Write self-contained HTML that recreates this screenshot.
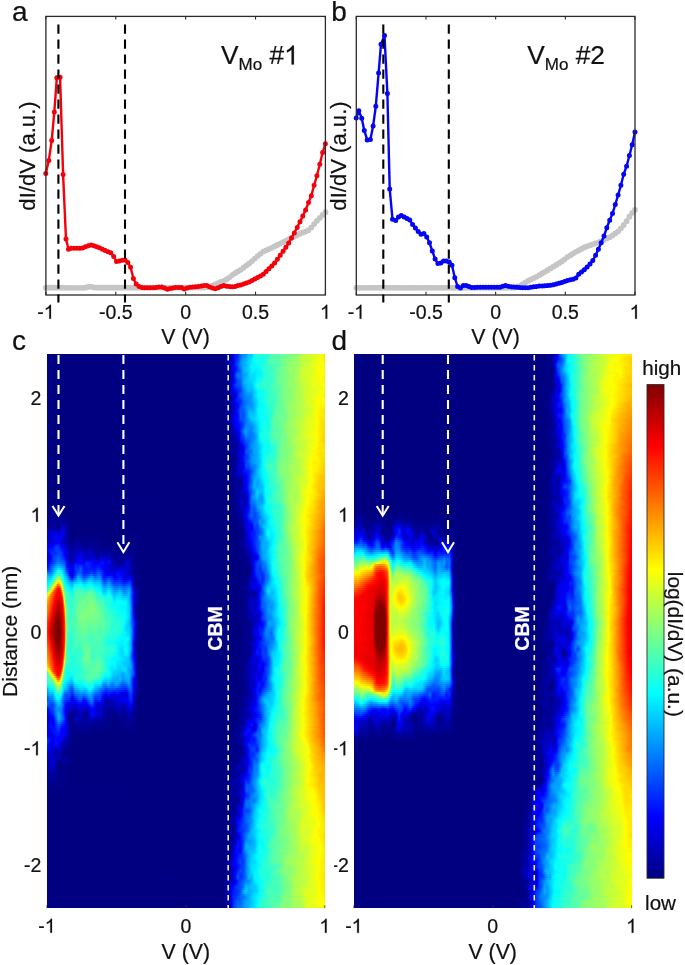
<!DOCTYPE html><html><head><meta charset="utf-8"><title>figure</title><style>html,body{margin:0;padding:0;background:#fff}body{position:relative;width:685px;height:965px;overflow:hidden}svg{display:block;position:absolute;left:0;top:0;will-change:transform}.hm{position:absolute;overflow:hidden;filter:blur(.45px)}.hm i{display:block;height:2px}</style></head><body><div class="hm" style="left:47px;top:354px;width:278px;height:554px"><i style="background:linear-gradient(90deg,#000080,#000080 62.8%,#00008f 63.8%,#00008f 65.3%,#0000b0 66%,#0000eb 66.7%,#0002ff 67.1%,#001dff 67.8%,#0016ff 68.5%,#006cff 69.6%,#007dff 70%,#008fff 70.7%,#0090ff 71.4%,#00c6ff 72.5%,#00c9ff 73.6%,#00f4ff 74.3%,#18ffe7 75%,#25ffda 76.4%,#14ffeb 77.5%,#25ffda 79.7%,#53ffac 80.8%,#57ffa8 81.1%,#54ffab 83.3%,#73ff8c 85.4%,#7bff84 87.6%,#8dff72 88.7%,#85ff7a 89.7%,#bcff43 91.9%,#ebff14 97.7%,#f8ff07 98.4%,#ffe800)"></i><i style="background:linear-gradient(90deg,#000080,#000080 62.8%,#009 65.3%,#0000bd 66.4%,#0000f0 67.1%,#000dff 67.4%,#001dff 67.8%,#02f 68.5%,#0083ff 70%,#009eff 71.4%,#00cbff 72.5%,#00d2ff 73.6%,#00faff 74.3%,#1affe5 75.4%,#16ffe9 77.5%,#1effe1 78.6%,#57ffa8 81.1%,#53ffac 83.3%,#76ff89 85.4%,#8fff70 89.7%,#bfff40 91.9%,#d4ff2b 95.1%,#f9ff06 98.4%,#ffe900)"></i><i style="background:linear-gradient(90deg,#000080,#000080 62.8%,#00009a 64.9%,#0000ac 65.6%,#0000ac 66.4%,#0000b9 66.7%,#0000df 67.1%,#0006ff 67.4%,#001eff 67.8%,#0030ff 68.5%,#008bff 70%,#00edff 73.9%,#01fffe 74.3%,#17ffe8 75%,#12ffed 76.1%,#20ffdf 78.6%,#43ffbc 79.7%,#5bffa4 81.5%,#5fa 83.6%,#78ff87 85.4%,#a2ff5d 90.5%,#c3ff3c 91.9%,#c7ff38 93.7%,#faff05 98.4%,#ffea00)"></i><i style="background:linear-gradient(90deg,#000080,#000080 62.8%,#0000ae 65.6%,#0000ab 66.4%,#0000b7 66.7%,#00d 67.1%,#0004ff 67.4%,#001eff 67.8%,#0039ff 68.5%,#0091ff 70%,#00f3ff 73.9%,#02fffd 74.3%,#12ffed 75%,#0efff1 76.4%,#21ffde 78.6%,#47ffb8 79.7%,#5affa5 81.5%,#52ffad 83.3%,#78ff87 85.4%,#a4ff5b 90.5%,#c5ff3a 91.9%,#c6ff39 93.7%,#fdff02 98.7%,#ffed00)"></i><i style="background:linear-gradient(90deg,#000080,#000080 62.8%,#0000a8 65.6%,#0000bd 66.4%,#0000eb 67.1%,#0009ff 67.4%,#003eff 68.5%,#0071ff 69.2%,#0096ff 70%,#00feff 74.3%,#23ffdc 78.6%,#40ffbf 79.7%,#54ffab 81.5%,#4dffb2 82.9%,#71ff8e 84.7%,#a3ff5c 90.5%,#c8ff37 92.3%,#c7ff38 93.7%,#dbff24 94.8%,#feff01 99.1%,#fff100)"></i><i style="background:linear-gradient(90deg,#000080,#000080 62.8%,#0000a2 65.6%,#0000fa 67.1%,#0041ff 68.5%,#0076ff 69.2%,#009aff 70%,#0bf 71.8%,#00faff 73.6%,#00fdff 75.7%,#23ffdc 77.5%,#25ffda 78.6%,#4effb1 81.5%,#4cffb3 82.9%,#70ff8f 84.4%,#76ff89 85.8%,#90ff6f 86.9%,#91ff6e 88.7%,#a2ff5d 90.5%,#d0ff2f 92.6%,#c9ff36 93.7%,#e0ff1f 94.8%,#faff05 99.1%,#fff600)"></i><i style="background:linear-gradient(90deg,#000080,#000080 62.8%,#000097 65.6%,#0000e8 66.7%,#0000f7 67.1%,#0014ff 67.8%,#007eff 69.6%,#00adff 70.7%,#00bfff 71.8%,#00faff 73.6%,#00f5ff 75%,#00fdff 76.1%,#28ffd7 77.9%,#4fffb0 82.6%,#7f8 84.7%,#78ff87 85.8%,#92ff6d 86.9%,#98ff67 89.7%,#cf3 92.3%,#cf3 93.7%,#f8ff07 97.7%,#fff800)"></i><i style="background:linear-gradient(90deg,#000080,#000081 64.9%,#00008d 65.6%,#0000e5 66.7%,#0000f9 67.4%,#0008ff 67.8%,#00afff 70.7%,#00cfff 72.5%,#00f9ff 73.6%,#00f0ff 75%,#00faff 76.4%,#03fffc 76.8%,#27ffd8 77.9%,#3dffc2 81.1%,#73ff8c 84.4%,#7bff84 85.8%,#98ff67 87.2%,#96ff69 89.7%,#cbff34 91.9%,#deff21 95.9%,#fdff02 97.7%,#fff900)"></i><i style="background:linear-gradient(90deg,#000080,#000080 65.3%,#00009d 66%,#0000df 66.7%,#0000fa 67.4%,#0068ff 69.6%,#00afff 70.7%,#00ceff 72.5%,#00f7ff 73.6%,#00e9ff 74.6%,#00faff 76.8%,#24ffdb 77.9%,#40ffbf 81.5%,#61ff9e 82.9%,#7cff83 85.8%,#9bff64 87.6%,#97ff68 89.7%,#c9ff36 91.5%,#d8ff27 95.1%,#fffe00 97.7%,#fff900)"></i><i style="background:linear-gradient(90deg,#000080,#000080 64.6%,#00008c 65.6%,#00009c 66%,#0000f2 67.1%,#000dff 67.4%,#0057ff 68.5%,#006fff 69.6%,#00a9ff 70.7%,#00b1ff 71.8%,#00efff 73.6%,#00e2ff 74.6%,#00f5ff 75.7%,#00f7ff 76.8%,#24ffdb 78.2%,#45ffba 81.5%,#76ff89 84.7%,#7bff84 85.8%,#97ff68 87.6%,#9cff63 89.7%,#cf3 91.9%,#d9ff26 94.8%,#feff01 97.7%,#fff600)"></i><i style="background:linear-gradient(90deg,#000080,#000080 63.1%,#000091 65.6%,#0000b1 66.4%,#0000f6 67.1%,#0072ff 68.5%,#0076ff 69.6%,#00a3ff 70.7%,#00a4ff 71.8%,#00cdff 72.5%,#00e3ff 73.2%,#00daff 74.6%,#00f7ff 75.7%,#00f5ff 76.8%,#02fffd 77.2%,#28ffd7 78.6%,#2bffd4 79.7%,#43ffbc 80.8%,#53ffac 82.9%,#75ff8a 84.7%,#a1ff5e 89.7%,#d4ff2b 92.6%,#ff0 99.1%,#fff300)"></i><i style="background:linear-gradient(90deg,#000080,#000080 63.1%,#000085 64.6%,#000098 65.6%,#0000b2 66.4%,#0000ef 67.1%,#0014ff 67.4%,#0067ff 68.5%,#006fff 69.6%,#00a3ff 70.7%,#00aeff 71.8%,#00ceff 72.5%,#00dfff 73.2%,#00daff 74.6%,#00faff 75.7%,#00fcff 76.8%,#31ffce 78.6%,#2effd1 80%,#7f8 84.7%,#7eff81 86.5%,#d2ff2d 92.6%,#fcff03 98.7%,#fff100)"></i><i style="background:linear-gradient(90deg,#000080,#000080 63.8%,#00008b 64.9%,#0000a8 66%,#0000c9 66.7%,#0000e6 67.1%,#0006ff 67.4%,#0053ff 68.5%,#0063ff 69.6%,#00a5ff 70.7%,#00b0ff 71%,#00daff 73.2%,#0df 74.6%,#00feff 75.7%,#06fff9 76.8%,#3bffc4 78.6%,#2bffd4 79.7%,#2effd1 80.8%,#6dff92 83.6%,#7aff85 86.2%,#96ff69 87.6%,#96ff69 88.7%,#c8ff37 91.9%,#feff01 98.7%,#fff000)"></i><i style="background:linear-gradient(90deg,#000080,#000080 64.2%,#0000ab 66%,#0000e7 67.1%,#0003ff 67.4%,#0047ff 68.5%,#005bff 69.6%,#00a6ff 70.7%,#00c0ff 71.4%,#00e1ff 74.6%,#00faff 75.4%,#10ffef 76.8%,#3fffc0 78.6%,#2bffd4 79.7%,#2cffd3 80.8%,#71ff8e 83.6%,#7f8 85.8%,#97ff68 87.6%,#95ff6a 88.7%,#caff35 92.3%,#ff0 98.7%,#fff200)"></i><i style="background:linear-gradient(90deg,#000080,#000080 64.2%,#008 64.9%,#00a 66%,#0000f9 67.1%,#0049ff 68.5%,#0057ff 69.6%,#00a6ff 70.7%,#00b1ff 71%,#00cfff 73.6%,#00f7ff 75%,#14ffeb 75.7%,#1bffe4 76.8%,#37ffc8 77.9%,#2fffd0 80%,#6dff92 83.6%,#76ff89 85.4%,#94ff6b 87.6%,#98ff67 89%,#c6ff39 91.9%,#ebff14 95.9%,#fff900)"></i><i style="background:linear-gradient(90deg,#000080,#000080 64.2%,#009 65.6%,#00a 66%,#0000ed 66.7%,#000cff 67.1%,#0026ff 67.4%,#04f 68.2%,#0054ff 69.6%,#00a3ff 70.7%,#00c3ff 72.5%,#00c6ff 73.6%,#0ef 74.6%,#01fffe 75%,#21ffde 75.7%,#24ffdb 76.8%,#37ffc8 77.5%,#2dffd2 79.7%,#51ffae 81.5%,#6bff94 84.7%,#8dff72 86.9%,#9dff62 89.7%,#c0ff3f 91.5%,#d9ff26 94.8%,#f1ff0e 95.9%,#ebff14 97.3%,#fdff02 98.7%,#ff0)"></i><i style="background:linear-gradient(90deg,#000080,#000080 63.5%,#000084 64.6%,#009 65.6%,#0000ab 66%,#0000f4 66.7%,#000cff 67.1%,#0036ff 68.2%,#004bff 69.6%,#0096ff 70.7%,#00a2ff 71%,#00c3ff 72.5%,#00bfff 73.6%,#00f8ff 75%,#18ffe7 75.7%,#2dffd2 77.5%,#2fffd0 79.7%,#50ffaf 81.5%,#52ffad 82.6%,#80ff7f 85.8%,#9fff60 89.7%,#b8ff47 91.2%,#ecff13 95.9%,#e7ff18 97.3%,#fffd00)"></i><i style="background:linear-gradient(90deg,#000080,#000080 63.1%,#009 65.6%,#0000ab 66%,#0000f2 66.7%,#0001ff 67.1%,#0040ff 69.6%,#0082ff 70.7%,#00c3ff 72.5%,#00baff 73.6%,#00d7ff 74.6%,#00f7ff 75.4%,#05fffa 75.7%,#4bffb4 81.5%,#50ffaf 82.9%,#7fff80 85.4%,#84ff7b 86.9%,#d4ff2b 93.7%,#e0ff1f 96.9%,#fff800)"></i><i style="background:linear-gradient(90deg,#000080,#000080 63.1%,#00009a 65.6%,#0000a9 66%,#0000e6 66.7%,#0000f8 67.8%,#003dff 69.6%,#0086ff 71%,#00bcff 72.5%,#00b2ff 73.6%,#00b9ff 73.9%,#00f6ff 75.7%,#01fffe 76.1%,#10ffef 77.9%,#34ffcb 79.7%,#4dffb2 82.9%,#7eff81 85.1%,#80ff7f 86.9%,#d4ff2b 93.7%,#dfff20 96.9%,#fbff04 99.1%,#fff400)"></i><i style="background:linear-gradient(90deg,#000080,#000080 63.1%,#0000a3 66%,#0000c6 66.7%,#0000d3 67.4%,#0000fc 68.2%,#004bff 69.6%,#0092ff 71.4%,#00a8ff 72.5%,#00a5ff 73.6%,#0ff 76.1%,#0dfff2 77.9%,#2fd 78.6%,#3dffc2 80.8%,#4effb1 82.9%,#79ff86 84.7%,#81ff7e 86.9%,#a9ff56 89.7%,#b0ff4f 91.2%,#d7ff28 93.7%,#e4ff1b 96.6%,#fffe00 99.1%,#fff000)"></i><i style="background:linear-gradient(90deg,#000080,#000080 63.5%,#0000af 67.1%,#00b 67.4%,#0000f4 68.2%,#0015ff 68.5%,#0058ff 69.6%,#0095ff 71.8%,#09f 73.6%,#00d5ff 74.6%,#00f4ff 75.7%,#01fffe 76.1%,#0efff1 76.8%,#0dfff2 77.9%,#21ffde 78.6%,#3dffc2 80.8%,#3fffc0 81.8%,#7f8 84.7%,#94ff6b 88.7%,#af5 89.7%,#a7ff58 90.8%,#d9ff26 93.7%,#ff0 98.7%,#fe0)"></i><i style="background:linear-gradient(90deg,#000080,#000080 63.5%,#0000a2 66.7%,#0000c7 67.4%,#0000fe 68.2%,#003eff 69.2%,#007cff 71%,#09f 73.6%,#00cfff 74.6%,#00fcff 76.1%,#0efff1 77.9%,#35ffca 80%,#3cffc3 81.8%,#76ff89 84.7%,#90ff6f 88.3%,#a7ff58 89.7%,#a9ff56 90.8%,#df2 93.7%,#d9ff26 94.8%,#feff01 98%,#fff400)"></i><i style="background:linear-gradient(90deg,#000080,#000080 63.5%,#00009f 66.4%,#0000a9 66.7%,#0000fc 67.8%,#0020ff 68.5%,#0037ff 69.6%,#006cff 70.7%,#009eff 73.6%,#00f7ff 76.1%,#14ffeb 78.2%,#3bffc4 79.7%,#37ffc8 81.5%,#74ff8b 84.7%,#c1ff3e 92.6%,#e0ff1f 93.7%,#d7ff28 94.8%,#feff01 97.7%,#fffe00)"></i><i style="background:linear-gradient(90deg,#000080,#000080 63.5%,#0000a1 66.4%,#0000b0 66.7%,#0000f2 67.4%,#000aff 67.8%,#001dff 68.5%,#0027ff 69.6%,#0067ff 70.7%,#0075ff 71.8%,#00baff 74.6%,#00feff 76.4%,#17ffe8 78.6%,#40ffbf 79.7%,#36ffc9 81.5%,#68ff97 84%,#8f7 86.5%,#bfff40 92.6%,#e1ff1e 93.7%,#d6ff29 94.8%,#ff0 97.7%,#fbff04)"></i><i style="background:linear-gradient(90deg,#000080,#000080 63.5%,#00009d 66%,#0000f9 68.2%,#0003ff 68.5%,#002cff 69.6%,#0062ff 70.7%,#009eff 73.9%,#00f9ff 76.4%,#06fff9 77.9%,#39ffc6 79.7%,#32ffcd 81.1%,#71ff8e 84.7%,#c3ff3c 92.6%,#daff25 93.7%,#dbff24 95.1%,#fffe00 97.7%,#fffb00)"></i><i style="background:linear-gradient(90deg,#000080,#000080 63.5%,#000097 65.6%,#0000c0 66.7%,#00e 68.5%,#0006ff 68.9%,#0049ff 70%,#0082ff 71.8%,#0093ff 72.5%,#008fff 73.6%,#00f7ff 76.4%,#00feff 77.9%,#2effd1 79.7%,#2dffd2 80.8%,#5bffa4 82.9%,#96ff69 87.6%,#aeff51 90.8%,#fffe00 97.7%,#fff000)"></i><i style="background:linear-gradient(90deg,#000080,#000080 63.5%,#0000a1 66%,#0000c0 66.7%,#0000d8 67.8%,#0000f3 68.5%,#000dff 68.9%,#0043ff 69.6%,#0093ff 72.1%,#009eff 72.8%,#0093ff 73.6%,#00f1ff 76.1%,#00feff 76.8%,#00fbff 77.5%,#1dffe2 79%,#2fffd0 80.8%,#58ffa7 82.6%,#62ff9d 84%,#9f6 87.6%,#b5ff4a 91.5%,#fcff03 97.3%,#ffe900)"></i><i style="background:linear-gradient(90deg,#000080,#000080 63.5%,#00a 66.4%,#0000f4 68.2%,#0007ff 68.5%,#004cff 69.6%,#005aff 70.7%,#00a7ff 72.5%,#00a2ff 73.9%,#00b8ff 74.6%,#00edff 75.7%,#0ff 76.4%,#20ffdf 79.7%,#59ffa6 82.6%,#5fffa0 84%,#9f6 87.6%,#b8ff47 91.9%,#e3ff1c 95.9%,#ff0 97.3%,#ffe300)"></i><i style="background:linear-gradient(90deg,#000080,#000080 63.5%,#0000a8 66.4%,#0001ff 68.2%,#0053ff 69.6%,#0054ff 70.7%,#0070ff 71.4%,#00afff 72.5%,#00b5ff 72.8%,#00a9ff 73.6%,#00b1ff 74.3%,#00fdff 76.1%,#1bffe4 79.7%,#59ffa6 82.6%,#6f9 84.7%,#9f6 87.6%,#b8ff47 91.9%,#e2ff1d 95.9%,#faff05 96.9%,#ffdf00)"></i><i style="background:linear-gradient(90deg,#000080,#000080 63.5%,#0000ad 66.4%,#0000f6 68.2%,#0007ff 68.5%,#05f 69.6%,#004fff 70.7%,#005aff 71%,#00b0ff 72.5%,#0bf 72.8%,#00c2ff 74.6%,#00f9ff 76.1%,#18ffe7 79.7%,#5cffa3 82.6%,#6eff91 85.4%,#96ff69 87.6%,#b4ff4b 91.5%,#d4ff2b 93.7%,#e0ff1f 95.5%,#feff01 96.9%,#ffe100)"></i><i style="background:linear-gradient(90deg,#000080,#000080 63.5%,#0000a8 66%,#0000d4 67.1%,#0000f7 68.5%,#0015ff 68.9%,#0056ff 69.6%,#004bff 70.7%,#05f 71%,#00bfff 72.8%,#00c9ff 74.6%,#00fdff 76.4%,#17ffe8 79.7%,#4dffb2 81.5%,#70ff8f 83.6%,#6fff90 85.8%,#8eff71 86.9%,#b3ff4c 91.5%,#d1ff2e 93%,#deff21 95.1%,#fffc00 96.9%,#ffe300)"></i><i style="background:linear-gradient(90deg,#000080,#000080 63.5%,#0000a0 65.6%,#0000b7 66.4%,#0000df 67.1%,#0000f9 68.5%,#0014ff 68.9%,#0054ff 69.6%,#004eff 70.7%,#0058ff 71%,#00abff 72.5%,#00c6ff 73.2%,#00cfff 74.6%,#0ff 76.8%,#16ffe9 79.7%,#52ffad 81.5%,#70ff8f 83.6%,#7f8 84.7%,#6fff90 85.8%,#8fff70 86.9%,#9aff65 88.7%,#adff52 89.7%,#b5ff4a 91.5%,#d3ff2c 93%,#e4ff1b 95.5%,#fffc00 96.9%,#ffe300)"></i><i style="background:linear-gradient(90deg,#000080,#000080 63.5%,#00009d 65.6%,#0000b8 66.4%,#0000e6 67.1%,#0000fe 68.5%,#004aff 69.6%,#0053ff 70.7%,#00c6ff 73.6%,#00fbff 76.8%,#12ffed 79.3%,#5dffa2 81.8%,#75ff8a 84.7%,#71ff8e 85.8%,#96ff69 87.2%,#bcff43 91.9%,#dfff20 93.7%,#e5ff1a 95.5%,#fffe00 96.9%,#ffe600 98.7%,#ffe100)"></i><i style="background:linear-gradient(90deg,#000080,#000080 63.8%,#000098 65.6%,#0000b5 66.4%,#0000e5 67.1%,#0000f3 67.4%,#0000fe 68.5%,#0039ff 69.6%,#0053ff 70.7%,#00b6ff 73.6%,#0ff 77.2%,#16ffe9 79.3%,#39ffc6 80.8%,#5fffa0 81.8%,#5fffa0 83.6%,#74ff8b 84.7%,#76ff89 85.8%,#9eff61 87.6%,#a8ff57 89.4%,#c2ff3d 90.8%,#c0ff3f 91.9%,#e1ff1e 93.7%,#e5ff1a 95.5%,#feff01 97.3%,#ffe200 98.7%,#ffdf00)"></i><i style="background:linear-gradient(90deg,#000080,#000080 63.8%,#000095 65.6%,#0000ae 66.4%,#0000f4 67.4%,#00f 68.5%,#004bff 70.7%,#0083ff 71.8%,#00a1ff 73.6%,#00f9ff 76.8%,#0ffff0 77.5%,#18ffe7 79.7%,#61ff9e 81.8%,#5fffa0 83.3%,#c1ff3e 90.8%,#c3ff3c 91.9%,#e0ff1f 93.7%,#e9ff16 95.9%,#ff0 97.3%,#ffe300 98.7%,#ffda00)"></i><i style="background:linear-gradient(90deg,#000080,#000080 63.8%,#00009a 66%,#0000b9 66.7%,#0000f3 67.4%,#00f 68.5%,#000dff 69.2%,#03f 70.3%,#0089ff 71.8%,#008cff 73.6%,#00aeff 74.6%,#0df 75.7%,#00faff 76.8%,#1affe5 77.9%,#1fe 79.7%,#5dffa2 81.5%,#62ff9d 81.8%,#5affa5 82.9%,#87ff78 85.8%,#c6ff39 91.9%,#dcff23 93%,#e8ff17 95.9%,#fcff03 96.9%,#ffd500)"></i><i style="background:linear-gradient(90deg,#000080,#000080 63.8%,#000098 66%,#0000b2 66.7%,#0000e6 67.4%,#0000fc 68.5%,#0009ff 69.2%,#0018ff 69.6%,#004cff 70.7%,#0084ff 71.4%,#008fff 71.8%,#0082ff 73.6%,#00faff 76.8%,#1effe1 77.9%,#10ffef 79.7%,#5bffa4 81.5%,#5affa5 82.9%,#8bff74 85.8%,#adff52 89.7%,#d8ff27 92.6%,#eaff15 95.9%,#fdff02 96.9%,#ffd400)"></i><i style="background:linear-gradient(90deg,#000080,#000080 63.8%,#000098 66%,#0000fe 68.9%,#001cff 69.6%,#0092ff 71.4%,#0082ff 73.6%,#00f9ff 76.8%,#1effe1 77.9%,#15ffea 79.7%,#43ffbc 80.8%,#5fa 81.5%,#6aff95 84.4%,#89ff76 85.8%,#abff54 89.7%,#d6ff29 92.6%,#edff12 95.9%,#ff0 96.9%,#ffd600)"></i><i style="background:linear-gradient(90deg,#000080,#000080 63.8%,#00008b 65.3%,#0000b9 67.4%,#0000fa 68.9%,#0008ff 69.2%,#008dff 71%,#009eff 71.4%,#007bff 73.2%,#00a6ff 74.6%,#00f9ff 76.8%,#21ffde 78.2%,#1affe5 79.7%,#48ffb7 80.8%,#4effb1 81.1%,#60ff9f 84%,#86ff79 85.8%,#a8ff57 89.7%,#d4ff2b 92.6%,#fffd00 96.9%,#ffd700)"></i><i style="background:linear-gradient(90deg,#000080,#000080 63.8%,#000089 65.3%,#0000a4 66.7%,#0000bf 67.8%,#0000fd 69.2%,#0098ff 71.4%,#0078ff 72.8%,#007bff 73.6%,#0098ff 74.6%,#00efff 76.4%,#03fffc 76.8%,#1effe1 77.9%,#1fffe0 79.7%,#4affb5 80.8%,#4fffb0 81.1%,#60ff9f 82.6%,#60ff9f 84%,#94ff6b 86.9%,#a9ff56 89.7%,#d5ff2a 92.6%,#fdff02 96.9%,#ffd300)"></i><i style="background:linear-gradient(90deg,#000080,#000080 64.2%,#0000a1 66.7%,#0000cd 68.5%,#0000f7 69.2%,#001cff 69.6%,#0052ff 70.7%,#008bff 71.4%,#0074ff 73.2%,#008bff 74.6%,#00bfff 75.7%,#00f5ff 76.4%,#1dffe2 77.5%,#19ffe6 79.3%,#48ffb7 80.8%,#6f9 82.6%,#61ff9e 84%,#7aff85 85.8%,#97ff68 86.9%,#af5 89.7%,#c1ff3e 90.8%,#eaff15 94.1%,#fffe00 97.3%,#ffd100)"></i><i style="background:linear-gradient(90deg,#000080,#000080 64.2%,#000096 66.4%,#0000b7 67.4%,#0000c1 68.5%,#0000f4 69.2%,#001bff 69.6%,#0041ff 70.7%,#0078ff 71.4%,#0073ff 73.2%,#0089ff 74.6%,#00bcff 75.7%,#00f3ff 76.4%,#09fff6 76.8%,#1bffe4 77.5%,#17ffe8 79.3%,#4fb 80.8%,#4fffb0 81.8%,#62ff9d 82.6%,#5effa1 83.6%,#71ff8e 84.7%,#76ff89 85.8%,#93ff6c 86.9%,#acff53 88.7%,#aeff51 89.7%,#e6ff19 93.7%,#ff0 97.3%,#ffdf00 98.7%,#ffd100)"></i><i style="background:linear-gradient(90deg,#000080,#000080 64.2%,#000095 66.7%,#0000b9 67.8%,#0000b5 68.5%,#00e 69.2%,#0016ff 69.6%,#0034ff 70.7%,#0063ff 71.4%,#0071ff 73.2%,#0092ff 74.6%,#00beff 75.7%,#00fcff 76.8%,#14ffeb 77.5%,#16ffe9 79.3%,#42ffbd 80.8%,#5dffa2 83.6%,#74ff8b 84.7%,#75ff8a 85.8%,#adff52 88.7%,#fdff02 97.3%,#fd0 98.7%,#ffd200)"></i><i style="background:linear-gradient(90deg,#000080,#000080 64.2%,#00008f 66.7%,#0000b4 67.8%,#00a 68.5%,#0000c0 68.9%,#0000e5 69.2%,#000eff 69.6%,#0028ff 70.7%,#004eff 71.4%,#006fff 73.2%,#00a7ff 75%,#00f0ff 76.8%,#01fffe 77.2%,#15ffea 78.2%,#18ffe7 79.7%,#3effc1 80.8%,#41ffbe 81.8%,#5cffa3 83.6%,#7f8 84.7%,#7eff81 86.5%,#b6ff49 89.4%,#b7ff48 90.8%,#d5ff2a 92.6%,#deff21 94.8%,#fcff03 97.3%,#ffdc00 98.7%,#ffd400)"></i><i style="background:linear-gradient(90deg,#000080,#000080 64.2%,#000092 66.7%,#00a 67.8%,#0000a3 68.5%,#0000b5 68.9%,#0000f4 69.6%,#000eff 70.3%,#003fff 71.4%,#0085ff 73.6%,#00bcff 75.7%,#00f6ff 77.2%,#16ffe9 78.6%,#0efff1 79.7%,#36ffc9 80.8%,#39ffc6 81.8%,#78ff87 84.7%,#79ff86 85.8%,#b9ff46 89.7%,#baff45 90.8%,#fbff04 96.9%,#ffe000 98.7%,#ffd700)"></i><i style="background:linear-gradient(90deg,#000080,#000080 64.6%,#00009f 67.4%,#00009d 68.5%,#0000fc 70.3%,#0091ff 73.6%,#00afff 75.4%,#0ff 77.9%,#14ffeb 78.6%,#05fffa 79.7%,#2cffd3 80.8%,#32ffcd 81.8%,#78ff87 84.7%,#7cff83 85.8%,#90ff6f 86.9%,#8fff70 87.9%,#b7ff48 89.7%,#c8ff37 92.6%,#deff21 93.7%,#fffe00 96.9%,#ffda00)"></i><i style="background:linear-gradient(90deg,#000080,#000080 28.6%,#000095 29.3%,#000080 30%,#000080 64.6%,#00009b 66.7%,#00009c 68.5%,#0000fc 70.7%,#003fff 71.8%,#0090ff 73.6%,#00b4ff 75.7%,#00fbff 77.9%,#1fe 78.6%,#01fffe 79.7%,#24ffdb 80.8%,#2cffd3 81.8%,#79ff86 84.7%,#7dff82 85.8%,#91ff6e 86.9%,#8aff75 87.9%,#baff45 90.1%,#c6ff39 92.6%,#df2 93.7%,#feff01 96.6%,#ffe800 98%,#ffde00)"></i><i style="background:linear-gradient(90deg,#000080,#000080 64.6%,#00009f 66.7%,#009 68.2%,#0000a1 68.5%,#0000db 69.6%,#0000ea 70.7%,#000dff 71%,#004cff 71.8%,#00a9ff 74.6%,#00b1ff 75.7%,#00feff 77.9%,#0dfff2 78.6%,#05fffa 79.7%,#1fffe0 80.8%,#27ffd8 81.8%,#6f9 83.6%,#74ff8b 84.4%,#8bff74 87.9%,#c5ff3a 90.8%,#c9ff36 92.6%,#ff0 96.2%,#ffe800 98%,#ffe100)"></i><i style="background:linear-gradient(90deg,#000080,#000080 64.6%,#000087 65.6%,#0000a3 66.7%,#00009e 68.2%,#0000e6 69.6%,#0000d7 70.3%,#0000de 70.7%,#000bff 71%,#003cff 71.4%,#005bff 71.8%,#0071ff 73.6%,#00abff 74.6%,#00afff 75.7%,#00faff 77.5%,#20ffdf 81.5%,#75ff8a 84%,#89ff76 87.6%,#c6ff39 90.8%,#c5ff3a 91.9%,#e2ff1d 94.8%,#fffd00 95.9%,#ffe200)"></i><i style="background:linear-gradient(90deg,#000080,#000080 64.6%,#00009a 66.7%,#00009a 67.8%,#0000e1 69.6%,#0000ec 70.7%,#01f 71%,#0039ff 71.4%,#0052ff 71.8%,#0078ff 73.6%,#00a6ff 74.6%,#00afff 75.7%,#00f7ff 77.5%,#28ffd7 80.8%,#25ffda 81.8%,#6eff91 83.6%,#73ff8c 84%,#8dff72 87.6%,#c1ff3e 90.5%,#e3ff1c 94.4%,#fffe00 95.9%,#ffe200 98.7%,#ffe300)"></i><i style="background:linear-gradient(90deg,#000080,#000080 64.9%,#000090 67.4%,#0001ff 70.7%,#0043ff 71.8%,#0050ff 72.5%,#0086ff 73.6%,#00afff 75.7%,#00feff 77.9%,#31ffce 80.8%,#24ffdb 81.8%,#6cff93 83.6%,#8f7 86.9%,#bdff42 90.1%,#d2ff2d 92.6%,#feff01 95.9%,#ffe100 98.7%,#ffe300)"></i><i style="background:linear-gradient(90deg,#000080,#000080 64.9%,#00008d 67.4%,#0000c6 68.9%,#0000d4 69.6%,#0000f9 70.3%,#002fff 71.4%,#004cff 72.5%,#008fff 73.6%,#00b0ff 75.7%,#00feff 77.9%,#15ffea 78.6%,#32ffcd 80.4%,#27ffd8 81.8%,#6bff94 83.6%,#6dff92 84.7%,#baff45 89.7%,#d3ff2c 92.6%,#f8ff07 95.1%,#fff600 97.3%,#ffe000 98.7%,#ffe100)"></i><i style="background:linear-gradient(90deg,#000080,#000080 64.9%,#00008d 67.4%,#0000d4 69.6%,#0000f9 70.3%,#0032ff 71.4%,#0054ff 72.5%,#0090ff 73.6%,#00c1ff 76.4%,#00f2ff 77.5%,#03fffc 77.9%,#24ffdb 79%,#2fffd0 81.8%,#6eff91 83.6%,#72ff8d 84.7%,#87ff78 85.8%,#8aff75 86.9%,#c8ff37 91.9%,#fcff03 95.1%,#fff400 97.7%,#ffde00 98.7%,#ffd800)"></i><i style="background:linear-gradient(90deg,#000080,#000080 64.9%,#000093 67.8%,#0000f6 70.3%,#000bff 70.7%,#0036ff 71.4%,#0090ff 73.6%,#00beff 76.4%,#00f3ff 77.5%,#08fff7 77.9%,#2cffd3 79%,#2fffd0 81.5%,#71ff8e 83.6%,#c5ff3a 91.9%,#fffd00 95.1%,#fff400 95.9%,#fff500 97.7%,#ffd000)"></i><i style="background:linear-gradient(90deg,#000080,#000080 64.9%,#000097 67.8%,#0000fd 70.7%,#0049ff 71.8%,#0059ff 72.5%,#0087ff 73.6%,#00c0ff 76.4%,#00f1ff 77.5%,#08fff7 77.9%,#32ffcd 79%,#39ffc6 81.8%,#7f8 83.6%,#8dff72 86.9%,#c1ff3e 91.5%,#fffd00 95.1%,#fff200 95.9%,#fff200 97.7%,#ffcd00)"></i><i style="background:linear-gradient(90deg,#000080,#000080 65.3%,#000094 67.4%,#0000d4 69.2%,#00e 70.7%,#01f 71%,#0035ff 71.4%,#004bff 71.8%,#0050ff 72.5%,#007dff 73.6%,#0091ff 75%,#00efff 77.5%,#06fff9 77.9%,#2bffd4 78.6%,#3dffc2 79.3%,#49ffb6 80.8%,#36ffc9 81.5%,#39ffc6 81.8%,#7dff82 83.6%,#8bff74 86.5%,#a1ff5e 87.6%,#a0ff5f 88.7%,#c1ff3e 91.5%,#fffd00 95.1%,#fff200 95.9%,#fff200 97.3%,#fc0)"></i><i style="background:linear-gradient(90deg,#000080,#000080 65.3%,#00008f 67.1%,#00009f 67.8%,#0000cb 68.9%,#0000e7 70.7%,#000aff 71%,#002eff 71.4%,#04f 71.8%,#04f 72.5%,#0071ff 73.6%,#007fff 74.6%,#00efff 77.5%,#03fffc 77.9%,#3fc 79%,#4dffb2 80.4%,#3affc5 81.8%,#7eff81 83.6%,#8bff74 86.5%,#a6ff59 87.9%,#a0ff5f 88.7%,#c1ff3e 91.5%,#fffe00 95.1%,#fff300 95.9%,#fff400 96.9%,#ffcb00)"></i><i style="background:linear-gradient(90deg,#000080,#000080 65.3%,#000096 67.4%,#00009e 67.8%,#0000d4 68.9%,#0000d3 69.6%,#0000f7 70.7%,#002eff 71.8%,#003cff 72.8%,#0062ff 73.6%,#0090ff 75%,#00d3ff 76.4%,#0ff 77.9%,#2affd5 79%,#43ffbc 80.4%,#3dffc2 81.5%,#46ffb9 82.2%,#82ff7d 84%,#91ff6e 86.9%,#a3ff5c 87.6%,#beff41 91.5%,#feff01 94.8%,#fff200 96.9%,#ffc800)"></i><i style="background:linear-gradient(90deg,#000080,#000080 65.3%,#00009d 67.8%,#0000cf 68.5%,#0000da 68.9%,#00c 69.6%,#0000f4 70.3%,#0008ff 70.7%,#001eff 72.5%,#00d9ff 76.4%,#00fcff 77.9%,#1fffe0 79%,#38ffc7 80.4%,#4affb5 82.6%,#7bff84 83.6%,#81ff7e 84%,#bcff43 91.5%,#fffc00 94.8%,#ffef00 96.9%,#ffc600)"></i><i style="background:linear-gradient(90deg,#000080,#000080 65.3%,#00009e 67.8%,#00c 68.5%,#0000d4 68.9%,#0000bd 69.6%,#0001ff 70.7%,#001aff 72.5%,#008dff 74.6%,#00d7ff 76.4%,#00fcff 77.9%,#30ffcf 80%,#4cffb3 82.6%,#7bff84 84%,#bfff40 91.5%,#ff0 94.8%,#ffc600)"></i><i style="background:linear-gradient(90deg,#000080,#000080 65.6%,#000098 67.4%,#0000c5 68.5%,#0000c8 68.9%,#00a 69.6%,#0000ef 70.7%,#0000f9 71.4%,#0002ff 71.8%,#001cff 72.5%,#0075ff 73.9%,#0096ff 74.6%,#00fbff 77.9%,#05fffa 78.6%,#2cffd3 79.7%,#4affb5 82.2%,#80ff7f 84.7%,#89ff76 86.5%,#a5ff5a 87.9%,#c7ff38 91.9%,#f0ff0f 93.7%,#fffd00 95.1%,#ffc800 98.7%,#ffc600)"></i><i style="background:linear-gradient(90deg,#000080,#000080 65.6%,#00008a 66.7%,#0000b9 68.5%,#0000b8 68.9%,#00009b 69.6%,#0000e0 70.7%,#0000fa 71.8%,#001eff 72.5%,#0067ff 73.6%,#009eff 74.6%,#00c9ff 76.4%,#00f1ff 77.5%,#00feff 78.6%,#2cffd3 79.7%,#3cffc3 81.5%,#7aff85 84.7%,#82ff7d 86.2%,#a0ff5f 87.6%,#d0ff2f 92.3%,#f0ff0f 93.7%,#feff01 95.1%,#ffc800 98.4%,#ffc500)"></i><i style="background:linear-gradient(90deg,#000080,#000080 65.6%,#0000a2 68.5%,#000094 69.6%,#0000d9 70.7%,#0000f8 71.8%,#001fff 72.5%,#00a6ff 74.6%,#00b5ff 76.1%,#00f4ff 77.9%,#0ff 78.6%,#24ffdb 79.7%,#37ffc8 81.5%,#60ff9f 83.3%,#c9ff36 90.8%,#d3ff2c 92.6%,#ff0 95.1%,#fc0 98%,#ffc100)"></i><i style="background:linear-gradient(90deg,#000080,#000080 65.6%,#00009a 67.8%,#000086 69.2%,#000090 69.6%,#0000d4 70.7%,#0000f6 71.8%,#000cff 72.1%,#005eff 73.6%,#00aeff 74.6%,#00abff 76.1%,#00f7ff 78.2%,#01fffe 78.6%,#1cffe3 79.7%,#39ffc6 81.8%,#65ff9a 83.6%,#67ff98 84.7%,#97ff68 86.5%,#9eff61 87.9%,#d3ff2c 91.5%,#d4ff2b 93%,#fffd00 95.1%,#ffcb00 98%,#ffbd00)"></i><i style="background:linear-gradient(90deg,#000080,#000080 65.6%,#00009a 67.8%,#000087 69.2%,#000090 69.6%,#0000cf 70.7%,#0000f7 71.8%,#0064ff 73.6%,#00b3ff 74.6%,#00a2ff 75.7%,#00a8ff 76.1%,#00f2ff 78.2%,#01fffe 78.6%,#1bffe4 79.7%,#35ffca 81.8%,#5fffa0 83.6%,#67ff98 84.7%,#91ff6e 86.2%,#b1ff4e 89.4%,#d4ff2b 91.5%,#d8ff27 93%,#fdff02 94.8%,#ffca00 98%,#ffbd00)"></i><i style="background:linear-gradient(90deg,#000080,#000080 66%,#00009c 67.8%,#000090 69.6%,#0000f7 71.8%,#0010ff 72.1%,#00b6ff 74.6%,#00a2ff 75.7%,#00c9ff 77.5%,#00edff 78.2%,#01fffe 78.6%,#1effe1 79.7%,#2dffd2 81.5%,#5cffa3 84%,#8bff74 85.8%,#a7ff58 87.6%,#afff50 89.7%,#ceff31 91.2%,#e4ff1b 93.3%,#fbff04 94.4%,#fc0 97.7%,#ffbe00)"></i><i style="background:linear-gradient(90deg,#000080,#000080 66%,#00009b 67.8%,#000092 69.6%,#0000f4 71.8%,#0010ff 72.1%,#0060ff 73.2%,#00b4ff 74.6%,#00a7ff 75.7%,#00bdff 76.8%,#00c0ff 77.5%,#0ff 78.6%,#1effe1 79.7%,#27ffd8 81.1%,#4effb1 83.6%,#84ff7b 85.4%,#92ff6d 86.9%,#acff53 87.6%,#abff54 89.7%,#c6ff39 90.8%,#fffe00 94.4%,#ffca00 97.7%,#ffbe00)"></i><i style="background:linear-gradient(90deg,#000080,#000080 66%,#00009c 68.5%,#00009b 69.6%,#0000d3 70.7%,#0000d7 71.4%,#0000e8 71.8%,#0007ff 72.1%,#0040ff 72.8%,#00a4ff 74.6%,#00b9ff 75.4%,#00c1ff 77.5%,#0ff 78.6%,#14ffeb 79.3%,#2affd5 81.5%,#45ffba 82.6%,#50ffaf 83.6%,#83ff7c 85.4%,#93ff6c 86.9%,#a8ff57 87.6%,#aeff51 89.7%,#ff0 94.4%,#ffef00 95.9%,#ffc500 98%,#ffba00)"></i><i style="background:linear-gradient(90deg,#000080,#000080 66.4%,#0000a3 69.6%,#0000df 70.7%,#0000cf 71.4%,#0000db 71.8%,#0000fb 72.1%,#0038ff 72.8%,#0093ff 74.6%,#00c6ff 75.4%,#00cfff 75.7%,#00beff 76.8%,#00c2ff 77.5%,#0ff 78.6%,#2affd5 81.5%,#4cffb3 82.6%,#54ffab 83.6%,#89ff76 85.8%,#a5ff5a 87.6%,#a4ff5b 89%,#e9ff16 92.6%,#feff01 94.4%,#fff100 95.9%,#ffb800 98.7%,#ffb500)"></i><i style="background:linear-gradient(90deg,#000080,#000080 66.4%,#0000a8 69.6%,#0000d5 70.7%,#0000c7 71.4%,#0000d4 71.8%,#0000f2 72.1%,#0014ff 72.5%,#005fff 73.6%,#0091ff 74.6%,#00c9ff 75.4%,#00d3ff 75.7%,#00b5ff 77.2%,#0bf 77.5%,#00fdff 78.6%,#2effd1 81.5%,#4effb1 82.6%,#53ffac 83.6%,#a6ff59 87.6%,#a3ff5c 89%,#f0ff0f 93%,#fffe00 94.4%,#fff100 95.9%,#ffb600 98.7%,#ffae00)"></i><i style="background:linear-gradient(90deg,#000080,#000080 66.4%,#0000c0 71.4%,#0000eb 72.1%,#0008ff 72.5%,#006fff 73.6%,#0098ff 74.6%,#00c7ff 75.4%,#00cbff 75.7%,#00b1ff 76.4%,#00a7ff 77.2%,#00aeff 77.5%,#00faff 78.6%,#4dffb2 82.6%,#50ffaf 83.6%,#abff54 87.6%,#a3ff5c 89%,#bdff42 90.8%,#f6ff09 93.3%,#fe0 95.9%,#ffa600)"></i><i style="background:linear-gradient(90deg,#000080,#000080 66.4%,#008 67.4%,#0000af 69.6%,#0000af 71%,#0000b9 71.4%,#0000fe 72.5%,#007dff 73.6%,#0090ff 73.9%,#009eff 74.6%,#00c3ff 75.4%,#00c1ff 75.7%,#009dff 76.8%,#00a2ff 77.5%,#00f6ff 78.6%,#09fff6 79%,#42ffbd 81.8%,#4effb1 83.6%,#afff50 87.6%,#a3ff5c 88.7%,#b4ff4b 90.5%,#fffe00 93.7%,#ffeb00 95.9%,#ffa000)"></i><i style="background:linear-gradient(90deg,#000081,#000080 66.4%,#00008e 67.8%,#0000bd 70%,#0000af 71.4%,#0000c0 71.8%,#0000e0 72.1%,#0005ff 72.5%,#007aff 73.6%,#0089ff 73.9%,#0093ff 74.6%,#00b4ff 75.4%,#009dff 76.8%,#009fff 77.5%,#00efff 78.6%,#05fffa 79%,#1cffe3 79.7%,#27ffd8 80.8%,#40ffbf 81.8%,#4dffb2 83.6%,#aeff51 87.6%,#a7ff58 89%,#b3ff4c 90.1%,#fdff02 93.7%,#ffe700 95.9%,#ff9d00)"></i><i style="background:linear-gradient(90deg,#000084,#000080 66.7%,#009 68.5%,#0000d0 70.3%,#0000cb 70.7%,#0000a6 71.4%,#0000b4 71.8%,#00d 72.1%,#000cff 72.5%,#0075ff 73.6%,#0085ff 74.6%,#00a4ff 75.4%,#009fff 77.5%,#0ff 79%,#21ffde 79.7%,#4cffb3 83.6%,#a5ff5a 87.2%,#b0ff4f 89.7%,#f4ff0b 93%,#ff0 94.1%,#ffa800 98.7%,#ff9c00)"></i><i style="background:linear-gradient(90deg,#000085,#000080 66.7%,#000098 68.5%,#0000d1 70.3%,#0000ce 70.7%,#0000a7 71.4%,#0000b4 71.8%,#0000dc 72.1%,#000aff 72.5%,#05f 73.2%,#006eff 73.6%,#0076ff 74.6%,#00a1ff 75.7%,#00a8ff 77.5%,#0ff 79%,#1cffe3 79.7%,#4fb 83.6%,#a2ff5d 87.2%,#b4ff4b 89.7%,#f6ff09 93%,#fffd00 94.1%,#ffa600 98.7%,#ff9b00)"></i><i style="background:linear-gradient(90deg,#000084,#000080 66.7%,#000098 68.5%,#0000c6 70.3%,#0000b0 71.4%,#0000bf 71.8%,#00f 72.5%,#06f 73.6%,#0067ff 74.6%,#009fff 75.7%,#00b8ff 77.5%,#00f5ff 78.6%,#03fffc 79%,#25ffda 81.1%,#38ffc7 83.6%,#96ff69 86.9%,#c9ff36 90.8%,#feff01 93.3%,#ffe000 95.9%,#ffa600 98.7%,#ff9c00)"></i><i style="background:linear-gradient(90deg,#000081,#00008e 2.3%,#000080 7%,#000080 67.1%,#0000bc 70.3%,#0000ba 71.4%,#0000f7 72.5%,#005fff 73.6%,#0058ff 74.6%,#009cff 75.7%,#00b6ff 76.4%,#00c6ff 77.5%,#00feff 78.6%,#01fffe 79.7%,#1dffe2 80.8%,#2cffd3 83.6%,#81ff7e 86.2%,#acff53 88.3%,#cf3 90.8%,#fdff02 93%,#ffdf00 95.9%,#ffad00 98%,#ff9b00)"></i><i style="background:linear-gradient(90deg,#000081,#00008e 2.3%,#000080 7.4%,#000080 67.1%,#0000af 69.6%,#0000be 71%,#0000ef 72.1%,#0002ff 72.5%,#005eff 73.6%,#0054ff 74.6%,#009cff 76.1%,#00c2ff 77.5%,#00f8ff 78.6%,#00feff 79.7%,#2affd5 81.5%,#30ffcf 83.6%,#9dff62 87.6%,#ceff31 90.8%,#fffd00 93%,#ffe200 95.5%,#ffae00 98%,#ff9600)"></i><i style="background:linear-gradient(90deg,#000080,#00008e 3.1%,#000080 7.7%,#000080 67.1%,#00008d 68.2%,#0000b0 69.6%,#0000ba 70.7%,#00f 72.1%,#000fff 72.5%,#005eff 73.6%,#0050ff 74.6%,#009cff 76.4%,#0bf 77.5%,#00f0ff 78.6%,#00feff 79.7%,#3fc 81.5%,#35ffca 83.6%,#a3ff5c 87.9%,#deff21 91.5%,#feff01 92.6%,#ffde00 95.5%,#ff9000)"></i><i style="background:linear-gradient(90deg,#000080,#000090 3.1%,#00008d 5.9%,#000080 7.7%,#000080 67.1%,#0000b9 70.7%,#0000c7 71%,#0000f9 71.8%,#001cff 72.5%,#0060ff 73.6%,#0049ff 74.6%,#004fff 75%,#00e5ff 78.6%,#00fbff 79.7%,#3fc 81.5%,#3fc 83.3%,#3dffc2 84%,#9eff61 87.9%,#e1ff1e 91.5%,#fffe00 92.6%,#fff100 94.1%,#ff8d00)"></i><i style="background:linear-gradient(90deg,#000082,#000095 3.1%,#00008c 4.1%,#000091 5.6%,#000080 8.1%,#000080 67.4%,#0000ab 70.3%,#0000c6 71%,#0000fa 71.8%,#0056ff 73.2%,#0061ff 73.6%,#0042ff 74.6%,#0048ff 75%,#00c2ff 77.9%,#00fdff 80%,#2fffd0 81.8%,#3affc5 84%,#8f7 86.9%,#ff0 92.6%,#ff8b00)"></i><i style="background:linear-gradient(90deg,#000084,#00009a 3.1%,#00008d 4.1%,#000095 5.6%,#000080 8.1%,#000080 67.4%,#0000a4 70.3%,#0000c5 71%,#0000f9 71.8%,#0057ff 73.2%,#005fff 73.6%,#003dff 74.6%,#0043ff 75%,#0084ff 76.8%,#00bcff 77.9%,#00faff 80.4%,#26ffd9 81.8%,#38ffc7 84%,#84ff7b 86.5%,#97ff68 87.9%,#c8ff37 89.7%,#feff01 92.6%,#ff8900)"></i><i style="background:linear-gradient(90deg,#000087,#00009e 2.3%,#00008f 4.1%,#000097 5.9%,#000080 8.5%,#000080 67.4%,#00009f 70.3%,#00b 71%,#0000ed 71.8%,#0007ff 72.1%,#003eff 73.2%,#004fff 75.4%,#008fff 76.8%,#00feff 80.4%,#26ffd9 81.8%,#30ffcf 83.6%,#84ff7b 86.5%,#9aff65 87.9%,#d8ff27 90.5%,#fffe00 93%,#ff8300)"></i><i style="background:linear-gradient(90deg,#00008b,#00009f 2.3%,#00008e 3.8%,#00009d 5.9%,#000080 8.5%,#000080 67.8%,#0000a2 70.7%,#0000f5 72.1%,#0008ff 72.5%,#004cff 74.6%,#005bff 75.7%,#008fff 76.4%,#009cff 76.8%,#09f 77.5%,#00a2ff 77.9%,#00faff 80%,#26ffd9 81.8%,#30ffcf 83.6%,#64ff9b 85.1%,#abff54 88.7%,#e1ff1e 90.8%,#fdff02 93%,#ff7c00)"></i><i style="background:linear-gradient(90deg,#000093,#000090 1.3%,#00009d 2.3%,#00008b 4.1%,#0000a7 5.6%,#000080 8.8%,#000080 67.8%,#00009e 70.7%,#0000de 71.8%,#0000fa 72.5%,#000dff 73.6%,#004eff 74.6%,#0054ff 75.7%,#0090ff 76.4%,#009fff 76.8%,#0098ff 77.5%,#00a2ff 77.9%,#00f9ff 80%,#24ffdb 81.8%,#2fffd0 83.6%,#68ff97 85.1%,#d9ff26 90.5%,#fdff02 93%,#ffe400 94.8%,#ffc400 95.9%,#ffb300 97.3%,#f70)"></i><i style="background:linear-gradient(90deg,#0000a2,#00008c 1.3%,#00009a 3.1%,#000084 4.1%,#0000af 5.2%,#0000b2 5.6%,#000080 8.8%,#000080 67.8%,#00009d 70.7%,#0000e7 71.8%,#0000f6 72.5%,#0000f3 73.6%,#000aff 73.9%,#0048ff 74.6%,#0047ff 75.7%,#0094ff 76.8%,#00fbff 80.4%,#28ffd7 82.6%,#2dffd2 83.6%,#5cffa3 84.7%,#a8ff57 87.9%,#fbff04 92.6%,#ffe000 94.8%,#ff7300)"></i><i style="background:linear-gradient(90deg,#0000b5,#000089 1.3%,#00008a 2%,#0000a8 3.1%,#0000a2 3.4%,#000080 4.1%,#00b 5.2%,#0000be 5.6%,#000080 8.8%,#000080 67.8%,#00009c 70.7%,#0000ef 71.8%,#0000f2 72.5%,#0000de 73.6%,#0000f7 73.9%,#0041ff 74.6%,#003bff 75.7%,#0086ff 76.8%,#00bfff 77.9%,#00d5ff 78.6%,#00faff 80.8%,#29ffd6 82.6%,#2bffd4 83.6%,#59ffa6 84.7%,#c0ff3f 88.7%,#c7ff38 90.1%,#fffd00 92.6%,#ffa600 97.7%,#ff6f00)"></i><i style="background:linear-gradient(90deg,#0000c2,#00009c 1.3%,#00009b 2%,#0000b8 3.1%,#000095 4.1%,#0000cb 5.2%,#0000d0 5.6%,#0000c2 6.3%,#000098 7.4%,#000080 9.2%,#000080 68.2%,#000093 70.7%,#0000e4 71.8%,#00e 72.5%,#0000ec 73.6%,#0000fe 73.9%,#0032ff 74.6%,#003bff 75.7%,#00e0ff 79%,#00f2ff 79.7%,#00fcff 81.1%,#26ffd9 82.6%,#2affd5 83.6%,#57ffa8 84.7%,#b7ff48 88.3%,#c2ff3d 89.7%,#ff0 92.6%,#ffa200 97.7%,#ff6b00)"></i><i style="background:linear-gradient(90deg,#0000c8,#0000b7 1.6%,#0000cd 3.1%,#0000b6 4.1%,#0000d9 5.2%,#0000de 5.9%,#0000d2 6.3%,#0000a3 7%,#000080 9.2%,#000080 68.2%,#00008c 70.7%,#0000d7 71.8%,#0000fd 73.2%,#003eff 75.7%,#0064ff 76.8%,#0085ff 77.5%,#00f7ff 79.3%,#04fffb 79.7%,#00f2ff 80.8%,#00f8ff 81.1%,#01fffe 81.5%,#23ffdc 82.6%,#2bffd4 83.6%,#54ffab 84.7%,#adff52 87.9%,#c2ff3d 89.7%,#fbff04 92.6%,#ff6800)"></i><i style="background:linear-gradient(90deg,#0000c5,#0000cf 2%,#0000e1 3.1%,#0000d0 4.1%,#0000e8 5.9%,#0000db 6.3%,#0000a7 7%,#000098 7.4%,#000080 9.2%,#000080 68.2%,#00008a 70.7%,#00c 71.8%,#0000fb 72.8%,#0015ff 73.6%,#001bff 74.6%,#007cff 77.5%,#00fbff 79.3%,#0afff5 79.7%,#00efff 80.8%,#00fbff 81.5%,#2fd 82.6%,#38ffc7 84%,#a3ff5c 87.6%,#faff05 92.6%,#ff6700)"></i><i style="background:linear-gradient(90deg,#0000b9,#0000d5 1.3%,#0000df 2.3%,#0000f4 3.1%,#0000e0 4.1%,#0000eb 5.6%,#0000d6 6.3%,#000097 7.4%,#000080 9.2%,#000080 68.2%,#00008d 70.7%,#0000fd 72.8%,#0036ff 75.4%,#0080ff 76.8%,#08f 77.5%,#0097ff 77.9%,#00f3ff 79.3%,#02fffd 79.7%,#00eaff 80.8%,#00f7ff 81.5%,#2bffd4 82.9%,#53ffac 85.1%,#97ff68 87.2%,#fdff02 92.6%,#ff6800)"></i><i style="background:linear-gradient(90deg,#0000b0,#0000dc 1.3%,#0000e0 2%,#0005ff 3.1%,#0005ff 3.4%,#0000ec 4.1%,#0000f5 5.2%,#000096 7.4%,#000081 9.2%,#00008c 10.3%,#000080 20.7%,#000081 69.6%,#00009b 71%,#0000fd 72.8%,#0038ff 75.4%,#004aff 75.7%,#0089ff 76.4%,#009bff 76.8%,#0095ff 77.5%,#009dff 77.9%,#00f6ff 79.7%,#00e6ff 80.8%,#00f3ff 81.5%,#01fffe 81.8%,#2effd1 82.9%,#4fb 84.7%,#90ff6f 86.9%,#bdff42 89%,#d4ff2b 90.8%,#ff0 92.6%,#ff6900)"></i><i style="background:linear-gradient(90deg,#0000c5,#0000dc 2%,#0000fe 3.1%,#0001ff 3.4%,#0000e8 5.2%,#000093 7.7%,#000083 9.2%,#000092 10.3%,#000080 21%,#000080 68.2%,#000084 69.6%,#000095 70.7%,#0001ff 73.2%,#0039ff 75.4%,#0094ff 76.8%,#00a5ff 77.9%,#00e4ff 79.7%,#00e6ff 80.8%,#00f5ff 81.5%,#04fffb 81.8%,#37ffc8 83.3%,#52ffad 85.1%,#8bff74 86.9%,#fbff04 92.6%,#f60)"></i><i style="background:linear-gradient(90deg,#0000e3,#00c 1.3%,#0000f3 3.1%,#0000f5 4.1%,#0000b4 6.3%,#0000b2 7%,#000091 8.1%,#000086 9.2%,#000097 10.3%,#000086 14.2%,#000090 16.4%,#000081 21%,#008 29.7%,#000080 33.3%,#000080 68.2%,#009 70.7%,#0000f5 73.2%,#0005ff 73.6%,#003bff 75.4%,#00a5ff 77.5%,#00b4ff 78.6%,#00faff 81.5%,#38ffc7 83.3%,#5fffa0 85.4%,#c0ff3f 89.4%,#feff01 93%,#ffdf00 94.1%,#ff6200)"></i><i style="background:linear-gradient(90deg,#0000f8,#0000cd 1.3%,#0000fd 3.4%,#0001ff 4.1%,#0000b1 6.3%,#0000b8 7%,#000095 8.1%,#000089 9.2%,#00009d 10.3%,#008 14.2%,#000093 16.4%,#000082 21%,#00008a 29.7%,#000080 33.3%,#000080 68.2%,#00009b 70.7%,#0000dc 72.8%,#0000fe 73.6%,#0063ff 76.4%,#00acff 77.5%,#00b3ff 79%,#00feff 81.5%,#45ffba 83.6%,#74ff8b 86.5%,#c6ff39 89.7%,#e0ff1f 91.9%,#fbff04 93%,#ffdf00 94.1%,#ff6000)"></i><i style="background:linear-gradient(90deg,#0000fd,#0000e3 1.3%,#0000f4 2.3%,#0006ff 2.7%,#001fff 3.4%,#001cff 4.1%,#000eff 4.5%,#0000f8 4.9%,#0000c0 6.3%,#0000b4 7.4%,#00008e 8.8%,#0000a1 10.3%,#00008e 14.2%,#000097 16.4%,#000085 21%,#00008c 30%,#000080 33.6%,#000080 68.9%,#0000a0 71%,#0000d6 72.8%,#0000fb 73.6%,#0063ff 76.4%,#00b1ff 77.5%,#00b2ff 79%,#00faff 81.1%,#03fffc 81.5%,#4dffb2 83.6%,#62ff9d 85.8%,#bf4 89.4%,#deff21 91.9%,#fcff03 93%,#ffda00 94.1%,#ff5e00)"></i><i style="background:linear-gradient(90deg,#00f,#0000fe 2%,#000aff 2.3%,#0034ff 3.1%,#003cff 3.4%,#0032ff 4.1%,#0000fb 5.2%,#000092 8.8%,#0000a9 10.3%,#000095 14.6%,#00009c 16.4%,#00008d 17.4%,#000085 27.2%,#00008f 30%,#000080 33.3%,#000080 68.9%,#009 71%,#0000bd 72.5%,#0000f4 73.6%,#000dff 74.3%,#0062ff 76.4%,#00afff 77.5%,#00b1ff 79%,#00f9ff 80.8%,#0afff5 81.5%,#54ffab 83.6%,#5fffa0 85.8%,#b2ff4d 89%,#dfff20 91.9%,#ff0 93%,#ffd400 94.1%,#fb0 95.9%,#ff9a00 96.9%,#ff5c00)"></i><i style="background:linear-gradient(90deg,#0001ff,#0013ff 2%,#0035ff 3.1%,#003cff 3.8%,#0031ff 4.5%,#0003ff 5.6%,#000095 8.8%,#00009d 9.5%,#0000b5 10.3%,#0000b2 12.1%,#00009c 13.8%,#0000ac 16%,#000090 17.4%,#008 27.2%,#000093 30.4%,#000080 33.3%,#000080 68.9%,#000091 70.7%,#0000b8 72.5%,#0000f8 73.9%,#0021ff 75%,#06f 76.4%,#00a9ff 77.5%,#00b4ff 79%,#00fbff 80.8%,#2affd5 82.6%,#5fa 83.6%,#5effa1 85.8%,#b7ff48 89.4%,#f5ff0a 92.6%,#fffb00 93%,#ffd300 94.1%,#ffb800 95.9%,#ff8e00 97.3%,#ff5900)"></i><i style="background:linear-gradient(90deg,#0000fd,#0026ff 2%,#003bff 4.1%,#0032ff 4.9%,#0005ff 5.9%,#00009e 8.5%,#00009a 8.8%,#0000b7 9.9%,#0000b7 11.3%,#0000cd 12.1%,#0000b1 13.1%,#00a 13.8%,#0000be 16%,#009 17.4%,#000092 18.5%,#009 22.1%,#008 29.3%,#000096 30.4%,#000083 31.8%,#000080 33.6%,#000080 68.9%,#0000a2 71.8%,#0000fa 74.3%,#0029ff 75.4%,#0094ff 77.2%,#00a2ff 77.5%,#00adff 78.6%,#00f9ff 80.8%,#26ffd9 82.6%,#53ffac 83.6%,#5cffa3 85.8%,#c7ff38 90.1%,#e3ff1c 91.9%,#faff05 92.6%,#ff8000 97.7%,#f50)"></i><i style="background:linear-gradient(90deg,#0000f1,#0000fc 0.5%,#0030ff 2%,#0028ff 3.1%,#0042ff 4.5%,#0036ff 5.2%,#00f 6.3%,#0000b0 8.1%,#0000a3 8.8%,#0000bf 9.9%,#0000c1 11.3%,#0000e7 12.1%,#0000e6 12.4%,#0000c2 13.1%,#00b 13.5%,#0000cb 16%,#0000a4 17.4%,#000095 18.5%,#0000a1 19.2%,#009 21.4%,#0000a7 22.1%,#000094 23.6%,#000086 29.3%,#000098 30.4%,#000086 31.5%,#000080 33.3%,#000080 68.5%,#00009c 71.8%,#0000d2 73.6%,#00f 74.6%,#002dff 75.7%,#006bff 76.4%,#0093ff 77.2%,#00afff 78.6%,#00f7ff 80.8%,#24ffdb 82.6%,#50ffaf 83.6%,#5cffa3 85.8%,#8bff74 87.9%,#d2ff2d 90.5%,#e7ff18 91.9%,#ff0 92.6%,#ff7a00 97.7%,#ff5200)"></i><i style="background:linear-gradient(90deg,#0000de,#0000fa 0.9%,#000bff 1.3%,#0037ff 2.3%,#03f 3.1%,#004eff 4.1%,#003cff 5.2%,#0004ff 6.3%,#0000e6 7%,#0000ae 8.1%,#0000a7 8.8%,#0000c2 9.9%,#0000d6 11.3%,#0000f4 12.1%,#0000f0 12.4%,#0000c6 13.1%,#0000bf 13.5%,#00b 15.3%,#0000cb 16.4%,#000097 18.2%,#000095 18.5%,#0000b1 19.2%,#0000a0 21%,#0000b4 22.1%,#000094 23.6%,#00008d 29.3%,#00009e 30.4%,#008 31.5%,#000080 33.3%,#000080 68.9%,#000093 71.8%,#0000c4 73.6%,#0000f2 74.6%,#0000fb 75.4%,#000bff 75.7%,#0079ff 76.8%,#00a1ff 77.5%,#00b1ff 78.6%,#00feff 81.1%,#4dffb2 83.6%,#5affa5 85.4%,#83ff7c 87.6%,#c2ff3d 89.7%,#fffd00 92.6%,#ffb000 95.9%,#ff7800 97.7%,#ff4e00)"></i><i style="background:linear-gradient(90deg,#00c,#00c 0.2%,#0001ff 1.3%,#0039ff 2.3%,#005cff 4.1%,#004fff 4.9%,#0000f8 6.7%,#0000ad 8.1%,#0000a5 8.5%,#00a 9.2%,#0000f5 12.1%,#0000be 13.5%,#0000c3 14.2%,#0000b0 15.3%,#0000ce 16.4%,#0000cd 16.7%,#0000bc 17.4%,#000096 18.2%,#000097 18.5%,#0000c7 19.2%,#0000c8 19.6%,#0000b4 21%,#0000c2 22.1%,#00009c 23.2%,#000092 23.9%,#00009c 25.4%,#000092 28.2%,#0000a6 30%,#00008a 31.5%,#000080 33.3%,#000080 68.9%,#00008c 71.8%,#0000b8 73.6%,#0000e6 74.6%,#0000e2 75.4%,#0000ed 75.7%,#0017ff 76.1%,#006dff 76.8%,#00a3ff 77.5%,#00b9ff 79%,#00faff 81.1%,#4affb5 83.6%,#74ff8b 86.9%,#c4ff3b 89.7%,#faff05 92.3%,#ffe000 94.1%,#f70 97.7%,#ff4b00)"></i><i style="background:linear-gradient(90deg,#00c,#00c 0.2%,#00f 1.3%,#003bff 2.3%,#0067ff 4.1%,#0041ff 5.6%,#0000f6 7%,#0000b5 8.1%,#0000a9 8.8%,#0000e4 10.6%,#0000f5 12.1%,#0000d1 13.1%,#0000e0 14.2%,#00c 15.3%,#0000dc 16.7%,#0000ce 17.4%,#0000ac 18.2%,#0000af 18.5%,#0000e0 19.2%,#0000e5 19.6%,#0000ca 21%,#0000e0 22.1%,#0000a7 23.2%,#009 23.9%,#0000a2 25.4%,#000096 27.2%,#00a 29.7%,#00008d 31.1%,#000080 33.3%,#000080 68.9%,#000096 72.5%,#0000ec 74.6%,#0000fc 75.7%,#0063ff 76.8%,#0095ff 77.5%,#00b2ff 79%,#0ff 81.1%,#4cffb3 83.6%,#73ff8c 86.9%,#c4ff3b 89.7%,#fbff04 92.3%,#ffcf00 94.8%,#ff6a00 98%,#ff4700)"></i><i style="background:linear-gradient(90deg,#0000dc,#0009ff 1.3%,#003fff 2.3%,#0073ff 4.1%,#004cff 5.9%,#003cff 6.3%,#0008ff 7%,#0000ef 7.4%,#0000c1 8.1%,#0000b1 8.8%,#0000b6 9.2%,#0000eb 10.3%,#0000f5 11%,#0000f5 12.1%,#0000e3 13.1%,#0000fa 13.8%,#0009ff 14.2%,#0000fe 14.9%,#0000e9 17.1%,#0000cd 18.2%,#0000d0 18.5%,#0000f8 19.2%,#0000fe 19.6%,#0000fb 20.3%,#0000da 21%,#0000da 21.4%,#0001ff 22.1%,#0000f7 22.5%,#0000b7 23.2%,#0000a2 23.9%,#000091 27.2%,#0000c1 29%,#0000bf 29.3%,#00008a 30.8%,#000080 33.3%,#000080 68.9%,#000092 72.5%,#00009a 72.8%,#0000ca 73.6%,#0000fb 74.6%,#0025ff 75.7%,#007fff 77.5%,#00b4ff 79.3%,#00f7ff 80.8%,#1fffe0 81.8%,#24ffdb 82.6%,#4cffb3 83.6%,#72ff8d 86.9%,#9bff64 88.7%,#c4ff3b 89.7%,#d4ff2b 90.8%,#fbff04 92.3%,#ffcd00 94.8%,#f60 98%,#f40)"></i><i style="background:linear-gradient(90deg,#0000f1,#000aff 0.9%,#0059ff 2.7%,#0087ff 4.1%,#0059ff 6.3%,#0015ff 7%,#0000f8 7.4%,#0000cf 8.1%,#00b 8.8%,#0000bf 9.2%,#0001ff 10.3%,#0002ff 12.1%,#0000f2 13.1%,#0000fd 13.5%,#0024ff 14.2%,#0026ff 14.6%,#0000fe 16.7%,#0000eb 18.2%,#00f 18.9%,#000bff 19.2%,#000eff 20.3%,#0000fb 20.7%,#0000e2 21%,#00d 21.4%,#0000f5 21.8%,#000dff 22.1%,#0007ff 22.5%,#0000c2 23.2%,#0000b1 23.6%,#00008e 27.2%,#000098 27.5%,#0000d3 28.6%,#0000d7 29%,#0000be 29.7%,#000087 30.4%,#000082 30.8%,#00008b 31.8%,#000080 33.6%,#000080 68.9%,#000086 70.7%,#000097 71.8%,#00008d 72.5%,#000094 72.8%,#0000d1 73.6%,#0000f9 74.3%,#0046ff 75.7%,#0050ff 76.8%,#009bff 79%,#00f8ff 80.8%,#25ffda 81.8%,#1effe1 82.6%,#27ffd8 82.9%,#50ffaf 84%,#6bff94 86.5%,#96ff69 88.7%,#c3ff3c 89.7%,#d3ff2c 90.8%,#f9ff06 92.3%,#ffd900 93.7%,#ffc900 94.8%,#ff6500 98%,#ff4300)"></i><i style="background:linear-gradient(90deg,#0000f9,#0009ff 0.5%,#0058ff 2%,#00a5ff 4.1%,#0073ff 6.3%,#0016ff 7%,#0000f7 7.4%,#0000cf 8.8%,#0000d1 9.2%,#0008ff 9.9%,#001bff 10.3%,#0017ff 11.3%,#0023ff 12.1%,#0001ff 13.1%,#0027ff 14.6%,#00f 17.1%,#0010ff 19.2%,#0001ff 20.3%,#0000e0 21.4%,#0000fa 22.1%,#0000f2 22.5%,#0000c0 23.2%,#0000b5 23.6%,#0000a4 25.4%,#0000a3 27.2%,#0000d7 28.6%,#0000d9 29%,#0000c6 29.7%,#00008f 30.4%,#000087 30.8%,#00008e 31.5%,#000080 33.6%,#000080 69.2%,#00008d 71.8%,#000080 72.5%,#000083 72.8%,#0000f5 74.3%,#000dff 74.6%,#003aff 75.4%,#0046ff 75.7%,#04f 76.8%,#07f 77.9%,#0082ff 78.6%,#00efff 80.8%,#06fff9 81.1%,#24ffdb 81.8%,#2fd 82.6%,#48ffb7 84%,#6cff93 86.5%,#97ff68 88.7%,#c1ff3e 89.7%,#fffc00 92.6%,#ff6800 98%,#ff4300)"></i><i style="background:linear-gradient(90deg,#0004ff,#0015ff 0.5%,#0074ff 2%,#00c5ff 4.1%,#008bff 6.3%,#0019ff 7%,#0000fb 7.4%,#0000fe 8.1%,#0000e5 8.8%,#0000e5 9.2%,#00f 9.5%,#0032ff 10.3%,#002cff 11.3%,#04f 12.1%,#003eff 12.4%,#000fff 13.1%,#000bff 13.5%,#0026ff 14.9%,#0006ff 16.7%,#001eff 18.5%,#0007ff 19.6%,#0000e5 21%,#0000ea 22.1%,#0000b8 23.6%,#0000bd 24.3%,#0000af 25.4%,#0000c7 26.4%,#0000c2 27.5%,#0000d9 29.3%,#00008f 30.8%,#000093 31.5%,#000080 33.6%,#000080 69.2%,#008 71%,#000080 72.8%,#000089 73.2%,#0000ef 74.3%,#000eff 74.6%,#0039ff 75.4%,#0041ff 75.7%,#03f 76.4%,#0039ff 76.8%,#006aff 77.5%,#0076ff 77.9%,#0078ff 78.6%,#00feff 81.1%,#2fd 81.8%,#31ffce 83.3%,#53ffac 84.7%,#6dff92 86.5%,#fffe00 92.6%,#ffd800 93.7%,#ff5600 98.7%,#f40)"></i><i style="background:linear-gradient(90deg,#001dff,#003bff 0.9%,#0098ff 2.3%,#00e8ff 4.1%,#00dbff 4.9%,#009aff 6.3%,#002bff 7%,#0010ff 7.4%,#0000f6 8.5%,#0000eb 9.2%,#0005ff 9.5%,#03f 10.3%,#003cff 11.3%,#0053ff 12.1%,#004cff 12.4%,#0018ff 13.1%,#01f 13.5%,#0023ff 14.9%,#0010ff 17.1%,#03f 18.5%,#0023ff 19.2%,#0003ff 20%,#0000e4 21%,#0000e4 22.1%,#0000c0 23.9%,#0000d9 26.1%,#0000d0 28.2%,#0000d7 29.3%,#00c 29.7%,#00008d 30.8%,#000094 31.5%,#000080 33.6%,#000080 69.2%,#008 70.7%,#000080 72.8%,#000086 73.2%,#0000ed 74.3%,#000cff 74.6%,#0039ff 75.4%,#003fff 75.7%,#002fff 76.4%,#0032ff 76.8%,#0069ff 77.9%,#0073ff 78.6%,#00fcff 81.1%,#1cffe3 81.8%,#35ffca 83.6%,#5fa 84.7%,#8bff74 87.9%,#fffc00 92.6%,#ffd600 93.7%,#f50 98.7%,#f40)"></i><i style="background:linear-gradient(90deg,#0047ff,#005bff 1.3%,#01fffe 3.8%,#0cfff3 4.1%,#0ff 4.9%,#00a5ff 6.3%,#004aff 7%,#002eff 7.4%,#0003ff 8.1%,#0000ed 8.5%,#0000e3 8.8%,#0000e8 9.2%,#00f 9.5%,#0035ff 10.6%,#0058ff 12.1%,#004fff 12.4%,#001fff 13.1%,#0017ff 13.5%,#0029ff 16%,#001bff 17.1%,#0048ff 18.5%,#0036ff 19.2%,#0007ff 20.3%,#0000f6 20.7%,#0000e2 21.4%,#0000e4 22.1%,#0000c8 24.3%,#0000f1 25.4%,#0000f1 25.7%,#0000d0 28.2%,#0000d1 29.3%,#0000c7 29.7%,#000086 30.8%,#000092 31.5%,#000080 34%,#000080 69.2%,#008 70.7%,#000080 72.8%,#00008e 73.2%,#0000ed 74.3%,#000aff 74.6%,#0038ff 75.4%,#003eff 75.7%,#0030ff 76.8%,#0043ff 77.5%,#008eff 79.3%,#00fcff 81.1%,#60ff9f 85.1%,#81ff7e 87.6%,#cdff32 90.8%,#fdff02 92.3%,#ff5400 98.7%,#f40)"></i><i style="background:linear-gradient(90deg,#0078ff,#0075ff 1.3%,#0080ff 1.6%,#0ef 3.1%,#0afff5 3.4%,#2effd1 4.1%,#20ffdf 4.9%,#0dfff2 5.2%,#00ecff 5.6%,#00b2ff 6.3%,#0006ff 8.1%,#0000e8 8.5%,#0000df 8.8%,#0000e5 9.2%,#0000fb 9.5%,#004eff 11%,#0060ff 11.7%,#0052ff 12.4%,#0027ff 13.1%,#001fff 13.5%,#0028ff 15.3%,#0041ff 16%,#0029ff 17.1%,#005dff 18.5%,#004bff 19.2%,#0001ff 20.7%,#0000e6 21.4%,#0000ed 23.2%,#0000d3 24.3%,#0001ff 25%,#0012ff 25.4%,#00f 26.1%,#0000ea 27.5%,#0000d1 28.2%,#0000c5 29.7%,#000083 30.8%,#000092 31.8%,#000080 33.6%,#000080 69.2%,#008 72.8%,#000097 73.2%,#0000ec 74.3%,#0007ff 74.6%,#0036ff 75.4%,#003cff 75.7%,#002eff 77.5%,#006cff 78.6%,#0097ff 79.7%,#0ef 80.8%,#00fcff 81.1%,#35ffca 83.6%,#6aff95 85.4%,#72ff8d 86.9%,#bdff42 90.5%,#ff0 92.3%,#ffd200 93.7%,#ff8900 96.9%,#ff5400 98.7%,#f40)"></i><i style="background:linear-gradient(90deg,#00a4ff,#09f 1.3%,#00a3ff 1.6%,#00f6ff 2.7%,#47ffb8 3.8%,#54ffab 4.1%,#3affc5 4.9%,#03fffc 5.6%,#0072ff 7.4%,#001dff 8.1%,#0000f7 8.5%,#0000e7 8.8%,#0000e8 9.2%,#0001ff 9.5%,#0072ff 11%,#0082ff 11.3%,#0071ff 12.1%,#0034ff 13.1%,#002eff 13.5%,#006bff 16%,#0048ff 17.1%,#004aff 17.4%,#0071ff 18.5%,#0071ff 18.9%,#0065ff 19.2%,#0017ff 20.3%,#0000fb 21%,#0008ff 23.2%,#0000fd 23.6%,#0000e2 24.3%,#0003ff 25%,#000fff 25.7%,#0000fd 26.8%,#0000ed 27.5%,#0000cb 28.2%,#0000d4 29.7%,#0000c9 30%,#000094 30.8%,#000089 31.1%,#000096 31.8%,#000080 33.6%,#000080 69.6%,#000090 72.8%,#00009b 73.2%,#0000e9 74.3%,#0002ff 74.6%,#002eff 75.4%,#0038ff 76.1%,#0038ff 76.8%,#0023ff 77.5%,#0030ff 77.9%,#0062ff 78.6%,#08f 79.7%,#00e0ff 80.8%,#00feff 81.5%,#2dffd2 83.6%,#54ffab 84.7%,#75ff8a 86.9%,#c1ff3e 90.5%,#fdff02 92.3%,#ffcf00 93.7%,#ff4200)"></i><i style="background:linear-gradient(90deg,#00c1ff,#00baff 1.3%,#00c3ff 1.6%,#02fffd 2.3%,#34ffcb 3.1%,#7bff84 3.8%,#8bff74 4.1%,#7aff85 4.5%,#18ffe7 5.6%,#00f7ff 5.9%,#00c1ff 6.7%,#09f 7.4%,#0019ff 8.5%,#0000fe 8.8%,#0000fa 9.2%,#0018ff 9.5%,#009aff 11%,#00acff 11.3%,#004eff 13.1%,#0051ff 13.8%,#09f 16%,#0092ff 16.4%,#006eff 17.1%,#006aff 17.4%,#0087ff 18.9%,#007eff 19.2%,#001cff 20.3%,#0013ff 20.7%,#002dff 22.1%,#0026ff 23.2%,#0002ff 23.9%,#0000f3 24.3%,#0003ff 25%,#0015ff 26.1%,#0002ff 27.2%,#0000cb 28.2%,#0000cb 28.6%,#0000ec 29.7%,#0000e7 30%,#000096 31.1%,#00009b 31.8%,#000080 33.6%,#000080 69.2%,#000097 72.8%,#0000a1 73.2%,#0000f7 74.6%,#003fff 76.4%,#003fff 76.8%,#001eff 77.5%,#0029ff 77.9%,#005eff 78.6%,#0081ff 79.7%,#00d2ff 80.8%,#00fdff 81.8%,#24ffdb 83.6%,#4fffb0 84.7%,#58ffa7 85.8%,#78ff87 86.9%,#b3ff4c 89.7%,#faff05 92.3%,#ffcf00 93.7%,#ff9400 96.6%,#ff3e00)"></i><i style="background:linear-gradient(90deg,#00d0ff,#00dfff 1.6%,#00fcff 2%,#39ffc6 2.7%,#b4ff4b 3.8%,#c4ff3b 4.1%,#b3ff4c 4.5%,#58ffa7 5.2%,#0dfff2 5.9%,#00ebff 6.3%,#00b5ff 7.4%,#004bff 8.5%,#0031ff 8.8%,#002cff 9.2%,#006bff 9.9%,#00b6ff 11%,#00c4ff 11.3%,#00aeff 12.1%,#0074ff 13.1%,#0071ff 13.5%,#00b0ff 15.3%,#00baff 16%,#0090ff 17.1%,#008cff 17.4%,#009cff 18.9%,#0094ff 19.2%,#002eff 20.3%,#002aff 21%,#0054ff 22.1%,#003cff 23.2%,#0009ff 24.3%,#02f 26.1%,#0021ff 26.4%,#0000fe 27.5%,#0000e0 28.2%,#0000e2 28.6%,#0000fc 29.3%,#0005ff 30%,#0000ec 30.4%,#00009f 31.1%,#000080 33.6%,#000080 70%,#0000a0 72.8%,#0000f7 75%,#0012ff 75.7%,#0039ff 76.4%,#003dff 76.8%,#001fff 77.5%,#002bff 77.9%,#0061ff 78.6%,#0086ff 79.7%,#00ceff 80.8%,#00f7ff 81.8%,#20ffdf 83.6%,#4affb5 84.7%,#54ffab 85.8%,#79ff86 86.9%,#af5 89.4%,#fffd00 92.6%,#ffd300 93.7%,#ffb800 95.1%,#ff3a00)"></i><i style="background:linear-gradient(90deg,#00dbff,#00fbff 1.6%,#3cffc3 2.3%,#ef1 3.8%,#ff0 4.1%,#edff12 4.5%,#c3ff3c 4.9%,#52ffad 5.6%,#00fcff 6.3%,#00e4ff 6.7%,#00caff 7.4%,#006eff 8.8%,#006dff 9.2%,#009eff 9.9%,#00d0ff 11.3%,#00d0ff 12.1%,#009dff 13.1%,#09f 13.5%,#00c9ff 14.9%,#00d4ff 15.6%,#00afff 17.1%,#00b4ff 18.9%,#00a9ff 19.2%,#004bff 20.3%,#0041ff 20.7%,#0041ff 21%,#07f 22.1%,#0070ff 22.5%,#0038ff 23.6%,#0021ff 24.3%,#0032ff 26.1%,#0014ff 27.2%,#0005ff 28.2%,#02f 29.7%,#001fff 30%,#0003ff 30.4%,#0000a2 31.1%,#00008c 31.5%,#000092 32.2%,#000080 33.6%,#000080 70%,#00009a 72.5%,#0000d0 73.6%,#0000d1 74.6%,#0000f6 75.4%,#0004ff 75.7%,#002eff 76.4%,#0035ff 76.8%,#0025ff 77.5%,#03f 77.9%,#06f 78.6%,#0090ff 79.7%,#00d3ff 80.8%,#0ff 82.2%,#81ff7e 87.2%,#c1ff3e 90.5%,#ff0 92.6%,#ffd800 93.7%,#ffbc00 95.1%,#ff6d00 97.7%,#ff3600)"></i><i style="background:linear-gradient(90deg,#00e8ff,#00f7ff 0.5%,#1fffe0 1.6%,#70ff8f 2.3%,#fffe00 3.4%,#ffd000 3.8%,#ffbd00 4.1%,#ffd300 4.5%,#fcff03 4.9%,#75ff8a 5.6%,#3cffc3 5.9%,#0efff1 6.3%,#00f5ff 6.7%,#00a3ff 8.8%,#00a6ff 9.2%,#00cdff 9.9%,#00d5ff 10.3%,#00f0ff 12.1%,#00eaff 12.4%,#00c4ff 13.1%,#00c0ff 13.5%,#00e9ff 14.9%,#0ef 15.6%,#00cdff 17.1%,#0cf 18.9%,#00beff 19.2%,#006bff 20.3%,#0060ff 20.7%,#005dff 21%,#0095ff 22.1%,#008eff 22.5%,#004aff 23.6%,#003dff 23.9%,#0046ff 26.1%,#001fff 27.5%,#003dff 29.7%,#0038ff 30%,#0019ff 30.4%,#0000df 30.8%,#0000a7 31.1%,#000089 31.5%,#00008d 32.2%,#000080 33.6%,#000080 69.6%,#008 71.8%,#00009b 72.5%,#0000df 73.6%,#0000de 73.9%,#0000c3 74.6%,#0000f7 75.7%,#002bff 76.8%,#002cff 77.5%,#006eff 78.6%,#00d8ff 80.8%,#00fcff 82.2%,#1cffe3 83.6%,#8bff74 87.6%,#bdff42 90.5%,#fdff02 92.6%,#ffb600 95.5%,#ff6b00 97.7%,#f30)"></i><i style="background:linear-gradient(90deg,#00f2ff,#06fff9 0.5%,#32ffcd 1.3%,#e1ff1e 2.7%,#ffeb00 3.1%,#ff8600 3.8%,#ff7400 4.1%,#ff8e00 4.5%,#f1ff0e 5.2%,#53ffac 5.9%,#1cffe3 6.3%,#05fffa 6.7%,#00fcff 7%,#0bf 8.8%,#00c0ff 9.2%,#0ef 9.9%,#00f8ff 10.3%,#08fff7 12.4%,#00e6ff 13.5%,#0ff 14.9%,#03fffc 16%,#00e6ff 17.1%,#00dfff 18.9%,#00d2ff 19.2%,#008cff 20.3%,#007bff 21%,#0af 22.1%,#00a4ff 22.5%,#0067ff 23.6%,#0051ff 24.3%,#0060ff 26.1%,#003dff 27.5%,#005dff 29.7%,#0050ff 30%,#0000f2 30.8%,#0000b9 31.1%,#000097 31.5%,#000080 33.6%,#000080 69.6%,#000093 72.1%,#0000ad 72.8%,#0000e2 73.6%,#0000e5 73.9%,#0000d1 74.6%,#0000fc 76.1%,#0039ff 77.5%,#00a5ff 79.3%,#00d5ff 80.8%,#0ff 82.6%,#56ffa9 85.4%,#92ff6d 87.9%,#acff53 89.7%,#ff0 92.6%,#fc0 94.8%,#ff6b00 97.7%,#ff2e00)"></i><i style="background:linear-gradient(90deg,#00feff,#00feff 0.2%,#3affc5 0.9%,#f5ff0a 2.3%,#ffd500 2.7%,#ff3f00 3.8%,#ff3000 4.1%,#ff4a00 4.5%,#ff8400 4.9%,#ffd700 5.2%,#caff35 5.6%,#6bff94 5.9%,#2cffd3 6.3%,#13ffec 6.7%,#00f8ff 7.7%,#00cfff 8.8%,#00d6ff 9.2%,#0bfff4 9.9%,#19ffe6 10.3%,#23ffdc 12.1%,#06fff9 13.8%,#1cffe3 16%,#00fbff 17.1%,#00edff 18.9%,#00e4ff 19.2%,#00abff 20.3%,#0098ff 21%,#00beff 22.1%,#00b9ff 22.5%,#0069ff 24.3%,#007bff 26.1%,#005cff 27.5%,#007bff 29.3%,#0079ff 29.7%,#0065ff 30%,#003cff 30.4%,#0005ff 30.8%,#0000cd 31.1%,#0000a8 31.5%,#000096 31.8%,#000080 33.6%,#000080 69.6%,#00009d 72.5%,#0000ab 72.8%,#0000e2 73.6%,#0000ea 73.9%,#0000e4 75.4%,#0000f8 76.4%,#000aff 76.8%,#0064ff 77.9%,#00bdff 79.3%,#00c9ff 79.7%,#00e3ff 81.8%,#0ff 82.9%,#62ff9d 85.8%,#6dff92 86.9%,#94ff6b 87.9%,#a9ff56 89.7%,#f9ff06 92.3%,#fff200 93.7%,#ff6c00 97.7%,#ff2900)"></i><i style="background:linear-gradient(90deg,#16ffe9,#16ffe9 0.2%,#3effc1 0.5%,#fff700 2%,#ff2b00 3.4%,#ff1300 3.8%,#ff0c00 4.1%,#ff1700 4.5%,#ff4600 4.9%,#f9ff06 5.6%,#8fff70 5.9%,#41ffbe 6.3%,#26ffd9 6.7%,#1bffe4 7.4%,#00fbff 8.1%,#00e5ff 8.8%,#07fff8 9.5%,#32ffcd 10.3%,#3fc 12.1%,#1affe5 14.2%,#36ffc9 16%,#0afff5 17.4%,#00faff 18.9%,#00f4ff 19.2%,#00beff 20.3%,#00b0ff 21%,#00d7ff 22.1%,#00d2ff 22.5%,#0082ff 24.3%,#0085ff 25%,#009bff 26.1%,#09f 26.4%,#007bff 27.2%,#0074ff 27.9%,#0094ff 29.3%,#008fff 29.7%,#0078ff 30%,#0017ff 30.8%,#0000e3 31.1%,#0000bd 31.5%,#000093 32.2%,#000080 33.6%,#000080 69.6%,#00009c 72.5%,#0000d1 73.6%,#0000da 73.9%,#0000d9 75.7%,#0000f2 76.4%,#0008ff 76.8%,#0067ff 77.9%,#00caff 79.3%,#00d7ff 79.7%,#00ceff 81.1%,#00f8ff 82.9%,#63ff9c 85.8%,#6f9 86.5%,#93ff6c 87.9%,#adff52 89.7%,#ff0 92.6%,#fff700 93.7%,#ff6b00 97.7%,#ff2600)"></i><i style="background:linear-gradient(90deg,#4dffb2,#4dffb2 0.2%,#e1ff1e 1.3%,#ffe800 1.6%,#ff4d00 2.7%,#ff2b00 3.1%,#ff0400 3.8%,#fd0000 4.1%,#ff0200 4.5%,#ff1700 4.9%,#ff6200 5.2%,#ffd400 5.6%,#b7ff48 5.9%,#5bffa4 6.3%,#3dffc2 6.7%,#3fc 7.4%,#0ff 8.5%,#00f7ff 8.8%,#00feff 9.2%,#34ffcb 9.9%,#4fb 10.3%,#4fb 11.3%,#2bffd4 14.2%,#52ffad 15.3%,#53ffac 15.6%,#47ffb8 16.4%,#07fff8 18.2%,#03fffc 18.5%,#07fff8 19.2%,#00c5ff 20.3%,#00c1ff 20.7%,#00c3ff 21%,#00f0ff 22.1%,#00ecff 22.5%,#00b1ff 23.6%,#009bff 24.3%,#009eff 25%,#00beff 26.1%,#00bdff 26.4%,#0092ff 27.2%,#0084ff 27.9%,#0085ff 28.2%,#00a7ff 29.3%,#00a1ff 29.7%,#0087ff 30%,#0000fa 31.1%,#00009b 32.2%,#00008d 32.6%,#000080 33.6%,#000080 69.2%,#000083 70.3%,#00009a 72.5%,#0000b2 73.6%,#0000be 75.4%,#0000ca 75.7%,#0000fa 76.4%,#0040ff 77.5%,#00cdff 79.3%,#00dcff 79.7%,#00c4ff 81.1%,#00d0ff 81.8%,#00f4ff 82.9%,#05fffa 83.3%,#63ff9c 85.8%,#72ff8d 86.9%,#ebff14 91.9%,#fffc00 93.3%,#ffeb00 94.1%,#ff5c00 98%,#ff2400)"></i><i style="background:linear-gradient(90deg,#90ff6f,#90ff6f 0.2%,#f4ff0b 0.9%,#ffd400 1.3%,#ff7300 2%,#ff5100 2.3%,#ff1e00 3.1%,#f90000 3.8%,#f30000 4.1%,#ff0300 4.9%,#ff3000 5.2%,#ff9f00 5.6%,#e0ff1f 5.9%,#75ff8a 6.3%,#51ffae 6.7%,#46ffb9 7.4%,#0dfff2 8.5%,#04fffb 8.8%,#0afff5 9.2%,#3fffc0 9.9%,#4cffb3 10.3%,#50ffaf 11.3%,#3effc1 14.2%,#6bff94 15.3%,#50ffaf 16.7%,#18ffe7 18.2%,#1cffe3 19.2%,#05fffa 19.6%,#00e5ff 20%,#00ceff 20.3%,#0cf 20.7%,#00d2ff 21%,#00f5ff 21.8%,#0ff 22.5%,#00c0ff 23.6%,#00b3ff 24.3%,#00bcff 25.4%,#00d8ff 26.1%,#00d8ff 26.4%,#00a5ff 27.2%,#0093ff 27.9%,#0094ff 28.2%,#00b6ff 29.3%,#00aeff 29.7%,#008fff 30%,#0009ff 31.1%,#0000e8 31.5%,#0000a3 32.2%,#00008e 32.6%,#000080 33.6%,#000080 70%,#000097 72.1%,#00009d 74.6%,#0000af 75.4%,#0000e6 76.1%,#000aff 76.4%,#0024ff 76.8%,#05f 77.9%,#0085ff 78.6%,#00c4ff 79.3%,#00d5ff 79.7%,#00baff 80.8%,#00bfff 81.5%,#03fffc 83.3%,#5effa1 85.8%,#83ff7c 87.6%,#afff50 89%,#fcff03 93%,#fff500 93.7%,#ff6500 97.7%,#ff2300)"></i><i style="background:linear-gradient(90deg,#df2,#df2 0.2%,#fff400 0.5%,#ff9100 1.3%,#ff5a00 2%,#ff0100 3.4%,#f10000 3.8%,#eb0000 4.1%,#f70000 4.9%,#ff1400 5.2%,#ff7000 5.6%,#fff600 5.9%,#8fff70 6.3%,#56ffa9 6.7%,#3fc 8.1%,#15ffea 8.8%,#15ffea 9.2%,#42ffbd 9.9%,#4dffb2 10.3%,#58ffa7 14.2%,#6dff92 15.3%,#58ffa7 17.1%,#26ffd9 18.5%,#2dffd2 19.2%,#06fff9 20%,#00f4ff 20.3%,#00ecff 21%,#00f7ff 21.4%,#19ffe6 22.1%,#14ffeb 22.5%,#0ff 22.8%,#00d4ff 23.6%,#00c0ff 24.3%,#00e2ff 26.1%,#00dfff 26.4%,#00adff 27.5%,#00beff 29.3%,#00afff 29.7%,#008bff 30%,#0000fd 31.1%,#000093 32.6%,#000080 33.6%,#000080 70%,#0000a7 73.2%,#009 74.6%,#0000ba 75.4%,#0000f0 76.1%,#000dff 76.4%,#00c1ff 79.7%,#00bdff 81.1%,#00f0ff 82.9%,#02fffd 83.3%,#4cffb3 85.4%,#a1ff5e 88.7%,#fcff03 93%,#fff200 93.7%,#ff6300 97.7%,#ff2000)"></i><i style="background:linear-gradient(90deg,#ffdb00,#ffdb00 0.2%,#ff7a00 1.3%,#ff0a00 3.1%,#e30000 4.1%,#ef0000 4.9%,#ff0400 5.2%,#ff4600 5.6%,#ffce00 5.9%,#abff54 6.3%,#57ffa8 6.7%,#42ffbd 7%,#3effc1 8.1%,#1fffe0 9.2%,#4dffb2 10.3%,#6cff93 15.3%,#5effa1 16.4%,#61ff9e 17.1%,#5affa5 17.4%,#35ffca 18.2%,#31ffce 19.6%,#07fff8 21%,#2bffd4 22.1%,#26ffd9 22.5%,#00fdff 23.2%,#00caff 24.3%,#00e8ff 25.4%,#00ebff 26.1%,#00c9ff 27.2%,#00cdff 28.6%,#00c1ff 29.3%,#00acff 29.7%,#0085ff 30%,#001bff 30.8%,#00e 31.1%,#000097 32.6%,#000080 33.6%,#000080 69.6%,#00009a 72.1%,#0000bd 73.6%,#009 74.6%,#0000fa 76.1%,#000dff 76.4%,#006cff 77.9%,#00a1ff 79.3%,#00dfff 82.6%,#0ff 83.3%,#1fffe0 84%,#72ff8d 86.9%,#fdff02 93%,#fff000 93.7%,#ff6100 97.7%,#ff1d00)"></i><i style="background:linear-gradient(90deg,#ffbf00,#ffbf00 0.2%,#ff6f00 1.3%,#ff0100 3.1%,#df0000 3.8%,#db0000 4.1%,#f70000 5.2%,#ff2300 5.6%,#ffa300 5.9%,#c9ff36 6.3%,#5dffa2 6.7%,#40ffbf 7%,#3bffc4 7.4%,#3effc1 8.1%,#26ffd9 9.2%,#4dffb2 10.3%,#51ffae 11.3%,#67ff98 12.4%,#63ff9c 13.1%,#6fff90 14.6%,#67ff98 17.1%,#38ffc7 18.5%,#36ffc9 20.3%,#1affe5 21%,#2effd1 22.1%,#2bffd4 22.5%,#00f7ff 23.6%,#00d7ff 24.3%,#00faff 25.4%,#00faff 25.7%,#0df 27.2%,#00e1ff 28.6%,#00d6ff 29%,#00afff 29.7%,#08f 30%,#001aff 30.8%,#0000e8 31.1%,#0000cb 31.5%,#009 32.6%,#000080 33.6%,#000080 69.6%,#0000a1 72.5%,#00c 73.6%,#0000c4 73.9%,#00009f 74.6%,#0000ae 75%,#0000e8 75.7%,#0000f9 76.1%,#000aff 76.4%,#005fff 77.5%,#006fff 77.9%,#00deff 82.6%,#00fbff 83.3%,#0cfff3 83.6%,#3fc 84.7%,#47ffb8 85.8%,#72ff8d 86.9%,#feff01 93%,#ffef00 93.7%,#ff5f00 97.7%,#ff1a00)"></i><i style="background:linear-gradient(90deg,#ffad00,#ffad00 0.2%,#ff9800 0.5%,#ff0b00 2.7%,#f60000 3.1%,#d80000 3.8%,#d30000 4.1%,#e00 5.2%,#ff1200 5.6%,#ff7d00 5.9%,#e9ff16 6.3%,#6aff95 6.7%,#47ffb8 7%,#2dffd2 8.5%,#2affd5 9.2%,#4dffb2 10.3%,#69ff96 12.4%,#73ff8c 16%,#6bff94 17.1%,#48ffb7 18.5%,#3effc1 20.3%,#1cffe3 21.4%,#25ffda 22.5%,#03fffc 23.6%,#00f1ff 23.9%,#00e7ff 24.3%,#00feff 25%,#08fff7 25.4%,#03fffc 26.1%,#0ef 28.6%,#00b9ff 29.7%,#0095ff 30%,#0026ff 30.8%,#0000ef 31.1%,#0000cd 31.5%,#000096 32.6%,#000080 33.6%,#000080 69.6%,#00009f 72.5%,#0000d7 73.6%,#0000d3 73.9%,#0000ac 74.6%,#0000b1 75%,#0002ff 76.4%,#005aff 77.5%,#0068ff 77.9%,#00b8ff 81.5%,#01fffe 83.6%,#35ffca 84.7%,#43ffbc 85.8%,#73ff8c 86.9%,#bcff43 90.5%,#ef1 91.9%,#feff01 93%,#fff000 93.7%,#ff5e00 97.7%,#ff1700)"></i><i style="background:linear-gradient(90deg,#ff9d00,#ff8b00 0.5%,#ff0100 2.7%,#dc0000 3.4%,#c00 4.1%,#e70000 5.2%,#ff0500 5.6%,#ff5800 5.9%,#fff300 6.3%,#80ff7f 6.7%,#50ffaf 7%,#24ffdb 8.5%,#4effb1 10.3%,#7f8 13.1%,#71ff8e 14.6%,#7eff81 16.4%,#47ffb8 19.2%,#41ffbe 20.3%,#18ffe7 21.4%,#1fffe0 22.5%,#00fdff 23.9%,#0cfff3 25.4%,#0ff 28.2%,#00f6ff 28.6%,#00c3ff 29.7%,#00a1ff 30%,#0000f6 31.1%,#0000d0 31.5%,#000093 32.6%,#000080 33.6%,#000080 69.6%,#00009e 72.5%,#00a 72.8%,#0000df 73.6%,#0000e0 73.9%,#0000b8 74.6%,#0000b6 75.4%,#0000fa 76.4%,#0056ff 77.5%,#006aff 78.6%,#008eff 79.7%,#0af 81.5%,#00d8ff 82.6%,#00f7ff 83.6%,#0cfff3 84%,#36ffc9 84.7%,#3fffc0 85.8%,#73ff8c 86.9%,#baff45 90.5%,#f3ff0c 91.9%,#feff01 93%,#fff100 93.7%,#ff9a00 95.9%,#ff1400)"></i><i style="background:linear-gradient(90deg,#ff9500,#ff8200 0.5%,#ff0b00 2.3%,#f60000 2.7%,#c60000 3.8%,#c20000 4.1%,#d20000 4.9%,#f80000 5.6%,#ff3600 5.9%,#ffd200 6.3%,#98ff67 6.7%,#59ffa6 7%,#26ffd9 8.5%,#2fffd0 9.2%,#54ffab 10.3%,#7f8 13.1%,#74ff8b 14.2%,#85ff7a 16.4%,#4fffb0 19.2%,#45ffba 20.3%,#21ffde 21.4%,#25ffda 22.1%,#01fffe 24.3%,#0bfff4 25.4%,#00feff 26.4%,#00feff 28.2%,#00c5ff 29.7%,#00a6ff 30%,#0000f8 31.1%,#00c 31.5%,#000098 32.2%,#000080 33.6%,#000080 70%,#00009e 72.5%,#00a 72.8%,#0000df 73.6%,#00d 73.9%,#0000af 74.6%,#0000b1 75%,#0000bd 75.4%,#0000ed 76.1%,#0003ff 76.4%,#005aff 77.5%,#0069ff 78.6%,#0092ff 79.7%,#0096ff 80.8%,#00a6ff 81.5%,#00fbff 83.6%,#0dfff2 84%,#30ffcf 84.7%,#3bffc4 85.8%,#78ff87 87.2%,#b7ff48 90.5%,#f3ff0c 91.9%,#fffa00 93.3%,#ff1200)"></i><i style="background:linear-gradient(90deg,#ff8f00,#ff7a00 0.5%,#ff0100 2.3%,#ca0000 3.4%,#b70000 4.1%,#ca0000 4.9%,#f00000 5.6%,#ff2100 5.9%,#ffb300 6.3%,#b1ff4e 6.7%,#62ff9d 7%,#4bffb4 7.4%,#29ffd6 8.5%,#30ffcf 9.2%,#5bffa4 10.3%,#89ff76 16.4%,#0efff1 23.6%,#00feff 26.1%,#00f4ff 27.2%,#00faff 28.2%,#00c6ff 29.7%,#00a8ff 30%,#0000f8 31.1%,#00009f 31.8%,#000089 32.2%,#000080 33.3%,#000080 70%,#00009f 72.5%,#00a 72.8%,#00d 73.6%,#0000d8 73.9%,#0000a4 74.6%,#0000ae 75%,#0000ea 75.7%,#0000fc 76.1%,#0025ff 76.8%,#005fff 77.5%,#0069ff 78.6%,#0098ff 79.7%,#0092ff 80.8%,#09f 81.1%,#03fffc 83.6%,#28ffd7 84.7%,#37ffc8 85.8%,#81ff7e 87.6%,#b5ff4a 90.5%,#f3ff0c 91.9%,#fffb00 93.3%,#ff0f00)"></i><i style="background:linear-gradient(90deg,#f80,#f80 0.2%,#ff0d00 2%,#f60000 2.3%,#b20000 3.8%,#ad0000 4.1%,#c20000 4.9%,#eb0000 5.6%,#ff1700 5.9%,#ff9800 6.3%,#c7ff38 6.7%,#6aff95 7%,#51ffae 7.4%,#2fffd0 8.5%,#32ffcd 9.2%,#5effa1 10.3%,#8aff75 16.4%,#15ffea 23.6%,#00faff 26.4%,#00f8ff 28.2%,#00c8ff 29.7%,#00a9ff 30%,#0078ff 30.4%,#0000fc 31.1%,#00009d 31.8%,#000085 32.2%,#000082 32.6%,#000080 70%,#00009d 72.5%,#0000a7 72.8%,#0000d4 73.6%,#0000d0 73.9%,#0000a3 74.6%,#0000b2 75%,#0000f1 75.7%,#0000fe 76.1%,#001cff 76.8%,#0053ff 77.5%,#006aff 78.6%,#009eff 79.7%,#0094ff 80.8%,#009dff 81.1%,#05fffa 83.6%,#38ffc7 85.8%,#84ff7b 87.6%,#a2ff5d 89.7%,#f0ff0f 91.9%,#fffb00 93.3%,#ff8000 96.6%,#ff5900 98%,#ff1c00 99.5%,#ff0f00)"></i><i style="background:linear-gradient(90deg,#ff8000,#ff8000 0.2%,#ff0300 2%,#b70000 3.4%,#a30000 4.1%,#ba0000 4.9%,#e60000 5.6%,#ff0f00 5.9%,#ff8100 6.3%,#daff25 6.7%,#70ff8f 7%,#5fa 7.4%,#31ffce 8.5%,#32ffcd 9.2%,#5cffa3 10.3%,#68ff97 11%,#87ff78 16.4%,#1dffe2 23.6%,#02fffd 26.4%,#00faff 28.2%,#00cbff 29.7%,#00a8ff 30%,#0000fc 31.1%,#0000a4 31.8%,#00008c 32.2%,#000080 33.6%,#000080 70.3%,#00009c 72.5%,#0000ca 73.6%,#0000cb 73.9%,#0000b2 74.6%,#0000bc 75%,#0000e7 75.7%,#0000f5 76.4%,#0006ff 76.8%,#003eff 77.5%,#009cff 79.7%,#009cff 80.8%,#02fffd 83.6%,#49ffb6 86.2%,#87ff78 87.6%,#92ff6d 89%,#edff12 91.9%,#fffc00 93.3%,#ff7e00 96.6%,#f60 97.7%,#ff1d00 99.5%,#f10)"></i><i style="background:linear-gradient(90deg,#f70,#f70 0.2%,#ff2600 1.3%,#f80000 2%,#ad0000 3.4%,#900 4.1%,#b20000 4.9%,#e10000 5.6%,#ff0800 5.9%,#ff6b00 6.3%,#ebff14 6.7%,#75ff8a 7%,#58ffa7 7.4%,#2fffd0 8.8%,#70ff8f 11.3%,#84ff7b 14.2%,#78ff87 15.3%,#80ff7f 16.7%,#24ffdb 23.6%,#00fdff 28.2%,#00e0ff 29.3%,#00cdff 29.7%,#00a5ff 30%,#0000fd 31.1%,#0000ad 31.8%,#000093 32.2%,#000080 33.6%,#000080 70.3%,#00009b 72.5%,#0000c7 73.9%,#0000c4 75%,#0000f2 76.8%,#0010ff 77.2%,#006cff 78.6%,#008dff 79.3%,#00a3ff 80.8%,#0cf 81.8%,#00d8ff 82.6%,#00fdff 83.6%,#09fff6 84%,#5fa 86.5%,#89ff76 87.6%,#91ff6e 89%,#e2ff1d 91.5%,#fffb00 93.3%,#ff8900 96.2%,#f60 97.7%,#ff1e00 99.5%,#ff1200)"></i><i style="background:linear-gradient(90deg,#ff6a00,#ff6a00 0.2%,#ff0400 1.6%,#a30000 3.4%,#920000 4.1%,#ac0000 4.9%,#d00 5.6%,#ff0200 5.9%,#ff5800 6.3%,#f9ff06 6.7%,#73ff8c 7%,#5fa 7.4%,#39ffc6 8.5%,#4effb1 10.3%,#70ff8f 11.3%,#85ff7a 13.8%,#7f8 15.3%,#7eff81 17.1%,#60ff9f 19.6%,#3cffc3 21.4%,#3fffc0 22.1%,#1fffe0 24.3%,#0ff 28.2%,#00e2ff 29.3%,#00cdff 29.7%,#00a5ff 30%,#0008ff 31.1%,#0000de 31.5%,#000096 32.2%,#000080 33.3%,#000080 70%,#00009b 72.5%,#0000c4 73.9%,#00b 75.4%,#0000d1 76.1%,#0000f6 76.8%,#0043ff 77.9%,#0086ff 79.3%,#009dff 80.8%,#00c7ff 81.8%,#05fffa 84%,#58ffa7 86.5%,#8f7 87.6%,#91ff6e 89%,#dfff20 91.5%,#faff05 93%,#ff9500 95.9%,#ff1300)"></i><i style="background:linear-gradient(90deg,#ff5d00,#ff5d00 0.2%,#fa0000 1.6%,#900 3.4%,#8c0000 4.1%,#bc0000 5.2%,#fc0000 5.9%,#ff4800 6.3%,#fff900 6.7%,#71ff8e 7%,#51ffae 7.4%,#3bffc4 8.5%,#4affb5 10.3%,#6fff90 11.3%,#7cff83 12.4%,#84ff7b 13.8%,#76ff89 16%,#7bff84 17.4%,#60ff9f 20%,#3affc5 21.4%,#3dffc2 22.5%,#1affe5 24.6%,#19ffe6 26.4%,#01fffe 28.2%,#00f7ff 28.6%,#00cdff 29.7%,#0015ff 31.1%,#0000eb 31.5%,#000098 32.2%,#008 32.6%,#000080 33.6%,#000080 70.3%,#00009b 72.5%,#0000c1 73.9%,#0000a8 75.4%,#0000ac 75.7%,#0000e3 76.4%,#0002ff 76.8%,#0037ff 77.5%,#007eff 79.3%,#0092ff 80.8%,#00bfff 81.8%,#03fffc 84%,#86ff79 87.6%,#92ff6d 89%,#feff01 93%,#ff9600 95.9%,#ff1300)"></i><i style="background:linear-gradient(90deg,#ff4f00,#ff4f00 0.2%,#ff0800 1.3%,#f00000 1.6%,#9e0000 3.1%,#850000 3.8%,#850000 4.1%,#a00000 4.9%,#f60000 5.9%,#ff3800 6.3%,#ffed00 6.7%,#74ff8b 7%,#4effb1 7.4%,#3effc1 8.5%,#49ffb6 10.3%,#6cff93 11.3%,#7fff80 12.4%,#82ff7d 13.5%,#72ff8d 16%,#79ff86 17.4%,#5cffa3 20.3%,#3cffc3 21.4%,#3bffc4 22.8%,#19ffe6 25%,#1effe1 26.4%,#01fffe 28.2%,#00f4ff 28.6%,#00c9ff 29.7%,#0021ff 31.1%,#0000fa 31.5%,#00009e 32.2%,#00008b 32.6%,#000080 33.6%,#000080 70.3%,#000098 72.5%,#0000b9 73.9%,#0000b5 74.6%,#0000a2 75.4%,#0000a6 75.7%,#0000e7 76.4%,#0007ff 76.8%,#0035ff 77.5%,#0087ff 79.7%,#008fff 80.8%,#00f2ff 83.6%,#09fff6 84.4%,#86ff79 87.6%,#9cff63 89.4%,#fffe00 93%,#ff5a00 97.7%,#ff1300)"></i><i style="background:linear-gradient(90deg,#ff4200,#ff4200 0.2%,#fd0000 1.3%,#950000 3.1%,#800000 3.8%,#860000 4.5%,#f20000 5.9%,#ff3000 6.3%,#ffdf00 6.7%,#7eff81 7%,#4effb1 7.4%,#43ffbc 8.1%,#51ffae 10.3%,#7dff82 12.8%,#6dff92 16%,#73ff8c 17.4%,#5dffa2 20.3%,#45ffba 21.4%,#41ffbe 22.5%,#1bffe4 25.4%,#1bffe4 26.8%,#00fbff 28.2%,#00c0ff 29.7%,#0071ff 30.4%,#000cff 31.5%,#00d 31.8%,#0000ae 32.2%,#000093 32.6%,#000080 33.6%,#000080 70.3%,#000093 72.8%,#0000b5 74.6%,#0000ba 75.7%,#00f 76.8%,#004aff 78.6%,#0096ff 79.7%,#009cff 81.1%,#06fff9 84.4%,#37ffc8 85.8%,#89ff76 87.6%,#b7ff48 90.5%,#fffe00 93%,#f10)"></i><i style="background:linear-gradient(90deg,#ff3700,#ff3700 0.2%,#ff0c00 0.9%,#f40000 1.3%,#9f0000 2.7%,#800000 3.4%,#800000 4.5%,#ef0000 5.9%,#ff2a00 6.3%,#ffd300 6.7%,#87ff78 7%,#4fffb0 7.4%,#48ffb7 7.7%,#4bffb4 9.2%,#7bff84 13.1%,#68ff97 14.9%,#6fff90 17.1%,#5effa1 18.5%,#5effa1 20.3%,#34ffcb 23.2%,#1affe5 26.8%,#04fffb 27.9%,#00f3ff 28.2%,#00b8ff 29.7%,#0070ff 30.4%,#001aff 31.5%,#0000ef 31.8%,#0000bc 32.2%,#00009a 32.6%,#000081 33.3%,#000080 33.6%,#000080 70%,#00008d 73.6%,#0000b7 74.6%,#00f 77.2%,#0017ff 77.9%,#003fff 78.6%,#008aff 79.3%,#00a5ff 79.7%,#00a0ff 81.5%,#03fffc 84.4%,#2effd1 85.8%,#70ff8f 86.9%,#8dff72 87.6%,#bfff40 90.8%,#fffd00 93%,#ff0f00)"></i><i style="background:linear-gradient(90deg,#ff3000,#ff3000 0.2%,#ff0500 0.9%,#860000 3.1%,#800000 3.4%,#800000 4.5%,#920000 4.9%,#e00 5.9%,#ff2800 6.3%,#ffc900 6.7%,#91ff6e 7%,#53ffac 7.4%,#49ffb6 7.7%,#43ffbc 9.2%,#79ff86 13.1%,#62ff9d 15.3%,#6bff94 17.4%,#59ffa6 18.9%,#5dffa2 20.3%,#41ffbe 22.5%,#2effd1 23.2%,#20ffdf 26.4%,#00fcff 27.9%,#00d8ff 28.6%,#00bdff 29.7%,#0014ff 31.5%,#0000ea 31.8%,#0000ba 32.2%,#009 32.6%,#000089 32.9%,#000080 33.6%,#000080 70%,#000092 73.6%,#0000fc 76.4%,#0007ff 77.5%,#0017ff 77.9%,#00a0ff 79.7%,#009aff 81.5%,#00d6ff 82.9%,#07fff8 84.4%,#32ffcd 85.8%,#8cff73 87.6%,#bfff40 90.8%,#fffc00 93%,#f10)"></i><i style="background:linear-gradient(90deg,#ff2b00,#ff2b00 0.2%,#fe0000 0.9%,#800000 3.1%,#800000 4.5%,#8e0000 4.9%,#e00 5.9%,#ff2700 6.3%,#ffc200 6.7%,#9aff65 7%,#57ffa8 7.4%,#3bffc4 8.8%,#78ff87 13.5%,#5cffa3 15.3%,#6aff95 17.4%,#52ffad 19.2%,#5affa5 20.3%,#4fb 21.4%,#3dffc2 22.5%,#26ffd9 23.2%,#2dffd2 25.4%,#26ffd9 26.4%,#04fffb 27.5%,#00f4ff 27.9%,#00d1ff 28.6%,#00c5ff 29.7%,#0089ff 30.4%,#0007ff 31.5%,#0000de 31.8%,#000096 32.6%,#000080 33.6%,#000080 70%,#00009d 73.6%,#0000fe 76.1%,#0013ff 76.8%,#000dff 77.5%,#001eff 77.9%,#008aff 79.3%,#0095ff 79.7%,#008cff 80.8%,#0095ff 81.5%,#0df 82.9%,#04fffb 84%,#2dffd2 85.4%,#8bff74 87.6%,#c7ff38 91.2%,#fffa00 93%,#ff1e00 99.5%,#ff1400)"></i><i style="background:linear-gradient(90deg,#ff2600,#ff2600 0.2%,#f70000 0.9%,#a00000 2.3%,#800000 3.1%,#800000 4.5%,#8c0000 4.9%,#ed0000 5.9%,#ff2500 6.3%,#ffbd00 6.7%,#9eff61 7%,#58ffa7 7.4%,#35ffca 8.8%,#38ffc7 9.5%,#5effa1 11.3%,#76ff89 13.5%,#57ffa8 15.3%,#67ff98 17.4%,#4effb1 19.2%,#58ffa7 20.3%,#3fffc0 21.4%,#39ffc6 22.5%,#23ffdc 23.2%,#2effd1 26.1%,#2affd5 26.4%,#00fdff 27.5%,#00d0ff 28.6%,#00cbff 29.7%,#00b7ff 30%,#0094ff 30.4%,#0000fd 31.5%,#0000af 32.2%,#000094 32.6%,#000080 33.6%,#000080 70.3%,#0000a3 73.6%,#0000d6 74.6%,#0000f8 75.7%,#001eff 76.8%,#0016ff 77.5%,#0028ff 77.9%,#006aff 78.6%,#0089ff 79.3%,#0080ff 80.8%,#0093ff 81.5%,#00e5ff 82.9%,#05fffa 83.6%,#17ffe8 84.7%,#87ff78 87.6%,#ceff31 91.5%,#f9ff06 92.6%,#ffe300 93.7%,#ff2a00 99.1%,#ff1500)"></i><i style="background:linear-gradient(90deg,#ff2100,#ff2100 0.2%,#ff0c00 0.5%,#f20000 0.9%,#860000 2.7%,#800000 3.1%,#800000 4.5%,#8a0000 4.9%,#e80000 5.9%,#ff2100 6.3%,#ffb900 6.7%,#9dff62 7%,#50ffaf 7.4%,#40ffbf 7.7%,#37ffc8 8.5%,#3cffc3 9.5%,#5dffa2 11.3%,#71ff8e 13.5%,#5fa 15.3%,#60ff9f 17.1%,#4cffb3 19.2%,#57ffa8 20.3%,#3dffc2 21.4%,#38ffc7 22.5%,#29ffd6 23.2%,#28ffd7 26.4%,#00f9ff 27.5%,#00cdff 29.7%,#00b8ff 30%,#0095ff 30.4%,#0000fe 31.5%,#000095 32.6%,#000080 33.6%,#000080 70.3%,#00009e 73.6%,#0000e1 74.6%,#0000f5 75.7%,#0021ff 76.8%,#0023ff 77.5%,#0036ff 77.9%,#0072ff 78.6%,#0082ff 79%,#08f 79.7%,#0073ff 80.8%,#00edff 82.9%,#0afff5 83.6%,#14ffeb 84.7%,#46ffb9 85.8%,#7eff81 87.6%,#b5ff4a 89.7%,#d1ff2e 91.5%,#fffc00 93%,#ff1c00 99.5%,#f10)"></i><i style="background:linear-gradient(90deg,#f20,#f20 0.2%,#ff0d00 0.5%,#f30000 0.9%,#860000 2.7%,#800000 3.1%,#800000 4.5%,#890000 4.9%,#e50000 5.9%,#ff1d00 6.3%,#ffb800 6.7%,#9aff65 7%,#48ffb7 7.4%,#34ffcb 8.1%,#6cff93 13.5%,#5fa 14.9%,#5affa5 17.1%,#4affb5 19.2%,#54ffab 20.3%,#3affc5 21.4%,#1bffe4 25.4%,#24ffdb 26.4%,#00feff 27.2%,#00f2ff 28.2%,#00cfff 29.7%,#0095ff 30.4%,#0001ff 31.5%,#000097 32.6%,#000080 33.6%,#000080 70.3%,#000098 73.6%,#0000e9 74.6%,#0000f2 75.7%,#0002ff 76.1%,#0021ff 76.8%,#0030ff 77.5%,#0079ff 78.6%,#0085ff 79%,#0085ff 79.7%,#006aff 80.4%,#0068ff 80.8%,#00cfff 82.2%,#04fffb 83.3%,#12ffed 84.7%,#53ffac 86.2%,#b6ff49 89.7%,#cbff34 91.2%,#ff0 93%,#ff0d00)"></i><i style="background:linear-gradient(90deg,#ff2900,#ff2900 0.2%,#fa0000 0.9%,#a10000 2.3%,#800000 3.1%,#800000 4.5%,#8b0000 4.9%,#e50000 5.9%,#ff1d00 6.3%,#ffba00 6.7%,#9f6 7%,#49ffb6 7.4%,#37ffc8 7.7%,#2effd1 8.5%,#58ffa7 11%,#59ffa6 12.4%,#65ff9a 13.1%,#53ffac 14.6%,#48ffb7 20.3%,#2dffd2 21.4%,#28ffd7 23.2%,#0dfff2 25.4%,#12ffed 26.4%,#03fffc 26.8%,#00f2ff 27.2%,#00f1ff 28.2%,#00d9ff 29.7%,#00bfff 30%,#0096ff 30.4%,#002bff 31.1%,#0000fd 31.5%,#0000b1 32.2%,#000095 32.6%,#000081 33.3%,#000080 34%,#000080 70.3%,#000093 73.6%,#0000a4 73.9%,#0000dc 74.6%,#0000fd 76.1%,#0034ff 77.5%,#0073ff 78.6%,#007fff 79%,#0082ff 79.7%,#006aff 80.8%,#0091ff 81.5%,#00e7ff 82.6%,#04fffb 83.3%,#15ffea 84.7%,#4effb1 86.2%,#af5 89.4%,#ff0 93%,#ff0c00)"></i><i style="background:linear-gradient(90deg,#ff3000,#ff3000 0.2%,#ff0100 0.9%,#820000 3.1%,#800000 3.4%,#800000 4.5%,#8e0000 4.9%,#e70000 5.9%,#ff2000 6.3%,#ffbe00 6.7%,#98ff67 7%,#4affb5 7.4%,#39ffc6 7.7%,#2bffd4 8.5%,#2bffd4 9.2%,#4dffb2 10.6%,#5cffa3 13.1%,#4effb1 14.2%,#51ffae 19.2%,#25ffda 21.8%,#27ffd8 23.6%,#00fcff 26.8%,#00f2ff 29.3%,#00e3ff 29.7%,#00c3ff 30%,#0027ff 31.1%,#0000f8 31.5%,#0000ac 32.2%,#000092 32.6%,#000080 33.6%,#000080 70%,#000091 72.5%,#00008e 73.6%,#009 73.9%,#0000eb 75.4%,#0000fb 76.4%,#0007ff 76.8%,#0048ff 77.9%,#0075ff 79%,#007dff 79.7%,#0071ff 80.8%,#0084ff 81.5%,#00e7ff 82.6%,#02fffd 83.3%,#24ffdb 85.1%,#9aff65 88.7%,#fffd00 93%,#ffc900 94.8%,#ff1900 99.5%,#ff0e00)"></i><i style="background:linear-gradient(90deg,#ff3800,#ff3800 0.2%,#ff0900 0.9%,#f00000 1.3%,#890000 3.1%,#800000 3.4%,#800000 4.5%,#920000 4.9%,#eb0000 5.9%,#ff2400 6.3%,#ffc500 6.7%,#94ff6b 7%,#4affb5 7.4%,#39ffc6 7.7%,#25ffda 8.8%,#4affb5 10.6%,#5fa 13.1%,#45ffba 16.4%,#52ffad 19.2%,#1bffe4 22.1%,#27ffd8 23.6%,#00fbff 26.4%,#00fcff 29%,#00e8ff 29.7%,#00c4ff 30%,#0020ff 31.1%,#0000f0 31.5%,#0000a6 32.2%,#000090 32.6%,#000081 33.3%,#000080 70%,#000093 72.5%,#000090 73.6%,#0000a6 74.3%,#0000f8 75.7%,#0002ff 76.8%,#0048ff 77.9%,#006cff 79%,#007cff 81.5%,#00e3ff 82.6%,#0ff 83.3%,#34ffcb 85.8%,#9cff63 88.7%,#fffc00 93%,#ffcb00 94.8%,#ff1900 99.5%,#ff0e00)"></i><i style="background:linear-gradient(90deg,#ff4100,#ff4100 0.2%,#fb0000 1.3%,#930000 3.1%,#820000 3.4%,#800000 3.8%,#820000 4.5%,#ef0000 5.9%,#ff2a00 6.3%,#ffd000 6.7%,#8cff73 7%,#47ffb8 7.4%,#27ffd8 8.5%,#2cffd3 9.2%,#48ffb7 10.3%,#54ffab 13.1%,#46ffb9 16.4%,#4bffb4 19.2%,#16ffe9 22.1%,#1affe5 23.9%,#00fdff 25.7%,#00f4ff 27.2%,#02fffd 28.2%,#00e9ff 29.3%,#00d9ff 29.7%,#0bf 30%,#008cff 30.4%,#000fff 31.1%,#0000db 31.5%,#00009f 32.2%,#00008e 32.6%,#000080 33.6%,#000080 70%,#00009d 73.2%,#0000c1 74.6%,#0000fa 75.7%,#0013ff 76.8%,#0067ff 79%,#0086ff 81.5%,#00eaff 82.9%,#08fff7 83.6%,#29ffd6 84.7%,#3bffc4 85.8%,#95ff6a 88.7%,#fffc00 93%,#ffcd00 94.8%,#ff1900 99.5%,#ff0d00)"></i><i style="background:linear-gradient(90deg,#ff4b00,#ff4b00 0.2%,#ff0800 1.3%,#f10000 1.6%,#9c0000 3.1%,#800000 3.8%,#890000 4.5%,#f40000 5.9%,#ff2f00 6.3%,#ffdc00 6.7%,#82ff7d 7%,#4fb 7.4%,#27ffd8 8.5%,#4bffb4 10.3%,#45ffba 11.3%,#5fa 12.4%,#58ffa7 14.2%,#42ffbd 19.6%,#3bffc4 20.3%,#17ffe8 21.8%,#0efff1 24.3%,#00f7ff 25.4%,#00f0ff 27.2%,#00feff 27.9%,#00fbff 28.6%,#00b1ff 30%,#0086ff 30.4%,#0000fd 31.1%,#0000c7 31.5%,#000098 32.2%,#000081 33.3%,#000080 34%,#000080 70.3%,#009 72.8%,#0000c8 73.9%,#00c 74.6%,#0000fc 75.7%,#005bff 78.6%,#06f 79.7%,#0093ff 81.5%,#00f5ff 83.3%,#0cfff3 83.6%,#2fffd0 84.7%,#fffc00 93%,#ffcf00 94.8%,#ff9f00 95.9%,#ff0b00)"></i><i style="background:linear-gradient(90deg,#ff5600,#ff5600 0.2%,#fa0000 1.6%,#920000 3.4%,#840000 4.1%,#a40000 4.9%,#f50000 5.9%,#ff3400 6.3%,#ffe800 6.7%,#75ff8a 7%,#3dffc2 7.4%,#29ffd6 8.1%,#2cffd3 8.8%,#4affb5 10.3%,#3fffc0 11.3%,#58ffa7 13.1%,#5bffa4 14.6%,#46ffb9 16.4%,#4dffb2 17.4%,#40ffbf 20%,#1fffe0 21.4%,#14ffeb 24.3%,#00faff 25.4%,#00ebff 27.2%,#00fcff 27.9%,#00fcff 28.6%,#00b2ff 30%,#08f 30.4%,#0000fe 31.1%,#0000c8 31.5%,#0000a8 31.8%,#00008b 32.6%,#000080 33.3%,#000080 70%,#009 72.8%,#0001ff 75.7%,#009eff 81.5%,#00c4ff 82.6%,#00f3ff 83.3%,#0cfff3 83.6%,#3bffc4 85.1%,#fffd00 93%,#fc0 94.8%,#ff9c00 95.9%,#ff0e00)"></i><i style="background:linear-gradient(90deg,#ff6100,#ff4c00 0.5%,#ff0300 1.6%,#900 3.4%,#8b0000 4.1%,#a70000 4.9%,#f80000 5.9%,#ff4200 6.3%,#fff700 6.7%,#68ff97 7%,#34ffcb 7.4%,#2bffd4 7.7%,#29ffd6 8.5%,#45ffba 10.3%,#36ffc9 11.3%,#61ff9e 13.5%,#60ff9f 14.9%,#41ffbe 16.4%,#4bffb4 17.4%,#4fb 20%,#25ffda 21.8%,#21ffde 24.3%,#00f6ff 25.7%,#00e2ff 26.8%,#00feff 28.6%,#00d1ff 29.7%,#00b8ff 30%,#008eff 30.4%,#000aff 31.1%,#0000d4 31.5%,#000097 32.2%,#000080 33.3%,#000080 70%,#000098 71.8%,#00009a 73.2%,#0000b2 73.9%,#0000fa 75.4%,#01f 76.4%,#0036ff 77.5%,#003aff 78.6%,#0074ff 79.7%,#00c8ff 82.6%,#0afff5 83.6%,#4bffb4 85.4%,#60ff9f 86.9%,#b3ff4c 89.7%,#c5ff3a 90.8%,#fffe00 93%,#ff1d00 99.5%,#ff1300)"></i><i style="background:linear-gradient(90deg,#ff6c00,#ff6c00 0.2%,#ff0c00 1.6%,#f30000 2%,#a10000 3.4%,#920000 4.1%,#ac0000 4.9%,#da0000 5.6%,#fc0000 5.9%,#ff5400 6.3%,#f6ff09 6.7%,#5affa5 7%,#2cffd3 7.4%,#28ffd7 8.1%,#40ffbf 10.3%,#30ffcf 11.7%,#3dffc2 12.4%,#64ff9b 13.5%,#67ff98 14.9%,#65ff9a 15.3%,#3cffc3 16.4%,#49ffb6 17.4%,#45ffba 20.3%,#2dffd2 21.8%,#29ffd6 24.3%,#00f7ff 25.7%,#00dcff 26.4%,#00daff 26.8%,#02fffd 28.2%,#01fffe 28.6%,#00d7ff 29.7%,#0bf 30%,#0090ff 30.4%,#0013ff 31.1%,#0000de 31.5%,#009 32.2%,#000089 32.6%,#000080 33.3%,#000080 70%,#009 71.8%,#000093 73.6%,#0000a2 73.9%,#0000ef 75%,#0003ff 75.4%,#0010ff 76.8%,#0037ff 77.5%,#003aff 77.9%,#002cff 78.6%,#0040ff 79%,#007cff 79.7%,#00cfff 82.6%,#06fff9 83.6%,#4fffb0 85.4%,#5effa1 86.9%,#a1ff5e 89%,#c2ff3d 90.8%,#ff0 93%,#ff8b00 96.2%,#ff2100 99.5%,#ff1800)"></i><i style="background:linear-gradient(90deg,#ff7600,#ff6200 0.5%,#f00 2%,#a90000 3.4%,#9b0000 4.1%,#b30000 4.9%,#df0000 5.6%,#ff0600 5.9%,#ff6a00 6.3%,#e2ff1d 6.7%,#4fffb0 7%,#29ffd6 7.4%,#3affc5 10.3%,#30ffcf 12.1%,#5dffa2 13.5%,#6aff95 14.6%,#64ff9b 15.3%,#3bffc4 16.4%,#46ffb9 17.8%,#40ffbf 20.3%,#26ffd9 22.1%,#2affd5 23.6%,#19ffe6 24.6%,#01fffe 25.4%,#00f3ff 25.7%,#00deff 26.4%,#00d8ff 27.2%,#00feff 28.2%,#00feff 28.6%,#00e3ff 29.3%,#00b2ff 30%,#0083ff 30.4%,#000dff 31.1%,#00d 31.5%,#009 32.2%,#000089 32.6%,#000080 33.3%,#000080 70%,#000095 71.8%,#000090 72.8%,#00009a 73.6%,#0000f2 75%,#0016ff 75.7%,#0007ff 76.4%,#000cff 76.8%,#0039ff 77.5%,#003eff 77.9%,#0031ff 78.6%,#0043ff 79%,#007cff 79.7%,#00afff 80.8%,#00faff 83.6%,#0dfff2 84%,#4cffb3 85.4%,#5fffa0 86.9%,#ff0 93%,#ff3c00 98.7%,#ff1c00)"></i><i style="background:linear-gradient(90deg,#ff8100,#ff6c00 0.5%,#ff0b00 2%,#f10000 2.3%,#b10000 3.4%,#a30000 4.1%,#ba0000 4.9%,#e50000 5.6%,#ff0f00 5.9%,#ff8300 6.3%,#cdff32 6.7%,#45ffba 7%,#27ffd8 7.4%,#34ffcb 10.3%,#30ffcf 12.4%,#63ff9c 13.8%,#70ff8f 14.6%,#63ff9c 15.3%,#3bffc4 16.4%,#4affb5 18.2%,#3bffc4 19.2%,#3bffc4 20.3%,#20ffdf 22.1%,#2cffd3 23.2%,#00f7ff 25.4%,#00d4ff 27.2%,#00faff 28.2%,#00efff 29%,#00cbff 29.7%,#00a7ff 30%,#0006ff 31.1%,#0000db 31.5%,#00009a 32.2%,#00008a 32.6%,#000080 33.3%,#000080 70%,#000091 71.4%,#00008e 72.8%,#0000c4 74.3%,#0000f3 75%,#0010ff 75.4%,#001dff 75.7%,#0006ff 76.4%,#000aff 76.8%,#003aff 77.5%,#0042ff 77.9%,#0039ff 78.6%,#0047ff 79%,#00bdff 80.8%,#00efff 83.6%,#03fffc 84%,#2fffd0 84.7%,#47ffb8 85.4%,#8dff72 89%,#ebff14 91.9%,#fffe00 93%,#f50 98%,#ff2000)"></i><i style="background:linear-gradient(90deg,#ff8900,#ff7500 0.5%,#fa0000 2.3%,#b00 3.4%,#ae0000 4.1%,#c20000 4.9%,#eb0000 5.6%,#ff1900 5.9%,#ff9d00 6.3%,#bf4 6.7%,#46ffb9 7%,#2effd1 7.4%,#3fc 8.1%,#23ffdc 9.2%,#3fc 12.4%,#72ff8d 14.2%,#74ff8b 14.6%,#64ff9b 15.3%,#39ffc6 16.4%,#4effb1 18.5%,#3cffc3 19.2%,#37ffc8 20.3%,#20ffdf 21.8%,#25ffda 23.2%,#00feff 25%,#00d4ff 27.2%,#00efff 28.2%,#00efff 28.6%,#00d8ff 29.3%,#00c2ff 29.7%,#009cff 30%,#0005ff 31.1%,#0000df 31.5%,#00009b 32.2%,#00008a 32.6%,#000080 33.3%,#000080 70%,#000090 72.8%,#0005ff 75.4%,#000dff 75.7%,#00f 76.4%,#0008ff 76.8%,#0038ff 77.5%,#0046ff 79%,#006bff 79.7%,#00c0ff 80.8%,#00cdff 81.1%,#00e5ff 82.6%,#00eaff 83.6%,#00feff 84%,#18ffe7 84.4%,#3bffc4 85.1%,#9eff61 89.7%,#edff12 91.9%,#fffc00 93%,#f50 98%,#f20)"></i><i style="background:linear-gradient(90deg,#ff8f00,#ff8f00 0.2%,#ff6700 0.9%,#f00 2.3%,#c80000 3.4%,#b90000 4.1%,#cb0000 4.9%,#f20000 5.6%,#ff2500 5.9%,#ffb900 6.3%,#a8ff57 6.7%,#4affb5 7%,#38ffc7 7.4%,#37ffc8 8.1%,#1fffe0 9.2%,#3cffc3 12.4%,#69ff96 13.8%,#73ff8c 14.6%,#65ff9a 15.3%,#39ffc6 16.4%,#53ffac 18.5%,#40ffbf 19.2%,#21ffde 21.4%,#17ffe8 23.2%,#00fcff 24.3%,#00faff 25.4%,#00d9ff 27.2%,#00dcff 28.6%,#00cdff 29.3%,#00b9ff 29.7%,#000eff 31.1%,#0000ed 31.5%,#00009f 32.2%,#00008b 32.6%,#000080 33.3%,#000080 70%,#000098 72.8%,#0000e7 74.6%,#0000f3 76.4%,#0002ff 76.8%,#002eff 77.5%,#0039ff 77.9%,#003dff 79%,#0052ff 79.7%,#00b8ff 80.8%,#00daff 81.5%,#00e9ff 83.3%,#04fffb 84%,#30ffcf 84.7%,#3bffc4 85.1%,#73ff8c 87.6%,#96ff69 88.7%,#a1ff5e 89.7%,#e4ff1b 91.5%,#fcff03 92.6%,#ffa400 95.9%,#ff3e00 98.7%,#f20)"></i><i style="background:linear-gradient(90deg,#ff9700,#ff9700 0.2%,#ff7000 0.9%,#ff0600 2.3%,#c70000 3.8%,#c30000 4.1%,#d30000 4.9%,#fb0000 5.6%,#ff3b00 5.9%,#ffd800 6.3%,#93ff6c 6.7%,#4cffb3 7%,#1bffe4 9.2%,#24ffdb 10.6%,#43ffbc 12.4%,#6aff95 13.8%,#71ff8e 14.6%,#65ff9a 15.3%,#3bffc4 16.4%,#59ffa6 18.5%,#1fffe0 21.4%,#00faff 23.9%,#00fbff 25.4%,#00c4ff 29.3%,#00b2ff 29.7%,#0039ff 30.8%,#0000fb 31.5%,#0000a3 32.2%,#00008c 32.6%,#000080 33.3%,#000080 70%,#0000a1 72.8%,#0000d7 73.9%,#00e 74.6%,#0000c8 75.7%,#0000fe 76.8%,#002dff 77.9%,#003cff 79.7%,#00b0ff 80.8%,#00deff 81.5%,#00ecff 83.3%,#09fff6 84%,#3fc 84.7%,#74ff8b 87.6%,#a1ff5e 88.7%,#a4ff5b 89.7%,#e6ff19 91.5%,#feff01 92.6%,#ffa600 95.9%,#ff3c00 98.7%,#f20)"></i><i style="background:linear-gradient(90deg,#ffa200,#ff8e00 0.5%,#fd0000 2.7%,#da0000 3.4%,#c00 4.1%,#ec0000 5.2%,#ff0b00 5.6%,#ff5f00 5.9%,#fffd00 6.3%,#78ff87 6.7%,#4fb 7%,#37ffc8 8.1%,#19ffe6 9.2%,#38ffc7 12.1%,#60ff9f 13.5%,#68ff97 14.6%,#61ff9e 15.3%,#43ffbc 16.4%,#5dffa2 18.5%,#1cffe3 21.4%,#0ff 23.9%,#00c6ff 29.3%,#00b9ff 29.7%,#009bff 30%,#0005ff 31.5%,#0000d5 31.8%,#0000a6 32.2%,#00008e 32.6%,#000080 33.3%,#000080 70%,#009 72.1%,#0000e0 74.3%,#0000e2 74.6%,#00c 75.7%,#0000f2 76.4%,#0003ff 76.8%,#0040ff 79.7%,#00a7ff 80.8%,#00deff 81.5%,#00f7ff 83.6%,#0cfff3 84%,#4fb 85.1%,#68ff97 87.2%,#9f6 88.7%,#a4ff5b 89.7%,#dcff23 91.2%,#fdff02 92.6%,#ffa400 95.9%,#ff3e00 98.7%,#ff2600)"></i><i style="background:linear-gradient(90deg,#ffad00,#ffad00 0.2%,#ff9800 0.5%,#ff0800 2.7%,#d60000 3.8%,#d40000 4.1%,#f50000 5.2%,#ff1a00 5.6%,#ff8700 5.9%,#dcff23 6.3%,#5effa1 6.7%,#3bffc4 7%,#32ffcd 8.1%,#18ffe7 9.2%,#38ffc7 11.3%,#37ffc8 12.4%,#5dffa2 13.5%,#5effa1 14.9%,#4bffb4 16.7%,#61ff9e 18.5%,#3dffc2 20.3%,#1affe5 21.4%,#1affe5 22.1%,#02fffd 23.2%,#08fff7 24.3%,#00feff 24.6%,#00e1ff 25.4%,#00e7ff 26.4%,#00cfff 27.5%,#00c0ff 29.7%,#0087ff 30.4%,#000eff 31.5%,#0000db 31.8%,#0000a9 32.2%,#00008f 32.6%,#000080 33.6%,#000080 70%,#000097 71.8%,#0000d9 73.9%,#0000d4 75.7%,#0000fc 76.4%,#0009ff 76.8%,#0000fc 77.5%,#0003ff 77.9%,#0046ff 79.7%,#00dfff 81.5%,#00e9ff 81.8%,#00e9ff 82.9%,#00faff 83.6%,#0ffff0 84%,#3cffc3 84.7%,#57ffa8 85.4%,#64ff9b 87.2%,#a4ff5b 89.7%,#df2 91.2%,#fffa00 93%,#ff4000 98.7%,#ff2900)"></i><i style="background:linear-gradient(90deg,#ffba00,#ffba00 0.2%,#ff1000 2.7%,#f90000 3.1%,#de0000 3.8%,#d00 4.1%,#fd0000 5.2%,#ff2b00 5.6%,#ffaf00 5.9%,#b8ff47 6.3%,#48ffb7 6.7%,#30ffcf 7%,#1affe5 9.2%,#3fc 11.3%,#34ffcb 12.4%,#58ffa7 13.5%,#50ffaf 17.1%,#65ff9a 18.5%,#40ffbf 20.3%,#19ffe6 21.4%,#17ffe8 22.1%,#00faff 23.2%,#00fcff 24.6%,#00dbff 25.4%,#00e3ff 26.4%,#00bdff 29.7%,#0091ff 30.4%,#01f 31.5%,#0000de 31.8%,#0000ab 32.2%,#000090 32.6%,#000080 33.6%,#000080 70%,#00009b 71.8%,#0000d0 73.6%,#0000d2 75.4%,#0000da 75.7%,#0003ff 76.4%,#000bff 76.8%,#0000f1 77.5%,#0000f8 77.9%,#004cff 79.7%,#00e0ff 81.5%,#0ff 83.6%,#40ffbf 84.7%,#5dffa2 85.4%,#63ff9c 87.2%,#a8ff57 89.7%,#dcff23 91.2%,#fffc00 93%,#ff4e00 98.4%,#ff2d00)"></i><i style="background:linear-gradient(90deg,#ffd300,#ffd300 0.2%,#f40 2%,#ff0200 3.1%,#e80000 3.8%,#f50000 4.9%,#ff0b00 5.2%,#ff4f00 5.6%,#ffdb00 5.9%,#96ff69 6.3%,#38ffc7 6.7%,#23ffdc 7%,#21ffde 10.6%,#2effd1 12.1%,#51ffae 13.5%,#56ffa9 17.1%,#67ff98 18.5%,#40ffbf 20.3%,#1affe5 21.4%,#00faff 22.8%,#0ef 23.6%,#00f9ff 24.3%,#00dcff 25.4%,#00dbff 28.2%,#00b5ff 29.3%,#00a8ff 30%,#0091ff 30.4%,#006bff 30.8%,#01f 31.5%,#0000de 31.8%,#0000ac 32.2%,#000091 32.6%,#000080 33.6%,#000080 70%,#000086 70.7%,#0000c6 73.6%,#00c 75%,#0000de 75.7%,#0005ff 76.4%,#000bff 76.8%,#0000fb 77.2%,#00e 77.5%,#0000f7 77.9%,#002dff 78.6%,#0051ff 79.7%,#00e3ff 81.5%,#03fffc 82.9%,#08fff7 83.6%,#5fffa0 85.4%,#5effa1 86.9%,#6cff93 87.6%,#d8ff27 91.2%,#fffd00 93%,#ff5200 98.4%,#ff3000)"></i><i style="background:linear-gradient(90deg,#e7ff18,#e7ff18 0.2%,#ffed00 0.5%,#ff8e00 1.3%,#ff4b00 2%,#ff1d00 2.7%,#fb0000 3.4%,#f00000 4.1%,#fe0000 4.9%,#ff1c00 5.2%,#ff7a00 5.6%,#f9ff06 5.9%,#76ff89 6.3%,#2cffd3 6.7%,#19ffe6 7%,#16ffe9 7.4%,#25ffda 9.2%,#19ffe6 11%,#4affb5 13.5%,#68ff97 18.5%,#4affb5 20%,#0ff 22.5%,#00e6ff 23.2%,#00e9ff 24.6%,#00d5ff 26.1%,#00e4ff 28.2%,#00a9ff 29.3%,#00a1ff 30%,#008fff 30.4%,#0012ff 31.5%,#0000df 31.8%,#0000ad 32.2%,#000091 32.6%,#000080 33.6%,#000080 70%,#0000b9 73.2%,#0000c3 74.6%,#0003ff 76.4%,#0000ec 77.5%,#0000f8 77.9%,#03f 78.6%,#0056ff 79.7%,#00e5ff 81.5%,#00f4ff 81.8%,#02fffd 82.2%,#13ffec 82.9%,#1fe 83.6%,#60ff9f 85.4%,#60ff9f 86.9%,#6cff93 87.6%,#8f7 88.7%,#b4ff4b 89.7%,#fffe00 93%,#ff5600 98.4%,#ff3200)"></i><i style="background:linear-gradient(90deg,#a0ff5f,#a0ff5f 0.2%,#fffd00 0.9%,#ff6200 2%,#ff3f00 2.3%,#ff1300 3.1%,#f80000 3.8%,#ff0a00 4.9%,#ff3b00 5.2%,#ffad00 5.6%,#cbff34 5.9%,#54ffab 6.3%,#23ffdc 6.7%,#19ffe6 7%,#1bffe4 11%,#5cffa3 16%,#61ff9e 18.2%,#46ffb9 20%,#04fffb 22.5%,#00f6ff 22.8%,#00dbff 23.9%,#0cf 26.4%,#00daff 28.2%,#00d0ff 28.6%,#00acff 29.3%,#009fff 30%,#008bff 30.4%,#0070ff 30.8%,#0026ff 31.5%,#0000ec 31.8%,#0000b0 32.2%,#000092 32.6%,#000080 33.6%,#000080 69.6%,#000082 70.3%,#0000c6 73.6%,#0000c9 74.6%,#0000ed 76.4%,#0000ef 77.5%,#0000fe 77.9%,#002eff 78.6%,#05f 79.7%,#00e3ff 81.5%,#01fffe 82.2%,#16ffe9 82.9%,#1cffe3 83.6%,#5fa 85.4%,#72ff8d 87.6%,#b6ff49 89.7%,#fffc00 93%,#ff6000 98%,#ff3100)"></i><i style="background:linear-gradient(90deg,#6f9,#6f9 0.2%,#8eff71 0.5%,#f3ff0c 1.3%,#ffd700 1.6%,#ff4200 2.7%,#ff0e00 3.4%,#fd0000 4.1%,#ff0500 4.5%,#ff1e00 4.9%,#ff6e00 5.2%,#ffe400 5.6%,#9fff60 5.9%,#3affc5 6.3%,#1effe1 6.7%,#1fe 8.1%,#23ffdc 11.3%,#60ff9f 16.4%,#53ffac 18.5%,#3dffc2 20%,#15ffea 21%,#14ffeb 22.1%,#00fcff 22.8%,#00d2ff 23.9%,#00c4ff 26.1%,#00b0ff 27.2%,#00caff 28.6%,#00abff 29.7%,#006fff 30.8%,#0035ff 31.5%,#0000f6 31.8%,#0000b2 32.2%,#000092 32.6%,#000080 33.6%,#000080 69.6%,#00009b 71.8%,#0000cd 73.6%,#0000d0 74.6%,#0000e2 75.7%,#0000e0 76.8%,#0000f9 77.5%,#0059ff 79.7%,#00dfff 81.5%,#09fff6 82.6%,#65ff9a 86.9%,#fbff04 92.6%,#ffe900 93.7%,#ff6900 97.7%,#ff2f00)"></i><i style="background:linear-gradient(90deg,#45ffba,#45ffba 0.2%,#5dffa2 0.5%,#e3ff1c 1.6%,#ffea00 2%,#ff2500 3.4%,#ff0e00 3.8%,#ff0900 4.1%,#ff1700 4.5%,#ff4a00 4.9%,#ffa700 5.2%,#e9ff16 5.6%,#79ff86 5.9%,#2cffd3 6.3%,#1cffe3 6.7%,#03fffc 8.8%,#2fd 10.3%,#37ffc8 13.1%,#53ffac 14.6%,#5dffa2 16.4%,#4fffb0 18.2%,#37ffc8 19.6%,#02fffd 21%,#10ffef 22.1%,#00f4ff 22.8%,#00caff 23.9%,#0bf 26.1%,#009fff 27.2%,#00c0ff 28.6%,#00b8ff 29.3%,#00adff 29.7%,#004aff 31.1%,#002dff 31.5%,#0000f3 31.8%,#0000b4 32.2%,#000093 32.6%,#000080 33.6%,#000080 70%,#0000a1 72.1%,#0000d0 73.6%,#0000d2 74.6%,#0000e8 75.7%,#0000d8 76.4%,#0000dc 76.8%,#0000ef 77.2%,#0006ff 77.5%,#004bff 79.3%,#00ceff 81.1%,#00e2ff 81.5%,#06fff9 82.6%,#2effd1 84.7%,#feff01 92.6%,#ffea00 93.7%,#ff6800 97.7%,#ff3000)"></i><i style="background:linear-gradient(90deg,#42ffbd,#59ffa6 0.9%,#a4ff5b 1.6%,#ff0 2.3%,#ff3800 3.8%,#ff2a00 4.1%,#ff4700 4.5%,#ff8700 4.9%,#ffe000 5.2%,#bf4 5.6%,#58ffa7 5.9%,#26ffd9 6.3%,#00faff 8.5%,#00f0ff 8.8%,#00f5ff 9.2%,#27ffd8 10.3%,#3affc5 13.1%,#56ffa9 14.6%,#4cffb3 18.2%,#35ffca 19.2%,#00faff 20.7%,#00efff 21.4%,#00fcff 22.1%,#00c0ff 23.9%,#00afff 25.4%,#00beff 26.1%,#00bcff 26.4%,#009eff 27.2%,#00bcff 29.3%,#00afff 29.7%,#06f 30.4%,#000bff 31.5%,#0000e2 31.8%,#0000b2 32.2%,#000096 32.6%,#000080 33.6%,#000080 69.6%,#0000a6 72.5%,#0000d0 73.6%,#0000cf 74.6%,#0000f0 75.7%,#0000df 76.4%,#0000e4 76.8%,#0000f9 77.2%,#001fff 77.9%,#0028ff 78.6%,#0039ff 79%,#00c7ff 80.8%,#00edff 81.5%,#00feff 82.2%,#2affd5 84.7%,#5fa 85.8%,#9cff63 89%,#fffe00 92.6%,#ffca00 94.8%,#ff5f00 98%,#ff3600)"></i><i style="background:linear-gradient(90deg,#43ffbc,#5fa 1.3%,#6dff92 1.6%,#93ff6c 2%,#efff10 2.7%,#ffdf00 3.1%,#ff7d00 3.8%,#ff6d00 4.1%,#ff8a00 4.5%,#ffc500 4.9%,#ebff14 5.2%,#3fffc0 5.9%,#1effe1 6.3%,#00fbff 7.7%,#00dbff 8.8%,#00e1ff 9.2%,#0ff 9.5%,#1dffe2 9.9%,#2affd5 10.3%,#2fffd0 13.1%,#51ffae 14.9%,#36ffc9 18.5%,#00fbff 20%,#00dbff 21%,#00e6ff 22.1%,#00b4ff 23.9%,#00a5ff 25.4%,#00c3ff 26.1%,#00c4ff 26.4%,#009dff 27.2%,#0097ff 27.5%,#00b7ff 29.3%,#0af 29.7%,#0089ff 30%,#0004ff 31.1%,#0000e8 31.5%,#000098 32.6%,#000080 33.6%,#000080 69.6%,#000083 70.3%,#0000a2 71.8%,#0000a3 72.5%,#0000cf 73.6%,#0000cb 74.6%,#0000f9 75.7%,#0000e9 76.4%,#00e 76.8%,#0004ff 77.2%,#0024ff 77.9%,#0025ff 78.6%,#003aff 79%,#00d3ff 80.8%,#00f7ff 81.5%,#00fdff 81.8%,#1dffe2 84.4%,#5bffa4 85.8%,#9f6 89%,#fffc00 92.6%,#ffcd00 94.8%,#ff4b00 98.7%,#ff3b00)"></i><i style="background:linear-gradient(90deg,#37ffc8,#4effb1 1.6%,#61ff9e 2%,#e0ff1f 3.1%,#fff000 3.4%,#ffc500 3.8%,#ffb400 4.1%,#ffce00 4.5%,#fcff03 4.9%,#62ff9d 5.6%,#2fd 5.9%,#09fff6 6.3%,#00fdff 6.7%,#00c2ff 8.8%,#00cbff 9.2%,#07fff8 9.9%,#18ffe7 10.3%,#1cffe3 13.1%,#3effc1 14.6%,#45ffba 16%,#20ffdf 17.1%,#18ffe7 18.9%,#00f7ff 19.6%,#0cf 20.3%,#00c3ff 20.7%,#00beff 21%,#00d4ff 22.1%,#00a0ff 23.9%,#00a9ff 24.6%,#00a3ff 25.4%,#00b1ff 26.1%,#0af 26.4%,#0085ff 27.2%,#0081ff 27.5%,#00abff 29.3%,#00a1ff 29.7%,#0083ff 30%,#00f 31.1%,#0000d5 31.8%,#00009b 32.6%,#000082 33.3%,#000080 33.6%,#000080 69.2%,#008 70.7%,#0000a6 72.5%,#0000c7 73.6%,#0000c9 74.6%,#0003ff 75.7%,#0002ff 76.8%,#002dff 78.6%,#00d9ff 81.1%,#0ff 82.2%,#21ffde 84.4%,#5cffa3 85.8%,#aeff51 89.7%,#fdff02 92.6%,#ffcb00 94.8%,#ff4e00 98.7%,#ff3c00)"></i><i style="background:linear-gradient(90deg,#1fffe0,#39ffc6 0.9%,#48ffb7 2%,#5affa5 2.3%,#ff0 3.8%,#ffef00 4.1%,#f9ff06 4.5%,#c9ff36 4.9%,#40ffbf 5.6%,#09fff6 5.9%,#00f2ff 6.3%,#00a7ff 8.8%,#00b1ff 9.2%,#00ebff 9.9%,#01fffe 10.6%,#09fff6 13.1%,#2dffd2 14.6%,#36ffc9 16%,#2dffd2 16.4%,#01fffe 17.1%,#00f5ff 17.8%,#01fffe 18.9%,#00fbff 19.2%,#00a3ff 20.3%,#009dff 20.7%,#009dff 21%,#00c3ff 22.1%,#008fff 23.2%,#0087ff 23.6%,#00a6ff 24.6%,#00a5ff 25.4%,#0097ff 26.1%,#0069ff 27.2%,#0067ff 27.5%,#0074ff 28.2%,#009dff 29.3%,#0097ff 29.7%,#007dff 30%,#0002ff 31.1%,#0000eb 31.5%,#0000db 31.8%,#00009d 32.6%,#000082 33.3%,#000080 33.6%,#000080 69.6%,#00008c 71%,#0000bd 73.2%,#0000c8 74.6%,#0000f8 75.4%,#0017ff 76.4%,#00f 77.5%,#0009ff 77.9%,#0097ff 80.4%,#00dfff 81.5%,#00fbff 82.2%,#14ffeb 83.6%,#31ffce 84.7%,#5cffa3 85.8%,#fffe00 93%,#ff8200 96.9%,#ff5200 98.7%,#ff3d00)"></i><i style="background:linear-gradient(90deg,#01fffe,#21ffde 0.9%,#38ffc7 2.3%,#54ffab 2.7%,#d3ff2c 3.8%,#e3ff1c 4.1%,#ceff31 4.5%,#a0ff5f 4.9%,#29ffd6 5.6%,#00f7ff 5.9%,#0086ff 8.8%,#0093ff 9.2%,#00d2ff 9.9%,#00e2ff 10.3%,#00feff 13.5%,#08fff7 13.8%,#1bffe4 14.6%,#24ffdb 16%,#1affe5 16.4%,#01fffe 16.7%,#00daff 17.4%,#00dfff 19.2%,#0086ff 20.3%,#0080ff 20.7%,#0080ff 21%,#00a8ff 22.1%,#0076ff 23.2%,#0071ff 23.6%,#009aff 24.6%,#009cff 25%,#008bff 25.7%,#005bff 26.8%,#0050ff 27.5%,#0059ff 28.2%,#08f 29.3%,#08f 29.7%,#07f 30%,#0002ff 31.1%,#0000eb 31.5%,#0000d9 31.8%,#00009c 32.6%,#000082 33.3%,#000080 33.6%,#000080 69.6%,#00008e 71.4%,#0000b8 72.8%,#0000c1 74.3%,#0000cd 74.6%,#0000fd 75.4%,#0012ff 75.7%,#001cff 76.4%,#0000fd 77.5%,#0009ff 77.9%,#003fff 78.6%,#008dff 80.4%,#00d7ff 81.5%,#00f9ff 82.2%,#18ffe7 83.6%,#5affa5 85.8%,#a1ff5e 88.7%,#c7ff38 90.8%,#fcff03 93%,#ff8c00 96.6%,#ff3d00)"></i><i style="background:linear-gradient(90deg,#0df,#08fff7 0.9%,#1affe5 2.3%,#54ffab 3.1%,#abff54 3.8%,#bcff43 4.1%,#a9ff56 4.5%,#19ffe6 5.6%,#00edff 5.9%,#00b3ff 7.4%,#0072ff 8.5%,#0068ff 8.8%,#0073ff 9.2%,#0bf 9.9%,#00ceff 10.3%,#00d7ff 11.3%,#00ebff 12.1%,#00e4ff 13.1%,#00eaff 13.8%,#01fffe 14.6%,#1fe 15.6%,#02fffd 16.4%,#00c7ff 17.4%,#00b3ff 19.2%,#08f 20%,#06f 21%,#0080ff 22.1%,#0064ff 23.6%,#0078ff 24.6%,#0061ff 26.1%,#003fff 27.2%,#003cff 27.9%,#003eff 28.2%,#0074ff 29.7%,#0071ff 30%,#0058ff 30.4%,#0001ff 31.1%,#009 32.6%,#000080 33.6%,#000080 70%,#000090 71.8%,#0000b6 72.8%,#0000bc 73.9%,#00e 75%,#0005ff 75.4%,#0014ff 75.7%,#000fff 77.5%,#0058ff 79%,#00a3ff 80.8%,#00d7ff 81.5%,#00f8ff 82.2%,#13ffec 83.3%,#86ff79 87.6%,#faff05 93%,#ff9600 96.2%,#ff3e00)"></i><i style="background:linear-gradient(90deg,#00b9ff,#00b9ff 0.2%,#00efff 0.9%,#00f9ff 1.3%,#00f4ff 2%,#00fdff 2.3%,#34ffcb 3.1%,#83ff7c 3.8%,#95ff6a 4.1%,#83ff7c 4.5%,#0afff5 5.6%,#00c9ff 6.3%,#00a8ff 7.4%,#005dff 8.5%,#004fff 8.8%,#0057ff 9.2%,#00a0ff 9.9%,#00b5ff 10.3%,#00b8ff 11.3%,#00d9ff 12.1%,#00dcff 12.4%,#0cf 13.5%,#00cdff 14.2%,#00f5ff 14.9%,#0ff 15.6%,#00f7ff 16%,#00c3ff 17.1%,#0075ff 19.6%,#006eff 20.3%,#0049ff 21%,#04f 21.4%,#0054ff 22.1%,#004fff 24.6%,#003dff 25.4%,#0041ff 26.1%,#02f 28.2%,#006aff 30%,#005cff 30.4%,#0001ff 31.1%,#000095 32.6%,#000080 33.6%,#000080 69.6%,#00008d 71.8%,#0000b5 72.8%,#0000c1 73.9%,#0000fa 75%,#0019ff 75.7%,#0004ff 76.4%,#0004ff 76.8%,#0039ff 77.9%,#00a6ff 80.8%,#00d7ff 81.5%,#00f8ff 82.2%,#79ff86 86.9%,#a7ff58 89.4%,#e4ff1b 91.5%,#f9ff06 93%,#ffa000 95.9%,#ff3f00)"></i><i style="background:linear-gradient(90deg,#00a3ff,#00a3ff 0.2%,#00daff 0.9%,#00e3ff 1.3%,#00d8ff 2%,#03fffc 2.7%,#5bffa4 3.8%,#67ff98 4.1%,#58ffa7 4.5%,#1effe1 5.2%,#00f3ff 5.6%,#00a4ff 6.3%,#007bff 7.7%,#003fff 8.8%,#0040ff 9.2%,#0086ff 9.9%,#009bff 10.3%,#009cff 11.3%,#00bdff 12.1%,#00c0ff 12.4%,#00b0ff 13.8%,#00b6ff 14.2%,#00e7ff 15.3%,#00daff 16%,#00a4ff 17.1%,#07f 18.9%,#0058ff 19.6%,#004cff 20.3%,#0029ff 21%,#0026ff 21.4%,#0039ff 22.1%,#0037ff 23.2%,#002aff 23.9%,#002cff 25%,#0016ff 27.2%,#0000fc 28.2%,#0006ff 28.6%,#004bff 29.7%,#0058ff 30%,#004eff 30.4%,#0027ff 30.8%,#0000fb 31.1%,#0000a1 32.2%,#000087 32.9%,#000080 33.6%,#000080 69.6%,#00008e 71.8%,#0000af 72.8%,#0000c2 73.9%,#0000f9 75%,#001aff 75.7%,#000aff 76.4%,#000eff 76.8%,#004fff 77.9%,#00b4ff 80.8%,#00f3ff 82.2%,#03fffc 82.6%,#48ffb7 84.7%,#9aff65 88.7%,#e7ff18 91.5%,#fdff02 93%,#ffa100 95.9%,#ff4000)"></i><i style="background:linear-gradient(90deg,#0092ff,#0092ff 0.2%,#00c1ff 0.9%,#00c8ff 1.3%,#00baff 2%,#00f1ff 2.7%,#12ffed 3.1%,#38ffc7 3.8%,#3affc5 4.1%,#23ffdc 4.9%,#0afff5 5.2%,#00dbff 5.6%,#007aff 6.3%,#006aff 6.7%,#0062ff 8.1%,#0035ff 8.8%,#002eff 9.2%,#006dff 9.9%,#0081ff 10.3%,#0083ff 11.3%,#009eff 12.1%,#0094ff 13.1%,#009aff 13.8%,#00c8ff 15.3%,#00bcff 16%,#0076ff 17.4%,#0061ff 18.9%,#0009ff 21%,#000aff 21.4%,#0026ff 22.1%,#001aff 23.2%,#0001ff 24.3%,#0019ff 25.4%,#0002ff 26.1%,#0000f6 26.4%,#0000fc 27.2%,#0000f7 27.5%,#0000d6 28.2%,#0000e2 28.6%,#00f 29%,#0038ff 29.7%,#0045ff 30%,#003bff 30.4%,#001bff 30.8%,#0000f4 31.1%,#009 32.2%,#000080 33.6%,#000080 69.6%,#000096 72.1%,#0000c3 73.9%,#0000f5 75%,#0019ff 75.7%,#001eff 76.8%,#0063ff 77.9%,#0081ff 78.6%,#0bf 80.4%,#00cdff 81.5%,#0ef 82.2%,#01fffe 82.6%,#4bffb4 84.7%,#64ff9b 86.2%,#e8ff17 91.5%,#fffc00 93%,#ff7000 97.7%,#ff4100)"></i><i style="background:linear-gradient(90deg,#007eff,#007eff 0.2%,#00a8ff 0.9%,#00a4ff 2%,#02fffd 3.1%,#1fffe0 3.8%,#09fff6 4.9%,#00f0ff 5.2%,#0089ff 5.9%,#0060ff 6.3%,#0048ff 6.7%,#0047ff 7.4%,#0056ff 8.1%,#0019ff 9.2%,#0064ff 10.3%,#006cff 11.3%,#0082ff 12.1%,#0070ff 13.1%,#0074ff 13.5%,#00acff 15.3%,#00a3ff 16%,#0060ff 17.1%,#05f 17.4%,#004fff 18.9%,#0045ff 19.2%,#0018ff 20%,#0000f7 20.7%,#0000eb 21%,#00f 21.8%,#000eff 22.1%,#0002ff 22.8%,#0000e2 24.3%,#0000fd 25%,#0005ff 25.4%,#0000e1 26.4%,#0000e9 27.5%,#0000c5 28.2%,#0000d1 28.6%,#0000f1 29%,#01f 29.3%,#0036ff 30%,#002eff 30.4%,#0012ff 30.8%,#0000ed 31.1%,#00a 31.8%,#000094 32.2%,#000080 33.6%,#000080 69.6%,#000094 71.8%,#0000b6 73.6%,#0000f2 75%,#0008ff 75.4%,#03f 76.8%,#06f 77.5%,#0098ff 78.6%,#00ceff 80.8%,#0cf 81.5%,#00ecff 82.2%,#01fffe 82.6%,#1fffe0 83.6%,#4cffb3 84.7%,#feff01 92.6%,#ff6f00 97.7%,#ff4300)"></i><i style="background:linear-gradient(90deg,#0064ff,#0064ff 0.2%,#008fff 0.9%,#0096ff 2%,#01fffe 3.4%,#0dfff2 3.8%,#02fffd 4.5%,#00cfff 5.2%,#07f 5.9%,#0042ff 6.7%,#0043ff 8.1%,#000eff 8.8%,#0000fc 9.2%,#0042ff 10.3%,#0070ff 12.1%,#006bff 12.4%,#0046ff 13.1%,#0048ff 13.5%,#008bff 14.9%,#0097ff 15.6%,#0085ff 16.4%,#0049ff 17.1%,#003bff 17.4%,#003fff 19.2%,#000cff 20%,#0000f5 20.3%,#0000d3 21%,#0000d2 21.4%,#0000e8 22.1%,#0000d5 23.9%,#0000f0 27.2%,#0000d6 28.2%,#0000f4 29%,#000cff 29.3%,#0030ff 30%,#002bff 30.4%,#000eff 30.8%,#0000e4 31.1%,#0000c0 31.5%,#000092 32.2%,#000080 33.6%,#000080 69.2%,#000096 71.4%,#0000b7 72.8%,#0000b2 73.6%,#0000f2 75%,#0005ff 75.4%,#0029ff 76.1%,#0084ff 77.5%,#00a2ff 78.2%,#00b2ff 79.7%,#00cfff 80.8%,#00d3ff 81.5%,#00f1ff 82.2%,#03fffc 82.6%,#4bffb4 84.7%,#fffc00 92.6%,#ff7000 97.7%,#ff4800)"></i><i style="background:linear-gradient(90deg,#004fff,#004fff 0.2%,#0076ff 0.9%,#08f 2%,#00eaff 3.4%,#00fdff 4.1%,#00d3ff 4.9%,#0086ff 5.6%,#0050ff 6.3%,#003bff 7%,#0030ff 8.1%,#0000f4 8.8%,#0000e2 9.2%,#0000f4 9.5%,#0010ff 9.9%,#004dff 11.3%,#005fff 12.1%,#05f 12.4%,#001eff 13.1%,#001dff 13.5%,#0080ff 15.3%,#008aff 16%,#007dff 16.4%,#0035ff 17.1%,#0024ff 17.4%,#003cff 18.9%,#0038ff 19.2%,#00f 20%,#0000d0 20.7%,#0000b8 21.4%,#0000c4 22.1%,#0000bd 22.8%,#0000d5 24.3%,#0000cf 25.4%,#0000fb 27.2%,#00e 28.6%,#0000f9 29%,#002cff 30%,#002aff 30.4%,#000bff 30.8%,#0000b8 31.5%,#000090 32.2%,#000080 33.6%,#000080 69.2%,#00009b 71.4%,#0000c5 72.8%,#0000af 73.6%,#0000b9 73.9%,#0000f4 75%,#0003ff 75.4%,#0016ff 75.7%,#0087ff 77.2%,#00adff 77.9%,#00bfff 78.6%,#00b5ff 79.7%,#00d9ff 81.5%,#00f5ff 82.2%,#05fffa 82.6%,#4affb5 84.7%,#8aff75 87.6%,#b1ff4e 88.7%,#b5ff4a 89.7%,#fdff02 92.3%,#ffc200 94.8%,#ff9b00 95.9%,#ff6a00 98%,#ff4c00)"></i><i style="background:linear-gradient(90deg,#005cff,#006eff 2%,#0cf 3.4%,#00e6ff 4.1%,#00bfff 4.9%,#0075ff 5.6%,#003eff 6.3%,#0023ff 7%,#001bff 8.1%,#0008ff 8.5%,#0000ea 8.8%,#0000da 9.2%,#0002ff 10.3%,#0030ff 11.3%,#003dff 12.1%,#0035ff 12.4%,#0007ff 13.1%,#0005ff 13.5%,#001fff 14.2%,#0062ff 15.3%,#0078ff 16%,#006fff 16.4%,#0025ff 17.1%,#01f 17.4%,#001fff 18.9%,#001bff 19.2%,#0002ff 19.6%,#0000be 20.7%,#00a 21.4%,#0000ac 22.8%,#00c 24.3%,#0000c9 25.4%,#00e 26.8%,#0000e8 28.6%,#0000f9 29.3%,#0021ff 30%,#0021ff 30.4%,#0003ff 30.8%,#0000d2 31.1%,#00009c 31.8%,#000086 32.6%,#000080 33.6%,#000080 69.2%,#00009c 71.4%,#0000c1 72.8%,#00b 73.6%,#0000f7 75%,#001aff 75.7%,#08f 77.2%,#00b7ff 78.2%,#00c6ff 79%,#00c3ff 80%,#00d1ff 81.1%,#00f6ff 82.2%,#06fff9 82.6%,#4cffb3 84.7%,#abff54 88.7%,#b6ff49 89.7%,#df2 90.8%,#fffe00 92.3%,#ff7600 97.7%,#ff4d00)"></i><i style="background:linear-gradient(90deg,#0070ff,#004eff 1.3%,#0052ff 2%,#005fff 2.3%,#00c5ff 3.8%,#00ceff 4.1%,#00b2ff 4.9%,#002cff 6.3%,#0006ff 7%,#0000fb 7.4%,#0001ff 8.1%,#0000de 9.2%,#00d 9.5%,#0000e5 10.3%,#0003ff 11%,#0010ff 11.3%,#0016ff 12.1%,#0000f8 13.1%,#0000fe 14.2%,#0062ff 16%,#005dff 16.4%,#0016ff 17.1%,#00f 17.4%,#0000f3 18.2%,#0000f9 19.2%,#0000bf 20.3%,#0000a6 21.4%,#0000b0 22.1%,#0000ab 23.2%,#0000e0 26.4%,#0000d3 27.5%,#0000de 29%,#0000fd 29.7%,#0012ff 30%,#0012ff 30.4%,#0000f0 30.8%,#0000c5 31.1%,#000098 31.8%,#000085 32.6%,#000080 33.6%,#000080 68.9%,#0000a5 72.1%,#0000f6 75%,#0007ff 75.4%,#06f 76.8%,#0bf 78.6%,#00cdff 79.3%,#00c9ff 80.8%,#00f7ff 82.2%,#4cffb3 84.7%,#b0ff4f 89.4%,#e2ff1d 90.8%,#fffc00 92.3%,#ff4d00)"></i><i style="background:linear-gradient(90deg,#006aff,#003dff 1.3%,#003fff 2%,#004bff 2.3%,#00aeff 3.8%,#00b9ff 4.1%,#00b5ff 4.5%,#0092ff 5.2%,#0021ff 6.3%,#0007ff 6.7%,#0000f0 7%,#0000e2 7.4%,#0000ea 8.5%,#00c 10.3%,#0000f4 11.3%,#0000e8 14.2%,#0000f4 14.6%,#000bff 14.9%,#04f 16%,#0043ff 16.4%,#0008ff 17.1%,#0000f2 17.4%,#0000d9 18.2%,#0000e4 19.2%,#0000a6 21%,#0000b5 22.1%,#0000a6 23.2%,#0000d2 26.1%,#0000d2 26.4%,#0000b7 27.2%,#0000b5 27.5%,#0000db 29.3%,#0000fe 30%,#0000fc 30.4%,#0000b8 31.1%,#000094 31.8%,#000084 32.6%,#000080 33.6%,#000080 68.9%,#0000a6 72.5%,#0000d8 73.6%,#0000f7 75%,#0006ff 75.4%,#0057ff 76.8%,#0082ff 77.9%,#00c1ff 79%,#00d3ff 79.7%,#00cdff 80.8%,#00fcff 82.2%,#2fffd0 83.6%,#9eff61 88.7%,#e2ff1d 90.8%,#fffd00 92.3%,#ff4d00)"></i><i style="background:linear-gradient(90deg,#0037ff,#003eff 2%,#004bff 2.3%,#0090ff 3.4%,#00a0ff 4.1%,#08f 5.2%,#0000fe 6.7%,#0000d8 7.4%,#0000e0 8.5%,#0000b4 10.3%,#0000e6 11.3%,#0000d3 14.2%,#0001ff 15.3%,#001aff 16%,#001dff 16.4%,#0010ff 16.7%,#0000fc 17.1%,#0000c4 18.2%,#0000c7 18.5%,#0000e2 19.2%,#0000a3 21%,#0000ad 22.1%,#00009c 23.2%,#0000c9 26.1%,#0000c5 26.4%,#00009f 27.2%,#00009d 27.5%,#0000bf 28.2%,#0000eb 30%,#0000e3 30.4%,#0000ab 31.1%,#00008f 31.8%,#000080 33.6%,#000080 68.9%,#0000a5 71.8%,#0000e3 73.6%,#0000fa 74.6%,#001dff 75.7%,#0bf 79%,#00f6ff 81.8%,#06fff9 82.2%,#1fffe0 82.9%,#83ff7c 87.6%,#c6ff39 89.7%,#fffe00 92.3%,#ff5000)"></i><i style="background:linear-gradient(90deg,#0004ff,#0004ff 0.2%,#0036ff 1.3%,#004eff 2.3%,#0082ff 3.1%,#008fff 3.8%,#007fff 5.2%,#0017ff 6.3%,#0000f7 6.7%,#0000dc 7%,#0000d1 7.4%,#0000d3 8.5%,#0000a7 10.3%,#0000e0 11.3%,#0000bd 14.2%,#0000e8 15.3%,#00f 16.4%,#0000f4 17.1%,#0000b3 18.2%,#0000b7 18.5%,#0000e2 19.2%,#0000a0 21%,#0000a4 22.1%,#000094 23.2%,#0000c0 26.1%,#0000b8 26.4%,#00008f 27.2%,#00008d 27.5%,#0000bf 28.6%,#0000da 30%,#0000d1 30.4%,#0000a0 31.1%,#000092 31.5%,#000080 33.3%,#000080 68.2%,#0000a2 71.4%,#0000fe 74.3%,#02f 75.7%,#00b7ff 79%,#0ff 81.8%,#25ffda 82.9%,#30ffcf 84%,#7dff82 87.6%,#c4ff3b 89.4%,#d7ff28 90.8%,#ff0 92.3%,#ff5300)"></i><i style="background:linear-gradient(90deg,#0000f2,#0005ff 0.5%,#002aff 1.3%,#0037ff 2%,#0047ff 2.3%,#007eff 3.1%,#0090ff 3.8%,#008dff 4.5%,#007bff 5.2%,#0016ff 6.3%,#0000f7 6.7%,#0000de 7%,#0000c4 7.7%,#0000a1 10.3%,#0000cb 11.3%,#0000d5 12.1%,#0000a7 14.2%,#0000fe 16.4%,#0000f6 17.1%,#0000b9 18.2%,#00b 18.5%,#0000df 19.2%,#0000ae 20.3%,#000098 21.4%,#0000a0 22.1%,#00008d 23.2%,#00008e 23.9%,#0000b2 26.1%,#000092 27.5%,#0000c3 29.3%,#0000c8 30%,#00008f 31.5%,#000080 33.6%,#000080 68.5%,#0000a4 71.4%,#0000f6 74.3%,#001aff 75.7%,#0047ff 76.8%,#00a9ff 78.6%,#00faff 81.1%,#43ffbc 85.1%,#80ff7f 87.6%,#c5ff3a 89.4%,#d9ff26 90.8%,#fffd00 92.3%,#ff5000)"></i><i style="background:linear-gradient(90deg,#0000f0,#0000fd 0.5%,#002bff 2%,#0089ff 3.4%,#00a1ff 4.1%,#009cff 4.5%,#007bff 5.2%,#0017ff 6.3%,#0000fa 6.7%,#0000a0 8.1%,#000098 8.5%,#0000a1 10.6%,#0000af 11.3%,#0000cd 12.1%,#0000ce 12.4%,#00009f 13.5%,#000093 14.2%,#0000ae 14.9%,#0000f7 16%,#0007ff 16.7%,#0000fc 17.1%,#0000c8 18.2%,#0000d9 19.2%,#00009f 20.3%,#000096 21%,#00009d 22.1%,#000085 23.6%,#008 24.6%,#0000a7 26.4%,#000098 28.2%,#0000be 29.3%,#0000c0 29.7%,#00008d 31.5%,#000080 32.9%,#000080 67.8%,#0000a9 72.5%,#0000fa 75%,#0024ff 76.4%,#00a9ff 78.6%,#00c6ff 79.7%,#00f5ff 80.8%,#04fffb 81.1%,#31ffce 83.6%,#3cffc3 85.1%,#c3ff3c 89.4%,#f8ff07 91.9%,#ffb100 95.9%,#ff4a00)"></i><i style="background:linear-gradient(90deg,#0000e9,#00f 0.9%,#001bff 2%,#002cff 2.3%,#009eff 3.8%,#00b0ff 4.1%,#00abff 4.5%,#0097ff 4.9%,#0000fe 6.7%,#0000cd 7.4%,#00008c 8.1%,#000084 8.5%,#0000a3 10.3%,#00009f 11.3%,#0000c3 12.1%,#0000c5 12.4%,#0000a2 13.1%,#00008b 14.2%,#0000a3 14.9%,#0000f6 16%,#0009ff 16.4%,#0003ff 16.7%,#0000cd 18.2%,#0000d1 19.2%,#0000a6 20%,#000094 20.7%,#009 22.1%,#000081 24.3%,#00009d 26.4%,#000090 28.2%,#000096 28.6%,#0000b8 29.3%,#0000b8 29.7%,#00008a 31.5%,#000080 33.6%,#000080 68.2%,#0000a2 70.7%,#0000a5 72.8%,#0000ec 74.6%,#0000fc 75.4%,#0027ff 76.8%,#00a6ff 78.6%,#00c7ff 79.7%,#00fbff 80.8%,#1dffe2 81.8%,#1cffe3 82.6%,#35ffca 83.6%,#38ffc7 85.1%,#adff52 88.7%,#faff05 91.9%,#ffb200 95.9%,#ff4700)"></i><i style="background:linear-gradient(90deg,#0000d4,#00f 1.3%,#0003ff 2%,#0012ff 2.3%,#09f 3.8%,#00b2ff 4.1%,#00b0ff 4.5%,#0084ff 5.2%,#004dff 5.9%,#0005ff 6.7%,#0000e5 7%,#000086 8.1%,#000080 8.5%,#000089 9.2%,#0000bf 10.3%,#0000ac 11.3%,#0000b2 12.4%,#000093 14.2%,#00009b 14.6%,#0000e4 16%,#0000ea 16.4%,#0000bd 17.8%,#0000c6 19.2%,#00009b 20.3%,#000084 24.3%,#000096 27.2%,#00008e 28.2%,#0000b0 29.7%,#00008d 31.1%,#000080 32.6%,#000080 67.8%,#00008d 69.6%,#0000c3 73.6%,#0000fc 75%,#0027ff 76.8%,#008aff 78.2%,#0ff 80.8%,#15ffea 81.5%,#38ffc7 83.6%,#36ffc9 84.7%,#41ffbe 85.4%,#aeff51 88.7%,#fffe00 92.3%,#ff9a00 96.9%,#ff4c00)"></i><i style="background:linear-gradient(90deg,#0000c7,#0000c7 0.2%,#0000fe 1.3%,#0000f2 2%,#0000fc 2.3%,#00a9ff 4.1%,#00a9ff 4.5%,#0054ff 5.9%,#000bff 6.7%,#0000e2 7%,#00009e 7.7%,#000089 8.1%,#000083 8.5%,#000089 9.2%,#009 9.5%,#0000d0 10.3%,#0000a7 12.1%,#00009b 13.8%,#0000a4 14.6%,#0000c3 15.3%,#0000c9 16%,#0000a4 17.4%,#0000b8 19.2%,#0000a2 20%,#000093 21%,#000084 25%,#000092 27.2%,#00008c 28.2%,#0000a8 29.7%,#000086 31.5%,#000080 32.6%,#000080 67.8%,#000096 70.3%,#0000dc 72.5%,#0000d2 73.6%,#0000fb 74.6%,#002bff 75.7%,#0027ff 76.4%,#0031ff 76.8%,#007dff 77.9%,#0098ff 78.6%,#00f5ff 80.4%,#04fffb 80.8%,#3bffc4 83.3%,#46ffb9 85.4%,#afff50 88.7%,#fcff03 92.3%,#ff9600 97.3%,#ff5d00 99.1%,#ff5200)"></i><i style="background:linear-gradient(90deg,#0000c7,#0000c7 0.2%,#0000f6 0.9%,#0005ff 1.3%,#0000ef 2%,#0000f4 2.3%,#0012ff 2.7%,#0091ff 4.1%,#0090ff 4.5%,#0046ff 5.9%,#0007ff 6.7%,#0000e0 7%,#0000a4 7.7%,#000093 8.1%,#000087 8.8%,#000093 9.5%,#0000ba 10.3%,#00009c 13.1%,#00009c 14.2%,#0000b8 15.3%,#009 17.4%,#0000a5 19.2%,#000091 21%,#000082 25.4%,#00008d 28.6%,#00009d 30%,#000084 31.5%,#000080 32.6%,#000080 67.8%,#000095 70.3%,#0000e9 72.5%,#0000fa 74.6%,#002cff 75.7%,#0048ff 76.8%,#00fbff 80.4%,#1affe5 81.8%,#42ffbd 83.3%,#53ffac 85.8%,#afff50 88.7%,#faff05 92.3%,#ff8e00 97.7%,#f60 98.7%,#f50)"></i><i style="background:linear-gradient(90deg,#0000cd,#0000cd 0.2%,#0000fe 0.9%,#000dff 1.3%,#0001ff 1.6%,#0000f1 2%,#0000f3 2.3%,#000dff 2.7%,#0073ff 4.1%,#006eff 4.5%,#0045ff 5.2%,#002fff 5.9%,#00f 6.7%,#0000ad 7.7%,#000090 8.5%,#008 9.2%,#00009c 10.3%,#0000a4 12.1%,#000098 13.8%,#0000a8 15.3%,#000097 16.7%,#000080 25.7%,#000095 30%,#000080 32.6%,#000080 67.4%,#008 69.2%,#00009d 70.7%,#00f 73.2%,#0003ff 73.9%,#0000f0 74.6%,#0000fb 75%,#0064ff 76.8%,#0087ff 77.9%,#00ecff 80%,#03fffc 80.4%,#12ffed 80.8%,#1effe1 81.8%,#47ffb8 83.3%,#58ffa7 85.8%,#aeff51 88.7%,#f8ff07 92.3%,#ff8d00 97.7%,#ff6100 99.1%,#ff5600)"></i><i style="background:linear-gradient(90deg,#0000d5,#0000d5 0.2%,#0006ff 0.9%,#0013ff 1.3%,#0000f7 2.3%,#0058ff 4.1%,#004fff 4.5%,#0023ff 5.2%,#0000f7 6.7%,#0000c7 7.4%,#000094 8.5%,#008 9.2%,#0000a0 12.1%,#000095 13.5%,#00009c 15.3%,#00008f 16.4%,#00008f 22.1%,#000080 25.4%,#00008f 30.4%,#000080 32.6%,#000080 67.4%,#000097 70.3%,#0000fd 72.8%,#0016ff 73.6%,#000cff 73.9%,#0000e5 74.6%,#0000ef 75%,#0004ff 75.4%,#0062ff 76.4%,#0079ff 76.8%,#008fff 77.9%,#00d7ff 79.7%,#00f0ff 80%,#09fff6 80.4%,#50ffaf 83.6%,#63ff9c 86.2%,#adff52 88.7%,#f7ff08 92.3%,#fffb00 92.6%,#ff8d00 97.7%,#ff6300 99.1%,#ff5600)"></i><i style="background:linear-gradient(90deg,#0000e8,#0006ff 0.9%,#000fff 1.3%,#0008ff 2.3%,#0049ff 4.1%,#003fff 4.5%,#0010ff 5.2%,#0002ff 6.3%,#000095 8.5%,#008 9.2%,#00009a 12.1%,#000096 14.9%,#000089 16.4%,#00008e 18.9%,#000080 24.3%,#00008c 30%,#000080 32.6%,#000080 67.1%,#000098 70%,#0000fd 72.5%,#0000fd 73.6%,#0000d8 74.6%,#0000ec 75%,#000aff 75.4%,#005eff 76.4%,#0087ff 77.2%,#00d0ff 79.3%,#00f5ff 80%,#0bfff4 80.4%,#4cffb3 83.3%,#6cff93 86.5%,#aeff51 88.7%,#fbff04 92.3%,#ff5400)"></i><i style="background:linear-gradient(90deg,#0000f5,#00f 0.9%,#0019ff 3.1%,#003cff 4.1%,#0031ff 4.5%,#00f 5.2%,#0000f6 6.3%,#000096 8.5%,#008 9.2%,#000094 12.1%,#000091 14.9%,#000085 16.4%,#00008d 18.9%,#000080 23.9%,#00008a 30%,#000080 32.6%,#000080 67.4%,#00009f 70%,#0000e8 71.4%,#0001ff 72.1%,#000eff 72.5%,#000aff 72.8%,#0000f6 73.2%,#0000cf 74.3%,#0000d1 74.6%,#00e 75%,#0013ff 75.4%,#03f 75.7%,#006fff 76.8%,#00acff 77.5%,#00c9ff 79%,#00fbff 80%,#49ffb6 82.9%,#75ff8a 86.9%,#b8ff47 89%,#ff0 92.3%,#ff9000 97.7%,#ff6200 99.1%,#ff5200)"></i><i style="background:linear-gradient(90deg,#0000f6,#0000f9 1.3%,#0015ff 2.3%,#0015ff 3.1%,#002eff 4.1%,#0000f6 5.2%,#0000f7 6.3%,#0000a2 8.1%,#008 9.2%,#00008e 14.9%,#000082 16.4%,#00008a 18.9%,#000080 21%,#008 30%,#000080 32.6%,#000080 67.1%,#00009a 69.6%,#0000b9 70.3%,#0000fb 71.4%,#0010ff 72.5%,#0000f5 73.2%,#0000e0 73.9%,#0000ec 74.6%,#000aff 75%,#0046ff 75.7%,#006fff 76.8%,#00b2ff 77.5%,#00c1ff 77.9%,#00cfff 79%,#0ff 80%,#52ffad 83.3%,#70ff8f 86.5%,#b8ff47 89%,#fffc00 92.3%,#ffad00 95.9%,#ff8f00 97.7%,#ff5100)"></i><i style="background:linear-gradient(90deg,#0000f0,#0000ec 1.3%,#0001ff 2%,#0020ff 4.1%,#0004ff 4.9%,#0000f4 5.2%,#0000fe 6.3%,#00009d 8.1%,#000084 9.5%,#00008b 14.9%,#000080 16.4%,#000080 67.1%,#00009f 69.6%,#0000c1 70.3%,#0000f6 71%,#000bff 71.4%,#0001ff 73.9%,#005cff 75.7%,#0063ff 76.4%,#0072ff 76.8%,#00aeff 77.5%,#00beff 77.9%,#00c9ff 78.6%,#00f3ff 79.7%,#02fffd 80%,#5bffa4 83.6%,#64ff9b 84.7%,#5fffa0 85.8%,#9fff60 87.9%,#fcff03 91.9%,#ff8d00 97.7%,#ff5000)"></i><i style="background:linear-gradient(90deg,#0000ed,#0000e0 1.3%,#0003ff 2.7%,#0016ff 3.8%,#00f 4.9%,#0000f6 5.2%,#0000fe 6.3%,#000098 8.1%,#000082 9.5%,#000080 66.7%,#0000a0 69.6%,#0000c0 70.3%,#0000f4 71%,#0009ff 71.4%,#0000fa 72.8%,#000cff 73.6%,#0042ff 74.6%,#0069ff 75.7%,#0067ff 76.4%,#0072ff 76.8%,#00b8ff 77.9%,#00f4ff 79.7%,#02fffd 80%,#6f9 84.4%,#5dffa2 85.8%,#9f6 87.6%,#c6ff39 89.7%,#e8ff17 90.8%,#fffd00 92.3%,#f70 98.7%,#ff5200)"></i><i style="background:linear-gradient(90deg,#000aff,#0000e7 2%,#0007ff 3.1%,#00f 4.9%,#0000f0 5.9%,#000097 8.1%,#000085 9.2%,#000080 13.1%,#000080 66.7%,#0000a4 70%,#0000c5 70.7%,#0000fa 71.4%,#0000f6 72.8%,#0003ff 73.2%,#0028ff 74.6%,#0063ff 75.7%,#0078ff 76.8%,#00b8ff 77.9%,#0ff 80%,#53ffac 83.3%,#67ff98 84.7%,#65ff9a 85.8%,#a1ff5e 87.9%,#ff0 92.3%,#ff5900)"></i><i style="background:linear-gradient(90deg,#002bff,#0005ff 1.3%,#0000f3 1.6%,#0000e3 2.3%,#0005ff 3.1%,#0000fe 5.2%,#0000cb 6.3%,#000096 8.1%,#000080 9.9%,#000080 66.7%,#00009d 68.5%,#009 70%,#0000af 70.7%,#0000eb 71.4%,#0000f7 71.8%,#0000f4 72.8%,#01f 73.6%,#000bff 74.6%,#005bff 75.7%,#007eff 76.8%,#00b8ff 77.9%,#00fcff 80%,#48ffb7 82.6%,#75ff8a 86.2%,#cf3 89.7%,#d8ff27 90.8%,#f9ff06 91.9%,#fffe00 92.6%,#ffda00 94.4%,#ffb100 95.9%,#ff9600 97.7%,#ff6000)"></i><i style="background:linear-gradient(90deg,#03f,#0004ff 1.3%,#0000f0 1.6%,#0000e1 2%,#0000e0 2.3%,#0008ff 3.1%,#0000f2 5.2%,#0000b7 6.3%,#000080 9.9%,#000080 66.7%,#00009d 68.5%,#000094 70%,#0000ab 70.7%,#0000e6 71.4%,#0000f6 71.8%,#0000fa 72.5%,#0015ff 73.6%,#0009ff 74.6%,#0052ff 75.7%,#00a7ff 77.5%,#00fbff 80%,#4fffb0 82.9%,#81ff7e 86.5%,#cf3 89.7%,#d5ff2a 90.8%,#f5ff0a 91.9%,#fffd00 93%,#ffb500 95.9%,#ff9b00 97.7%,#ff7200 99.1%,#ff6400)"></i><i style="background:linear-gradient(90deg,#0026ff,#0026ff 0.2%,#0002ff 0.9%,#0000db 2%,#0000e0 2.3%,#0000f6 2.7%,#000cff 3.1%,#000eff 3.4%,#00f 3.8%,#0000d9 5.2%,#0000a8 6.3%,#0000ac 7%,#000083 9.2%,#000080 9.9%,#000080 66.7%,#000097 68.5%,#00008c 69.6%,#0000a4 70.3%,#0000fa 71.8%,#001aff 72.8%,#0019ff 74.3%,#0027ff 75%,#0094ff 77.2%,#00faff 80%,#1dffe2 81.5%,#4cffb3 82.9%,#62ff9d 84.7%,#caff35 89.7%,#fffd00 93.3%,#ffc400 95.5%,#ffa100 97.7%,#ff7500 99.1%,#ff6700)"></i><i style="background:linear-gradient(90deg,#0019ff,#0005ff 0.5%,#00e 0.9%,#00d 1.3%,#0000d5 2%,#0000de 2.3%,#0000f5 2.7%,#000cff 3.1%,#0000fc 3.8%,#00009a 6.3%,#0000a5 7%,#000082 9.2%,#000080 9.9%,#000080 66.7%,#000092 68.5%,#008 69.6%,#0000fb 71.8%,#0027ff 72.5%,#0030ff 72.8%,#0023ff 73.9%,#0032ff 75.4%,#0040ff 75.7%,#0087ff 76.8%,#00faff 80%,#15ffea 81.5%,#48ffb7 82.9%,#61ff9e 84.7%,#7fff80 85.8%,#9f6 87.6%,#c3ff3c 89.4%,#fffd00 93.7%,#ffd100 95.1%,#ffaf00 97.3%,#ff7900 99.1%,#ff6a00)"></i><i style="background:linear-gradient(90deg,#0015ff,#0004ff 0.5%,#0000cb 2%,#0000ec 3.4%,#0000ca 4.9%,#00008d 6.3%,#00009e 7%,#000081 9.2%,#000080 10.3%,#000080 66.4%,#000093 68.5%,#00008a 69.6%,#0000cf 71.4%,#00f 72.1%,#002bff 72.8%,#0030ff 73.2%,#003aff 74.6%,#0023ff 75.4%,#002bff 75.7%,#08f 76.8%,#00ecff 79.3%,#00fcff 80%,#0efff1 81.5%,#4bffb4 83.6%,#c7ff38 89.4%,#faff05 93.7%,#ffd300 95.1%,#ffb200 97.3%,#ff6f00)"></i><i style="background:linear-gradient(90deg,#0010ff,#0003ff 0.5%,#00b 2.3%,#0000cd 3.8%,#0000c6 4.9%,#000085 6.3%,#000097 7%,#000080 9.5%,#000080 66.4%,#000095 68.2%,#00008d 69.2%,#000095 70.3%,#0000b6 71.4%,#0000eb 72.1%,#000bff 72.5%,#0032ff 73.2%,#0041ff 74.3%,#0041ff 74.6%,#0016ff 75.4%,#001aff 75.7%,#008aff 76.8%,#00b1ff 77.5%,#00fdff 79.7%,#01fffe 80.8%,#1fffe0 82.6%,#50ffaf 84%,#9aff65 87.6%,#cbff34 89.4%,#f4ff0b 93.7%,#fffe00 94.1%,#ffd500 95.1%,#ffad00 97.7%,#ff7400)"></i><i style="background:linear-gradient(90deg,#0000f9,#0000eb 0.9%,#0000c1 2%,#0000b2 2.7%,#0000c2 4.1%,#0000bd 4.9%,#000082 6.3%,#000092 7.4%,#000080 9.5%,#000080 66.4%,#000095 67.8%,#000096 70.7%,#0000af 71.4%,#0000e5 72.1%,#0004ff 72.5%,#002dff 73.2%,#003cff 73.9%,#0040ff 74.6%,#0021ff 75.4%,#0029ff 75.7%,#0092ff 76.8%,#00bfff 77.5%,#00d9ff 78.6%,#00faff 79.3%,#02fffd 80.8%,#1bffe4 82.6%,#64ff9b 84.7%,#98ff67 87.6%,#d1ff2e 89.7%,#f2ff0d 93.7%,#ff0 94.1%,#ffcf00 95.5%,#ffb500 97.3%,#ff7c00)"></i><i style="background:linear-gradient(90deg,#0000d9,#0000da 1.3%,#0000a7 3.1%,#00b 4.5%,#000080 6.3%,#00008f 7.7%,#000080 9.5%,#000080 66%,#000091 67.8%,#00008c 68.9%,#000097 70.7%,#0000b7 71.4%,#0000ec 72.1%,#0008ff 72.5%,#0029ff 73.2%,#0040ff 75.4%,#0cf 77.5%,#00f4ff 79%,#03fffc 79.3%,#0efff1 81.8%,#69ff96 84.7%,#93ff6c 87.6%,#cf3 89.7%,#fffe00 94.1%,#ffd200 95.5%,#ff8600)"></i><i style="background:linear-gradient(90deg,#0000ba,#0000d2 1.3%,#0000c7 2%,#0000a2 3.1%,#0000b9 4.1%,#000082 5.9%,#000080 6.3%,#00008d 7.7%,#000080 9.2%,#000080 66%,#00008d 67.8%,#000086 68.9%,#00009c 70.7%,#0000bf 71.4%,#0000f2 72.1%,#000cff 72.5%,#0025ff 73.2%,#0030ff 74.6%,#0076ff 75.7%,#00a1ff 76.8%,#00d7ff 77.5%,#00feff 79%,#1fe 79.7%,#10ffef 81.8%,#6eff91 84.7%,#8eff71 87.6%,#c8ff37 89.7%,#f8ff07 93.7%,#ff9c00 98.7%,#ff8f00)"></i><i style="background:linear-gradient(90deg,#0000b0,#0000cb 1.3%,#0000ce 2%,#0000a9 3.1%,#0000b6 4.1%,#00008b 5.9%,#000093 7.4%,#000080 9.2%,#000080 65.6%,#00008b 69.2%,#0000bf 71.4%,#0000eb 72.1%,#0005ff 72.5%,#0026ff 73.2%,#004cff 75%,#00d3ff 77.5%,#00f7ff 78.6%,#1fe 79.7%,#1effe1 81.8%,#6bff94 84.7%,#8fff70 87.6%,#c7ff38 90.1%,#f7ff08 93.7%,#ffcf00 95.9%,#ff9200)"></i><i style="background:linear-gradient(90deg,#0000a9,#0000d5 2%,#0000d3 2.3%,#0000b2 3.1%,#0000ac 3.4%,#0000b2 4.1%,#000091 6.3%,#00009a 7.4%,#000080 9.2%,#000080 65.6%,#00008d 69.2%,#0000c5 70.7%,#0000be 71.4%,#0000c9 71.8%,#0000fc 72.5%,#0026ff 73.2%,#004bff 74.3%,#05f 75.4%,#0062ff 75.7%,#00b0ff 76.8%,#00faff 78.6%,#2cffd3 81.8%,#7f8 85.4%,#a1ff5e 88.7%,#dbff24 91.5%,#ff0 94.1%,#ffce00 95.9%,#ff9500)"></i><i style="background:linear-gradient(90deg,#0000a2,#0000da 2%,#0000d8 2.3%,#0000a9 3.4%,#00009e 4.1%,#000098 7.4%,#000080 8.8%,#000080 65.6%,#000095 69.2%,#00c 70.7%,#0000be 71.4%,#0000c7 71.8%,#0000fa 72.5%,#0064ff 74.6%,#0059ff 75.4%,#0062ff 75.7%,#0bf 76.8%,#00feff 78.6%,#4fffb0 83.6%,#7dff82 85.8%,#82ff7d 86.9%,#fcff03 94.1%,#ffd000 95.9%,#ff9a00)"></i><i style="background:linear-gradient(90deg,#00009a,#00009a 0.2%,#0000cd 1.3%,#0000dc 2%,#0000d9 2.3%,#000080 4.1%,#000080 4.9%,#000093 5.9%,#000080 8.8%,#000080 65.6%,#008 67.1%,#0000a9 69.6%,#0000c3 70.7%,#0000bf 71.4%,#0000e5 72.1%,#0001ff 72.5%,#002eff 73.6%,#006eff 74.6%,#0069ff 75.4%,#0073ff 75.7%,#0cf 76.8%,#00f6ff 77.5%,#02fffd 79.3%,#26ffd9 80.8%,#5affa5 84.4%,#7cff83 85.8%,#acff53 89.7%,#fffe00 94.4%,#ffcd00 96.2%,#ffa400)"></i><i style="background:linear-gradient(90deg,#000094,#000094 0.2%,#0000d1 1.3%,#0000db 2%,#0000c4 2.7%,#000080 3.8%,#000080 5.2%,#000091 6.3%,#000080 8.8%,#000080 65.6%,#008 67.1%,#0000b6 68.9%,#0000ba 71%,#0000c0 71.4%,#0000ec 72.1%,#0009ff 72.5%,#0028ff 73.6%,#07f 74.6%,#0083ff 75.7%,#00faff 77.2%,#12ffed 77.5%,#14ffeb 77.9%,#01fffe 79%,#00fbff 79.7%,#2affd5 81.1%,#57ffa8 84.4%,#79ff86 85.8%,#a8ff57 89.7%,#fdff02 94.4%,#ffc400 96.9%,#ffac00)"></i><i style="background:linear-gradient(90deg,#000098,#0000c7 1.3%,#0000cd 2%,#0000bc 2.7%,#000080 3.8%,#000080 5.2%,#00008e 6.3%,#000080 8.8%,#000080 65.6%,#000085 66.7%,#0000b9 68.9%,#0000ac 70.7%,#0000bf 71.4%,#0000f3 72.1%,#0024ff 72.8%,#002dff 73.6%,#007aff 74.6%,#08f 75.7%,#0ff 77.2%,#16ffe9 77.5%,#18ffe7 77.9%,#00fdff 79.7%,#2fffd0 81.5%,#3fffc0 83.3%,#74ff8b 85.8%,#a7ff58 89.7%,#fffe00 94.4%,#ffc800 96.9%,#ffaf00)"></i><i style="background:linear-gradient(90deg,#00009c,#00b 1.3%,#0000be 2%,#0000a9 3.1%,#000080 4.1%,#00008c 6.3%,#000080 8.8%,#000080 65.3%,#000089 66.7%,#0000b6 68.9%,#0000a1 70.7%,#0000bf 71.4%,#0000fa 72.1%,#002dff 72.8%,#0035ff 73.6%,#007bff 74.6%,#008aff 75.7%,#02fffd 77.2%,#14ffeb 77.5%,#17ffe8 77.9%,#02fffd 79.7%,#2fffd0 81.5%,#3effc1 83.6%,#65ff9a 85.1%,#a7ff58 89.7%,#fdff02 94.1%,#ffcb00 96.9%,#ffb000)"></i><i style="background:linear-gradient(90deg,#00009a,#0000b3 1.6%,#0000b1 2.3%,#000082 4.5%,#00008a 6.3%,#000080 8.5%,#000080 65.3%,#00008e 66.7%,#0000a7 67.8%,#0000b0 69.2%,#0000a6 70.7%,#0000c7 71.4%,#00f 72.1%,#001fff 72.5%,#0030ff 72.8%,#003dff 73.6%,#007cff 74.6%,#008cff 75.7%,#00feff 77.2%,#15ffea 77.9%,#06fff9 79.7%,#35ffca 81.8%,#3affc5 83.6%,#5dffa2 84.7%,#af5 89.7%,#fffd00 94.1%,#ffcf00 96.9%,#ffb100)"></i><i style="background:linear-gradient(90deg,#000094,#0000ad 1.6%,#00008b 4.1%,#000080 8.5%,#000080 65.3%,#00009f 67.4%,#0000a5 69.2%,#0000c2 70.7%,#0000ef 71.8%,#0004ff 72.1%,#007dff 74.6%,#008eff 75.7%,#00f7ff 77.2%,#10ffef 77.9%,#0cfff3 79.7%,#31ffce 81.5%,#3bffc4 83.6%,#6aff95 85.4%,#fffd00 94.1%,#ffb600 98.7%,#ffb400)"></i><i style="background:linear-gradient(90deg,#00008f,#0000a6 1.6%,#00008c 3.4%,#000080 8.1%,#000080 65.3%,#00009d 67.4%,#000094 68.9%,#0000ab 69.6%,#0000df 70.7%,#00f 71.8%,#0012ff 72.5%,#007eff 74.6%,#0092ff 75.7%,#00f2ff 77.2%,#07fff8 77.5%,#0cfff3 79.3%,#2fffd0 81.1%,#3cffc3 83.6%,#72ff8d 85.8%,#c3ff3c 90.5%,#df2 92.6%,#fbff04 93.7%,#ffb200 98.7%,#ffb800)"></i><i style="background:linear-gradient(90deg,#000092,#00009f 2%,#00008c 3.4%,#000080 8.1%,#000080 64.9%,#0000a2 67.4%,#0000a1 69.2%,#0000fb 71%,#0013ff 72.5%,#0069ff 73.9%,#00a2ff 75.7%,#00fbff 77.2%,#14ffeb 77.9%,#14ffeb 79%,#40ffbf 83.6%,#92ff6d 87.6%,#ceff31 91.9%,#fbff04 93.7%,#ffe700 95.9%,#ffb200 98.7%,#fb0)"></i><i style="background:linear-gradient(90deg,#000095,#00009a 2%,#000080 8.1%,#000080 64.9%,#0000ac 67.8%,#0000ab 69.2%,#0000b4 69.6%,#0000fb 70.7%,#0018ff 71.8%,#0018ff 72.5%,#0027ff 72.8%,#0060ff 73.6%,#00a3ff 75.4%,#00f6ff 76.8%,#21ffde 78.2%,#21ffde 81.5%,#94ff6b 87.6%,#caff35 91.9%,#fbff04 93.7%,#ffea00 95.9%,#ffb400 98.7%,#ffbd00)"></i><i style="background:linear-gradient(90deg,#000096,#000080 7.7%,#000080 64.9%,#00008b 66%,#0000b3 67.8%,#0000b8 69.6%,#0000fc 70.7%,#02f 71.4%,#0029ff 71.8%,#0023ff 72.5%,#0030ff 72.8%,#06f 73.6%,#00aeff 75.4%,#0ff 76.8%,#1effe1 77.5%,#2affd5 78.2%,#2cffd3 79.7%,#19ffe6 80.8%,#1cffe3 81.5%,#94ff6b 87.6%,#c3ff3c 91.5%,#feff01 93.7%,#ffea00 95.9%,#ffba00 98.4%,#ffbf00)"></i><i style="background:linear-gradient(90deg,#000092,#000080 7.7%,#000080 64.9%,#0000b1 67.8%,#0000ac 69.2%,#0000e6 70.7%,#000aff 71%,#002eff 71.4%,#0040ff 71.8%,#0036ff 72.5%,#003eff 72.8%,#07f 73.9%,#00beff 75.7%,#00f9ff 76.8%,#1dffe2 77.5%,#2cffd3 78.2%,#2fd 81.5%,#87ff78 86.9%,#bcff43 90.8%,#deff21 92.6%,#fffb00 93.7%,#ffe800 95.9%,#ffc200 98%,#ffbe00)"></i><i style="background:linear-gradient(90deg,#00008d,#000080 7.4%,#000080 64.9%,#0000af 67.8%,#00009d 68.9%,#0000b9 69.6%,#0000c1 70.3%,#0000d1 70.7%,#0004ff 71%,#0039ff 71.4%,#0056ff 71.8%,#004aff 72.5%,#0056ff 73.2%,#0bf 75.7%,#00f1ff 76.8%,#07fff8 77.2%,#27ffd8 77.9%,#2cffd3 78.2%,#24ffdb 79.7%,#29ffd6 81.5%,#46ffb9 83.6%,#afff50 89%,#bdff42 90.8%,#d9ff26 91.9%,#dcff23 92.6%,#fff700 93.7%,#ffeb00 95.5%,#ffc800 97.7%,#ffbd00)"></i><i style="background:linear-gradient(90deg,#00008b,#000080 7.4%,#000080 64.9%,#00a 67.8%,#0000a4 68.9%,#0000bf 69.6%,#0000c2 70.3%,#0000d1 70.7%,#0006ff 71%,#003fff 71.4%,#005eff 71.8%,#0053ff 72.8%,#005eff 73.6%,#00fbff 77.2%,#27ffd8 78.6%,#30ffcf 81.5%,#48ffb7 83.6%,#aeff51 89%,#df2 92.6%,#fffc00 93.7%,#fff100 95.5%,#ffc900 98%,#ffbf00)"></i><i style="background:linear-gradient(90deg,#000089,#000080 7%,#000080 64.9%,#0000b3 68.9%,#0000d9 70.7%,#000cff 71%,#0041ff 71.4%,#005fff 71.8%,#0057ff 73.2%,#0061ff 73.9%,#007dff 74.6%,#00baff 75.7%,#00faff 77.5%,#25ffda 79%,#3effc1 82.9%,#9aff65 87.6%,#deff21 92.6%,#f8ff07 93.7%,#fffa00 95.5%,#ffc800 98.4%,#ffc100)"></i><i style="background:linear-gradient(90deg,#000087,#000080 64.9%,#00009f 67.8%,#0000e1 70.7%,#000dff 71%,#003cff 71.4%,#0058ff 71.8%,#0060ff 73.9%,#07f 74.6%,#00c6ff 76.1%,#00f9ff 77.9%,#2cffd3 79.3%,#39ffc6 82.6%,#9eff61 87.6%,#a5ff5a 88.7%,#bdff42 89.7%,#f1ff0e 93.7%,#fffd00 95.9%,#ffc400 98.7%,#ffc300)"></i><i style="background:linear-gradient(90deg,#000084,#000080 64.9%,#009 66.7%,#00009c 67.8%,#0000e4 70.7%,#0005ff 71%,#003eff 71.8%,#0052ff 72.8%,#0087ff 74.6%,#00cfff 76.4%,#00f5ff 77.9%,#08fff7 78.2%,#32ffcd 79.3%,#27ffd8 80.8%,#3dffc2 82.6%,#5dffa2 83.6%,#67ff98 84.7%,#c0ff3f 89.7%,#d9ff26 92.3%,#f2ff0d 93.7%,#fcff03 95.9%,#ffc600 98.7%,#ffc300)"></i><i style="background:linear-gradient(90deg,#000081,#000080 64.9%,#00009c 66.7%,#00009f 68.2%,#0000d9 70.3%,#0000fd 71%,#0026ff 71.8%,#0038ff 72.5%,#007bff 73.6%,#00a9ff 75.7%,#0cf 76.4%,#00f2ff 77.9%,#07fff8 78.2%,#38ffc7 79.3%,#3cffc3 79.7%,#23ffdc 80.8%,#27ffd8 81.1%,#42ffbd 82.6%,#65ff9a 83.6%,#8bff74 86.9%,#c2ff3d 89.7%,#dcff23 92.6%,#f5ff0a 93.7%,#ff0 96.2%,#ffc900 98.7%,#ffc200)"></i><i style="background:linear-gradient(90deg,#000081,#000080 64.9%,#00009d 66.7%,#000095 67.8%,#00009d 68.5%,#0000ae 69.2%,#0000ef 70.7%,#0008ff 71%,#0031ff 71.8%,#0041ff 72.5%,#0082ff 73.6%,#009aff 75.4%,#00daff 76.8%,#00f3ff 77.9%,#06fff9 78.2%,#39ffc6 79.3%,#40ffbf 79.7%,#2cffd3 80.8%,#32ffcd 81.5%,#62ff9d 83.6%,#94ff6b 87.6%,#c2ff3d 89.7%,#df2 92.6%,#f5ff0a 93.7%,#fdff02 96.2%,#fc0 98.7%,#ffc300)"></i><i style="background:linear-gradient(90deg,#000081,#000080 64.9%,#00009c 66.7%,#000090 68.2%,#000097 68.9%,#0000a2 69.2%,#0000fd 70.7%,#003fff 71.4%,#0052ff 71.8%,#0059ff 72.5%,#0083ff 73.6%,#007cff 74.6%,#00a5ff 75.7%,#00e1ff 76.8%,#00f6ff 77.9%,#40ffbf 79.7%,#41ffbe 81.8%,#58ffa7 83.6%,#84ff7b 85.8%,#98ff67 87.9%,#c4ff3b 90.1%,#d1ff2e 91.9%,#f3ff0c 93.7%,#feff01 96.2%,#ffd000 98.7%,#ffc400)"></i><i style="background:linear-gradient(90deg,#000081,#000080 64.9%,#00009a 66.7%,#00008b 68.5%,#000091 68.9%,#0000b3 69.6%,#0000eb 70.3%,#000bff 70.7%,#005aff 71.4%,#006eff 71.8%,#006dff 72.5%,#0084ff 73.6%,#0074ff 74.6%,#00e8ff 76.8%,#00faff 77.9%,#3effc1 79.7%,#53ffac 83.6%,#84ff7b 85.8%,#9bff64 88.3%,#c1ff3e 90.1%,#d0ff2f 91.9%,#efff10 93.7%,#ff0 96.2%,#ffc500)"></i><i style="background:linear-gradient(90deg,#000080,#000080 64.9%,#00a 69.2%,#00b 69.6%,#0000f2 70.3%,#0013ff 70.7%,#0061ff 71.4%,#0074ff 71.8%,#006fff 72.5%,#0086ff 73.6%,#008eff 74.6%,#00eaff 76.8%,#00feff 77.9%,#40ffbf 80%,#68ff97 84.7%,#82ff7d 85.8%,#c9ff36 90.8%,#fffe00 96.2%,#ffc400)"></i><i style="background:linear-gradient(90deg,#000080,#000080 64.6%,#000096 67.1%,#0000ba 68.5%,#0000b9 69.2%,#0000c3 69.6%,#0000f9 70.3%,#0019ff 70.7%,#0064ff 71.4%,#0075ff 71.8%,#0071ff 72.8%,#00cfff 75.7%,#00f9ff 77.5%,#45ffba 80.4%,#4bffb4 81.8%,#6bff94 83.6%,#65ff9a 84.7%,#b2ff4d 88.7%,#d3ff2c 91.5%,#d5ff2a 93%,#fffe00 96.2%,#fff000 97.7%,#ffc300)"></i><i style="background:linear-gradient(90deg,#000080,#000080 64.6%,#000098 67.4%,#0000c5 68.5%,#0000cb 69.6%,#0000e5 70%,#0004ff 70.3%,#005cff 71.4%,#0067ff 71.8%,#0068ff 72.8%,#00d1ff 75.4%,#00fcff 77.2%,#49ffb6 80.8%,#6aff95 83.6%,#65ff9a 84.7%,#b5ff4a 88.7%,#beff41 90.5%,#d4ff2b 91.9%,#d5ff2a 93%,#fffe00 96.2%,#fff300 97.7%,#ffc200)"></i><i style="background:linear-gradient(90deg,#000080,#000080 64.6%,#000098 67.8%,#0000c9 68.5%,#0000d1 69.6%,#00e 70%,#0010ff 70.3%,#0040ff 71%,#004dff 71.4%,#005aff 72.8%,#00c9ff 75%,#00f7ff 76.4%,#15ffea 78.6%,#4bffb4 81.1%,#6f9 84.7%,#85ff7a 85.8%,#acff53 87.9%,#bcff43 90.8%,#fdff02 95.9%,#fff600 97.7%,#ffc200)"></i><i style="background:linear-gradient(90deg,#000080,#000080 64.6%,#000094 66.7%,#000092 67.8%,#0000c8 68.5%,#0000d8 69.6%,#0000f7 70%,#0036ff 70.7%,#0046ff 72.5%,#0052ff 72.8%,#00cdff 75%,#0ff 76.4%,#12ffed 77.5%,#16ffe9 79%,#52ffad 81.5%,#67ff98 84.7%,#8f7 85.8%,#af5 87.6%,#b7ff48 90.8%,#d9ff26 92.6%,#feff01 95.9%,#fff800 97.7%,#ffc300)"></i><i style="background:linear-gradient(90deg,#000080,#000080 64.6%,#00009f 67.8%,#0000bf 68.5%,#0000d0 69.2%,#0000fc 70%,#0045ff 71%,#005eff 72.8%,#00c1ff 74.6%,#00faff 76.4%,#13ffec 77.5%,#19ffe6 79%,#47ffb8 80.8%,#68ff97 84.7%,#af5 87.6%,#b5ff4a 90.5%,#ff0 95.9%,#fffb00 97.7%,#ffc900)"></i><i style="background:linear-gradient(90deg,#000080,#000080 64.6%,#00008c 66%,#0000b9 68.5%,#0000eb 69.6%,#0003ff 70%,#005aff 71.4%,#006bff 72.8%,#00c7ff 74.6%,#00f5ff 76.4%,#15ffea 77.5%,#1dffe2 79%,#4affb5 80.8%,#4bffb4 81.8%,#6dff92 83.6%,#6aff95 84.7%,#a7ff58 87.6%,#acff53 89.7%,#feff01 95.9%,#fffc00 97.7%,#ffd200)"></i><i style="background:linear-gradient(90deg,#000080,#000080 64.6%,#000087 65.6%,#0000a2 67.1%,#0000d4 68.9%,#0000f9 69.6%,#005cff 71.4%,#0076ff 72.8%,#00caff 74.6%,#00dfff 75.7%,#00f8ff 76.4%,#19ffe6 77.5%,#19ffe6 78.6%,#4affb5 80.8%,#4affb5 81.8%,#6fff90 83.6%,#6bff94 84.7%,#a5ff5a 87.6%,#af5 89.7%,#d8ff27 92.6%,#ff0 97.3%,#ffd600)"></i><i style="background:linear-gradient(90deg,#000080,#000080 64.6%,#0000a3 67.1%,#0000e7 68.5%,#0000fc 69.2%,#0059ff 71.4%,#0092ff 73.6%,#00cbff 74.6%,#00f3ff 76.1%,#02fffd 76.4%,#1fffe0 77.5%,#18ffe7 78.6%,#48ffb7 80.8%,#51ffae 82.6%,#6dff92 83.6%,#6cff93 84.7%,#9fff60 87.2%,#abff54 89.7%,#d6ff29 92.3%,#ff0 97.7%,#ffd900)"></i><i style="background:linear-gradient(90deg,#000080,#000080 64.6%,#0000a2 67.1%,#0000af 67.4%,#0000e6 68.2%,#0002ff 68.5%,#0016ff 69.6%,#0080ff 72.5%,#008fff 73.6%,#00cbff 74.6%,#00fbff 76.1%,#24ffdb 77.5%,#18ffe7 78.6%,#4bffb4 81.1%,#4cffb3 82.6%,#6aff95 83.6%,#6dff92 84.7%,#a2ff5d 87.6%,#acff53 89.7%,#d6ff29 91.9%,#e0ff1f 94.8%,#feff01 97.7%,#ffdb00)"></i><i style="background:linear-gradient(90deg,#000080,#000080 64.6%,#0000a3 67.4%,#0000b7 67.8%,#0000f8 68.5%,#0094ff 73.6%,#0cf 74.6%,#00f3ff 75.7%,#03fffc 76.1%,#20ffdf 77.2%,#1effe1 78.6%,#37ffc8 80%,#4effb1 82.6%,#6cff93 83.6%,#aeff51 89.7%,#d8ff27 91.9%,#e5ff1a 95.1%,#fdff02 97.7%,#ffdf00)"></i><i style="background:linear-gradient(90deg,#000080,#000080 64.6%,#000093 66%,#000094 67.4%,#0000a4 67.8%,#0000eb 68.5%,#0006ff 68.9%,#003aff 70.3%,#0051ff 71.8%,#00faff 75.7%,#21ffde 77.2%,#3effc1 81.5%,#6eff91 83.6%,#abff54 89.4%,#daff25 91.9%,#edff12 96.6%,#fdff02 97.7%,#ffe400)"></i><i style="background:linear-gradient(90deg,#000080,#000080 64.6%,#000095 66%,#00008d 67.4%,#00009d 67.8%,#0000ed 68.5%,#000aff 68.9%,#0039ff 70.3%,#004eff 71.8%,#00a5ff 73.6%,#00f8ff 75.7%,#1fffe0 77.2%,#39ffc6 81.5%,#75ff8a 84%,#af5 89.4%,#dcff23 91.9%,#df2 93.7%,#fbff04 97.3%,#ffe500)"></i><i style="background:linear-gradient(90deg,#000080,#000080 64.6%,#000096 66%,#00008f 67.4%,#0000a3 67.8%,#0000f9 68.5%,#0021ff 69.2%,#0046ff 71.4%,#006eff 72.5%,#00b4ff 73.6%,#00fbff 76.1%,#1effe1 77.5%,#39ffc6 81.5%,#75ff8a 84%,#acff53 89.7%,#deff21 91.9%,#d5ff2a 93.7%,#feff01 96.9%,#fff500 98.7%,#ffe100)"></i><i style="background:linear-gradient(90deg,#000080,#000080 64.2%,#000098 66%,#000093 67.4%,#0000a9 67.8%,#0000d5 68.2%,#0002ff 68.5%,#0019ff 68.9%,#0037ff 70.7%,#0071ff 72.5%,#00bfff 73.6%,#00d0ff 75%,#00f9ff 76.4%,#17ffe8 77.5%,#17ffe8 78.6%,#2effd1 79.7%,#3cffc3 81.5%,#73ff8c 84%,#a9ff56 89.7%,#df2 91.9%,#ceff31 93.7%,#ff0 96.6%,#fff000 97.7%,#fff700 98.7%,#ffdc00)"></i><i style="background:linear-gradient(90deg,#000080,#000080 64.2%,#009 66%,#00009d 67.4%,#0000ae 67.8%,#0000fc 68.9%,#005bff 71.4%,#00bcff 73.6%,#00caff 74.6%,#00feff 76.4%,#1affe5 77.5%,#1bffe4 79%,#40ffbf 81.5%,#70ff8f 83.6%,#9fff60 89%,#d8ff27 91.9%,#d1ff2e 93.7%,#feff01 96.6%,#fff400 98.7%,#ffdb00)"></i><i style="background:linear-gradient(90deg,#000080,#000080 64.2%,#000096 65.6%,#00009f 67.1%,#0000c9 68.5%,#0000f9 69.2%,#009eff 72.5%,#00caff 74.6%,#00fcff 76.1%,#1effe1 77.5%,#20ffdf 79.7%,#70ff8f 83.6%,#98ff67 88.7%,#d2ff2d 91.9%,#d5ff2a 93.7%,#f3ff0c 95.5%,#ff0 96.9%,#ffda00)"></i><i style="background:linear-gradient(90deg,#000080,#000080 64.2%,#0000a0 67.1%,#0000c7 68.5%,#0000f2 69.2%,#000eff 69.6%,#00a6ff 72.5%,#00bdff 74.3%,#00feff 76.1%,#1bffe4 77.5%,#1dffe2 79.7%,#41ffbe 80.8%,#6fff90 83.6%,#98ff67 88.7%,#d0ff2f 91.9%,#d9ff26 93.7%,#faff05 95.9%,#feff01 97.3%,#ffda00)"></i><i style="background:linear-gradient(90deg,#000080,#000080 64.2%,#00009c 67.1%,#0000fc 69.2%,#002fff 70.3%,#0074ff 71.4%,#0092ff 72.1%,#00b5ff 74.3%,#00f9ff 76.1%,#1dffe2 78.6%,#1fffe0 79.7%,#4bffb4 80.8%,#50ffaf 81.1%,#8fff70 87.6%,#b4ff4b 90.5%,#d1ff2e 91.9%,#e6ff19 94.8%,#fcff03 95.9%,#f6ff09 96.9%,#fffe00 98%,#ffd900)"></i><i style="background:linear-gradient(90deg,#000080,#000080 64.2%,#009 67.1%,#0000a6 67.4%,#0001ff 68.5%,#000dff 69.6%,#0026ff 70.3%,#0039ff 70.7%,#007bff 71.4%,#008cff 71.8%,#009aff 73.2%,#00b7ff 74.6%,#0ff 76.4%,#01fffe 77.5%,#1dffe2 78.6%,#2fd 79.7%,#54ffab 80.8%,#59ffa6 81.1%,#5cffa3 82.9%,#8aff75 87.6%,#a2ff5d 88.7%,#b3ff4c 90.5%,#ceff31 91.5%,#e2ff1d 94.8%,#fdff02 95.9%,#f1ff0e 96.9%,#fffd00 98.4%,#ffd900)"></i><i style="background:linear-gradient(90deg,#000080,#000080 64.2%,#000095 66.7%,#0000b3 67.4%,#00e 68.2%,#000aff 68.5%,#000cff 69.6%,#0019ff 70%,#0041ff 70.7%,#008fff 71.4%,#009fff 71.8%,#009aff 72.8%,#00b4ff 74.6%,#00f6ff 76.1%,#01fffe 76.4%,#06fff9 77.9%,#52ffad 80.8%,#59ffa6 82.6%,#8cff73 87.6%,#a1ff5e 88.7%,#b1ff4e 90.5%,#d1ff2e 91.9%,#d0ff2f 93%,#e3ff1c 94.8%,#faff05 95.9%,#f0ff0f 96.9%,#ff0 98.4%,#ffde00)"></i><i style="background:linear-gradient(90deg,#000080,#000080 47.7%,#000092 48.4%,#000080 49.1%,#000080 63.8%,#00009b 66.7%,#0000fa 68.2%,#0010ff 68.5%,#000bff 69.6%,#001aff 70%,#004aff 70.7%,#00a0ff 71.4%,#00b1ff 71.8%,#00a3ff 72.8%,#00b6ff 74.6%,#00faff 76.1%,#14ffeb 78.6%,#45ffba 80%,#7dff82 86.2%,#abff54 90.1%,#ceff31 91.9%,#d0ff2f 93.7%,#f6ff09 95.9%,#f1ff0e 96.9%,#fdff02 98.4%,#ffe300)"></i><i style="background:linear-gradient(90deg,#000080,#000080 47.7%,#00008c 48.4%,#000080 49.1%,#000080 63.8%,#000097 66.4%,#0000a2 66.7%,#0000ed 67.8%,#0004ff 68.2%,#0014ff 68.5%,#0009ff 69.6%,#03f 70.3%,#0050ff 70.7%,#00a4ff 71.4%,#00b5ff 71.8%,#00aeff 72.8%,#0bf 74.6%,#00feff 76.1%,#10ffef 76.8%,#13ffec 78.6%,#42ffbd 79.7%,#47ffb8 80%,#a5ff5a 89.7%,#cf3 91.9%,#c9ff36 93.7%,#efff10 95.5%,#fdff02 98.4%,#ffe800)"></i><i style="background:linear-gradient(90deg,#000080,#000080 63.8%,#00009a 66.4%,#0000a8 66.7%,#0000fa 67.8%,#01f 68.5%,#0003ff 69.2%,#0005ff 69.6%,#001cff 70%,#0098ff 71.4%,#00a9ff 71.8%,#00c2ff 74.6%,#00fdff 76.1%,#1fe 76.8%,#14ffeb 78.6%,#35ffca 79.7%,#5fa 81.5%,#a1ff5e 89.7%,#c6ff39 91.5%,#c6ff39 93.7%,#ebff14 95.5%,#fdff02 98.4%,#ffeb00)"></i><i style="background:linear-gradient(90deg,#000080,#000080 63.8%,#00009d 66.4%,#0000ae 66.7%,#0000f0 67.4%,#0004ff 67.8%,#000eff 68.5%,#0000fe 69.2%,#0003ff 69.6%,#0074ff 71%,#00b9ff 72.5%,#00c8ff 74.6%,#00fdff 76.1%,#12ffed 76.8%,#0efff1 77.9%,#1affe5 79%,#59ffa6 81.5%,#5bffa4 82.6%,#7f8 84%,#9dff62 88.7%,#9dff62 89.7%,#c4ff3b 91.5%,#c0ff3f 93.3%,#e7ff18 95.5%,#fdff02 98.4%,#ffed00)"></i><i style="background:linear-gradient(90deg,#000080,#000080 63.8%,#00008f 65.6%,#00009f 66.4%,#0000fd 67.8%,#000fff 69.6%,#007eff 71.4%,#00b2ff 72.5%,#00d2ff 74.6%,#00f2ff 75.7%,#02fffd 76.1%,#1fe 76.8%,#23ffdc 79.3%,#59ffa6 81.5%,#5dffa2 82.6%,#9fff60 88.7%,#a0ff5f 89.7%,#b9ff46 91.2%,#c1ff3e 93.3%,#e2ff1d 95.1%,#f9ff06 98%,#ffeb00)"></i><i style="background:linear-gradient(90deg,#000080,#000080 63.5%,#000090 66%,#0000f2 67.8%,#0002ff 68.2%,#0020ff 69.6%,#004aff 70.7%,#00b6ff 72.8%,#00fbff 75.7%,#23ffdc 79%,#56ffa9 81.1%,#67ff98 83.6%,#8f7 85.8%,#baff45 92.6%,#e1ff1e 94.8%,#fcff03 98%,#ffe800)"></i><i style="background:linear-gradient(90deg,#000080,#000080 63.5%,#000089 65.6%,#000093 66%,#0000d6 67.1%,#00e 67.8%,#0001ff 68.2%,#002fff 69.6%,#0041ff 70.7%,#0084ff 71.8%,#00c4ff 73.2%,#0ff 75.7%,#27ffd8 79%,#5fa 80.8%,#64ff9b 83.6%,#8cff73 85.8%,#a5ff5a 88.7%,#b0ff4f 91.9%,#e1ff1e 94.8%,#ff0 98%,#ffe600)"></i><i style="background:linear-gradient(90deg,#000080,#000080 63.5%,#000098 65.6%,#0000b6 66.4%,#0000d4 66.7%,#0000f7 67.8%,#003aff 69.6%,#0039ff 70.7%,#008cff 71.8%,#00c9ff 73.2%,#00fbff 75.7%,#28ffd7 79%,#5fa 80.8%,#74ff8b 84.7%,#91ff6e 85.8%,#b5ff4a 90.8%,#b1ff4e 91.9%,#d1ff2e 93.7%,#feff01 97.7%,#ffe600)"></i><i style="background:linear-gradient(90deg,#000080,#000080 63.5%,#00008b 64.6%,#0000a5 65.6%,#0000c4 66.4%,#0000e0 66.7%,#0000fe 67.8%,#0043ff 69.6%,#0030ff 70.3%,#0031ff 70.7%,#0092ff 71.8%,#00a0ff 72.1%,#00d0ff 73.6%,#00e3ff 75%,#00feff 76.1%,#1effe1 77.5%,#28ffd7 79%,#51ffae 80.8%,#73ff8c 84.7%,#94ff6b 85.8%,#af5 88.7%,#a8ff57 89.7%,#bf4 90.8%,#b5ff4a 91.9%,#d2ff2d 93.3%,#fdff02 97.3%,#ffe500)"></i><i style="background:linear-gradient(90deg,#000080,#000080 63.5%,#0000a4 65.6%,#0000b0 66%,#0000e3 66.7%,#0000fd 67.8%,#003eff 69.6%,#0035ff 70.7%,#008eff 71.8%,#0cf 73.2%,#00e8ff 75.4%,#00fbff 76.1%,#20ffdf 77.5%,#24ffdb 78.6%,#4affb5 80.8%,#6dff92 84.4%,#92ff6d 85.8%,#a8ff57 89.7%,#baff45 90.8%,#b8ff47 91.9%,#cf3 93%,#ff0 97.7%,#ffe600)"></i><i style="background:linear-gradient(90deg,#000080,#000080 63.5%,#00009e 65.6%,#00a 66%,#0000e2 66.7%,#0000fa 67.8%,#0008ff 68.5%,#0035ff 69.6%,#003dff 70.7%,#009dff 72.1%,#00d2ff 73.2%,#00e4ff 74.3%,#00e7ff 75.4%,#00f9ff 76.1%,#2fd 77.5%,#54ffab 83.6%,#8fff70 85.8%,#8eff71 86.9%,#a6ff59 88.7%,#baff45 91.9%,#fcff03 97.7%,#ffe800)"></i><i style="background:linear-gradient(90deg,#000080,#000080 63.5%,#009 65.6%,#0000a5 66%,#0000db 66.7%,#0001ff 68.5%,#0032ff 69.6%,#0043ff 70.7%,#00d6ff 73.2%,#00e9ff 74.3%,#00e8ff 75.4%,#00fbff 76.1%,#23ffdc 77.5%,#4effb1 83.6%,#7fff80 85.1%,#8dff72 85.8%,#8f7 86.9%,#fbff04 97.7%,#ffe900)"></i><i style="background:linear-gradient(90deg,#000080,#000080 63.5%,#0000a2 66%,#0000f7 67.8%,#000cff 68.5%,#003dff 69.6%,#0043ff 70.7%,#008bff 71.8%,#00dfff 73.6%,#00f6ff 75.7%,#20ffdf 76.8%,#2cffd3 79.7%,#5bffa4 83.6%,#89ff76 85.4%,#89ff76 87.2%,#fdff02 97.7%,#ffe800)"></i><i style="background:linear-gradient(90deg,#000080,#000080 63.5%,#0000a0 66%,#0000ba 66.7%,#0000f7 67.8%,#0048ff 69.6%,#0042ff 70.7%,#0091ff 71.8%,#00dbff 73.6%,#00fdff 75.7%,#2affd5 76.8%,#20ffdf 77.9%,#27ffd8 79.7%,#89ff76 85.4%,#8f7 87.6%,#adff52 89.7%,#e0ff1f 95.9%,#faff05 97.3%,#ffe700)"></i><i style="background:linear-gradient(90deg,#000080,#000080 63.5%,#00009f 66%,#00b 66.7%,#0000fe 67.8%,#002eff 68.5%,#0038ff 68.9%,#0042ff 70.7%,#008cff 71.8%,#00bdff 72.8%,#00f0ff 74.6%,#00fdff 75.7%,#26ffd9 76.8%,#2fd 79.7%,#3dffc2 80.8%,#50ffaf 82.6%,#83ff7c 85.4%,#8aff75 87.6%,#adff52 89.7%,#caff35 93.7%,#fbff04 97.3%,#ffe400)"></i><i style="background:linear-gradient(90deg,#000080,#000080 39.4%,#000089 40.5%,#000080 41.2%,#000080 43.7%,#000095 44.4%,#000080 45.1%,#000080 63.5%,#00009e 66%,#0000eb 67.4%,#0008ff 67.8%,#0043ff 68.5%,#0045ff 68.9%,#002eff 69.6%,#0038ff 70.3%,#05f 71%,#00b6ff 72.5%,#00c0ff 72.8%,#00c0ff 73.6%,#00f5ff 74.6%,#00f8ff 75.7%,#2affd5 77.5%,#1effe1 79.7%,#3effc1 81.1%,#4dffb2 82.9%,#7aff85 85.4%,#abff54 89.4%,#c9ff36 93.7%,#fcff03 97.3%,#ffe100)"></i><i style="background:linear-gradient(90deg,#000080,#000080 39.4%,#00008e 40.5%,#000080 41.2%,#000080 43.7%,#000087 44.1%,#00009e 44.4%,#000087 44.8%,#000080 45.1%,#000080 63.5%,#000097 65.6%,#00e 67.4%,#000bff 67.8%,#004fff 68.5%,#004cff 68.9%,#0027ff 69.6%,#002dff 70%,#006aff 71.4%,#00b9ff 72.5%,#00c1ff 72.8%,#00b5ff 73.6%,#00f6ff 74.6%,#00fbff 76.1%,#2bffd4 77.5%,#1cffe3 79%,#1fffe0 79.7%,#45ffba 81.5%,#46ffb9 82.9%,#abff54 89%,#c9ff36 93.7%,#e1ff1e 94.8%,#fcff03 97.3%,#ffe100)"></i><i style="background:linear-gradient(90deg,#000080,#000080 43.7%,#000090 44.4%,#000080 45.1%,#000080 63.1%,#0000ab 66%,#0000de 67.4%,#0000f7 67.8%,#0037ff 68.5%,#003eff 70%,#0071ff 71.4%,#00a8ff 72.5%,#00b2ff 73.6%,#00f0ff 74.6%,#00fdff 76.1%,#25ffda 77.9%,#24ffdb 79.7%,#46ffb9 81.5%,#45ffba 82.9%,#b0ff4f 89.4%,#c2ff3d 93%,#e0ff1f 94.8%,#feff01 97.7%,#ffec00 98.7%,#ffe600)"></i><i style="background:linear-gradient(90deg,#000080,#000080 63.1%,#0000c6 67.1%,#0000e4 67.8%,#0002ff 68.2%,#002fff 68.9%,#00b2ff 73.6%,#00e8ff 74.6%,#00fcff 75.7%,#08fff7 76.8%,#2bffd4 78.6%,#2affd5 79.7%,#46ffb9 81.5%,#45ffba 82.9%,#71ff8e 85.1%,#84ff7b 87.2%,#b8ff47 89.7%,#bf4 92.6%,#dfff20 94.8%,#ecff13 96.9%,#fffd00 98%,#fe0 98.7%,#ffeb00)"></i><i style="background:linear-gradient(90deg,#000080,#000080 63.1%,#0000d4 67.1%,#0000f1 67.8%,#0009ff 68.2%,#0030ff 68.9%,#008bff 71.4%,#009fff 72.8%,#00e5ff 75%,#00feff 76.4%,#2effd1 78.6%,#2effd1 79.7%,#43ffbc 80.8%,#48ffb7 83.3%,#74ff8b 85.4%,#87ff78 87.6%,#b7ff48 89.7%,#bdff42 92.6%,#faff05 97.7%,#ffeb00)"></i><i style="background:linear-gradient(90deg,#000080,#000080 3.4%,#000089 4.1%,#000080 4.9%,#000080 63.1%,#009 64.6%,#00f 67.4%,#0030ff 68.5%,#005fff 70.3%,#009fff 71.4%,#00a9ff 71.8%,#00a9ff 72.8%,#00c3ff 73.6%,#00ceff 74.6%,#00f8ff 76.4%,#28ffd7 78.2%,#32ffcd 79.7%,#46ffb9 80.8%,#3effc1 82.6%,#45ffba 83.3%,#71ff8e 85.4%,#84ff7b 87.6%,#b4ff4b 89.7%,#c4ff3b 92.6%,#fbff04 97.7%,#ffe700)"></i><i style="background:linear-gradient(90deg,#000080,#000080 3.4%,#00008a 4.1%,#000080 4.9%,#000080 63.1%,#000096 64.6%,#0000c6 65.6%,#0000f2 66.4%,#0000fc 66.7%,#0034ff 68.2%,#05f 70%,#07f 70.7%,#00b3ff 71.4%,#00bdff 71.8%,#00adff 72.5%,#00caff 73.6%,#00c3ff 74.6%,#00feff 76.8%,#25ffda 77.9%,#49ffb6 80.8%,#3cffc3 82.2%,#43ffbc 83.3%,#75ff8a 85.8%,#83ff7c 87.6%,#aeff51 89.4%,#e1ff1e 95.9%,#fcff03 97.7%,#ffe500)"></i><i style="background:linear-gradient(90deg,#000080,#000080 63.1%,#0000a6 64.9%,#0000c4 65.6%,#0000f8 66.4%,#002aff 67.8%,#004cff 69.6%,#00c1ff 71.4%,#00c4ff 71.8%,#00afff 72.8%,#00c2ff 73.6%,#00d2ff 75.4%,#00f5ff 76.4%,#03fffc 76.8%,#43ffbc 79.7%,#4affb5 80.8%,#3dffc2 82.2%,#49ffb6 83.6%,#74ff8b 85.8%,#86ff79 87.6%,#b2ff4d 89.4%,#dbff24 93.7%,#e5ff1a 96.2%,#ff0 98%,#ffe700)"></i><i style="background:linear-gradient(90deg,#000080,#000080 63.1%,#000091 64.2%,#0000c1 65.6%,#0000fb 66.4%,#0021ff 67.4%,#002aff 68.5%,#003cff 69.2%,#004fff 69.6%,#0af 70.7%,#00caff 71.4%,#00acff 72.8%,#00d8ff 75.7%,#00f9ff 76.4%,#4dffb2 79.7%,#3dffc2 81.8%,#46ffb9 83.3%,#74ff8b 85.8%,#89ff76 87.6%,#b2ff4d 89%,#c3ff3c 91.5%,#deff21 93.3%,#e7ff18 96.6%,#fcff03 98%,#ffea00)"></i><i style="background:linear-gradient(90deg,#000080,#000080 63.1%,#000090 64.2%,#0000be 65.6%,#0000fe 66.4%,#02f 67.4%,#002bff 68.5%,#0042ff 69.2%,#00b2ff 71%,#0bf 71.4%,#00adff 72.8%,#00d5ff 74.6%,#00e0ff 75.7%,#00feff 76.4%,#4dffb2 79.7%,#43ffbc 81.8%,#4bffb4 83.6%,#75ff8a 85.4%,#89ff76 87.6%,#abff54 88.7%,#c2ff3d 91.5%,#deff21 93%,#e7ff18 96.6%,#faff05 98%,#ffec00)"></i><i style="background:linear-gradient(90deg,#000080,#000080 62.8%,#000089 63.8%,#0000a3 64.9%,#0000bf 65.6%,#0000e3 66%,#0006ff 66.4%,#0018ff 66.7%,#0035ff 68.5%,#009cff 71.4%,#00a9ff 72.5%,#00d8ff 74.3%,#00f7ff 76.1%,#45ffba 79.7%,#4cffb3 83.6%,#80ff7f 85.4%,#87ff78 87.6%,#a8ff57 88.7%,#baff45 91.2%,#dfff20 93%,#dcff23 94.8%,#fdff02 98.4%,#ffed00)"></i><i style="background:linear-gradient(90deg,#000080,#000080 62.8%,#0000a0 64.9%,#0000bf 65.6%,#0000e5 66%,#0009ff 66.4%,#001cff 66.7%,#0037ff 68.2%,#06f 69.6%,#006fff 70.7%,#00d7ff 73.9%,#0ff 76.1%,#3cffc3 79.3%,#51ffae 81.5%,#4effb1 83.6%,#89ff76 85.4%,#86ff79 87.6%,#a4ff5b 88.7%,#b5ff4a 91.2%,#e0ff1f 93%,#e5ff1a 93.7%,#daff25 94.8%,#edff12 95.9%,#ebff14 96.9%,#fcff03 98.7%,#fe0)"></i><i style="background:linear-gradient(90deg,#000080,#000080 62.8%,#0000a6 65.3%,#0000b5 65.6%,#0000f9 66.4%,#0023ff 67.1%,#04f 68.2%,#0071ff 70.3%,#00d4ff 73.9%,#00f9ff 75.7%,#09fff6 76.4%,#31ffce 77.9%,#52ffad 81.1%,#4fffb0 83.3%,#86ff79 85.4%,#84ff7b 87.2%,#a3ff5c 88.7%,#b2ff4d 91.2%,#e2ff1d 93.7%,#deff21 94.8%,#fdff02 98.4%,#fff200)"></i><i style="background:linear-gradient(90deg,#000080,#000080 62.8%,#00009e 65.3%,#0000a9 65.6%,#0000e8 66.4%,#0008ff 66.7%,#0039ff 67.4%,#0051ff 68.2%,#005eff 69.6%,#009fff 71.4%,#00b5ff 72.8%,#00f9ff 75.7%,#0cfff3 76.4%,#3cffc3 77.5%,#35ffca 79%,#5fa 81.1%,#4bffb4 82.9%,#7aff85 84.7%,#82ff7d 86.9%,#a2ff5d 88.7%,#afff50 91.2%,#dfff20 93.7%,#fffe00 98.4%,#fff600)"></i><i style="background:linear-gradient(90deg,#000080,#000080 62.8%,#000098 65.3%,#0000a3 65.6%,#0000e4 66.4%,#0008ff 66.7%,#003fff 67.4%,#005aff 68.2%,#0063ff 68.5%,#0062ff 69.6%,#00a6ff 71.4%,#00b6ff 72.8%,#00fcff 75.7%,#1fe 76.4%,#40ffbf 77.5%,#35ffca 78.6%,#5fa 81.1%,#51ffae 82.9%,#7eff81 84.7%,#82ff7d 86.9%,#a1ff5e 88.7%,#afff50 91.5%,#e0ff1f 93.7%,#e4ff1b 95.9%,#ff0 98.4%,#fff700)"></i><i style="background:linear-gradient(90deg,#000080,#000080 62.8%,#000092 65.3%,#0000a1 65.6%,#0000ed 66.4%,#0012ff 66.7%,#0043ff 67.4%,#0069ff 68.5%,#006eff 69.6%,#00a5ff 71.4%,#00b0ff 72.5%,#00f6ff 75.4%,#05fffa 75.7%,#38ffc7 77.5%,#36ffc9 78.6%,#5cffa3 82.9%,#84ff7b 84.7%,#82ff7d 86.9%,#a1ff5e 88.7%,#acff53 91.5%,#e5ff1a 93.7%,#e2ff1d 95.9%,#fffc00 98.7%,#fff500)"></i><i style="background:linear-gradient(90deg,#000080,#000080 62.8%,#00008d 65.3%,#0000a1 65.6%,#0000f5 66.4%,#0036ff 67.1%,#006eff 68.5%,#0083ff 70.3%,#00acff 71.8%,#00b0ff 72.5%,#00d7ff 73.6%,#00e0ff 74.6%,#00fbff 75.4%,#2affd5 77.2%,#6cff93 83.6%,#8aff75 84.7%,#83ff7c 87.2%,#a2ff5d 88.7%,#9fff60 90.1%,#af5 91.5%,#eaff15 93.7%,#deff21 95.5%,#feff01 98.7%,#fff300)"></i></div>
<div class="hm" style="left:354px;top:354px;width:278px;height:554px"><i style="background:linear-gradient(90deg,#000080,#000080 68.9%,#000098 70.7%,#000091 71.8%,#0000fd 73.2%,#0078ff 74.6%,#00fdff 77.2%,#20ffdf 79%,#7fff80 82.6%,#a9ff56 87.6%,#ceff31 89.4%,#fffb00 95.1%,#ffde00)"></i><i style="background:linear-gradient(90deg,#000080,#000080 68.5%,#0000a2 71.8%,#0000e8 72.8%,#0002ff 73.2%,#0068ff 74.6%,#00a0ff 75.7%,#0ef 76.8%,#02fffd 77.2%,#28ffd7 79.3%,#7fff80 82.6%,#aeff51 87.6%,#c7ff38 89%,#ff0 94.8%,#ffd700)"></i><i style="background:linear-gradient(90deg,#000080,#000080 68.5%,#000095 71%,#0000ed 72.8%,#0009ff 73.2%,#007aff 75.4%,#00f5ff 76.8%,#06fff9 77.2%,#24ffdb 79.3%,#7eff81 82.6%,#d4ff2b 90.8%,#eaff15 91.9%,#fffe00 94.8%,#ffd000)"></i><i style="background:linear-gradient(90deg,#000080,#000080 68.5%,#000093 71%,#0000b5 71.8%,#0000fd 72.8%,#0031ff 73.6%,#0052ff 74.6%,#07f 75.4%,#00f6ff 76.8%,#04fffb 77.2%,#2affd5 79.7%,#7cff83 82.6%,#aeff51 86.5%,#cfff30 90.5%,#efff10 91.9%,#feff01 94.4%,#ffcd00)"></i><i style="background:linear-gradient(90deg,#000080,#000080 68.5%,#000096 71.4%,#00a 71.8%,#0000f6 72.5%,#0049ff 73.6%,#005aff 74.6%,#0083ff 75.4%,#00dbff 76.4%,#00faff 77.2%,#29ffd6 79.7%,#79ff86 82.6%,#a4ff5b 85.4%,#cfff30 90.5%,#f4ff0b 91.9%,#fff700 95.5%,#ffd000)"></i><i style="background:linear-gradient(90deg,#000080,#000080 68.5%,#00008e 69.6%,#00008b 71.4%,#00009e 71.8%,#0000cf 72.1%,#0006ff 72.5%,#002fff 72.8%,#005eff 73.6%,#0064ff 74.6%,#00daff 76.4%,#00feff 77.9%,#56ffa9 81.1%,#9eff61 84.7%,#d0ff2f 90.5%,#f8ff07 91.9%,#fff700 95.9%,#ffd300)"></i><i style="background:linear-gradient(90deg,#000080,#000080 68.5%,#00008c 70.3%,#000085 71.4%,#000095 71.8%,#0000fa 72.5%,#0041ff 73.2%,#05f 73.6%,#006fff 74.6%,#00cbff 76.1%,#00fcff 77.5%,#1fffe0 79.3%,#4cffb3 80.8%,#75ff8a 82.6%,#80ff7f 83.6%,#9eff61 84.7%,#d0ff2f 90.1%,#f7ff08 91.9%,#fff900 95.9%,#ffe100 97.7%,#ffd600)"></i><i style="background:linear-gradient(90deg,#000080,#000080 68.2%,#00008c 70.3%,#000081 71.4%,#00008d 71.8%,#0000e9 72.5%,#0014ff 72.8%,#0032ff 73.2%,#007aff 74.6%,#00c1ff 75.7%,#00f7ff 77.2%,#1dffe2 79.3%,#75ff8a 82.6%,#7eff81 83.6%,#a6ff59 85.1%,#cdff32 89.7%,#f6ff09 91.9%,#fffa00 95.9%,#ffde00 97.7%,#ffd700)"></i><i style="background:linear-gradient(90deg,#000080,#000080 68.2%,#00008b 70.3%,#000080 71.4%,#00008c 71.8%,#0000e2 72.5%,#000cff 72.8%,#002aff 73.2%,#00beff 75.7%,#00f5ff 77.2%,#03fffc 77.5%,#1effe1 79.3%,#75ff8a 82.6%,#7dff82 83.6%,#a6ff59 85.1%,#b7ff48 87.9%,#f2ff0d 91.5%,#fffd00 95.9%,#ffde00 97.7%,#ffd800)"></i><i style="background:linear-gradient(90deg,#000080,#000080 68.2%,#00008a 70%,#000081 71.4%,#00008f 71.8%,#0000e3 72.5%,#0009ff 72.8%,#0078ff 74.6%,#00f7ff 77.5%,#1dffe2 78.6%,#28ffd7 79.7%,#75ff8a 82.6%,#81ff7e 83.6%,#a2ff5d 84.7%,#b1ff4e 87.6%,#edff12 91.2%,#fff400 94.8%,#feff01 95.9%,#ffdf00 97.7%,#ffd700)"></i><i style="background:linear-gradient(90deg,#000080,#000082 71%,#000083 71.4%,#000094 71.8%,#0000e3 72.5%,#0004ff 72.8%,#003bff 73.9%,#0070ff 74.6%,#008fff 75.7%,#0ff 77.9%,#27ffd8 78.6%,#2affd5 79.7%,#5effa1 81.5%,#85ff7a 83.6%,#a4ff5b 84.7%,#afff50 87.6%,#edff12 90.8%,#ff0 93.3%,#fff200 94.8%,#fdff02 95.9%,#ffe600 96.9%,#ffd200 98.7%,#ffd400)"></i><i style="background:linear-gradient(90deg,#000080,#000083 71%,#009 71.8%,#0000f2 72.8%,#000cff 73.6%,#0069ff 74.6%,#0086ff 75.7%,#00fdff 77.9%,#26ffd9 78.6%,#2affd5 79.7%,#7aff85 82.6%,#a0ff5f 84.7%,#b1ff4e 87.6%,#efff10 90.8%,#feff01 93%,#fff100 94.8%,#fffa00 95.9%,#ffd000 98.7%,#ffd200)"></i><i style="background:linear-gradient(90deg,#000080,#000081 70.7%,#00008b 71.4%,#0000de 72.8%,#0000ef 73.6%,#000fff 73.9%,#0061ff 74.6%,#0081ff 75.7%,#00fcff 77.9%,#23ffdc 78.6%,#2bffd4 79.7%,#7eff81 82.6%,#b0ff4f 87.2%,#ef1 90.5%,#fffd00 93%,#fff000 95.9%,#ffcf00 98.7%,#ffcf00)"></i><i style="background:linear-gradient(90deg,#000080,#000080 68.5%,#008 69.6%,#000081 70.7%,#00008c 71.4%,#0000c3 72.5%,#0000de 73.6%,#0000fe 73.9%,#05f 74.6%,#007eff 75.7%,#00f9ff 77.9%,#1effe1 78.6%,#2dffd2 79.7%,#80ff7f 82.6%,#b3ff4c 87.2%,#efff10 90.5%,#feff01 92.6%,#ffcb00)"></i><i style="background:linear-gradient(90deg,#000080,#000081 70.7%,#008 71.4%,#0000cd 72.8%,#0000e0 73.6%,#0000f9 73.9%,#0058ff 75%,#00f2ff 77.9%,#06fff9 78.2%,#21ffde 79%,#7bff84 82.6%,#b8ff47 87.6%,#e8ff17 89.7%,#ff0 93%,#ffc200)"></i><i style="background:linear-gradient(90deg,#000080,#000081 71%,#00008f 71.8%,#00c 72.8%,#0000f5 73.9%,#0010ff 74.3%,#00b0ff 76.4%,#00d7ff 77.5%,#00feff 78.2%,#29ffd6 79.3%,#7eff81 82.9%,#b2ff4d 86.5%,#b8ff47 87.6%,#ebff14 89.7%,#fffe00 93.3%,#fb0)"></i><i style="background:linear-gradient(90deg,#000080,#000083 71.4%,#00008c 71.8%,#0000cd 72.8%,#0000d8 73.6%,#0000eb 73.9%,#000aff 74.3%,#006aff 75.4%,#00b1ff 76.4%,#00ecff 77.9%,#01fffe 78.2%,#1effe1 79%,#7cff83 82.9%,#b0ff4f 86.5%,#b5ff4a 87.6%,#ef1 89.7%,#fffe00 93.3%,#ffbd00)"></i><i style="background:linear-gradient(90deg,#000080,#000080 68.5%,#000089 71.4%,#000092 71.8%,#0000c9 72.5%,#0000d7 72.8%,#0000d1 73.6%,#0000e5 73.9%,#0009ff 74.3%,#006eff 75.4%,#00b1ff 76.4%,#00f2ff 77.9%,#08fff7 78.2%,#17ffe8 78.6%,#26ffd9 79.7%,#4effb1 80.8%,#81ff7e 83.3%,#b2ff4d 87.6%,#edff12 89.7%,#fffd00 93.3%,#ffc200)"></i><i style="background:linear-gradient(90deg,#000080,#000080 68.5%,#000090 71.4%,#00009b 71.8%,#0000d7 72.5%,#0000e1 72.8%,#0000d3 73.6%,#0000e6 73.9%,#000eff 74.3%,#0070ff 75.4%,#00f8ff 77.9%,#1bffe4 78.6%,#2fd 79.7%,#59ffa6 81.1%,#87ff78 83.6%,#b1ff4e 87.6%,#ebff14 89.7%,#fffa00 93.7%,#fc0 98%,#ffc400)"></i><i style="background:linear-gradient(90deg,#000080,#000080 68.9%,#009 71.4%,#0000a7 71.8%,#0000e0 72.5%,#0000ec 72.8%,#0000e6 73.6%,#0000f9 73.9%,#0059ff 75%,#00fdff 77.9%,#18ffe7 78.6%,#26ffd9 79.7%,#69ff96 81.5%,#b6ff49 87.6%,#e7ff18 89.7%,#ff0 92.6%,#ffc000)"></i><i style="background:linear-gradient(90deg,#000080,#000080 68.9%,#0000a3 71.4%,#0000e6 72.5%,#0000fb 73.6%,#000eff 73.9%,#004aff 74.6%,#0078ff 75.7%,#0ef 77.5%,#02fffd 77.9%,#2bffd4 79.7%,#72ff8d 81.5%,#76ff89 82.9%,#a5ff5a 85.4%,#b6ff49 87.2%,#e2ff1d 89.7%,#fffb00 93%,#fb0)"></i><i style="background:linear-gradient(90deg,#000080,#000080 68.9%,#000089 70%,#0000a1 71%,#0001ff 73.6%,#00f8ff 77.9%,#27ffd8 79.7%,#71ff8e 81.5%,#7cff83 83.3%,#a6ff59 85.4%,#e0ff1f 89.7%,#fffb00 93%,#ffb700)"></i><i style="background:linear-gradient(90deg,#000080,#000080 68.9%,#000090 70.3%,#0000c3 71.8%,#0000cf 72.8%,#0000fe 73.6%,#002eff 74.6%,#0086ff 75.7%,#00c3ff 77.2%,#00fdff 78.2%,#20ffdf 79.7%,#6bff94 81.5%,#81ff7e 83.6%,#9fff60 85.1%,#e6ff19 90.5%,#fffd00 93%,#ffb300)"></i><i style="background:linear-gradient(90deg,#000080,#000080 68.9%,#000092 70.3%,#0000c8 71.8%,#0000bf 72.5%,#0000c6 72.8%,#00f 73.6%,#0020ff 74.6%,#08f 75.7%,#00c6ff 77.5%,#00f5ff 78.2%,#07fff8 78.6%,#19ffe6 79.7%,#69ff96 81.5%,#81ff7e 83.6%,#baff45 86.9%,#eaff15 90.8%,#fffe00 93%,#ffb000)"></i><i style="background:linear-gradient(90deg,#000080,#000080 68.9%,#000094 70.3%,#0000e0 72.8%,#0000f4 73.2%,#000aff 73.6%,#001dff 74.6%,#0078ff 75.7%,#00c0ff 77.5%,#00f4ff 78.2%,#09fff6 78.6%,#1fe 79.7%,#6dff92 81.5%,#80ff7f 83.6%,#bf4 86.9%,#beff41 87.9%,#ff0 93%,#ffb100 98.7%,#ffae00)"></i><i style="background:linear-gradient(90deg,#000080,#000080 68.9%,#0000b7 71.8%,#0000f7 72.8%,#0014ff 73.6%,#001cff 74.6%,#0093ff 76.4%,#00b9ff 77.5%,#00f3ff 78.2%,#0bfff4 78.6%,#0dfff2 79.7%,#6eff91 81.5%,#81ff7e 83.6%,#b9ff46 86.5%,#bcff43 87.9%,#fffe00 93%,#ffab00 98.7%,#ffab00)"></i><i style="background:linear-gradient(90deg,#000080,#000080 68.9%,#0000b1 71.8%,#0000f4 72.8%,#0003ff 73.2%,#000eff 73.6%,#0012ff 74.6%,#0094ff 76.4%,#00b3ff 77.5%,#00edff 78.2%,#07fff8 78.6%,#12ffed 79.7%,#6cff93 81.5%,#83ff7c 83.6%,#b9ff46 86.5%,#beff41 87.9%,#f6ff09 91.5%,#ff0 92.6%,#ffa900 98.7%,#ffa600)"></i><i style="background:linear-gradient(90deg,#000080,#000080 68.9%,#0000a6 71.4%,#0001ff 73.6%,#0000fd 74.3%,#0005ff 74.6%,#001cff 75%,#09f 76.4%,#0af 76.8%,#00aeff 77.5%,#00feff 78.6%,#1dffe2 79.7%,#69ff96 81.5%,#faff05 91.5%,#fffb00 92.6%,#ffd200 95.1%,#ff9f00)"></i><i style="background:linear-gradient(90deg,#000080,#000080 68.9%,#000092 70.7%,#0000c7 72.5%,#0000f9 73.6%,#0000fd 74.6%,#0032ff 75.4%,#009dff 76.4%,#00aeff 76.8%,#00adff 77.5%,#00f9ff 78.6%,#6f9 81.5%,#beff41 86.9%,#fdff02 91.5%,#f90)"></i><i style="background:linear-gradient(90deg,#000080,#000080 68.9%,#000091 70.7%,#0000c5 72.5%,#0000f1 73.2%,#0008ff 73.6%,#000bff 74.6%,#0039ff 75.4%,#0097ff 76.4%,#00a9ff 76.8%,#00b7ff 77.5%,#00e9ff 78.2%,#02fffd 78.6%,#63ff9c 81.5%,#c5ff3a 86.9%,#fffe00 91.9%,#ffcb00 95.1%,#ff9700)"></i><i style="background:linear-gradient(90deg,#000080,#000080 68.9%,#00008f 70.7%,#0000b7 71.8%,#0000c4 72.5%,#0000d7 72.8%,#0000fa 73.2%,#0017ff 73.6%,#001aff 74.6%,#0041ff 75.4%,#0090ff 76.4%,#00c0ff 77.5%,#00f3ff 78.2%,#0afff5 78.6%,#7dff82 82.6%,#acff53 84.7%,#d0ff2f 87.2%,#dfff20 89.7%,#ff0 91.9%,#ffec00 92.6%,#ffb400 96.6%,#ff9500)"></i><i style="background:linear-gradient(90deg,#000080,#000080 68.9%,#000094 71%,#0000c4 72.5%,#0000f6 73.2%,#000fff 73.6%,#001dff 74.6%,#0086ff 76.4%,#00b8ff 77.5%,#00efff 78.2%,#08fff7 78.6%,#80ff7f 82.6%,#90ff6f 83.6%,#b7ff48 85.1%,#cfff30 86.9%,#e2ff1d 89.7%,#feff01 91.9%,#ffe700 92.6%,#ffdf00 93.7%,#ffc800 94.8%,#ff9200)"></i><i style="background:linear-gradient(90deg,#000080,#000080 68.9%,#00008f 71%,#0000a5 71.8%,#0000e9 73.2%,#0000fc 73.9%,#0016ff 74.6%,#006bff 76.1%,#00a2ff 77.5%,#00fdff 78.6%,#48ffb7 80.4%,#62ff9d 81.8%,#85ff7a 82.6%,#8dff72 83.6%,#c4ff3b 85.8%,#ff0 91.9%,#ffdc00 93%,#ffa900 96.9%,#ff8e00)"></i><i style="background:linear-gradient(90deg,#000080,#000080 68.9%,#000091 71.4%,#0000d7 72.8%,#0000de 73.6%,#0000f7 74.3%,#000dff 74.6%,#0057ff 75.7%,#008fff 77.5%,#00f2ff 78.6%,#09fff6 79%,#57ffa8 80.8%,#61ff9e 81.8%,#87ff78 82.6%,#89ff76 83.6%,#c4ff3b 85.8%,#d8ff27 88.7%,#edff12 89.7%,#fffe00 91.9%,#ffd900 93%,#ff9200 98.7%,#ff8b00)"></i><i style="background:linear-gradient(90deg,#000080,#000080 68.9%,#000092 71.8%,#0000e3 73.2%,#0000fb 74.3%,#0005ff 74.6%,#0054ff 75.7%,#008fff 77.5%,#0ef 78.6%,#03fffc 79%,#45ffba 80.4%,#68ff97 81.8%,#84ff7b 82.6%,#8f7 83.6%,#bfff40 85.8%,#f0ff0f 89.7%,#feff01 91.5%,#ffc400 94.8%,#ff8900)"></i><i style="background:linear-gradient(90deg,#000080,#000080 68.9%,#00008c 70.7%,#008 71.8%,#0000a7 72.5%,#0000ea 73.2%,#0005ff 73.6%,#0000fd 74.6%,#0051ff 75.7%,#0091ff 77.5%,#00eaff 78.6%,#00feff 79%,#59ffa6 81.1%,#78ff87 82.2%,#8dff72 84%,#baff45 85.8%,#e8ff17 88.7%,#fffe00 91.2%,#ffb500 95.9%,#ff8600)"></i><i style="background:linear-gradient(90deg,#000080,#000080 68.9%,#00008d 71.8%,#0000a7 72.5%,#0003ff 73.6%,#0000fa 74.6%,#0012ff 75%,#004eff 75.7%,#0093ff 77.5%,#00f9ff 79%,#70ff8f 81.8%,#8cff73 84%,#b9ff46 85.8%,#c9ff36 87.2%,#ebff14 88.7%,#fffb00 91.2%,#ffb200 95.9%,#ff8400)"></i><i style="background:linear-gradient(90deg,#000080,#000080 68.9%,#000096 71.4%,#0000b5 72.5%,#0000ec 73.6%,#0000f9 74.6%,#0012ff 75%,#004cff 75.7%,#0094ff 77.5%,#00f6ff 79%,#08fff7 79.3%,#5fffa0 81.5%,#7cff83 82.6%,#85ff7a 83.6%,#baff45 85.8%,#cdff32 87.6%,#ef1 89%,#feff01 90.8%,#ffd700 93.7%,#ffb300 95.5%,#ff8100)"></i><i style="background:linear-gradient(90deg,#000080,#000080 68.9%,#000096 71%,#0000f9 74.6%,#005cff 76.1%,#0096ff 77.5%,#00f3ff 79%,#07fff8 79.3%,#7aff85 82.6%,#84ff7b 83.6%,#baff45 85.8%,#c9ff36 87.6%,#ecff13 89%,#ff0 90.8%,#ffd500 93.7%,#ffae00 95.5%,#ffa700 96.9%,#ff7f00)"></i><i style="background:linear-gradient(90deg,#000080,#000080 68.9%,#00009c 71.4%,#0000f6 74.3%,#0024ff 75.4%,#006bff 76.4%,#0098ff 77.5%,#00f2ff 79%,#07fff8 79.3%,#57ffa8 81.5%,#74ff8b 82.6%,#b4ff4b 85.8%,#c3ff3c 87.6%,#e2ff1d 88.7%,#ff0 90.8%,#ffd400 93.7%,#ffa600 95.9%,#ff7d00)"></i><i style="background:linear-gradient(90deg,#000080,#000080 68.9%,#0000a2 72.1%,#0000ef 73.9%,#0002ff 74.3%,#0028ff 75.7%,#0083ff 76.8%,#009eff 77.5%,#00f1ff 79%,#07fff8 79.3%,#53ffac 81.5%,#6cff93 82.6%,#a9ff56 85.4%,#beff41 87.6%,#deff21 88.7%,#ff0 90.8%,#ffd400 93.7%,#ffa300 95.9%,#ff7b00)"></i><i style="background:linear-gradient(90deg,#000080,#000080 68.9%,#009 72.1%,#0000b2 72.8%,#00f 74.3%,#01f 74.6%,#0025ff 75.7%,#08f 76.8%,#00c5ff 78.2%,#0ef 79%,#05fffa 79.3%,#52ffad 81.5%,#a8ff57 85.4%,#bcff43 87.6%,#df2 88.7%,#ff0 90.8%,#ffd400 93.7%,#ffa100 95.9%,#ff7800)"></i><i style="background:linear-gradient(90deg,#000080,#000080 68.9%,#000096 72.1%,#0000c9 73.6%,#0000f2 74.3%,#0006ff 74.6%,#002dff 75.7%,#08f 76.8%,#00d1ff 78.6%,#00feff 79.3%,#49ffb6 81.1%,#6dff92 82.6%,#b2ff4d 85.8%,#bdff42 87.6%,#dfff20 88.7%,#fffd00 90.8%,#ffd200 93.7%,#ffa000 95.9%,#ff7600)"></i><i style="background:linear-gradient(90deg,#000080,#000080 68.9%,#000094 72.1%,#0000bc 73.6%,#0000fa 74.6%,#0009ff 75%,#0034ff 75.7%,#08f 76.8%,#0cf 78.6%,#00f9ff 79.3%,#4dffb2 81.1%,#71ff8e 82.6%,#8bff74 84.4%,#b5ff4a 85.8%,#beff41 87.6%,#e1ff1e 88.7%,#fcff03 90.5%,#ffd000 93.7%,#ff9e00 95.9%,#ff7400)"></i><i style="background:linear-gradient(90deg,#000080,#000080 69.2%,#000090 71.8%,#0000b5 72.8%,#0000bd 73.6%,#0000fb 74.6%,#0007ff 75%,#002cff 75.7%,#0084ff 76.8%,#00f8ff 79.3%,#52ffad 81.5%,#afff50 85.8%,#c5ff3a 87.6%,#ff0 90.5%,#ffcb00 93.7%,#ff9c00 95.9%,#ff7000)"></i><i style="background:linear-gradient(90deg,#000080,#000080 69.2%,#000094 71.8%,#0000c4 72.8%,#0000c0 73.6%,#0000fd 74.6%,#02f 75.7%,#0080ff 76.8%,#0096ff 77.2%,#00e5ff 78.6%,#00f9ff 79.3%,#01fffe 79.7%,#4bffb4 81.5%,#8eff71 84.4%,#fffb00 90.5%,#ff9a00 95.9%,#ff6b00)"></i><i style="background:linear-gradient(90deg,#000080,#000080 69.2%,#000094 71.8%,#0000c4 72.8%,#0000ba 73.6%,#0000f9 74.6%,#0003ff 75%,#02f 75.7%,#0080ff 76.8%,#00e9ff 78.6%,#00faff 79.7%,#3cffc3 81.1%,#59ffa6 82.6%,#98ff67 84.7%,#a8ff57 85.8%,#c8ff37 86.9%,#e7ff18 89.4%,#fffb00 90.5%,#ff9b00 95.9%,#ff6900)"></i><i style="background:linear-gradient(90deg,#000080,#000080 69.2%,#00008f 71.8%,#0000b4 72.8%,#0000a9 73.6%,#00f 75%,#0084ff 76.8%,#00dfff 78.6%,#00f5ff 79.7%,#09fff6 80%,#30ffcf 80.8%,#5fa 82.6%,#9bff64 84.7%,#cdff32 86.9%,#fffe00 90.5%,#ffbd00 93.7%,#ff6800)"></i><i style="background:linear-gradient(90deg,#000080,#000080 69.2%,#00008c 71.8%,#00a 72.8%,#0000a1 73.6%,#0000fb 75%,#0083ff 76.8%,#00d6ff 78.6%,#00f6ff 79.7%,#32ffcd 80.8%,#5fa 82.6%,#9dff62 84.7%,#d4ff2b 87.2%,#fffb00 90.8%,#fb0 93.7%,#f60)"></i><i style="background:linear-gradient(90deg,#000080,#000080 69.2%,#000090 71.8%,#0000a5 72.8%,#0000a3 73.6%,#0000c2 74.3%,#0000f5 75%,#003cff 75.7%,#00a4ff 77.5%,#00e7ff 79%,#00fbff 79.7%,#36ffc9 81.1%,#afff50 85.4%,#d9ff26 87.6%,#e0ff1f 88.7%,#f5ff0a 89.7%,#fffc00 90.8%,#ffde00 91.9%,#ff8500 96.9%,#ff6000)"></i><i style="background:linear-gradient(90deg,#000080,#000080 69.2%,#0000a6 73.6%,#0000cb 74.6%,#0000ed 75%,#0017ff 75.4%,#003cff 75.7%,#004fff 76.4%,#0064ff 76.8%,#00a9ff 77.5%,#00bfff 77.9%,#00f9ff 79.3%,#15ffea 80.4%,#65ff9a 82.6%,#b6ff49 85.8%,#f7ff08 89.7%,#fffb00 90.8%,#ffdc00 91.9%,#ffc800 93.7%,#ff7f00 96.9%,#ff5a00)"></i><i style="background:linear-gradient(90deg,#000080,#000080 69.2%,#0000ac 73.6%,#0000c4 74.6%,#0000e4 75%,#000eff 75.4%,#03f 75.7%,#04f 76.4%,#005aff 76.8%,#00a8ff 77.5%,#00c0ff 77.9%,#00fcff 79.3%,#1bffe4 80.8%,#5dffa2 82.2%,#74ff8b 82.9%,#d5ff2a 87.6%,#f7ff08 89.7%,#fffa00 90.8%,#ffdc00 91.9%,#ffca00 93.7%,#ff8100 96.6%,#f50)"></i><i style="background:linear-gradient(90deg,#000080,#000080 69.2%,#0000be 74.3%,#0000c5 74.6%,#0000f7 75.4%,#005aff 76.8%,#009dff 77.5%,#00fbff 79.3%,#1bffe4 80.8%,#76ff89 82.9%,#ff0 90.5%,#ff7c00 96.9%,#ff5300)"></i><i style="background:linear-gradient(90deg,#000080,#000080 69.2%,#0000a1 72.1%,#0000c2 73.6%,#0000c7 74.6%,#0000e2 75.4%,#0001ff 75.7%,#0079ff 77.2%,#00c8ff 78.6%,#00faff 79.3%,#28ffd7 81.1%,#78ff87 82.9%,#a8ff57 86.2%,#e3ff1c 88.7%,#fffe00 90.5%,#ff6e00 97.7%,#ff5200)"></i><i style="background:linear-gradient(90deg,#000080,#000080 69.2%,#00009a 71.8%,#0000d2 73.6%,#0000d1 75%,#0000d8 75.4%,#0000f2 75.7%,#0017ff 76.1%,#0076ff 77.2%,#00e8ff 79%,#01fffe 79.3%,#12ffed 79.7%,#29ffd6 81.1%,#6f9 82.6%,#85ff7a 83.6%,#a3ff5c 85.8%,#fffe00 90.5%,#ff6a00 97.7%,#ff4d00)"></i><i style="background:linear-gradient(90deg,#000080,#000080 69.2%,#0000a1 72.1%,#0000e2 73.6%,#0000d2 75.4%,#0000e8 75.7%,#0010ff 76.1%,#005aff 76.8%,#00f4ff 79%,#09fff6 79.3%,#34ffcb 81.5%,#80ff7f 83.6%,#ff0 90.5%,#ff6000 98%,#ff4800)"></i><i style="background:linear-gradient(90deg,#000080,#000080 69.2%,#009 71.8%,#0000b2 72.5%,#0000eb 73.6%,#0000d3 75.4%,#0000e5 75.7%,#000cff 76.1%,#0056ff 76.8%,#00f5ff 79%,#07fff8 79.3%,#32ffcd 81.5%,#84ff7b 84%,#cfff30 87.6%,#d7ff28 88.7%,#fdff02 90.5%,#ffc600 93.3%,#ff8e00 95.5%,#ff5600 98.4%,#f40)"></i><i style="background:linear-gradient(90deg,#000080,#000080 69.2%,#00009b 71.8%,#0000ea 73.2%,#0000f3 73.6%,#0000ea 74.6%,#0000d8 75.4%,#0000e4 75.7%,#0009ff 76.1%,#0051ff 76.8%,#00d3ff 78.6%,#00faff 79.3%,#2fffd0 81.5%,#82ff7d 84%,#cdff32 87.6%,#fbff04 90.5%,#fff100 91.5%,#ff8d00 95.5%,#ff4200)"></i><i style="background:linear-gradient(90deg,#000080,#000080 69.2%,#00009d 71.8%,#0000e7 72.8%,#0000f4 73.2%,#0000f3 74.6%,#00d 75.4%,#0000e5 75.7%,#0007ff 76.1%,#004bff 76.8%,#00c5ff 78.6%,#00feff 79.7%,#2bffd4 81.5%,#63ff9c 82.9%,#7fff80 84%,#caff35 87.6%,#ff0 90.8%,#fff500 91.5%,#ff9300 95.1%,#ff4000)"></i><i style="background:linear-gradient(90deg,#000080,#000080 69.2%,#0000a1 71.8%,#00d 72.8%,#0000e9 74.6%,#0000e0 75.4%,#0000e9 75.7%,#0008ff 76.1%,#0045ff 76.8%,#00bfff 78.6%,#00f6ff 79.7%,#06fff9 80%,#29ffd6 81.5%,#5fffa0 82.9%,#85ff7a 84.4%,#ff0 90.8%,#fff500 91.5%,#f90 94.8%,#ff5200 98.4%,#ff3d00)"></i><i style="background:linear-gradient(90deg,#000080,#000080 69.2%,#0000a7 71.8%,#0000ca 72.8%,#0000b9 73.6%,#0000bf 73.9%,#0000ef 75.7%,#000aff 76.1%,#06f 77.5%,#0bf 78.6%,#00fdff 80%,#8fff70 84.7%,#fffe00 90.8%,#fff300 91.5%,#ff9700 94.8%,#ff7a00 96.6%,#ff5200 98%,#ff3b00)"></i><i style="background:linear-gradient(90deg,#000080,#000080 69.2%,#000085 70%,#0000be 72.5%,#0000ba 72.8%,#00009c 73.6%,#0000d1 74.6%,#0000f4 75.7%,#000cff 76.1%,#0059ff 77.5%,#00b5ff 78.6%,#00f6ff 80%,#06fff9 80.4%,#4dffb2 82.6%,#64ff9b 83.6%,#8fff70 84.7%,#ff0 90.8%,#ff9e00 94.4%,#ff7900 96.6%,#ff4d00 98%,#ff3800)"></i><i style="background:linear-gradient(90deg,#000080,#000080 69.2%,#00008e 70.3%,#0000bd 72.1%,#0000be 72.5%,#009 73.6%,#00a 73.9%,#0000e2 74.6%,#0000f7 75.7%,#0041ff 77.5%,#00abff 78.6%,#00f3ff 80%,#04fffb 80.4%,#4dffb2 82.6%,#60ff9f 83.6%,#8bff74 84.7%,#fffc00 91.2%,#ffae00 93.7%,#f70 96.6%,#ff5100 97.7%,#f30)"></i><i style="background:linear-gradient(90deg,#000080,#000080 69.2%,#00008f 70.3%,#0000c1 71.8%,#0000bf 72.5%,#00009a 73.6%,#0000b1 73.9%,#0000f4 74.6%,#0000fd 75.7%,#0024ff 76.8%,#002cff 77.5%,#004aff 77.9%,#00a1ff 78.6%,#00f0ff 80%,#02fffd 80.4%,#4cffb3 82.6%,#5dffa2 83.6%,#87ff78 84.7%,#caff35 87.9%,#dcff23 89.7%,#fffe00 91.2%,#ffac00 93.7%,#f80 95.9%,#ff4d00 97.7%,#ff2f00)"></i><i style="background:linear-gradient(90deg,#000080,#000080 69.2%,#00008e 70.3%,#0000b2 71.4%,#0000be 72.1%,#0000a0 73.6%,#0000f8 74.6%,#0035ff 77.5%,#00b3ff 79%,#00f9ff 80.4%,#42ffbd 82.6%,#57ffa8 83.6%,#81ff7e 84.7%,#c7ff38 87.9%,#deff21 89.7%,#fffb00 91.2%,#ffac00 93.7%,#ff8300 95.9%,#ff4d00 97.7%,#ff2b00)"></i><i style="background:linear-gradient(90deg,#000080,#000080 69.2%,#000092 70.7%,#0000b9 72.5%,#0000a7 73.6%,#0000f5 74.6%,#002fff 75.7%,#0036ff 76.8%,#004dff 77.5%,#00bdff 79.3%,#00fcff 80.8%,#50ffaf 83.6%,#84ff7b 85.1%,#fffe00 90.8%,#ffab00 93.7%,#ff9a00 94.8%,#ff4f00 97.7%,#ff2800)"></i><i style="background:linear-gradient(90deg,#000080,#000080 69.2%,#000090 70.7%,#0000b8 72.5%,#0000ab 73.6%,#0000f3 74.6%,#0013ff 75%,#003eff 75.7%,#003dff 76.8%,#00caff 79.7%,#00f3ff 80.8%,#01fffe 81.1%,#31ffce 82.9%,#80ff7f 85.1%,#faff05 90.5%,#ffd800 92.3%,#ffab00 93.7%,#ff9b00 94.8%,#ff6d00 96.2%,#ff2600)"></i><i style="background:linear-gradient(90deg,#000080,#000080 69.2%,#00008c 70.3%,#0000be 72.5%,#0000a8 73.6%,#00b 73.9%,#0000f9 74.6%,#001dff 75.4%,#0032ff 76.8%,#00c0ff 79.3%,#00f4ff 80.8%,#04fffb 81.1%,#37ffc8 83.3%,#8bff74 85.4%,#feff01 90.5%,#ffe200 91.9%,#ffac00 93.7%,#ff9b00 94.8%,#ff6500 96.6%,#f20)"></i><i style="background:linear-gradient(90deg,#000080,#000080 69.2%,#00008e 70.3%,#0000c4 72.5%,#0000a4 73.6%,#0000b9 73.9%,#0000fe 74.6%,#000dff 76.1%,#0024ff 76.8%,#004eff 77.5%,#00b7ff 79%,#00f7ff 80.8%,#1effe1 81.8%,#34ffcb 83.3%,#76ff89 84.7%,#97ff68 85.8%,#fffc00 90.5%,#ffe200 91.9%,#ff5c00 96.9%,#ff1f00)"></i><i style="background:linear-gradient(90deg,#000080,#000080 69.2%,#000087 70%,#0000be 72.5%,#0000a5 73.6%,#0000ba 73.9%,#0000f8 74.6%,#0002ff 75.7%,#0013ff 76.4%,#0035ff 77.2%,#0089ff 78.2%,#00ceff 79.3%,#05fffa 81.1%,#32ffcd 83.3%,#73ff8c 84.7%,#97ff68 85.8%,#fffd00 90.5%,#ff8700 95.5%,#ff5b00 96.9%,#ff1c00)"></i><i style="background:linear-gradient(90deg,#000080,#000080 69.2%,#0000b0 72.5%,#00a 73.6%,#0000fa 75%,#0026ff 76.8%,#00e3ff 79.7%,#07fff8 81.5%,#32ffcd 83.3%,#94ff6b 85.8%,#feff01 90.5%,#ff7d00 95.9%,#ff5900 96.9%,#ff5400 97.7%,#ff1900)"></i><i style="background:linear-gradient(90deg,#000080,#000080 69.2%,#0000ac 73.6%,#0000f3 75%,#000aff 75.4%,#0029ff 76.8%,#00e6ff 79.7%,#04fffb 81.8%,#90ff6f 85.8%,#fbff04 90.5%,#ffd400 91.9%,#ffc900 93%,#ff5900 96.9%,#f50 97.7%,#ff2700 99.1%,#ff1700)"></i><i style="background:linear-gradient(90deg,#000080,#000080 69.2%,#00a 72.5%,#0000a5 73.6%,#0000cf 74.6%,#0000ec 75%,#000aff 75.4%,#001dff 75.7%,#0021ff 76.4%,#0036ff 77.2%,#00cdff 79.3%,#00dbff 79.7%,#00e8ff 81.1%,#05fffa 82.2%,#8cff73 85.8%,#fffa00 90.8%,#ff5b00 96.9%,#ff1b00)"></i><i style="background:linear-gradient(90deg,#000080,#000080 68.9%,#0000b3 72.5%,#00009e 73.6%,#0000c4 74.6%,#0000e5 75%,#000aff 75.4%,#0021ff 75.7%,#0027ff 76.8%,#003bff 77.5%,#009cff 78.6%,#00c5ff 79.3%,#00d9ff 81.1%,#00fbff 82.2%,#4effb1 84%,#a9ff56 86.9%,#fffd00 90.8%,#ff4a00 97.7%,#ff1f00)"></i><i style="background:linear-gradient(90deg,#000080,#000080 68.9%,#000084 69.6%,#0000ba 72.5%,#0000ae 73.9%,#0000c2 74.6%,#0000e1 75%,#0004ff 75.4%,#0019ff 75.7%,#0038ff 77.5%,#09f 78.6%,#00bdff 79.3%,#00d6ff 81.1%,#00fdff 82.2%,#50ffaf 84%,#adff52 86.9%,#c9ff36 88.7%,#fcff03 90.8%,#ff4800 97.7%,#ff1f00)"></i><i style="background:linear-gradient(90deg,#000080,#000080 68.9%,#0000a3 71.4%,#0000c7 72.8%,#0000ca 74.6%,#0000f7 75.4%,#003fff 77.5%,#0093ff 78.6%,#00b3ff 79.3%,#00d3ff 80.8%,#00f7ff 81.8%,#09fff6 82.2%,#6eff91 84.7%,#86ff79 85.8%,#b2ff4d 86.9%,#fffd00 91.2%,#ffa800 93.7%,#ff1b00)"></i><i style="background:linear-gradient(90deg,#000080,#000080 68.9%,#0000a1 71.4%,#0000d7 73.2%,#0000d3 74.6%,#0000fc 75.7%,#0034ff 76.8%,#0048ff 77.5%,#009eff 79%,#02fffd 81.8%,#73ff8c 84.7%,#86ff79 85.8%,#b6ff49 86.9%,#eaff15 90.5%,#fdff02 91.2%,#ffa500 93.7%,#ff9300 94.8%,#ff6c00 95.9%,#ff3b00 98.7%,#ff1700)"></i><i style="background:linear-gradient(90deg,#000080,#000080 68.9%,#0000a5 71.8%,#0000c9 72.8%,#0000e6 74.6%,#0000fd 75.4%,#0008ff 75.7%,#04f 76.8%,#0056ff 77.5%,#00a1ff 79%,#0cf 80.8%,#00fbff 81.8%,#0dfff2 82.2%,#48ffb7 83.6%,#afff50 86.9%,#fffe00 91.2%,#ffa700 93.7%,#ff7600 95.5%,#ff3900 98.7%,#ff1400)"></i><i style="background:linear-gradient(90deg,#000080,#000080 68.9%,#0000a2 71.8%,#0000c9 73.6%,#0000f9 74.6%,#0016ff 75.7%,#05f 76.8%,#0064ff 77.5%,#09f 78.6%,#00c2ff 80.8%,#05fffa 82.2%,#4bffb4 83.6%,#a7ff58 86.9%,#fffc00 91.2%,#ff8600 94.8%,#ff4000 98.4%,#f10)"></i><i style="background:linear-gradient(90deg,#000080,#008 2.7%,#000080 5.2%,#000080 68.9%,#0000ba 73.2%,#0000c4 73.6%,#0000ef 74.3%,#0006ff 74.6%,#001fff 75.7%,#005cff 76.8%,#0063ff 77.5%,#00a4ff 79%,#00c3ff 80.8%,#02fffd 82.2%,#49ffb6 83.6%,#5cffa3 84.7%,#b5ff4a 87.6%,#faff05 90.8%,#ffd400 92.6%,#ff8300 94.8%,#ff4700 98%,#f10)"></i><i style="background:linear-gradient(90deg,#000083,#000092 2.7%,#000080 5.2%,#000087 9.2%,#000080 13.8%,#00008b 16%,#000080 21.8%,#000080 68.9%,#00009b 70.7%,#0000a6 72.8%,#0000c0 73.6%,#0000ef 74.3%,#0007ff 74.6%,#001eff 75.7%,#0056ff 76.8%,#0052ff 77.5%,#0096ff 78.6%,#00abff 79.7%,#05fffa 82.2%,#35ffca 83.3%,#51ffae 84.7%,#b0ff4f 87.6%,#fffe00 91.2%,#ff8600 94.8%,#ff3e00 98.4%,#ff1200)"></i><i style="background:linear-gradient(90deg,#000087,#0000a0 2.7%,#008 4.1%,#000080 5.9%,#00008d 9.2%,#000080 13.1%,#000094 16.7%,#000087 18.2%,#000080 22.5%,#000080 68.9%,#0000a2 71%,#00009c 72.8%,#0000bd 73.6%,#00e 74.3%,#0005ff 74.6%,#001dff 75.7%,#004eff 76.8%,#0041ff 77.5%,#0052ff 77.9%,#0091ff 78.6%,#00a8ff 79.7%,#00d9ff 80.8%,#00e3ff 81.5%,#07fff8 82.2%,#28ffd7 82.9%,#5cffa3 85.4%,#ceff31 88.7%,#feff01 91.2%,#ffef00 91.9%,#ff8a00 94.8%,#ff1300)"></i><i style="background:linear-gradient(90deg,#000089,#0000a9 2.7%,#000089 4.1%,#000080 6.3%,#000093 8.8%,#000082 13.1%,#00009d 16.4%,#00008d 18.2%,#000090 20%,#000082 22.5%,#000089 28.2%,#000080 32.9%,#000080 68.9%,#0000a9 71.4%,#0000a3 72.8%,#0000fc 74.6%,#0045ff 76.8%,#0043ff 77.5%,#008aff 78.6%,#03fffc 82.2%,#2effd1 83.3%,#5dffa2 85.4%,#b1ff4e 87.6%,#ff0 91.2%,#ff7200 95.9%,#ff1200)"></i><i style="background:linear-gradient(90deg,#00008a,#0000ab 2.3%,#000089 4.1%,#000086 6.7%,#000098 8.8%,#000082 13.1%,#0000a4 15.3%,#0000a8 16.4%,#000092 18.2%,#00009c 19.6%,#000085 22.5%,#000083 26.4%,#00008f 28.2%,#000081 33.3%,#000080 68.9%,#000085 69.6%,#0000b3 71.8%,#0000ae 72.8%,#0000f3 74.6%,#0009ff 75%,#002aff 75.7%,#0048ff 77.5%,#0092ff 79%,#00c0ff 80.8%,#00fdff 82.2%,#0afff5 82.6%,#37ffc8 83.6%,#5fffa0 85.4%,#b6ff49 87.6%,#c5ff3a 88.7%,#fffe00 91.2%,#ff7300 95.9%,#f10)"></i><i style="background:linear-gradient(90deg,#000089,#0000a9 1.3%,#0000ac 2%,#000087 4.1%,#000092 5.2%,#00008e 7%,#00009f 8.8%,#000082 13.1%,#0000bc 16%,#009 18.2%,#0000ab 19.2%,#008 22.5%,#000085 26.4%,#000095 28.2%,#000080 33.3%,#000080 68.9%,#000084 69.6%,#0000b3 71.8%,#0000b7 72.8%,#0000ed 74.6%,#0002ff 75%,#0020ff 75.7%,#002bff 76.8%,#009fff 79.3%,#00b7ff 80.8%,#00f0ff 81.8%,#05fffa 82.6%,#36ffc9 83.6%,#5cffa3 85.4%,#b6ff49 87.6%,#c8ff37 89%,#fffd00 91.2%,#ff4100 97.7%,#ff0f00)"></i><i style="background:linear-gradient(90deg,#008,#008 0.2%,#0000bf 1.3%,#0000a8 2.7%,#000082 4.1%,#0000ad 8.8%,#000093 10.3%,#000085 12.8%,#00008e 13.5%,#0000c5 14.9%,#0000dc 16%,#0000db 16.4%,#0000a3 18.2%,#0000bf 19.2%,#009 21%,#00008b 22.5%,#000097 24.3%,#000086 25.4%,#008 26.4%,#009 28.6%,#000095 30.8%,#000080 32.9%,#000080 68.9%,#0000be 72.8%,#0001ff 75.4%,#0002ff 76.1%,#0014ff 76.8%,#005cff 77.9%,#0094ff 79%,#00acff 79.7%,#00b3ff 80.8%,#00f0ff 81.8%,#03fffc 82.6%,#32ffcd 83.6%,#53ffac 85.4%,#b0ff4f 87.6%,#cbff34 89.4%,#fffb00 91.2%,#ff9a00 94.8%,#ff3600 98%,#ff0e00)"></i><i style="background:linear-gradient(90deg,#008,#008 0.2%,#0000c4 0.9%,#0000d5 1.3%,#0000b3 2%,#0000ac 3.1%,#000080 4.1%,#0000c4 9.2%,#000095 10.3%,#000081 12.4%,#009 13.5%,#0000e5 14.9%,#00f 16.4%,#0000cb 17.4%,#0000b5 18.2%,#0000bc 18.5%,#0000df 19.2%,#0000b3 20.3%,#000098 21.4%,#00008c 22.8%,#0000a4 24.3%,#000081 25.4%,#00009f 28.2%,#0000a0 30.4%,#000080 32.6%,#000089 35.1%,#000080 37.2%,#000080 68.9%,#0000a2 71.8%,#0000c3 72.8%,#0000e8 74.6%,#0000ed 76.4%,#00f 76.8%,#005bff 77.9%,#0097ff 79%,#00adff 79.7%,#00b0ff 80.8%,#00efff 81.8%,#01fffe 82.6%,#2dffd2 83.6%,#4affb5 85.4%,#af5 87.6%,#cf3 89.7%,#fffa00 91.2%,#f90 94.8%,#f30 98%,#ff0b00)"></i><i style="background:linear-gradient(90deg,#0000a2,#0000a2 0.2%,#0000d8 1.3%,#0000c0 2%,#0000c0 3.1%,#00008e 4.1%,#00008a 4.9%,#0000ac 6.3%,#0000af 7.4%,#0000d0 8.8%,#0000ce 9.2%,#00008c 10.3%,#000081 12.4%,#00009b 13.5%,#00d 14.6%,#0004ff 15.6%,#0019ff 16.4%,#0008ff 16.7%,#0000dc 17.4%,#0000ca 18.2%,#0000d4 18.5%,#0001ff 19.2%,#0000b0 21%,#000095 22.1%,#00008f 23.2%,#0000a9 24.3%,#000086 25.7%,#00008c 26.8%,#0000b0 28.2%,#0000a1 30.8%,#000080 32.2%,#00008b 35.1%,#000080 37.2%,#000080 68.9%,#0000a0 71.8%,#0000f1 75%,#0000f8 76.4%,#0009ff 76.8%,#0054ff 77.9%,#09f 79.3%,#00aeff 80.8%,#00ecff 81.8%,#05fffa 82.9%,#3dffc2 84.4%,#54ffab 85.8%,#acff53 87.6%,#ceff31 89.7%,#fffa00 91.2%,#ff8e00 95.1%,#ff3200 98%,#ff0800)"></i><i style="background:linear-gradient(90deg,#0000c0,#0000d6 1.3%,#0000cd 2%,#0000d5 3.1%,#0000a2 4.5%,#000098 5.2%,#0000b0 6.3%,#0000ad 7.4%,#0000db 8.5%,#0000ce 9.2%,#000080 10.3%,#00008f 11.3%,#000085 12.4%,#000098 13.5%,#0000d7 14.6%,#0008ff 15.6%,#0025ff 16.4%,#0000f1 17.1%,#0000dc 17.4%,#0000d0 18.2%,#0000f3 18.9%,#0008ff 19.2%,#0001ff 19.6%,#0000d9 20.3%,#000095 22.5%,#000090 23.2%,#0000ae 24.3%,#0000ad 24.6%,#000081 26.4%,#0000c2 28.2%,#0000c3 28.6%,#000080 32.2%,#00008e 35.1%,#000080 37.2%,#000080 68.9%,#0000b3 73.2%,#0000ec 74.6%,#00f 75.7%,#0009ff 76.4%,#0089ff 79.3%,#00abff 80.8%,#00e7ff 81.8%,#00fcff 82.9%,#12ffed 83.3%,#4effb1 84.7%,#57ffa8 85.8%,#aeff51 87.6%,#d3ff2c 89.7%,#fffb00 91.2%,#ffab00 93.7%,#ff8e00 95.1%,#ff3200 98%,#ff0400)"></i><i style="background:linear-gradient(90deg,#0000d7,#0000d3 1.3%,#0000e5 3.1%,#00009d 5.2%,#0000b6 6.3%,#0000a8 7%,#0000af 7.4%,#0000e1 8.1%,#0000e8 8.5%,#0000ce 9.2%,#000082 10.3%,#000094 11.3%,#000085 12.4%,#00008b 13.1%,#000096 13.5%,#0000fb 15.3%,#0025ff 16.4%,#0000f4 17.1%,#0000e0 17.4%,#0000cf 18.2%,#0000d7 18.5%,#0001ff 19.2%,#0000fd 19.6%,#000096 22.8%,#000094 23.2%,#0000ba 24.3%,#0000bd 24.6%,#000080 26.4%,#000085 26.8%,#0000c8 28.2%,#0000cd 28.6%,#0000b7 29.7%,#00009b 30.4%,#000080 32.2%,#000092 34.4%,#000080 37.2%,#000080 68.9%,#0000ad 73.2%,#0000fc 75.4%,#000dff 76.4%,#009bff 80.4%,#00e3ff 81.8%,#0ff 82.9%,#13ffec 83.3%,#4fffb0 84.7%,#5bffa4 85.8%,#aeff51 87.6%,#d7ff28 89.7%,#fffc00 91.2%,#ffd500 92.6%,#ffa800 93.7%,#ff8400 95.5%,#f30 98%,#ff0100)"></i><i style="background:linear-gradient(90deg,#0000e5,#0000d2 1.3%,#0000fa 2.7%,#000096 5.2%,#0000b8 6.3%,#0000b6 7%,#0000c1 7.4%,#0000f1 8.1%,#0000f5 8.5%,#00009e 10.3%,#00009b 11.3%,#000080 12.1%,#000080 12.4%,#000084 12.8%,#0000b2 13.8%,#00f 14.9%,#0014ff 15.3%,#0018ff 15.6%,#0015ff 16.4%,#0000fc 17.1%,#0000c7 18.2%,#0000c7 18.5%,#0000ea 19.2%,#0000ed 20%,#0000c0 21.4%,#0000a4 23.2%,#0000d9 24.3%,#0000da 24.6%,#00008e 26.4%,#000087 26.8%,#000095 27.5%,#0000c0 28.6%,#0000c3 29.3%,#0000a3 30.4%,#00008e 32.2%,#00008c 33.3%,#00009b 34.4%,#000080 36.9%,#000080 68.9%,#0000af 72.1%,#0000b7 73.6%,#0000ec 75.4%,#0000fe 76.4%,#02f 77.5%,#0054ff 78.6%,#006fff 79.7%,#02fffd 82.6%,#2bffd4 83.6%,#5fffa0 85.8%,#af5 87.6%,#fffe00 91.2%,#ffab00 93.7%,#ff8200 95.5%,#f00)"></i><i style="background:linear-gradient(90deg,#0000f4,#0000d7 1.3%,#00f 2%,#0010ff 2.7%,#00f 3.1%,#0000cf 3.8%,#000096 5.2%,#0000c7 7%,#0003ff 8.1%,#0004ff 8.5%,#00c 9.5%,#0000ae 11%,#000080 12.1%,#00008c 12.8%,#0000d2 14.2%,#0000f3 14.6%,#001aff 14.9%,#0032ff 15.3%,#000bff 16.4%,#0007ff 17.1%,#0000f7 17.4%,#0000c1 18.2%,#0000ba 18.5%,#0000e0 19.6%,#0000eb 20.3%,#0000be 21.4%,#0000b7 23.2%,#0000c4 23.6%,#0000f6 24.3%,#0000f5 24.6%,#0000cd 25.4%,#000081 27.2%,#000081 27.5%,#0000c0 29.3%,#0000a8 30.8%,#0000a4 32.2%,#00008b 33.3%,#0000a6 34.4%,#000080 36.9%,#000080 68.5%,#000081 69.2%,#0000bc 72.5%,#0000bc 73.9%,#0000f9 76.8%,#0013ff 77.5%,#004fff 78.6%,#005dff 79.7%,#00a9ff 80.8%,#00c6ff 81.5%,#00f7ff 82.2%,#1fe 82.6%,#2bffd4 83.3%,#4affb5 85.1%,#a6ff59 87.6%,#b7ff48 88.7%,#efff10 90.5%,#fffa00 91.5%,#ffad00 93.7%,#fe0000)"></i><i style="background:linear-gradient(90deg,#0005ff,#00e 1.3%,#0002ff 1.6%,#0029ff 2.3%,#0028ff 2.7%,#0000fc 3.4%,#0000af 5.2%,#00b 5.9%,#0000f4 7.4%,#000aff 7.7%,#001bff 8.1%,#001cff 8.5%,#000dff 8.8%,#0000f8 9.2%,#0000c3 10.3%,#000092 12.1%,#000097 12.4%,#0000f1 14.2%,#0014ff 14.6%,#003aff 14.9%,#0052ff 15.3%,#000bff 17.4%,#0000f0 17.8%,#0000d6 18.2%,#00c 18.5%,#0000e7 20.3%,#0000c0 21.4%,#0000d5 22.5%,#0000c6 23.2%,#0000d0 23.6%,#0000fb 24.3%,#0000f5 24.6%,#0000c6 25.4%,#0000af 26.4%,#000086 27.2%,#000083 27.5%,#0000a3 28.6%,#0000b7 31.5%,#00009c 33.3%,#0000ac 34.4%,#00008f 35.4%,#000080 37.2%,#000080 68.9%,#0000b2 72.5%,#0000a8 73.6%,#0000d9 75.4%,#0000d6 76.4%,#0000f3 77.2%,#0008ff 77.5%,#004cff 78.6%,#06f 79.7%,#00a4ff 80.8%,#00c0ff 81.5%,#00efff 82.2%,#09fff6 82.6%,#31ffce 83.6%,#49ffb6 85.1%,#a5ff5a 87.6%,#b7ff48 88.7%,#fcff03 91.2%,#fff100 91.9%,#ffae00 93.7%,#fd0000)"></i><i style="background:linear-gradient(90deg,#0016ff,#000aff 1.3%,#04f 2.3%,#0041ff 2.7%,#0019ff 3.4%,#0005ff 4.1%,#0000d1 5.2%,#0000d0 5.6%,#0000d9 6.3%,#0000fd 7%,#0035ff 8.1%,#003aff 8.5%,#001dff 9.2%,#0002ff 9.5%,#0000c8 10.3%,#0000ae 12.1%,#0000f5 13.5%,#0004ff 13.8%,#0017ff 14.2%,#005bff 14.9%,#0071ff 15.3%,#04f 16.7%,#000aff 17.8%,#0000f4 18.2%,#0000e7 18.5%,#0000e3 20.3%,#0000c7 21%,#0000c5 21.4%,#0000e6 22.1%,#0000eb 22.5%,#0000d4 23.2%,#0000d9 23.6%,#0000f8 24.3%,#0000ed 24.6%,#00b 25.4%,#0000b9 26.4%,#00008e 27.2%,#00008b 27.5%,#0000a7 28.2%,#00008c 29.3%,#00c 31.5%,#0000ba 32.6%,#0000b8 34%,#000089 35.4%,#000080 37.6%,#000080 68.9%,#0000a0 72.1%,#000096 73.6%,#0000d1 74.6%,#0000d8 75%,#0000d7 75.7%,#0000bf 76.4%,#0000c7 76.8%,#0000fe 77.5%,#005bff 79%,#00b9ff 81.5%,#00f8ff 82.6%,#2effd1 83.6%,#4affb5 85.1%,#a6ff59 87.6%,#c9ff36 89.4%,#fcff03 91.2%,#fff100 91.9%,#ffae00 93.7%,#ff5800 96.9%,#ff0800 99.5%,#fb0000)"></i><i style="background:linear-gradient(90deg,#002fff,#002dff 1.3%,#005bff 2.3%,#0057ff 2.7%,#0036ff 3.4%,#0031ff 4.1%,#0007ff 4.9%,#0000e7 5.9%,#0000fa 6.7%,#004cff 8.1%,#0053ff 8.5%,#003bff 9.2%,#0000f2 9.9%,#0000d0 10.3%,#0000c1 11.7%,#0000d1 12.4%,#0000fd 13.1%,#0037ff 14.2%,#0073ff 14.9%,#0086ff 15.3%,#006cff 16.4%,#002bff 17.4%,#0000fa 18.5%,#0000ea 20%,#0000cb 21%,#0000cd 21.4%,#0000f4 22.1%,#0000fc 22.5%,#0000e3 23.2%,#0000fb 24.3%,#0000ef 24.6%,#0000bf 25.4%,#0000c5 26.4%,#009 27.2%,#000095 27.5%,#0000af 28.2%,#000080 29.3%,#0000db 31.5%,#0000ce 34%,#0000c1 34.4%,#000092 35.1%,#000080 36.9%,#000080 68.9%,#000098 70.7%,#00008e 73.6%,#0000ce 74.6%,#0000d5 75%,#0000d2 75.7%,#0000b6 76.4%,#0000bd 76.8%,#0000fa 77.5%,#0085ff 79.7%,#00a4ff 81.1%,#0ef 82.6%,#05fffa 82.9%,#2fffd0 83.6%,#4cffb3 85.1%,#a4ff5b 87.6%,#cfff30 89.7%,#fcff03 91.2%,#fff100 91.9%,#ffaf00 93.7%,#ff0800 99.5%,#fb0000)"></i><i style="background:linear-gradient(90deg,#0059ff,#006cff 2.7%,#0052ff 3.4%,#0057ff 4.1%,#0014ff 5.2%,#0000f8 6.3%,#0004ff 6.7%,#0057ff 8.1%,#0061ff 8.5%,#004aff 9.2%,#0000fe 9.9%,#0000dc 10.3%,#0000e6 11.3%,#0000d5 12.1%,#0000ec 12.8%,#0002ff 13.1%,#007bff 14.9%,#0089ff 15.3%,#0073ff 16.4%,#0027ff 17.4%,#0003ff 18.5%,#0000f8 20%,#0000d7 21%,#0000d6 21.4%,#0000fd 22.5%,#0000ef 23.2%,#0000fe 23.9%,#000aff 24.3%,#0006ff 24.6%,#0000e4 25.4%,#0000d8 26.4%,#00a 27.2%,#0000a4 27.5%,#0000b5 28.2%,#000097 29.3%,#0000b4 30.4%,#0000f0 31.8%,#00f 32.6%,#0000e1 34.4%,#000097 35.4%,#000080 37.2%,#000080 68.9%,#009 70.7%,#000097 73.2%,#0000ca 75.4%,#0000c7 76.4%,#0000e8 77.2%,#0001ff 77.5%,#003cff 78.6%,#0087ff 79.7%,#00a0ff 81.1%,#08fff7 82.9%,#3fc 83.6%,#46ffb9 84.7%,#a0ff5f 87.6%,#fcff03 91.2%,#fffd00 91.5%,#ffc500 93%,#fb0000)"></i><i style="background:linear-gradient(90deg,#0084ff,#008fff 1.3%,#0087ff 2.7%,#0071ff 3.4%,#007aff 4.1%,#003aff 5.2%,#001bff 6.3%,#002cff 7%,#006bff 8.5%,#0056ff 9.2%,#01f 9.9%,#0000f3 10.3%,#0000fa 10.6%,#001aff 11.3%,#0001ff 12.1%,#0000f2 12.4%,#0006ff 13.1%,#006fff 14.6%,#008aff 15.3%,#07f 16.4%,#0027ff 17.4%,#001cff 17.8%,#0010ff 18.5%,#0014ff 19.6%,#0000f6 20.7%,#0000e3 21.4%,#0000fa 22.5%,#0001ff 23.6%,#001fff 24.6%,#0000fe 26.1%,#0000c6 27.2%,#0000bf 27.5%,#0000c9 28.2%,#0000bd 29.3%,#0000c9 30.4%,#0000ef 31.5%,#0008ff 31.8%,#001fff 32.2%,#0027ff 32.6%,#0007ff 33.3%,#00f 34.4%,#0000a6 35.4%,#000093 35.8%,#000080 36.9%,#000080 37.6%,#000080 68.9%,#00009a 70.7%,#0000b0 74.6%,#0000de 76.4%,#0000fd 77.2%,#003bff 78.6%,#008aff 79.7%,#0096ff 80.8%,#00abff 81.5%,#00f1ff 82.6%,#0bfff4 82.9%,#35ffca 83.6%,#49ffb6 84.7%,#70ff8f 85.8%,#85ff7a 86.9%,#fdff02 91.2%,#fff200 91.9%,#ffc500 93%,#fb0000)"></i><i style="background:linear-gradient(90deg,#009fff,#00baff 1.3%,#00aeff 2.7%,#0091ff 4.1%,#0050ff 5.6%,#003fff 6.3%,#007eff 8.5%,#006dff 9.2%,#0030ff 10.3%,#05f 11.3%,#0045ff 12.1%,#0019ff 12.8%,#0017ff 13.1%,#0024ff 13.5%,#0084ff 14.9%,#0093ff 15.3%,#0082ff 16.4%,#003cff 17.4%,#0032ff 17.8%,#0024ff 18.5%,#0023ff 20.3%,#0002ff 21%,#0001ff 21.8%,#0030ff 24.6%,#00f 26.4%,#0000e3 27.2%,#0000e6 28.2%,#00c 29.3%,#0000f7 31.5%,#0029ff 32.6%,#000aff 33.3%,#001aff 34.4%,#0000fe 34.7%,#0000b1 35.4%,#000097 35.8%,#000080 37.2%,#000080 68.9%,#0000a4 71.8%,#00a 74.6%,#0000f3 76.8%,#0008ff 77.2%,#0041ff 78.6%,#0085ff 79.7%,#00b1ff 81.5%,#04fffb 82.9%,#2cffd3 83.6%,#45ffba 84.4%,#fbff04 91.2%,#fffb00 91.5%,#ffc500 93%,#ff0700 99.5%,#fa0000)"></i><i style="background:linear-gradient(90deg,#00b5ff,#00dfff 1.3%,#00d1ff 2%,#00d7ff 2.7%,#00d2ff 3.1%,#0069ff 5.9%,#0065ff 6.3%,#008fff 7.4%,#009eff 8.5%,#009aff 9.2%,#007bff 10.3%,#0091ff 11.7%,#008cff 12.1%,#0032ff 13.1%,#002eff 13.5%,#0046ff 14.2%,#008aff 14.9%,#00a0ff 15.3%,#0090ff 16.4%,#005dff 17.4%,#003dff 18.5%,#0036ff 19.2%,#0042ff 20.3%,#0013ff 21.4%,#003cff 23.2%,#003dff 24.6%,#0004ff 26.8%,#0007ff 28.2%,#0000d3 29.3%,#0007ff 30.4%,#0000fd 31.5%,#001fff 32.6%,#0006ff 33.3%,#0032ff 34.4%,#0016ff 34.7%,#0000ea 35.1%,#0000ba 35.4%,#00009a 35.8%,#000084 36.5%,#000080 37.2%,#000080 68.9%,#0000a4 71.8%,#00009a 73.9%,#0000a7 74.6%,#0000d5 75.7%,#0000f0 76.8%,#000cff 77.2%,#0036ff 77.9%,#0049ff 78.6%,#00f8ff 82.9%,#0cfff3 83.3%,#56ffa9 84.7%,#6eff91 86.2%,#f8ff07 91.2%,#ff0500 99.5%,#f80000)"></i><i style="background:linear-gradient(90deg,#00d0ff,#00fdff 1.3%,#00f1ff 2%,#00fbff 3.1%,#00b5ff 4.5%,#0090ff 6.3%,#00b7ff 7.4%,#00caff 9.2%,#00c2ff 10.3%,#00cfff 11.7%,#00caff 12.1%,#00adff 12.4%,#005aff 13.1%,#0041ff 13.5%,#003dff 13.8%,#0048ff 14.2%,#0095ff 14.9%,#00afff 15.3%,#00afff 15.6%,#0097ff 16.7%,#0051ff 18.9%,#004dff 19.2%,#005dff 20.3%,#0027ff 21.4%,#0057ff 23.2%,#0057ff 23.6%,#004aff 25%,#0020ff 26.4%,#0023ff 28.2%,#000dff 28.6%,#0000f0 29%,#0000de 29.3%,#000dff 30%,#0020ff 30.4%,#000aff 31.5%,#001fff 32.6%,#000dff 33.3%,#0043ff 34.4%,#0026ff 34.7%,#0000f6 35.1%,#0000c2 35.4%,#00009d 35.8%,#000085 36.5%,#000080 37.2%,#000080 68.9%,#00009b 70.7%,#0000a3 72.1%,#00008f 73.6%,#0000ab 74.6%,#0000dc 75.7%,#0000dc 76.4%,#0000ea 76.8%,#000dff 77.2%,#002eff 77.5%,#003fff 77.9%,#0063ff 79.3%,#02fffd 83.3%,#5affa5 84.7%,#6dff92 86.2%,#a2ff5d 87.9%,#c8ff37 89.7%,#f7ff08 91.2%,#fff900 91.5%,#ffaf00 93.7%,#ff5900 96.9%,#ff0300 99.5%,#f60000)"></i><i style="background:linear-gradient(90deg,#00f7ff,#14ffeb 1.3%,#0dfff2 2%,#20ffdf 2.7%,#21ffde 3.1%,#12ffed 3.4%,#00fcff 3.8%,#00dcff 4.5%,#00c2ff 6.3%,#00fbff 9.2%,#10ffef 11%,#01fffe 12.1%,#0069ff 13.5%,#005bff 13.8%,#0062ff 14.2%,#00a9ff 14.9%,#00c1ff 15.3%,#00c2ff 15.6%,#00adff 16.7%,#006eff 18.5%,#0068ff 20.3%,#0035ff 21.4%,#0046ff 22.5%,#005fff 23.2%,#006eff 24.6%,#0036ff 28.2%,#0006ff 29%,#0000f6 29.3%,#0003ff 29.7%,#002aff 30.4%,#0026ff 31.5%,#003cff 32.6%,#002eff 33.3%,#04f 34.4%,#0027ff 34.7%,#0000f9 35.1%,#00009e 35.8%,#000085 36.5%,#000080 37.2%,#000080 68.9%,#0000a9 72.5%,#00009e 73.6%,#0000e2 75.7%,#0000d6 76.4%,#0000e1 76.8%,#0007ff 77.2%,#002cff 77.5%,#003cff 77.9%,#0061ff 79.7%,#00c9ff 81.8%,#00feff 83.3%,#0cfff3 83.6%,#5fa 84.7%,#61ff9e 85.1%,#c5ff3a 89.7%,#f9ff06 91.2%,#ffae00 93.7%,#f40 97.7%,#ff0200 99.5%,#f50000)"></i><i style="background:linear-gradient(90deg,#1dffe2,#29ffd6 2%,#4fb 3.1%,#05fffa 4.5%,#00f3ff 5.6%,#00fbff 7.4%,#56ffa9 11%,#4cffb3 11.7%,#39ffc6 12.1%,#10ffef 12.4%,#00e2ff 12.8%,#0097ff 13.5%,#007eff 13.8%,#0080ff 14.2%,#00d4ff 15.3%,#00d6ff 15.6%,#00c4ff 16.7%,#008aff 18.2%,#008dff 19.2%,#0082ff 20%,#0046ff 21.4%,#0048ff 22.5%,#0073ff 23.6%,#008dff 25%,#007aff 26.4%,#0054ff 27.9%,#0013ff 29.3%,#0035ff 30.4%,#0059ff 32.2%,#0052ff 34%,#0047ff 34.4%,#0000fb 35.1%,#00009f 35.8%,#000080 36.9%,#000080 68.5%,#000095 71.8%,#0000b7 72.8%,#0000b7 73.9%,#0000d2 74.6%,#0000e8 75.7%,#0000d1 76.4%,#0000d9 76.8%,#0001ff 77.2%,#0029ff 77.5%,#0039ff 77.9%,#0042ff 79%,#0054ff 79.7%,#00ecff 82.6%,#00fcff 83.3%,#05fffa 83.6%,#51ffae 84.7%,#71ff8e 85.4%,#83ff7c 86.9%,#b9ff46 89.4%,#fbff04 91.2%,#ffae00 93.7%,#ff3b00 98%,#ff0100 99.5%,#f40000)"></i><i style="background:linear-gradient(90deg,#38ffc7,#49ffb6 2%,#6f9 3.1%,#2bffd4 4.9%,#29ffd6 7%,#65ff9a 9.2%,#9f6 10.6%,#9aff65 11%,#8cff73 11.7%,#7f8 12.1%,#19ffe6 12.8%,#00f1ff 13.1%,#00a7ff 13.8%,#00a6ff 14.2%,#00eaff 15.3%,#00edff 16%,#00dcff 16.7%,#00a4ff 18.2%,#00a1ff 20%,#0067ff 21.4%,#005cff 22.1%,#005bff 22.5%,#00a0ff 24.6%,#0af 25.4%,#007cff 27.5%,#0037ff 29.3%,#005aff 30.4%,#007aff 32.6%,#0062ff 33.3%,#0062ff 34%,#0057ff 34.4%,#0036ff 34.7%,#0006ff 35.1%,#00c 35.4%,#00009f 35.8%,#00008e 36.2%,#000080 36.9%,#000080 68.9%,#009 71.8%,#0000b9 72.8%,#0000bc 73.6%,#0000eb 75.7%,#0000d6 76.4%,#0000df 76.8%,#0007ff 77.2%,#002eff 77.5%,#003dff 77.9%,#004fff 79.3%,#00e5ff 82.6%,#00f9ff 83.3%,#05fffa 83.6%,#51ffae 84.7%,#73ff8c 85.4%,#82ff7d 86.9%,#a6ff59 88.7%,#fbff04 91.2%,#ff4600 97.7%,#fe0000 99.5%,#f10000)"></i><i style="background:linear-gradient(90deg,#4cffb3,#6f9 2%,#84ff7b 3.1%,#5bffa4 4.9%,#5affa5 6.7%,#9fff60 9.2%,#d6ff29 10.3%,#e1ff1e 11%,#d0ff2f 11.7%,#b8ff47 12.1%,#4fffb0 12.8%,#00f9ff 13.5%,#00d0ff 13.8%,#00cdff 14.2%,#02fffd 15.3%,#07fff8 16.4%,#00c3ff 18.2%,#00c4ff 20.3%,#0090ff 21.4%,#0079ff 22.5%,#0093ff 24.3%,#00bdff 25.4%,#009bff 26.4%,#0093ff 27.5%,#005cff 29%,#0058ff 29.3%,#0083ff 30.4%,#007fff 31.5%,#0091ff 32.2%,#008eff 32.6%,#0065ff 33.3%,#0069ff 34.4%,#0046ff 34.7%,#0010ff 35.1%,#0000cf 35.4%,#00009f 35.8%,#00008d 36.2%,#000080 36.9%,#000080 68.9%,#0000ac 72.5%,#0000ed 75.7%,#0000e0 76.4%,#0000ea 76.8%,#000eff 77.2%,#03f 77.5%,#0042ff 77.9%,#0052ff 79%,#00a4ff 80.8%,#00c0ff 81.8%,#00f9ff 83.3%,#0cfff3 83.6%,#52ffad 84.7%,#6eff91 85.4%,#a3ff5c 88.7%,#f8ff07 91.2%,#f40 97.7%,#ff0c00 99.1%,#fb0000 99.5%,#e00)"></i><i style="background:linear-gradient(90deg,#60ff9f,#7f8 1.6%,#a2ff5d 3.1%,#8f7 4.9%,#84ff7b 6.3%,#e8ff17 8.1%,#f9ff06 9.5%,#ffda00 10.6%,#fff200 11.7%,#f1ff0e 12.1%,#7bff84 12.8%,#1effe1 13.5%,#00f2ff 13.8%,#00ecff 14.2%,#00fdff 14.6%,#1dffe2 15.3%,#27ffd8 16%,#00f8ff 17.4%,#00e3ff 18.5%,#00ecff 20.3%,#00b6ff 21.4%,#0095ff 22.8%,#0095ff 24.3%,#00c5ff 25.4%,#009cff 26.4%,#009dff 27.5%,#006aff 29%,#006aff 29.3%,#009eff 30.4%,#008dff 31.5%,#009bff 32.2%,#0094ff 32.6%,#005fff 33.3%,#0071ff 34.4%,#004cff 34.7%,#0013ff 35.1%,#0000ce 35.4%,#00009d 35.8%,#00008b 36.2%,#000080 36.9%,#000080 68.9%,#0000a6 71.4%,#0000b1 72.8%,#00e 75.7%,#0000e8 76.4%,#0000f2 76.8%,#0012ff 77.2%,#0032ff 77.5%,#0042ff 77.9%,#005aff 79%,#00abff 80.8%,#00c6ff 82.2%,#00fcff 83.3%,#51ffae 84.7%,#5dffa2 85.1%,#74ff8b 86.5%,#9bff64 87.9%,#a1ff5e 88.7%,#f5ff0a 91.2%,#fffb00 91.5%,#ff5b00 96.9%,#ff0a00 99.1%,#ed0000)"></i><i style="background:linear-gradient(90deg,#7f8,#8f7 1.3%,#beff41 3.1%,#b2ff4d 5.9%,#beff41 6.3%,#ebff14 6.7%,#fff000 7%,#ffb000 7.7%,#ff9d00 8.1%,#ff8b00 9.9%,#ff9c00 11%,#ffe300 12.1%,#daff25 12.4%,#95ff6a 12.8%,#00fcff 13.8%,#00fbff 14.2%,#3fffc0 15.3%,#45ffba 16%,#07fff8 18.2%,#08fff7 20.3%,#00adff 22.5%,#009eff 23.6%,#00a5ff 24.3%,#00c9ff 25.4%,#00a1ff 26.4%,#009cff 27.5%,#0069ff 29%,#0069ff 29.3%,#00a4ff 30.4%,#008fff 31.5%,#0091ff 32.2%,#0086ff 32.6%,#0056ff 33.3%,#006cff 34%,#006bff 34.4%,#0045ff 34.7%,#0009ff 35.1%,#0000c3 35.4%,#000094 35.8%,#000080 36.9%,#000080 68.5%,#00008c 70%,#0000cf 73.6%,#0000c8 74.6%,#0000e8 75.7%,#0000f8 76.8%,#003cff 77.9%,#0054ff 79%,#009eff 80.8%,#00b3ff 81.8%,#01fffe 83.3%,#4affb5 84.7%,#a0ff5f 88.7%,#f4ff0b 91.2%,#fffc00 91.5%,#ff9d00 94.8%,#ff0800 99.1%,#ec0000)"></i><i style="background:linear-gradient(90deg,#93ff6c,#a3ff5c 1.3%,#d7ff28 2.7%,#e0ff1f 5.6%,#ef1 6.3%,#ffed00 6.7%,#f80 7.7%,#ff7200 8.1%,#ff6100 9.5%,#ff6500 10.3%,#ff7a00 11%,#ff9e00 11.7%,#ffbd00 12.1%,#fbff04 12.4%,#afff50 12.8%,#07fff8 13.8%,#0cfff3 14.2%,#4cffb3 14.9%,#5effa1 15.3%,#61ff9e 15.6%,#5bffa4 16.4%,#28ffd7 18.2%,#32ffcd 19.2%,#2cffd3 20%,#01fffe 21%,#00b3ff 23.2%,#00b4ff 23.9%,#00d0ff 25.4%,#00acff 26.4%,#0095ff 27.9%,#006aff 29%,#0069ff 29.3%,#00a9ff 30.4%,#00a5ff 30.8%,#0089ff 32.2%,#0053ff 33.3%,#006cff 34%,#0069ff 34.4%,#003fff 34.7%,#00f 35.1%,#0000b7 35.4%,#00008a 35.8%,#000080 36.9%,#000080 68.5%,#009 70.7%,#0000d5 73.2%,#0000d5 73.6%,#0000b6 74.6%,#0000e1 75.7%,#0000fd 76.8%,#0035ff 77.9%,#004cff 79%,#0090ff 80.8%,#009bff 81.5%,#00f3ff 82.9%,#05fffa 83.3%,#41ffbe 84.7%,#9fff60 88.7%,#caff35 89.7%,#fffd00 91.5%,#ff9e00 94.8%,#ff0600 99.1%,#ed0000)"></i><i style="background:linear-gradient(90deg,#b4ff4b,#c0ff3f 1.3%,#fbff04 3.1%,#ffed00 5.9%,#ffe500 6.3%,#ffce00 6.7%,#ff6900 7.7%,#ff5200 8.1%,#ff3f00 9.5%,#ff4d00 10.6%,#ff7400 11.7%,#ff9500 12.1%,#ffe000 12.4%,#ceff31 12.8%,#51ffae 13.5%,#1dffe2 13.8%,#25ffda 14.2%,#6f9 14.9%,#78ff87 15.3%,#7aff85 15.6%,#49ffb6 18.2%,#50ffaf 19.2%,#49ffb6 20%,#07fff8 21.8%,#00d0ff 23.6%,#0cf 25.7%,#00a1ff 27.9%,#0075ff 29%,#0071ff 29.3%,#00aeff 30.4%,#0094ff 32.2%,#0070ff 33.3%,#0081ff 34%,#07f 34.4%,#0047ff 34.7%,#0005ff 35.1%,#0000b8 35.4%,#008 35.8%,#000081 36.2%,#000080 68.5%,#0000a5 71.4%,#0000ca 72.8%,#0000c8 73.6%,#0000b2 74.6%,#0000e1 75.7%,#0001ff 76.8%,#03f 77.9%,#0086ff 80.4%,#009bff 81.5%,#00fbff 82.9%,#3affc5 84.7%,#8cff73 87.9%,#feff01 91.5%,#ff9d00 94.8%,#ff0500 99.1%,#ed0000)"></i><i style="background:linear-gradient(90deg,#d7ff28,#e0ff1f 1.3%,#fff900 2.3%,#ffe600 3.1%,#ffc000 6.3%,#ffae00 6.7%,#ff4900 7.7%,#f30 8.1%,#ff1e00 9.5%,#ff2600 10.6%,#ff4c00 11.7%,#ff6f00 12.1%,#ffbd00 12.4%,#ef1 12.8%,#6fff90 13.5%,#3cffc3 13.8%,#4fb 14.2%,#7fff80 14.9%,#8fff70 15.3%,#90ff6f 15.6%,#67ff98 18.2%,#63ff9c 20%,#00feff 23.2%,#00dbff 25%,#00caff 26.8%,#00a9ff 28.2%,#0084ff 29%,#007eff 29.3%,#00b3ff 30.4%,#009dff 33.3%,#00a2ff 34%,#008dff 34.4%,#0057ff 34.7%,#01f 35.1%,#0000c0 35.4%,#00008d 35.8%,#000080 36.9%,#000080 68.5%,#00009e 70.7%,#0000a2 71.8%,#0000b3 72.5%,#0000b6 74.6%,#0000e4 75.7%,#0001ff 76.8%,#007cff 79.7%,#00a1ff 81.5%,#00efff 82.6%,#05fffa 82.9%,#fbff04 91.5%,#ff0500 99.1%,#e00)"></i><i style="background:linear-gradient(90deg,#f8ff07,#fffa00 1.6%,#ffcf00 3.1%,#ff9c00 6.3%,#ff8e00 6.7%,#ff2c00 7.7%,#ff1600 8.1%,#f00 9.5%,#ff1000 10.6%,#ff3c00 11.7%,#ff6100 12.1%,#fbff04 12.8%,#7fff80 13.5%,#58ffa7 13.8%,#60ff9f 14.2%,#97ff68 14.9%,#a6ff59 15.3%,#a5ff5a 15.6%,#84ff7b 18.2%,#7cff83 20%,#01fffe 24.3%,#00dfff 25.4%,#00e2ff 26.4%,#00c3ff 27.9%,#008cff 29.3%,#00baff 30.4%,#00c4ff 33.6%,#00beff 34%,#00a1ff 34.4%,#06f 34.7%,#001dff 35.1%,#0000ca 35.4%,#000095 35.8%,#000080 37.2%,#000080 68.5%,#0000a2 70.7%,#00009d 71.8%,#0000a7 72.5%,#00009b 73.6%,#0000e6 75.7%,#0001ff 76.8%,#001aff 77.5%,#08f 79.7%,#00a7ff 81.5%,#00f7ff 82.6%,#21ffde 83.6%,#2fffd0 84.7%,#c2ff3d 89.4%,#deff21 90.8%,#f8ff07 91.5%,#ffe200 92.6%,#ff0400 99.1%,#e00)"></i><i style="background:linear-gradient(90deg,#fe0,#ffe300 1.6%,#ffbc00 3.1%,#ff8300 5.9%,#ff5f00 7%,#ff0f00 8.1%,#ff0100 8.8%,#fa0000 9.9%,#ff1300 11%,#ff3200 11.7%,#ff5600 12.1%,#fffa00 12.8%,#89ff76 13.5%,#6eff91 13.8%,#79ff86 14.2%,#abff54 14.9%,#b3ff4c 15.3%,#9dff62 19.2%,#94ff6b 20%,#51ffae 22.1%,#3effc1 23.2%,#00feff 25%,#00d1ff 27.9%,#009fff 29.3%,#00c8ff 30.4%,#00d7ff 32.6%,#00caff 34%,#0af 34.4%,#0027ff 35.1%,#0000d7 35.4%,#0000a4 35.8%,#000081 36.9%,#000080 37.2%,#000080 68.2%,#00008c 69.6%,#0000ab 71%,#0000af 72.5%,#0000a5 73.6%,#0000f6 76.4%,#0000fb 77.2%,#0001ff 77.5%,#01f 77.9%,#007eff 79.7%,#00a7ff 81.5%,#00faff 82.6%,#27ffd8 83.6%,#38ffc7 85.1%,#b5ff4a 89%,#f7ff08 91.5%,#fffa00 91.9%,#f00 99.1%,#e90000)"></i><i style="background:linear-gradient(90deg,#ffda00,#fc0 1.6%,#ff6400 5.9%,#ff0400 8.5%,#f30000 9.5%,#fd0000 10.3%,#ff0c00 11%,#ff2700 11.7%,#ff4c00 12.1%,#fff100 12.8%,#caff35 13.1%,#93ff6c 13.5%,#85ff7a 13.8%,#a8ff57 14.6%,#b6ff49 15.3%,#aeff51 16.4%,#b5ff4a 19.2%,#a8ff57 20%,#64ff9b 22.1%,#58ffa7 23.2%,#00fbff 26.1%,#00e3ff 27.9%,#00b1ff 29.3%,#00d9ff 30.4%,#00dbff 31.5%,#00e9ff 32.2%,#00d6ff 34%,#00b5ff 34.4%,#03f 35.1%,#0000e4 35.4%,#0000b3 35.8%,#000082 36.9%,#000080 37.2%,#000080 68.2%,#00008c 69.6%,#0000ad 71%,#0000b6 73.6%,#0000d5 75.7%,#0000f9 76.8%,#0000eb 77.5%,#0000f7 77.9%,#000dff 78.2%,#006eff 79.7%,#0094ff 81.1%,#00a4ff 81.5%,#00f8ff 82.6%,#0ffff0 82.9%,#2affd5 83.6%,#3bffc4 85.4%,#a9ff56 88.7%,#f5ff0a 91.5%,#fffb00 91.9%,#ff9c00 94.4%,#ff7900 95.9%,#ff0a00 98.7%,#fc0000 99.1%,#e30000)"></i><i style="background:linear-gradient(90deg,#ffc500,#ffb600 1.6%,#f00 8.5%,#ed0000 9.5%,#fa0000 10.6%,#ff0100 11%,#ff1c00 11.7%,#ff4200 12.1%,#ffe800 12.8%,#d4ff2b 13.1%,#a2ff5d 13.5%,#9eff61 13.8%,#bf4 15.3%,#bfff40 19.2%,#78ff87 22.1%,#71ff8e 23.2%,#07fff8 26.4%,#00feff 27.5%,#00bfff 29.3%,#00e7ff 30.4%,#00f8ff 32.2%,#00e6ff 34%,#00c8ff 34.4%,#0043ff 35.1%,#0000f0 35.4%,#0000b9 35.8%,#000082 36.9%,#000080 37.2%,#000080 68.2%,#0000d9 75.7%,#0000f6 76.8%,#0000ef 77.5%,#0000fa 77.9%,#001cff 78.6%,#0063ff 79.7%,#009cff 81.5%,#00f2ff 82.6%,#0afff5 82.9%,#29ffd6 83.6%,#3affc5 85.4%,#70ff8f 86.9%,#fffd00 91.9%,#ffb400 93.7%,#ff7a00 95.9%,#ff0900 98.7%,#e20000)"></i><i style="background:linear-gradient(90deg,#ffaf00,#ffa100 1.6%,#ff1200 7%,#ff0200 8.1%,#e60000 9.9%,#f00 11.3%,#ff1200 11.7%,#ff3900 12.1%,#ffe000 12.8%,#dfff20 13.1%,#b6ff49 13.5%,#afff50 13.8%,#ceff31 17.4%,#caff35 19.2%,#89ff76 22.1%,#7cff83 23.6%,#1cffe3 26.4%,#17ffe8 27.2%,#04fffb 27.9%,#00f4ff 28.2%,#00c8ff 29.3%,#00eaff 30.4%,#00fdff 31.5%,#00f7ff 34%,#00dcff 34.4%,#009eff 34.7%,#0000f7 35.4%,#0000b5 35.8%,#00008e 36.5%,#000080 37.2%,#000080 67.8%,#00009d 70.7%,#000094 71.8%,#0000e1 75%,#0000fb 77.2%,#001eff 78.6%,#005dff 79.7%,#0090ff 81.5%,#03fffc 82.9%,#26ffd9 83.6%,#32ffcd 85.1%,#87ff78 87.6%,#bcff43 89.7%,#feff01 91.9%,#ffb400 93.7%,#f70 95.9%,#ff0a00 98.7%,#fc0000 99.1%,#e30000)"></i><i style="background:linear-gradient(90deg,#ff9b00,#ff8e00 1.6%,#ff3f00 4.1%,#ff1000 6.3%,#ff0300 7.7%,#de0000 9.9%,#f70000 11.3%,#ff0a00 11.7%,#f30 12.1%,#ffdb00 12.8%,#e5ff1a 13.1%,#beff41 13.5%,#b8ff47 13.8%,#cf3 16.4%,#dbff24 17.1%,#d5ff2a 19.2%,#8dff72 22.1%,#81ff7e 23.6%,#2effd1 26.1%,#1fffe0 27.2%,#00f7ff 28.2%,#00c7ff 29.3%,#00fbff 31.1%,#0bfff4 32.2%,#00fdff 34%,#00e4ff 34.4%,#00a6ff 34.7%,#0000fa 35.4%,#0000b0 35.8%,#00008a 36.5%,#000080 37.2%,#000080 68.2%,#000094 70.7%,#000082 71.8%,#0000ad 72.8%,#0000f4 75.4%,#0000ef 76.8%,#0005ff 77.2%,#0026ff 77.9%,#0020ff 78.6%,#0078ff 80.4%,#08f 81.5%,#009dff 81.8%,#00fbff 82.9%,#2fd 83.6%,#27ffd8 84.7%,#8cff73 87.6%,#baff45 89.7%,#fdff02 91.9%,#ffb400 93.7%,#ff9c00 94.8%,#ff0b00 98.7%,#fd0000 99.1%,#e40000)"></i><i style="background:linear-gradient(90deg,#ff8900,#ff7600 1.6%,#ff2100 4.5%,#ff0b00 5.6%,#f70000 7.7%,#d90000 9.9%,#f70000 11.3%,#ff0a00 11.7%,#ff3100 12.1%,#ffdb00 12.8%,#e4ff1b 13.1%,#c0ff3f 13.5%,#bdff42 13.8%,#ebff14 17.1%,#dcff23 19.2%,#baff45 20.3%,#8aff75 23.2%,#67ff98 24.3%,#56ffa9 25.4%,#06fff9 27.9%,#00f5ff 28.2%,#00c4ff 29.3%,#0ff 31.5%,#00f5ff 34%,#00daff 34.4%,#009bff 34.7%,#0000f3 35.4%,#0000ac 35.8%,#00008a 36.5%,#000080 37.2%,#000080 67.8%,#000089 70.3%,#000080 71.8%,#0000d3 73.6%,#0000f7 75.4%,#0000ef 76.8%,#0002ff 77.2%,#001fff 77.9%,#001aff 78.6%,#007cff 80.4%,#0092ff 81.5%,#00f1ff 82.9%,#08fff7 83.3%,#19ffe6 83.6%,#2affd5 84.7%,#5effa1 86.5%,#96ff69 87.9%,#d9ff26 90.8%,#fdff02 91.9%,#ffb100 93.7%,#ff9700 94.8%,#ff0800 98.7%,#e40000)"></i><i style="background:linear-gradient(90deg,#f70,#ff5e00 1.6%,#ff0100 5.2%,#d40000 9.9%,#e60000 11%,#f70000 11.3%,#ff0a00 11.7%,#ff3100 12.1%,#ffdc00 12.8%,#e1ff1e 13.1%,#c2ff3d 13.5%,#faff05 16.7%,#e3ff1c 19.2%,#bf4 20.3%,#9fff60 22.5%,#68ff97 24.3%,#59ffa6 25.7%,#42ffbd 26.4%,#0efff1 27.5%,#00f3ff 28.2%,#00c1ff 29.3%,#00c4ff 29.7%,#00fbff 31.5%,#00feff 32.2%,#00ebff 34%,#00cdff 34.4%,#0043ff 35.1%,#0000eb 35.4%,#00a 35.8%,#00008b 36.5%,#000080 37.2%,#000080 71.8%,#00008b 72.1%,#0000c2 72.8%,#0000e6 73.6%,#0000f7 75.4%,#00e 76.4%,#0000fd 77.2%,#0014ff 77.9%,#0013ff 78.6%,#0080ff 80.4%,#009eff 81.5%,#00fdff 83.3%,#1bffe4 84%,#5affa5 86.5%,#96ff69 87.9%,#c7ff38 89.7%,#d9ff26 90.8%,#fdff02 91.9%,#ffae00 93.7%,#ff5600 96.6%,#ff0500 98.7%,#e30000)"></i><i style="background:linear-gradient(90deg,#ff6400,#fe0000 4.9%,#cf0000 9.5%,#d90000 10.6%,#f60000 11.3%,#ff0b00 11.7%,#ff3200 12.1%,#ffdf00 12.8%,#dfff20 13.1%,#c4ff3b 13.5%,#fbff04 15.6%,#fff200 16.7%,#fffd00 17.8%,#e9ff16 19.2%,#b8ff47 20.7%,#a4ff5b 22.5%,#6cff93 24.3%,#62ff9d 25.7%,#4dffb2 26.4%,#00fdff 27.9%,#00c1ff 29.3%,#00ecff 30.8%,#00fbff 31.8%,#00e3ff 34%,#00c5ff 34.4%,#0040ff 35.1%,#00e 35.4%,#0000ae 35.8%,#00008d 36.5%,#000080 37.2%,#000080 71.8%,#00008d 72.1%,#0000de 73.2%,#0000eb 73.6%,#0000f5 76.8%,#0001ff 77.2%,#0012ff 77.9%,#0010ff 78.6%,#005fff 79.7%,#00a0ff 81.5%,#00faff 83.3%,#59ffa6 86.5%,#8bff74 87.6%,#b6ff49 89%,#f9ff06 91.9%,#ffe600 92.6%,#ffae00 93.7%,#ff0400 98.7%,#df0000)"></i><i style="background:linear-gradient(90deg,#ff4e00,#fd0000 4.5%,#ea0000 5.6%,#e70000 7.7%,#c90000 9.5%,#d30000 10.6%,#dc0000 11%,#f40000 11.3%,#ff0b00 11.7%,#ff3400 12.1%,#ffe300 12.8%,#dcff23 13.1%,#c7ff38 13.5%,#fffc00 15.3%,#ffe200 16.7%,#fffc00 18.2%,#72ff8d 24.3%,#6eff91 25.4%,#5dffa2 26.1%,#52ffad 26.4%,#0dfff2 27.5%,#00f9ff 27.9%,#00d2ff 28.6%,#00c3ff 29.3%,#00f1ff 30.8%,#00f9ff 31.8%,#0df 34%,#00c0ff 34.4%,#0000fa 35.4%,#0000ba 35.8%,#00008f 36.5%,#000080 37.2%,#000087 69.6%,#000080 71.8%,#0000db 73.2%,#0000e5 73.6%,#0000ed 75.7%,#0000fd 76.8%,#0016ff 77.5%,#01f 78.6%,#06f 79.7%,#08f 81.1%,#00fdff 83.3%,#1bffe4 84%,#38ffc7 85.4%,#aeff51 88.7%,#f4ff0b 91.9%,#fff900 92.3%,#ffb000 93.7%,#ff0500 98.7%,#da0000)"></i><i style="background:linear-gradient(90deg,#ff3800,#ff2e00 1.3%,#f00 3.8%,#eb0000 5.2%,#e50000 7.7%,#c30000 9.5%,#cd0000 10.6%,#d70000 11%,#f00000 11.3%,#ff0c00 11.7%,#ff3700 12.1%,#ffe700 12.8%,#d9ff26 13.1%,#c9ff36 13.5%,#fffc00 14.9%,#ffdc00 16%,#ffd600 16.7%,#fffc00 18.5%,#83ff7c 23.6%,#5effa1 26.1%,#53ffac 26.4%,#00f7ff 27.9%,#00cfff 28.6%,#00c8ff 29%,#00c8ff 29.3%,#00f2ff 30.4%,#00f6ff 30.8%,#00faff 32.2%,#00e1ff 33.3%,#00dcff 34%,#00c0ff 34.4%,#0051ff 35.1%,#000cff 35.4%,#0000c8 35.8%,#000090 36.5%,#000080 37.2%,#000080 67.8%,#00008b 69.6%,#000080 70.3%,#000080 71.4%,#0000d6 73.2%,#0000e8 74.6%,#0000e7 75.7%,#0000fb 76.4%,#02f 77.5%,#0013ff 78.6%,#006cff 79.7%,#006bff 80.8%,#02fffd 83.3%,#15ffea 83.6%,#35ffca 85.4%,#aeff51 88.7%,#e5ff1a 90.8%,#f1ff0e 91.9%,#fffb00 92.3%,#ffb300 93.7%,#ff0700 98.7%,#d70000)"></i><i style="background:linear-gradient(90deg,#ff2400,#ff1c00 1.3%,#ff0100 2.7%,#e60000 7.4%,#cf0000 8.1%,#b00 9.5%,#d10000 11%,#eb0000 11.3%,#ff0a00 11.7%,#ff3500 12.1%,#ffe300 12.8%,#deff21 13.1%,#d0ff2f 13.5%,#f9ff06 14.6%,#ffd400 16%,#fc0 16.7%,#fffb00 18.9%,#98ff67 22.5%,#54ffab 26.4%,#00fdff 27.9%,#00d9ff 28.6%,#00d6ff 29%,#00f6ff 30.8%,#00f7ff 32.2%,#00e7ff 33.3%,#00e8ff 34%,#00cfff 34.4%,#009cff 34.7%,#0060ff 35.1%,#0015ff 35.4%,#0000cb 35.8%,#00008f 36.5%,#000080 37.2%,#000080 67.8%,#00008b 69.6%,#000080 71.4%,#0000d8 73.2%,#0000f2 74.6%,#00e 75.4%,#0000fe 76.1%,#002aff 77.5%,#001aff 78.6%,#0060ff 79.7%,#006dff 80.8%,#008bff 81.5%,#00dbff 82.6%,#03fffc 83.3%,#29ffd6 85.1%,#8dff72 87.6%,#df2 90.5%,#f8ff07 91.9%,#ffb500 93.7%,#ff0800 98.7%,#d90000)"></i><i style="background:linear-gradient(90deg,#ff1400,#f00 2%,#e40000 7.4%,#c40000 8.1%,#b20000 9.5%,#c90000 11%,#e40000 11.3%,#ff0800 11.7%,#f30 12.1%,#ffde00 12.8%,#e4ff1b 13.1%,#d6ff29 13.5%,#fbff04 14.6%,#ffd100 16%,#ffc700 16.7%,#ffd500 17.8%,#fdff02 19.2%,#94ff6b 22.5%,#7eff81 24.3%,#54ffab 26.4%,#05fffa 27.9%,#00f0ff 28.2%,#00e4ff 28.6%,#00f7ff 31.1%,#0ef 32.9%,#00f6ff 34%,#00dfff 34.4%,#00aeff 34.7%,#006eff 35.1%,#001dff 35.4%,#00c 35.8%,#0000a6 36.2%,#00008d 36.5%,#000080 37.2%,#000080 67.8%,#000089 69.6%,#000080 71.4%,#0000db 73.2%,#0000fd 74.6%,#0000fe 75.7%,#002fff 77.2%,#02f 78.6%,#005fff 80%,#0081ff 81.5%,#00e3ff 82.6%,#02fffd 83.3%,#1affe5 84.7%,#8eff71 87.6%,#f6ff09 91.5%,#fffe00 91.9%,#ff7400 95.5%,#ff4e00 96.9%,#ff0800 98.7%,#dc0000)"></i><i style="background:linear-gradient(90deg,#ff0700,#f60000 4.1%,#e20000 7.4%,#ba0000 8.1%,#a80000 9.5%,#c00000 11%,#d00 11.3%,#ff0600 11.7%,#ff3200 12.1%,#ffdc00 12.8%,#e6ff19 13.1%,#d9ff26 13.5%,#faff05 14.6%,#ffca00 16.4%,#ffc900 16.7%,#ffdb00 18.2%,#feff01 19.2%,#d6ff29 20.3%,#beff41 21.4%,#93ff6c 22.5%,#80ff7f 24.3%,#51ffae 26.4%,#00f7ff 28.2%,#00ebff 29%,#00faff 31.5%,#00f2ff 32.9%,#00fdff 34%,#00e8ff 34.4%,#00b8ff 34.7%,#0078ff 35.1%,#0025ff 35.4%,#0000cf 35.8%,#0000a4 36.2%,#00008c 36.5%,#000080 37.2%,#000080 67.8%,#008 69.6%,#000081 70.7%,#008 71.4%,#0000dc 73.2%,#00f 74.6%,#0000f7 75.4%,#0000fd 75.7%,#0039ff 77.2%,#002bff 78.6%,#0069ff 80.4%,#007aff 81.5%,#0093ff 81.8%,#00e2ff 82.6%,#00feff 83.3%,#1affe5 84.7%,#8fff70 87.6%,#afff50 89%,#fbff04 91.5%,#ffe200 92.6%,#ff7400 95.5%,#ff5200 96.9%,#ff0700 98.7%,#de0000)"></i><i style="background:linear-gradient(90deg,#ff0300,#e60000 7%,#e00000 7.4%,#b00000 8.1%,#9d0000 9.5%,#b60000 11%,#ff0400 11.7%,#ff3200 12.1%,#ffde00 12.8%,#e4ff1b 13.1%,#d8ff27 13.5%,#fffc00 14.9%,#ffcf00 16.7%,#ffd700 17.8%,#fff700 18.9%,#faff05 19.2%,#96ff69 22.5%,#7fff80 24.3%,#42ffbd 26.8%,#00fbff 28.2%,#00edff 28.6%,#00e7ff 29.7%,#00fcff 31.5%,#0ff 34%,#00e7ff 34.4%,#00baff 34.7%,#007eff 35.1%,#002dff 35.4%,#0000d2 35.8%,#0000a3 36.2%,#00008b 36.5%,#000080 37.2%,#000080 68.2%,#000085 70.7%,#00d 73.2%,#0000f8 74.6%,#0000e8 75.4%,#0000f0 75.7%,#0009ff 76.1%,#0037ff 76.8%,#0043ff 77.2%,#0047ff 77.5%,#0035ff 78.6%,#0067ff 80.4%,#07f 81.5%,#008fff 81.8%,#00d6ff 82.6%,#00ebff 82.9%,#0ff 83.6%,#31ffce 85.4%,#8eff71 87.6%,#b6ff49 89.4%,#feff01 91.5%,#ffd500 93%,#ff7500 95.5%,#ff5000 96.9%,#ff0400 98.7%,#de0000)"></i><i style="background:linear-gradient(90deg,#ff0300,#f80000 4.1%,#e70000 5.2%,#e50000 7%,#dc0000 7.4%,#a60000 8.1%,#920000 9.5%,#ab0000 11%,#cb0000 11.3%,#fe0000 11.7%,#ff3200 12.1%,#ffe000 12.8%,#e2ff1d 13.1%,#d4ff2b 13.5%,#fdff02 14.9%,#ffd600 17.1%,#ffdf00 17.8%,#ff0 18.9%,#97ff68 22.5%,#7dff82 24.3%,#48ffb7 26.1%,#38ffc7 27.2%,#00feff 28.2%,#00e5ff 29%,#00e0ff 29.7%,#00fcff 31.5%,#01fffe 34%,#00e5ff 34.4%,#0bf 34.7%,#0083ff 35.1%,#0035ff 35.4%,#0000d7 35.8%,#0000a3 36.2%,#00008a 36.5%,#000080 37.2%,#000080 67.8%,#00008a 70.7%,#0000b8 71.8%,#0000e0 73.2%,#0000f1 74.6%,#0000da 75.4%,#0000e2 75.7%,#00f 76.1%,#003bff 76.8%,#004bff 77.2%,#0053ff 77.5%,#003fff 78.6%,#0075ff 81.5%,#00dfff 82.9%,#00fcff 83.6%,#0afff5 84%,#39ffc6 85.8%,#8dff72 87.6%,#b4ff4b 89.4%,#fffe00 91.5%,#ffd500 93%,#ff8100 95.1%,#ff4e00 96.9%,#ff0200 98.7%,#df0000)"></i><i style="background:linear-gradient(90deg,#ff0200,#fb0000 4.1%,#ea0000 5.2%,#e30000 7%,#d50000 7.4%,#9d0000 8.1%,#800 9.5%,#a10000 11%,#c20000 11.3%,#f80000 11.7%,#ff3200 12.1%,#ffe200 12.8%,#deff21 13.1%,#cf3 13.5%,#fbff04 15.3%,#ffe400 17.1%,#fdff02 18.5%,#a3ff5c 21.8%,#84ff7b 23.2%,#7eff81 24.3%,#4fffb0 25.7%,#34ffcb 27.2%,#00feff 28.2%,#00dfff 29.3%,#00f8ff 30.8%,#03fffc 34%,#00e8ff 34.4%,#00c1ff 34.7%,#008dff 35.1%,#0042ff 35.4%,#0000e3 35.8%,#00a 36.2%,#00008d 36.5%,#000080 37.2%,#000080 67.8%,#000081 69.2%,#00008f 70.7%,#0000f8 73.6%,#0000f7 74.6%,#0000d6 75.4%,#0000db 75.7%,#0000f6 76.1%,#004dff 77.2%,#005dff 77.5%,#0041ff 78.6%,#006cff 80.4%,#0073ff 81.5%,#00d7ff 82.9%,#00faff 83.6%,#08fff7 84%,#39ffc6 85.8%,#8dff72 87.6%,#b4ff4b 89.4%,#fffe00 91.5%,#ff4d00 96.9%,#ff0100 98.7%,#e00000)"></i><i style="background:linear-gradient(90deg,#f00,#fd0000 4.1%,#e00000 7%,#950000 8.1%,#800000 9.5%,#840000 10.3%,#970000 11%,#b90000 11.3%,#f20000 11.7%,#f30 12.1%,#ffe400 12.8%,#dbff24 13.1%,#c4ff3b 13.5%,#ff0 16%,#fff500 17.1%,#ff0 17.8%,#85ff7a 22.8%,#7fff80 24.3%,#59ffa6 25.4%,#2effd1 27.2%,#00feff 28.2%,#00e0ff 29.3%,#00fbff 30.8%,#0dfff2 33.6%,#06fff9 34%,#00ebff 34.4%,#0097ff 35.1%,#004eff 35.4%,#0000ef 35.8%,#0000b1 36.2%,#00008f 36.5%,#000082 36.9%,#000080 37.6%,#000080 69.6%,#000095 70.7%,#0000d9 72.5%,#0004ff 73.2%,#01f 73.6%,#0000fe 74.6%,#0000d6 75.4%,#0000d8 75.7%,#00e 76.1%,#000aff 76.4%,#06f 77.5%,#0041ff 78.6%,#0072ff 80.4%,#0072ff 81.5%,#0081ff 81.8%,#00e5ff 83.3%,#06fff9 84%,#39ffc6 85.8%,#8cff73 87.6%,#b4ff4b 89.4%,#ff0 91.5%,#ffd800 92.6%,#ffc300 93.7%,#ff0100 98.7%,#e10000)"></i><i style="background:linear-gradient(90deg,#f00,#fd0000 4.1%,#de0000 7%,#8c0000 8.1%,#800000 8.8%,#800000 10.6%,#8c0000 11%,#af0000 11.3%,#ea0000 11.7%,#ff3100 12.1%,#ffe300 12.8%,#dcff23 13.1%,#c1ff3e 13.5%,#c1ff3e 13.8%,#f6ff09 16.4%,#f6ff09 17.4%,#c6ff39 20%,#9f6 21.4%,#7bff84 23.2%,#79ff86 24.3%,#28ffd7 27.2%,#00feff 28.2%,#00e2ff 29.3%,#00f9ff 30.8%,#04fffb 32.6%,#10ffef 33.3%,#08fff7 34%,#00eaff 34.4%,#0096ff 35.1%,#004dff 35.4%,#0000ef 35.8%,#0000b2 36.2%,#00008f 36.5%,#000080 37.2%,#000080 69.6%,#0000cf 72.1%,#0007ff 73.2%,#0013ff 73.6%,#0000fe 74.6%,#0000d9 75.4%,#0000da 75.7%,#0000ec 76.1%,#0002ff 76.4%,#005dff 77.5%,#0059ff 77.9%,#003aff 78.6%,#006dff 80%,#07f 80.8%,#0071ff 81.5%,#007eff 81.8%,#00f2ff 83.6%,#01fffe 84%,#28ffd7 85.4%,#8cff73 87.6%,#b3ff4c 89.4%,#ff0 91.5%,#ffd700 92.6%,#ffc400 93.7%,#f00 98.7%,#e00000)"></i><i style="background:linear-gradient(90deg,#ff0100,#fa0000 4.1%,#e30000 6.7%,#dc0000 7%,#980000 7.7%,#810000 8.1%,#800000 8.5%,#820000 11%,#a50000 11.3%,#e20000 11.7%,#ff2e00 12.1%,#ffdf00 12.8%,#e2ff1d 13.1%,#c2ff3d 13.5%,#c0ff3f 13.8%,#e6ff19 16.4%,#e3ff1c 17.8%,#bcff43 20%,#93ff6c 21.4%,#92ff6d 22.1%,#6bff94 24.3%,#25ffda 27.2%,#00fcff 28.2%,#00e0ff 29.7%,#04fffb 31.5%,#06fff9 32.6%,#15ffea 33.3%,#08fff7 34%,#00e7ff 34.4%,#00c0ff 34.7%,#008dff 35.1%,#0041ff 35.4%,#0000e3 35.8%,#00a 36.2%,#00008c 36.5%,#000080 37.2%,#000080 69.6%,#000087 70%,#0000bc 71%,#0000fb 73.2%,#0000fb 74.3%,#0000e3 75.4%,#0000f7 76.1%,#000aff 76.4%,#004cff 77.5%,#002eff 78.6%,#005dff 79.7%,#006dff 81.5%,#008eff 82.2%,#00ebff 83.6%,#00fdff 84%,#0bfff4 84.4%,#30ffcf 85.8%,#6eff91 86.9%,#8cff73 87.6%,#b1ff4e 89.4%,#fffb00 91.5%,#ffc100 93.7%,#fe0000 98.7%,#dc0000)"></i><i style="background:linear-gradient(90deg,#ff0200,#f80000 4.1%,#e20000 6.7%,#d70000 7%,#8e0000 7.7%,#800000 8.1%,#800000 11%,#9b0000 11.3%,#d90000 11.7%,#ff2b00 12.1%,#ffda00 12.8%,#e7ff18 13.1%,#c5ff3a 13.5%,#c0ff3f 13.8%,#df2 17.1%,#d2ff2d 18.2%,#8eff71 21.4%,#8eff71 22.5%,#00fbff 28.2%,#00d7ff 30%,#00d8ff 30.4%,#00faff 31.1%,#08fff7 31.5%,#08fff7 32.6%,#18ffe7 33.3%,#08fff7 34%,#00e4ff 34.4%,#00b8ff 34.7%,#0082ff 35.1%,#0034ff 35.4%,#0000d5 35.8%,#0000a0 36.2%,#000089 36.5%,#000080 37.2%,#000080 69.6%,#0000ca 71%,#0000ec 72.5%,#0000eb 75.4%,#0000f5 75.7%,#0004ff 76.1%,#003aff 77.5%,#0023ff 78.6%,#0057ff 79.7%,#006aff 81.5%,#009cff 82.6%,#00f9ff 84%,#0afff5 84.4%,#2cffd3 85.8%,#7fff80 87.2%,#afff50 89.4%,#fff800 91.5%,#ffbe00 93.7%,#ff0b00 98.4%,#fd0000 98.7%,#d90000)"></i><i style="background:linear-gradient(90deg,#ff0100,#f90000 3.8%,#e00000 6.7%,#d00000 7%,#850000 7.7%,#800000 8.1%,#800000 11%,#920000 11.3%,#d00000 11.7%,#ff2500 12.1%,#ffd600 12.8%,#e9ff16 13.1%,#c2ff3d 13.5%,#bcff43 13.8%,#d1ff2e 17.4%,#a8ff57 20.3%,#8eff71 21.4%,#8fff70 22.5%,#25ffda 26.4%,#00fdff 28.2%,#00d5ff 30%,#00d6ff 30.4%,#0ff 31.5%,#15ffea 33.3%,#00feff 34%,#00abff 34.7%,#0076ff 35.1%,#002bff 35.4%,#00c 35.8%,#00009b 36.2%,#000087 36.5%,#000080 37.2%,#000080 67.8%,#000086 69.6%,#0000bc 70.7%,#0000e1 72.5%,#0000dc 75%,#0000fc 76.1%,#002cff 77.5%,#02f 78.6%,#0065ff 80%,#0075ff 80.8%,#007bff 81.8%,#03fffc 84.4%,#2cffd3 85.8%,#6aff95 86.9%,#87ff78 87.6%,#baff45 89.7%,#fff900 91.5%,#fb0 93.7%,#ff0800 98.4%,#d90000)"></i><i style="background:linear-gradient(90deg,#f00,#f90000 3.8%,#df0000 6.7%,#c00 7%,#800000 7.7%,#800000 11%,#8d0000 11.3%,#ca0000 11.7%,#ff2000 12.1%,#ffd300 12.8%,#e9ff16 13.1%,#bfff40 13.5%,#b9ff46 13.8%,#cbff34 17.1%,#a6ff59 20.3%,#8fff70 21.4%,#90ff6f 22.5%,#4affb5 25.4%,#17ffe8 26.8%,#00faff 28.6%,#00d5ff 29.7%,#00dcff 30.8%,#03fffc 32.2%,#1fe 33.3%,#00f3ff 34%,#006aff 35.1%,#0023ff 35.4%,#0000c5 35.8%,#000096 36.2%,#000080 36.9%,#000080 67.4%,#00008a 69.2%,#0000b8 70.7%,#0000d1 72.5%,#0000c5 74.6%,#0000d4 75.4%,#0000fe 76.4%,#001fff 77.5%,#0023ff 78.6%,#0085ff 80.4%,#0090ff 80.8%,#007fff 81.5%,#0081ff 81.8%,#00ecff 84%,#06fff9 84.7%,#81ff7e 87.6%,#b9ff46 89.7%,#fffb00 91.5%,#ffb800 93.7%,#ff0400 98.4%,#da0000)"></i><i style="background:linear-gradient(90deg,#fe0000,#f80000 3.8%,#e00000 6.7%,#cd0000 7%,#810000 7.7%,#800000 11%,#8b0000 11.3%,#c70000 11.7%,#ff1c00 12.1%,#ffd000 12.8%,#e9ff16 13.1%,#bcff43 13.5%,#b5ff4a 13.8%,#c7ff38 16.7%,#8fff70 21.4%,#8fff70 22.5%,#4bffb4 25.4%,#1fe 26.8%,#03fffc 27.5%,#00fdff 28.6%,#00dcff 29.3%,#00d3ff 30%,#00d5ff 30.8%,#0ff 32.2%,#0dfff2 33.3%,#03fffc 33.6%,#00ecff 34%,#00bfff 34.4%,#005cff 35.1%,#0014ff 35.4%,#00b 35.8%,#000092 36.2%,#000080 36.9%,#000080 67.4%,#000090 69.2%,#0000b2 70.7%,#0000c5 72.5%,#00b 74.6%,#0000f9 76.8%,#001dff 78.6%,#0093ff 80.4%,#00a0ff 80.8%,#08f 81.8%,#0ff 84.7%,#7aff85 87.6%,#b7ff48 89.7%,#fffc00 91.5%,#ff9b00 94.4%,#ff4e00 96.2%,#ff0300 98.4%,#d90000)"></i><i style="background:linear-gradient(90deg,#fc0000,#f50000 4.1%,#e30000 6.7%,#d00000 7%,#830000 7.7%,#800000 8.1%,#800000 11%,#890000 11.3%,#c50000 11.7%,#ff1a00 12.1%,#ffd000 12.8%,#e7ff18 13.1%,#b8ff47 13.5%,#b3ff4c 13.8%,#c1ff3e 16.7%,#8cff73 21%,#8aff75 22.5%,#4affb5 25.4%,#02fffd 27.2%,#00fdff 28.6%,#00d5ff 29.7%,#00c8ff 30.4%,#00c9ff 30.8%,#00faff 32.2%,#0cfff3 33.3%,#02fffd 33.6%,#00ebff 34%,#00beff 34.4%,#004aff 35.1%,#0000fc 35.4%,#0000ac 35.8%,#00008e 36.2%,#000080 37.6%,#000080 67.4%,#000096 69.6%,#0000ba 71.4%,#0000c0 74.6%,#0000e4 75.7%,#0000df 76.8%,#0000fb 78.2%,#0009ff 78.6%,#0062ff 79.7%,#0090ff 80.4%,#009dff 80.8%,#0092ff 81.8%,#00caff 83.6%,#00feff 84.7%,#73ff8c 87.6%,#b1ff4e 89.7%,#fffb00 91.5%,#ff0300 98.4%,#d60000)"></i><i style="background:linear-gradient(90deg,#fb0000,#f00 1.6%,#e60000 6.7%,#d30000 7%,#850000 7.7%,#800000 8.1%,#800000 11%,#870000 11.3%,#c40000 11.7%,#ff1900 12.1%,#ffd100 12.8%,#e6ff19 13.1%,#b6ff49 13.5%,#b1ff4e 13.8%,#c3ff3c 15.3%,#bdff42 17.1%,#b2ff4d 18.5%,#8aff75 20.7%,#85ff7a 22.5%,#47ffb8 25.4%,#00fcff 27.2%,#00feff 28.6%,#00bdff 30.4%,#00bfff 30.8%,#00ecff 31.8%,#0ff 32.6%,#0bfff4 33.3%,#02fffd 33.6%,#00ebff 34%,#00beff 34.4%,#0039ff 35.1%,#0000e4 35.4%,#00009d 35.8%,#00008b 36.2%,#000081 36.9%,#000080 67.4%,#00009c 70.3%,#0000c1 71.8%,#0000b1 73.6%,#0000c6 74.6%,#0000ea 75.7%,#0000c7 76.8%,#0000c8 77.2%,#0000d8 77.9%,#0000f8 78.6%,#0064ff 79.7%,#008bff 80.4%,#0097ff 80.8%,#009bff 81.8%,#00c1ff 83.6%,#00feff 84.7%,#3affc5 86.5%,#6cff93 87.6%,#adff52 89.7%,#fffa00 91.5%,#ff0400 98.4%,#d30000)"></i><i style="background:linear-gradient(90deg,#fb0000,#ff0100 1.6%,#e40000 6.7%,#d10000 7%,#820000 7.7%,#800000 8.1%,#800000 11%,#800 11.3%,#c50000 11.7%,#ff1c00 12.1%,#ffd300 12.8%,#e5ff1a 13.1%,#b8ff47 13.5%,#b3ff4c 13.8%,#caff35 15.3%,#c3ff3c 17.1%,#b7ff48 18.5%,#92ff6d 20.3%,#84ff7b 22.5%,#43ffbc 25.4%,#02fffd 27.2%,#00f9ff 29%,#00bcff 30.4%,#0ef 31.8%,#0afff5 33.3%,#02fffd 33.6%,#00ecff 34%,#00beff 34.4%,#0031ff 35.1%,#0000d9 35.4%,#000097 35.8%,#000080 37.2%,#000080 67.1%,#000098 70%,#0000bc 71.8%,#0000be 72.5%,#0000ae 73.6%,#0000e2 75.7%,#0000c2 76.8%,#0000c1 77.2%,#0000c7 77.5%,#00e 78.2%,#000aff 78.6%,#0049ff 79.3%,#0071ff 80%,#009dff 81.5%,#00c6ff 83.6%,#00f0ff 84.4%,#02fffd 84.7%,#1dffe2 85.8%,#70ff8f 87.6%,#b1ff4e 89.7%,#fffd00 91.5%,#ff1a00 97.7%,#fa0000 98.7%,#d40000)"></i><i style="background:linear-gradient(90deg,#fc0000,#ff0100 1.6%,#e10000 6.7%,#ce0000 7%,#800000 7.7%,#800000 11%,#890000 11.3%,#c70000 11.7%,#ff1f00 12.1%,#ffd400 12.8%,#e7ff18 13.1%,#bdff42 13.5%,#b8ff47 13.8%,#ceff31 15.3%,#c6ff39 17.4%,#9f6 20.3%,#7fff80 23.2%,#08fff7 27.5%,#0dfff2 28.6%,#00feff 29%,#00d6ff 29.7%,#00beff 30.4%,#00f0ff 31.5%,#0ff 32.6%,#0ffff0 33.3%,#07fff8 33.6%,#00f1ff 34%,#00c2ff 34.4%,#002eff 35.1%,#0000d5 35.4%,#000096 35.8%,#000080 37.2%,#000080 67.4%,#000095 69.6%,#0000b6 71%,#0000be 72.5%,#0000ad 73.9%,#0000d3 75.7%,#0000c0 77.2%,#0000c6 77.5%,#0002ff 78.2%,#0027ff 78.6%,#0052ff 79.3%,#007cff 80.8%,#00a1ff 81.5%,#00cfff 83.6%,#00f5ff 84.4%,#06fff9 84.7%,#1affe5 85.8%,#76ff89 87.6%,#cdff32 90.5%,#fdff02 91.5%,#ffce00 92.6%,#ffb400 93.7%,#ff1800 97.7%,#fc0000 98.7%,#d70000)"></i><i style="background:linear-gradient(90deg,#fc0000,#ff0100 1.6%,#e10000 6.7%,#cd0000 7%,#800000 7.7%,#800000 11%,#890000 11.3%,#c80000 11.7%,#ff2100 12.1%,#ffd500 12.8%,#e8ff17 13.1%,#c3ff3c 13.5%,#beff41 13.8%,#d7ff28 15.3%,#d0ff2f 17.4%,#a1ff5e 20.3%,#86ff79 23.2%,#14ffeb 27.2%,#15ffea 28.6%,#05fffa 29%,#00dbff 29.7%,#00c6ff 30.4%,#00f9ff 31.5%,#0efff1 33.3%,#07fff8 33.6%,#00f3ff 34%,#00c5ff 34.4%,#0030ff 35.1%,#0000d5 35.4%,#000097 35.8%,#000080 37.2%,#000080 67.1%,#000098 69.6%,#0000b6 70.7%,#0000b3 71.8%,#0000bf 72.5%,#0000ad 73.9%,#0000ca 75.7%,#0000bc 77.2%,#0000c2 77.5%,#00d 77.9%,#0009ff 78.2%,#0034ff 78.6%,#0049ff 79%,#0069ff 80.4%,#00a1ff 81.5%,#00c6ff 83.3%,#00f7ff 84.4%,#1affe5 85.8%,#5bffa4 86.9%,#7aff85 87.6%,#d8ff27 90.8%,#fcff03 91.5%,#ffd000 92.6%,#ffb600 93.7%,#ff1800 97.7%,#fe0000 98.7%,#d90000)"></i><i style="background:linear-gradient(90deg,#fb0000,#ff0100 1.6%,#e60000 6.7%,#d00000 7%,#800000 7.7%,#800000 11%,#870000 11.3%,#c60000 11.7%,#ff1f00 12.1%,#ffd500 12.8%,#e9ff16 13.1%,#c9ff36 13.5%,#c8ff37 13.8%,#dbff24 15.3%,#d5ff2a 18.2%,#a7ff58 20.3%,#7bff84 23.9%,#1affe5 26.8%,#1effe1 28.6%,#00fcff 29.3%,#00d8ff 30.4%,#03fffc 31.5%,#0ff 33.6%,#00f2ff 34%,#0cf 34.4%,#003aff 35.1%,#0000e0 35.4%,#00009c 35.8%,#000080 37.2%,#000080 67.1%,#0000c4 72.5%,#0000b4 74.6%,#0000cb 75.7%,#0000b2 77.2%,#0000b7 77.5%,#0000f5 78.2%,#0032ff 79%,#0049ff 79.7%,#0086ff 80.8%,#00b6ff 82.9%,#00f1ff 84.4%,#0ff 84.7%,#13ffec 85.4%,#6aff95 87.2%,#fffe00 91.5%,#ffd200 92.6%,#ffb600 93.7%,#ff8300 94.8%,#ff1a00 97.7%,#fd0000 98.7%,#dc0000)"></i><i style="background:linear-gradient(90deg,#fa0000,#ff0100 1.6%,#ed0000 4.9%,#f10000 6.3%,#eb0000 6.7%,#d40000 7%,#800000 7.7%,#800000 11%,#860000 11.3%,#c50000 11.7%,#ff1e00 12.1%,#ffd400 12.8%,#ebff14 13.1%,#d1ff2e 13.5%,#e1ff1e 15.3%,#e2ff1d 18.2%,#aeff51 20.3%,#7bff84 24.3%,#63ff9c 25%,#1fffe0 26.4%,#19ffe6 26.8%,#26ffd9 28.6%,#00fbff 29.7%,#00ebff 30.4%,#01fffe 31.1%,#0dfff2 31.8%,#00f8ff 33.6%,#00f2ff 34%,#00d2ff 34.4%,#0045ff 35.1%,#0000eb 35.4%,#0000a2 35.8%,#00008f 36.2%,#000081 36.9%,#000080 67.1%,#008 68.2%,#0000a8 69.6%,#00009a 70.7%,#0000c9 71.8%,#0000c9 73.6%,#0000b6 74.6%,#0000ce 75.7%,#0000ab 76.8%,#0000a8 77.2%,#0000ad 77.5%,#0000c2 77.9%,#0002ff 78.6%,#003cff 79.7%,#0095ff 80.8%,#09f 82.2%,#0bf 83.3%,#00f9ff 84.7%,#17ffe8 85.4%,#69ff96 87.2%,#fffa00 91.5%,#ffb600 93.7%,#ff7f00 94.8%,#f10 98%,#fd0000 98.7%,#df0000)"></i><i style="background:linear-gradient(90deg,#fa0000,#f00 2%,#ed0000 5.2%,#f10000 6.3%,#eb0000 6.7%,#d40000 7%,#820000 7.7%,#800000 8.1%,#800000 11%,#8a0000 11.3%,#c80000 11.7%,#ff2000 12.1%,#ffd300 12.8%,#ef1 13.1%,#d9ff26 13.5%,#edff12 15.3%,#ef1 18.2%,#b8ff47 20.3%,#75ff8a 24.6%,#26ffd9 26.4%,#1fffe0 26.8%,#25ffda 28.6%,#01fffe 29.7%,#0ff 30.8%,#15ffea 31.8%,#00feff 33.3%,#00f2ff 34%,#00d1ff 34.4%,#0092ff 34.7%,#0000f5 35.4%,#0000a6 35.8%,#00008d 36.2%,#000080 36.9%,#000080 67.1%,#000083 67.8%,#0000a7 69.6%,#00009f 70.7%,#0000c7 71.8%,#0000c5 72.5%,#0000d9 73.6%,#0000c1 74.6%,#0000d2 75.7%,#0000b1 76.8%,#0000af 77.5%,#0000f8 78.6%,#0040ff 79.7%,#0091ff 80.8%,#009cff 82.2%,#00baff 83.3%,#00f7ff 84.7%,#06fff9 85.1%,#78ff87 87.6%,#fffb00 91.5%,#ffb600 93.7%,#ff8300 94.8%,#ff1300 98%,#fe0000 98.7%,#de0000)"></i><i style="background:linear-gradient(90deg,#fb0000,#fe0000 2.3%,#e80000 6.7%,#d30000 7%,#830000 7.7%,#800000 8.1%,#800000 11%,#900000 11.3%,#cd0000 11.7%,#ff2300 12.1%,#ffd300 12.8%,#f1ff0e 13.1%,#e3ff1c 13.5%,#fcff03 15.3%,#fffe00 17.8%,#bcff43 20.7%,#76ff89 24.6%,#29ffd6 26.8%,#20ffdf 28.6%,#03fffc 29.7%,#1cffe3 31.8%,#18ffe7 32.6%,#00fdff 33.6%,#00f2ff 34%,#0cf 34.4%,#004fff 35.1%,#0000fe 35.4%,#0000a9 35.8%,#00008b 36.2%,#000080 37.2%,#000080 67.4%,#0000a0 69.2%,#0000be 71.8%,#0000be 72.5%,#0000e8 73.6%,#0000d2 74.6%,#0000d7 75.7%,#0000b7 77.5%,#0000f8 78.6%,#004cff 79.7%,#0085ff 80.8%,#0bf 83.3%,#00f6ff 84.7%,#12ffed 85.4%,#7dff82 87.6%,#98ff67 88.7%,#c6ff39 89.7%,#feff01 91.5%,#ff1400 98%,#f00 98.7%,#db0000)"></i><i style="background:linear-gradient(90deg,#fc0000,#f00 3.1%,#e60000 6.7%,#d20000 7%,#840000 7.7%,#800000 8.1%,#800000 11%,#950000 11.3%,#d10000 11.7%,#ff2600 12.1%,#ffd300 12.8%,#f4ff0b 13.1%,#ecff13 13.5%,#feff01 14.6%,#ffe900 17.1%,#feff01 18.5%,#df2 19.6%,#7f8 24.6%,#2affd5 27.2%,#1dffe2 28.6%,#05fffa 29.7%,#24ffdb 32.2%,#02fffd 33.6%,#00f2ff 34%,#00caff 34.4%,#004eff 35.1%,#0001ff 35.4%,#0000a9 35.8%,#008 36.2%,#000080 36.9%,#000080 67.4%,#0000b1 70.7%,#0000bc 72.5%,#00e 73.6%,#00d 75.7%,#0000c2 77.5%,#00f 78.6%,#0057ff 79.7%,#00a2ff 81.5%,#00bfff 83.3%,#00f6ff 84.7%,#03fffc 85.1%,#20ffdf 85.8%,#81ff7e 87.6%,#9aff65 88.7%,#c8ff37 89.7%,#e0ff1f 90.8%,#fcff03 91.5%,#ff1500 98%,#ff0100 98.7%,#da0000)"></i><i style="background:linear-gradient(90deg,#fb0000,#fa0000 3.4%,#e60000 6.7%,#d50000 7%,#800 7.7%,#800000 8.1%,#800000 11%,#970000 11.3%,#d30000 11.7%,#ff2500 12.1%,#ffd300 12.8%,#f5ff0a 13.1%,#fff900 14.2%,#ffd800 17.1%,#ffdf00 17.8%,#ff0 18.9%,#79ff86 24.6%,#2bffd4 27.2%,#20ffdf 28.6%,#0afff5 29.7%,#28ffd7 31.5%,#2affd5 32.2%,#02fffd 33.6%,#00f5ff 34%,#00ceff 34.4%,#0000f6 35.4%,#0000a5 35.8%,#00008c 36.2%,#000080 36.9%,#000080 67.1%,#000096 68.9%,#00009d 71.4%,#0000c9 72.5%,#0000d8 73.2%,#0000e7 75.4%,#0000c9 76.8%,#00c 77.2%,#0000d4 77.5%,#00f 78.2%,#0062ff 79.7%,#0094ff 80.8%,#00a9ff 81.5%,#0bf 82.9%,#00faff 84.7%,#1fffe0 85.8%,#87ff78 87.6%,#9fff60 88.7%,#cbff34 89.7%,#ff0 91.5%,#ff0900 98.4%,#db0000)"></i><i style="background:linear-gradient(90deg,#fa0000,#e70000 6.7%,#db0000 7%,#8f0000 7.7%,#800000 8.1%,#800000 11%,#9d0000 11.3%,#d70000 11.7%,#ff2400 12.1%,#ffd200 12.8%,#f9ff06 13.1%,#ffe500 14.6%,#ffca00 17.1%,#ffd900 18.2%,#fcff03 19.2%,#9f6 23.6%,#24ffdb 27.5%,#23ffdc 28.6%,#0ffff0 30%,#2dffd2 31.5%,#2effd1 32.2%,#01fffe 33.6%,#00f8ff 34%,#00d4ff 34.4%,#0042ff 35.1%,#0000eb 35.4%,#0000a3 35.8%,#000090 36.2%,#000080 37.2%,#000080 67.1%,#000091 68.9%,#00008b 71.4%,#009 71.8%,#0000d6 72.5%,#0000df 72.8%,#0000c0 73.6%,#0000c2 73.9%,#0000e6 75%,#0000ec 75.7%,#0000cd 76.4%,#0000c9 76.8%,#00f 77.9%,#0049ff 79%,#00a5ff 80.8%,#00b5ff 82.6%,#00e3ff 83.6%,#0ff 84.7%,#1fffe0 85.8%,#8dff72 87.6%,#fffc00 91.5%,#ff0700 98.4%,#d00)"></i><i style="background:linear-gradient(90deg,#f70000,#fb0000 1.3%,#e70000 6.7%,#de0000 7%,#970000 7.7%,#800000 8.1%,#850000 11%,#a60000 11.3%,#de0000 11.7%,#ff2400 12.1%,#ffd000 12.8%,#fdff02 13.1%,#ff0 13.5%,#ffd400 14.9%,#ffc000 17.1%,#ffcf00 18.2%,#fff800 19.2%,#a2ff5d 23.2%,#27ffd8 27.5%,#09fff6 29.7%,#0efff1 30.4%,#28ffd7 31.5%,#29ffd6 32.2%,#00feff 33.6%,#00f8ff 34%,#00d7ff 34.4%,#0042ff 35.1%,#0000eb 35.4%,#0000a7 35.8%,#00008b 36.5%,#000080 37.2%,#000080 67.1%,#00008f 69.2%,#000089 71.4%,#009 71.8%,#00d 72.5%,#0000e5 72.8%,#0000bf 73.6%,#0000be 73.9%,#0000e2 75.4%,#0000cb 76.8%,#0000f2 77.5%,#000bff 77.9%,#004fff 79%,#0070ff 79.7%,#00bdff 82.6%,#00faff 84%,#13ffec 85.4%,#8dff72 87.6%,#fff800 91.5%,#ff0800 98.4%,#df0000)"></i><i style="background:linear-gradient(90deg,#f30000,#f80000 3.1%,#e70000 6.7%,#e00000 7%,#890000 8.1%,#800000 8.8%,#800000 10.3%,#900000 11%,#b00000 11.3%,#e50000 11.7%,#ff2500 12.1%,#ffcf00 12.8%,#ff0 13.1%,#fffc00 13.5%,#ffcb00 14.9%,#fb0 17.1%,#ffc800 18.2%,#fffe00 19.6%,#3bffc4 26.4%,#03fffc 29%,#01fffe 30%,#1cffe3 31.5%,#1fffe0 32.2%,#01fffe 33.3%,#00f8ff 34%,#00d9ff 34.4%,#0045ff 35.1%,#0000f0 35.4%,#0000af 35.8%,#000082 36.9%,#000080 37.2%,#000080 67.1%,#000092 71.4%,#0000a1 71.8%,#0000e0 72.5%,#0000e9 72.8%,#0000c7 73.9%,#0000d0 75.7%,#0000ca 76.4%,#0000d0 76.8%,#0000f7 77.5%,#0071ff 79.7%,#0067ff 80.8%,#00abff 81.8%,#00fcff 83.6%,#17ffe8 85.4%,#8bff74 87.6%,#a6ff59 88.7%,#feff01 91.2%,#ffb200 93.7%,#ff8300 94.8%,#fc0000 98.7%,#e00000)"></i><i style="background:linear-gradient(90deg,#ef0000,#f90000 2.7%,#e80000 6.7%,#e10000 7%,#930000 8.1%,#800000 9.2%,#800000 9.9%,#9a0000 11%,#ba0000 11.3%,#ec0000 11.7%,#ff2500 12.1%,#ffcd00 12.8%,#ff0 13.1%,#fffd00 13.5%,#ffc000 15.3%,#ffb900 17.1%,#ffd100 18.5%,#fffc00 19.6%,#d6ff29 20.7%,#9aff65 23.2%,#34ffcb 26.4%,#2bffd4 27.5%,#00fbff 28.6%,#00f3ff 29.7%,#0ff 30.4%,#18ffe7 32.2%,#00fdff 33.3%,#00f8ff 34%,#00daff 34.4%,#0000f5 35.4%,#0000b7 35.8%,#000082 36.9%,#000080 37.2%,#000080 66.7%,#00009c 71.4%,#0000a9 71.8%,#0000e1 72.5%,#0000eb 72.8%,#0000c9 74.3%,#00b 75.7%,#0000d2 76.8%,#0000fa 77.5%,#006eff 79.7%,#004fff 80.4%,#004cff 80.8%,#00a9ff 81.8%,#00f4ff 83.3%,#05fffa 83.6%,#1affe5 85.4%,#7eff81 87.2%,#fffd00 91.2%,#ffb300 93.7%,#ff7e00 94.8%,#ff6400 95.9%,#fe0000 98.7%,#e20000)"></i><i style="background:linear-gradient(90deg,#f00000,#f90000 2.3%,#e50000 7%,#d60000 7.4%,#9e0000 8.1%,#840000 9.5%,#a00000 11%,#c00000 11.3%,#f10000 11.7%,#ff2500 12.1%,#fc0 12.8%,#fdff02 13.1%,#fdff02 13.5%,#ffc600 15.3%,#ffbc00 17.1%,#ffd300 18.5%,#fffc00 19.6%,#d5ff2a 20.7%,#a2ff5d 22.8%,#3fffc0 26.1%,#2dffd2 27.5%,#04fffb 28.2%,#00f4ff 29.3%,#01fffe 30.4%,#1bffe4 31.5%,#1effe1 32.2%,#00fbff 33.6%,#00f7ff 34%,#00d7ff 34.4%,#0000fa 35.4%,#0000bf 35.8%,#000083 36.9%,#000080 37.2%,#000080 52.7%,#00008b 53.4%,#000080 54.1%,#000080 67.4%,#00009d 71%,#0000b3 71.8%,#00d 72.5%,#0000e7 72.8%,#0000c7 74.6%,#0000a2 75.4%,#00009c 75.7%,#0000f2 77.5%,#0009ff 77.9%,#0053ff 79.3%,#0068ff 80.8%,#0ef 83.3%,#01fffe 83.6%,#21ffde 85.4%,#82ff7d 87.2%,#feff01 91.2%,#ffb500 93.7%,#ff7f00 94.8%,#f00 98.7%,#e40000)"></i><i style="background:linear-gradient(90deg,#f10000,#f70000 2.3%,#e90000 7%,#e00000 7.4%,#a90000 8.1%,#8d0000 9.9%,#a60000 11%,#c50000 11.3%,#f50000 11.7%,#ff2400 12.1%,#fc0 12.8%,#f9ff06 13.1%,#fffe00 13.8%,#fc0 15.6%,#ffc400 17.1%,#ffd800 18.5%,#fffe00 19.6%,#c9ff36 21%,#abff54 22.5%,#41ffbe 26.1%,#2effd1 27.5%,#02fffd 28.2%,#00f4ff 29%,#03fffc 30.4%,#26ffd9 31.8%,#20ffdf 32.6%,#00feff 33.6%,#00f6ff 34%,#00d3ff 34.4%,#00f 35.4%,#0000c6 35.8%,#000083 36.9%,#000080 37.2%,#000080 67.4%,#000091 70.3%,#0000a1 71%,#0000d8 72.5%,#0000e4 73.2%,#00c 74.6%,#00008d 75.4%,#000080 75.7%,#0000eb 77.5%,#0004ff 77.9%,#0032ff 78.6%,#004cff 79.7%,#0087ff 80.8%,#00c1ff 82.6%,#00faff 83.6%,#27ffd8 85.4%,#86ff79 87.2%,#fbff04 91.2%,#ffb600 93.7%,#ff8000 94.8%,#ff0100 98.7%,#e60000)"></i><i style="background:linear-gradient(90deg,#f40000,#eb0000 7%,#e50000 7.4%,#b30000 8.1%,#960000 9.9%,#ae0000 11%,#f90000 11.7%,#ff2300 12.1%,#ffcb00 12.8%,#f8ff07 13.1%,#f0ff0f 13.5%,#fffb00 14.2%,#fd0 15.3%,#ffce00 16.7%,#ffd900 18.2%,#fff700 19.2%,#c5ff3a 21%,#af5 22.5%,#69ff96 24.6%,#3dffc2 26.4%,#37ffc8 27.2%,#03fffc 28.2%,#00efff 29.3%,#00fcff 30.4%,#23ffdc 31.5%,#25ffda 31.8%,#20ffdf 32.6%,#04fffb 33.6%,#00f7ff 34%,#00ceff 34.4%,#0004ff 35.4%,#0000cd 35.8%,#000083 36.9%,#000080 37.2%,#000080 67.1%,#00008e 70%,#0000b0 71.8%,#0000d8 72.8%,#0000e1 73.6%,#0000d2 74.6%,#00008f 75.4%,#000081 75.7%,#0000ce 76.8%,#0000f4 77.5%,#000bff 77.9%,#03f 78.6%,#04f 79.7%,#008dff 80.8%,#00a1ff 81.8%,#00f7ff 83.6%,#2fffd0 85.4%,#95ff6a 87.6%,#fcff03 91.2%,#ffb700 93.7%,#ff6700 95.5%,#ff4200 96.9%,#ff0200 98.7%,#ea0000)"></i><i style="background:linear-gradient(90deg,#f00,#e70000 4.9%,#ea0000 7%,#e60000 7.4%,#b00 8.1%,#9f0000 9.5%,#ba0000 11%,#fc0000 11.7%,#ff2300 12.1%,#fc0 12.8%,#f4ff0b 13.1%,#e8ff17 13.5%,#fdff02 14.2%,#ffe300 15.6%,#ffdb00 16.7%,#ffe400 18.2%,#fff700 18.9%,#fbff04 19.2%,#bfff40 21%,#a8ff57 22.5%,#83ff7c 23.6%,#3affc5 26.8%,#06fff9 28.2%,#00dfff 29.3%,#00deff 29.7%,#00fdff 30.8%,#1affe5 31.5%,#19ffe6 32.9%,#0bfff4 33.6%,#00f8ff 34%,#00cbff 34.4%,#0006ff 35.4%,#0000cd 35.8%,#000083 36.9%,#000080 37.2%,#000080 67.1%,#000090 69.6%,#00a 70.7%,#00009a 71.8%,#0000d2 72.8%,#0000e3 73.9%,#0000df 74.6%,#0000a7 75.4%,#00009d 75.7%,#0000f5 77.2%,#0009ff 77.5%,#0034ff 78.6%,#0042ff 79.7%,#0083ff 80.8%,#008eff 81.5%,#00f5ff 83.6%,#06fff9 84%,#28ffd7 84.7%,#4fb 85.8%,#95ff6a 87.6%,#e7ff18 90.1%,#ff0 91.2%,#ffb700 93.7%,#ff6800 95.5%,#ff4300 96.9%,#ff0300 98.7%,#e00)"></i><i style="background:linear-gradient(90deg,#ff1200,#fb0000 2%,#e60000 4.5%,#ea0000 7%,#e60000 7.4%,#b90000 8.5%,#a70000 9.5%,#c50000 11%,#fe0000 11.7%,#ff2300 12.1%,#ffcd00 12.8%,#f1ff0e 13.1%,#e0ff1f 13.5%,#ff0 14.6%,#ffea00 16.7%,#fff900 18.5%,#b8ff47 21%,#a5ff5a 22.5%,#87ff78 23.2%,#42ffbd 26.4%,#07fff8 28.2%,#00f5ff 28.6%,#00d2ff 29.3%,#00d0ff 29.7%,#00e0ff 30.4%,#05fffa 31.1%,#1fe 31.5%,#1affe5 33.3%,#00faff 34%,#00c9ff 34.4%,#0007ff 35.4%,#0000cb 35.8%,#000095 36.5%,#000083 36.9%,#000080 37.2%,#000080 67.1%,#000096 69.6%,#0000b6 70.7%,#000089 71.8%,#0000cd 72.8%,#0000ea 74.3%,#0000ea 74.6%,#0000bf 75.4%,#0000b9 75.7%,#0000f6 76.8%,#0027ff 77.9%,#0042ff 79.7%,#007aff 80.8%,#009bff 81.8%,#00dfff 82.9%,#00f4ff 83.6%,#07fff8 84%,#30ffcf 84.7%,#48ffb7 85.8%,#94ff6b 87.6%,#fcff03 90.8%,#fff700 91.5%,#ffb800 93.7%,#ff5d00 95.9%,#ff4500 96.9%,#ff0500 98.7%,#f10000)"></i><i style="background:linear-gradient(90deg,#ff2300,#f00 2.7%,#e50000 4.5%,#e60000 7.4%,#c00000 8.5%,#b10000 9.5%,#cd0000 11%,#f00 11.7%,#ff2500 12.1%,#ffd000 12.8%,#ef1 13.1%,#d8ff27 13.5%,#fcff03 15.3%,#feff01 17.8%,#a7ff58 21.4%,#a2ff5d 22.1%,#83ff7c 23.2%,#75ff8a 24.3%,#00fdff 28.2%,#00d4ff 29.3%,#00d1ff 29.7%,#00dfff 30.4%,#0ff 31.1%,#0dfff2 31.5%,#17ffe8 32.9%,#00faff 34%,#00ceff 34.4%,#0006ff 35.4%,#0000c8 35.8%,#000094 36.5%,#000083 36.9%,#000080 37.2%,#000080 54.9%,#000091 55.6%,#000080 56.3%,#000080 67.1%,#009 69.6%,#0000b4 70.7%,#00009b 71.8%,#0000d8 73.2%,#0000ea 74.3%,#0000ec 74.6%,#0000ce 75.4%,#0000c9 75.7%,#0001ff 77.2%,#0023ff 77.9%,#0052ff 79.7%,#0081ff 80.8%,#0094ff 81.5%,#0df 82.9%,#07fff8 84%,#27ffd8 84.7%,#41ffbe 85.8%,#86ff79 87.2%,#faff05 90.8%,#fff900 91.5%,#ffb800 93.7%,#ff6500 95.9%,#ff0600 98.7%,#ed0000)"></i><i style="background:linear-gradient(90deg,#ff3800,#ff2c00 1.3%,#fe0000 3.4%,#e60000 4.9%,#e50000 7.4%,#c60000 8.5%,#b80000 9.5%,#d20000 11%,#ff0100 11.7%,#ff2800 12.1%,#ffd300 12.8%,#ecff13 13.1%,#d1ff2e 13.5%,#ef1 14.9%,#f1ff0e 17.4%,#c5ff3a 20%,#9eff61 21.4%,#75ff8a 24.3%,#02fffd 27.9%,#00f5ff 28.2%,#00d4ff 29.7%,#09fff6 31.5%,#13ffec 32.9%,#00f9ff 34%,#00d1ff 34.4%,#0004ff 35.4%,#0000c5 35.8%,#000093 36.5%,#000080 37.2%,#000080 67.1%,#0000b0 70.7%,#0000b0 71.8%,#0000d9 73.2%,#0000ea 74.3%,#0000ed 74.6%,#0000d8 75.7%,#0000e0 76.4%,#0000fa 77.2%,#00adff 81.8%,#00faff 83.6%,#2dffd2 85.4%,#7aff85 86.9%,#ef1 90.5%,#fdff02 91.2%,#fff200 91.9%,#ffad00 94.1%,#ff0900 98.7%,#ea0000)"></i><i style="background:linear-gradient(90deg,#ff4e00,#ff4100 1.3%,#ff0100 3.8%,#ec0000 5.2%,#e50000 7.4%,#ca0000 8.5%,#be0000 9.5%,#d90000 11%,#ef0000 11.3%,#ff0400 11.7%,#ff2a00 12.1%,#ffd500 12.8%,#eaff15 13.1%,#caff35 13.5%,#e3ff1c 15.3%,#d9ff26 16.4%,#e2ff1d 17.4%,#d4ff2b 18.5%,#b5ff4a 20.3%,#96ff69 21.4%,#6fff90 24.3%,#00fdff 27.9%,#00d5ff 29.7%,#00e5ff 30.8%,#00feff 31.5%,#0cfff3 32.6%,#00f1ff 34%,#0cf 34.4%,#0000fe 35.4%,#0000be 35.8%,#000090 36.5%,#000080 37.2%,#000080 67.1%,#0000b1 71.4%,#0000f0 73.6%,#0000f6 74.6%,#0000e3 75.7%,#00e 76.8%,#0003ff 77.2%,#0029ff 77.9%,#006eff 79.7%,#00caff 82.6%,#00fcff 83.6%,#07fff8 84%,#2dffd2 85.4%,#7dff82 86.9%,#fcff03 91.2%,#fff200 91.9%,#ff7f00 95.5%,#ff2c00 97.7%,#ff0100 99.1%,#eb0000)"></i><i style="background:linear-gradient(90deg,#ff6100,#ff4e00 1.6%,#fe0000 4.5%,#e70000 7.4%,#cd0000 8.5%,#c40000 9.5%,#e10000 11%,#f50000 11.3%,#ff0800 11.7%,#ff2d00 12.1%,#ffd600 12.8%,#e7ff18 13.1%,#bfff40 13.5%,#d8ff27 15.3%,#cf3 18.5%,#5effa1 24.3%,#39ffc6 25.4%,#00fbff 27.9%,#00cfff 29.3%,#00dcff 30.8%,#00f9ff 32.2%,#00dcff 34%,#0bf 34.4%,#0000f5 35.4%,#0000b3 35.8%,#00008c 36.5%,#000080 37.2%,#000080 66.7%,#000098 69.6%,#0000b2 70.7%,#0000ab 71.4%,#0000b4 71.8%,#00e 72.5%,#0003ff 72.8%,#0010ff 73.6%,#0006ff 74.6%,#0000ea 75.7%,#0000fd 76.8%,#0032ff 77.5%,#0041ff 77.9%,#008bff 80.8%,#00bdff 81.8%,#00cdff 82.6%,#00fdff 83.6%,#08fff7 84%,#26ffd9 85.1%,#80ff7f 86.9%,#dcff23 89.7%,#feff01 91.2%,#ffd300 93%,#ff7600 95.9%,#f20 98%,#ff0600 99.1%,#f10000)"></i><i style="background:linear-gradient(90deg,#ff7500,#ff6300 1.6%,#ff1200 4.1%,#f00 5.6%,#c90000 9.5%,#df0000 10.6%,#fa0000 11.3%,#ff0b00 11.7%,#ff2f00 12.1%,#ffd700 12.8%,#e4ff1b 13.1%,#b1ff4e 13.5%,#abff54 13.8%,#c4ff3b 14.6%,#cfff30 15.3%,#c5ff3a 18.5%,#a4ff5b 20.3%,#7dff82 21.4%,#51ffae 23.9%,#25ffda 25.4%,#00f8ff 27.5%,#00ecff 28.2%,#00c4ff 29.3%,#00cbff 31.1%,#00e8ff 32.6%,#00c6ff 34%,#00a6ff 34.4%,#0034ff 35.1%,#0000eb 35.4%,#0000a8 35.8%,#008 36.5%,#000080 37.2%,#000080 66.7%,#000095 69.6%,#0000b5 70.7%,#0000a5 71.4%,#0000b0 71.8%,#0005ff 72.5%,#0020ff 72.8%,#002cff 73.6%,#0003ff 75%,#0000ef 75.7%,#0000fd 76.4%,#000eff 76.8%,#0049ff 77.5%,#0089ff 80.8%,#00c4ff 81.8%,#00d0ff 82.6%,#00feff 83.6%,#1bffe4 84.7%,#83ff7c 86.9%,#e0ff1f 89.7%,#ff0 91.2%,#ffd700 93%,#fa0 94.1%,#ff7800 95.9%,#ff2400 98%,#f00 99.5%,#f60000)"></i><i style="background:linear-gradient(90deg,#ff8a00,#f70 1.6%,#ff2500 4.1%,#ff0a00 5.6%,#fd0000 7%,#d60000 8.5%,#d00000 9.5%,#f90000 11.3%,#ff0b00 11.7%,#ff3100 12.1%,#ffd700 12.8%,#e6ff19 13.1%,#b0ff4f 13.5%,#9cff63 13.8%,#cbff34 15.3%,#b4ff4b 18.5%,#9eff61 20%,#5bffa4 22.1%,#43ffbc 23.9%,#18ffe7 25.4%,#00faff 26.8%,#00e1ff 28.2%,#00b6ff 29.3%,#00b2ff 29.7%,#00b4ff 31.1%,#00dcff 32.2%,#00e0ff 32.6%,#00c6ff 33.3%,#00c1ff 34%,#00a7ff 34.4%,#0035ff 35.1%,#0000e8 35.4%,#0000a2 35.8%,#00008d 36.2%,#000080 36.9%,#000080 66.7%,#000096 69.6%,#00b 70.7%,#0000ae 71.4%,#0000b8 71.8%,#0000f6 72.5%,#000fff 72.8%,#0023ff 73.6%,#0000f8 75%,#0000e9 75.7%,#0000f7 76.1%,#000aff 76.4%,#0046ff 77.5%,#005bff 79%,#0084ff 80.4%,#02fffd 83.6%,#81ff7e 86.9%,#faff05 90.8%,#ffe200 92.6%,#ff2800 98%,#f00 99.5%,#f60000)"></i><i style="background:linear-gradient(90deg,#ff9d00,#ff8b00 1.6%,#ff1a00 5.6%,#ff0300 7.4%,#de0000 8.5%,#d80000 9.5%,#f80000 11.3%,#ff0b00 11.7%,#f30 12.1%,#ffd700 12.8%,#e9ff16 13.1%,#b0ff4f 13.5%,#8eff71 13.8%,#92ff6d 14.2%,#c8ff37 15.3%,#c6ff39 15.6%,#a1ff5e 17.8%,#8dff72 20%,#48ffb7 22.1%,#39ffc6 23.9%,#00fcff 26.1%,#00e0ff 27.2%,#00d5ff 28.2%,#00a4ff 29.7%,#00a4ff 31.1%,#00d8ff 32.2%,#0df 32.6%,#00c0ff 33.3%,#00c0ff 34%,#00acff 34.4%,#0037ff 35.1%,#0000e6 35.4%,#0000a0 35.8%,#00008a 36.2%,#000080 36.9%,#000080 66.4%,#000095 69.6%,#0000bc 70.7%,#0000b3 71.4%,#0000b9 71.8%,#0005ff 73.2%,#01f 73.6%,#0005ff 74.3%,#0000e0 75.4%,#0000e1 75.7%,#0000f7 76.1%,#0034ff 77.2%,#0069ff 79.7%,#00fbff 83.3%,#fffe00 90.8%,#ffe100 92.6%,#ff0100 99.5%,#f60000)"></i><i style="background:linear-gradient(90deg,#ffb100,#ffa700 1.3%,#ff3a00 5.2%,#ff0100 7.7%,#e50000 8.5%,#e00000 9.5%,#fd0000 11.3%,#ff1000 11.7%,#ff3900 12.1%,#ffdb00 12.8%,#e6ff19 13.1%,#acff53 13.5%,#80ff7f 13.8%,#80ff7f 14.2%,#b6ff49 15.3%,#b5ff4a 15.6%,#8aff75 17.8%,#7aff85 20%,#37ffc8 22.1%,#2dffd2 23.9%,#00feff 25.7%,#00d2ff 27.2%,#00caff 28.2%,#0096ff 29.7%,#0094ff 30.8%,#00d5ff 32.2%,#00dbff 32.6%,#00c1ff 33.3%,#00c2ff 34%,#00afff 34.4%,#003bff 35.1%,#0000ec 35.4%,#0000a6 35.8%,#00008e 36.2%,#000080 36.9%,#000080 66.4%,#009 69.6%,#0000b8 70.7%,#0000b3 71.8%,#0006ff 73.6%,#00e 75.7%,#0001ff 76.1%,#002bff 76.8%,#006fff 79.7%,#00a6ff 80.8%,#00c5ff 81.8%,#00efff 82.6%,#04fffb 83.3%,#3dffc2 84.7%,#58ffa7 85.8%,#ff0 90.8%,#ffe000 92.6%,#ff0300 99.5%,#f90000)"></i><i style="background:linear-gradient(90deg,#ffc400,#ffb400 1.6%,#ff9200 2.7%,#ff3f00 6.3%,#ff0a00 7.7%,#f50000 8.1%,#e80000 9.5%,#fc0000 11%,#ff1800 11.7%,#ff3f00 12.1%,#ffe100 12.8%,#dfff20 13.1%,#70ff8f 13.8%,#6fff90 14.2%,#9eff61 15.3%,#9cff63 16%,#6cff93 18.2%,#64ff9b 20%,#21ffde 22.5%,#23ffdc 23.6%,#00faff 25.7%,#00c7ff 27.2%,#00bdff 28.2%,#008eff 29.3%,#008aff 29.7%,#0095ff 30.8%,#00c4ff 31.8%,#00d6ff 32.6%,#00c6ff 34%,#00b0ff 34.4%,#007fff 34.7%,#0000f9 35.4%,#0000b4 35.8%,#000097 36.2%,#008 36.5%,#000080 37.2%,#000080 66.7%,#0000b0 70.7%,#00009f 71.4%,#0000a4 71.8%,#0000c2 72.5%,#0000ef 73.2%,#0003ff 73.6%,#0018ff 76.4%,#0056ff 77.9%,#0081ff 79.7%,#00c4ff 81.5%,#00fcff 82.6%,#0ffff0 83.6%,#3effc1 84.7%,#f9ff06 90.8%,#ffe000 92.6%,#ff7b00 95.9%,#ff3700 97.7%,#fd0000)"></i><i style="background:linear-gradient(90deg,#ffd800,#ffd300 1.3%,#ff9f00 3.1%,#ff6800 5.9%,#ff4000 7%,#fc0000 8.1%,#f00000 9.5%,#fb0000 10.3%,#ff0600 11%,#ff2000 11.7%,#ff4500 12.1%,#ffe700 12.8%,#d8ff27 13.1%,#64ff9b 13.8%,#5fffa0 14.2%,#7eff81 14.9%,#89ff76 16%,#54ffab 18.2%,#49ffb6 20.3%,#0efff1 22.5%,#13ffec 23.2%,#01fffe 25.4%,#00f2ff 25.7%,#00b9ff 27.2%,#00aeff 28.2%,#007dff 29.3%,#08f 30.4%,#00bcff 31.5%,#00c4ff 31.8%,#00d2ff 32.9%,#00c6ff 34%,#00adff 34.4%,#007fff 34.7%,#004aff 35.1%,#0007ff 35.4%,#0000c1 35.8%,#00008b 36.5%,#000080 37.2%,#000080 66.4%,#0000ab 70%,#0000a7 70.7%,#000091 71.4%,#0000a7 72.1%,#0000ec 73.2%,#0002ff 73.6%,#0030ff 75.4%,#001aff 76.4%,#0021ff 76.8%,#0067ff 77.9%,#0091ff 79.7%,#00d0ff 81.5%,#00f5ff 82.2%,#1fe 82.9%,#13ffec 83.6%,#3fffc0 84.7%,#5bffa4 85.8%,#a4ff5b 87.6%,#cf3 89.7%,#feff01 91.2%,#ffdf00 92.6%,#ff9300 95.1%,#ff2b00 98%,#ff0200)"></i><i style="background:linear-gradient(90deg,#fe0,#ffe900 1.3%,#ffc000 2.7%,#ff8500 5.9%,#ff5c00 7%,#ff0600 8.1%,#fa0000 9.9%,#ff0d00 11%,#ff2900 11.7%,#ff4e00 12.1%,#fe0 12.8%,#d2ff2d 13.1%,#5bffa4 13.8%,#4affb5 14.2%,#75ff8a 15.3%,#75ff8a 16.4%,#68ff97 17.1%,#3dffc2 18.2%,#42ffbd 20%,#07fff8 22.1%,#00feff 22.8%,#0ef 25%,#00a8ff 27.2%,#0096ff 28.2%,#0073ff 29.3%,#0083ff 30.4%,#0af 31.5%,#00bcff 32.6%,#00afff 34%,#09f 34.4%,#0073ff 34.7%,#0049ff 35.1%,#000eff 35.4%,#0000c6 35.8%,#0000a0 36.2%,#00008a 36.5%,#000080 37.2%,#000080 66.4%,#0000a9 69.6%,#00008b 71.4%,#000096 71.8%,#0000fe 73.6%,#002aff 75%,#001cff 76.4%,#0024ff 76.8%,#0071ff 78.2%,#008cff 79.7%,#00cdff 81.5%,#00f5ff 82.2%,#0cfff3 82.6%,#5effa1 85.8%,#a5ff5a 87.6%,#cf3 89.7%,#fcff03 91.2%,#ffa000 94.8%,#ff3a00 97.7%,#ff0600)"></i><i style="background:linear-gradient(90deg,#f7ff08,#fdff02 1.3%,#ffd900 2.7%,#ffa500 5.9%,#ff8b00 6.7%,#ff2700 7.7%,#ff1200 8.1%,#ff0200 9.5%,#ff1500 11%,#ff3400 11.7%,#ff5800 12.1%,#fff600 12.8%,#cf3 13.1%,#51ffae 13.8%,#3fc 14.2%,#64ff9b 15.3%,#65ff9a 16.4%,#5dffa2 17.1%,#23ffdc 18.2%,#1fffe0 18.5%,#34ffcb 20%,#01fffe 21.8%,#00e6ff 23.2%,#00e6ff 24.6%,#00c7ff 25.4%,#006aff 29%,#00a6ff 32.6%,#0095ff 33.3%,#0092ff 34%,#0081ff 34.4%,#0045ff 35.1%,#0014ff 35.4%,#0000c8 35.8%,#00009f 36.2%,#00008a 36.5%,#000080 37.2%,#000080 66.4%,#0000a9 69.2%,#008 71.4%,#0000fc 73.6%,#0021ff 74.6%,#001aff 76.1%,#0029ff 76.8%,#0079ff 78.6%,#0085ff 79.7%,#00b8ff 80.8%,#00c7ff 81.5%,#00f3ff 82.2%,#0efff1 82.6%,#29ffd6 83.3%,#61ff9e 85.8%,#a5ff5a 87.6%,#c4ff3b 89.4%,#fbff04 91.2%,#ffa100 94.8%,#ff5200 96.9%,#ff0a00)"></i><i style="background:linear-gradient(90deg,#d7ff28,#deff21 1.3%,#fff800 2.3%,#ffcf00 5.6%,#ffa900 6.7%,#ff4600 7.7%,#ff3200 8.1%,#ff2000 9.5%,#ff2900 11%,#ff4500 11.7%,#ff6900 12.1%,#fbff04 12.8%,#47ffb8 13.8%,#2fd 14.2%,#53ffac 15.3%,#54ffab 16%,#4dffb2 17.1%,#3dffc2 17.4%,#0afff5 18.2%,#03fffc 18.5%,#1effe1 20%,#0ffff0 20.7%,#00feff 21%,#00daff 23.2%,#00e4ff 24.3%,#0df 24.6%,#00b3ff 25.4%,#005cff 28.6%,#007bff 31.1%,#0098ff 32.6%,#007aff 33.3%,#0076ff 34%,#0067ff 34.4%,#0036ff 35.1%,#000cff 35.4%,#0000c5 35.8%,#00009d 36.2%,#000089 36.5%,#000080 37.2%,#000080 66.4%,#0000a8 68.9%,#0000a2 69.6%,#000082 71%,#000085 71.4%,#0000fe 73.6%,#0019ff 74.6%,#001bff 76.1%,#002bff 76.8%,#0076ff 78.6%,#008aff 79.7%,#0bf 80.8%,#00c7ff 81.5%,#00f4ff 82.2%,#10ffef 82.6%,#3dffc2 83.6%,#5affa5 85.4%,#a5ff5a 87.6%,#caff35 89.7%,#faff05 91.2%,#ffa000 94.8%,#ff5300 96.9%,#ff0c00)"></i><i style="background:linear-gradient(90deg,#b3ff4c,#bfff40 1.3%,#f4ff0b 2.7%,#fffb00 5.2%,#ffe000 6.3%,#f60 7.7%,#ff5300 8.1%,#ff4000 9.5%,#ff5100 11%,#ff6e00 11.7%,#ff9100 12.1%,#ffdb00 12.4%,#d9ff26 12.8%,#38ffc7 13.8%,#17ffe8 14.2%,#37ffc8 14.9%,#40ffbf 15.6%,#37ffc8 17.1%,#0dfff2 17.8%,#00f2ff 18.2%,#00e7ff 18.9%,#0ff 20.3%,#00dfff 21.8%,#00d5ff 24.6%,#0070ff 26.4%,#0052ff 28.6%,#0062ff 30.8%,#008fff 32.2%,#0091ff 32.6%,#0068ff 33.3%,#005aff 34%,#0048ff 34.4%,#0017ff 35.1%,#0000f1 35.4%,#0000b9 35.8%,#00009b 36.2%,#000089 36.5%,#000080 37.2%,#000080 66.4%,#0000a5 68.9%,#000081 71%,#0000b6 72.5%,#0005ff 73.6%,#0005ff 74.6%,#001eff 75.4%,#0025ff 76.8%,#0090ff 79.3%,#00cfff 81.5%,#00f9ff 82.2%,#41ffbe 83.6%,#50ffaf 85.1%,#a3ff5c 87.6%,#bf4 88.7%,#c4ff3b 89.7%,#f8ff07 91.2%,#ffc000 93.7%,#ff4b00 97.3%,#ff0d00)"></i><i style="background:linear-gradient(90deg,#90ff6f,#9fff60 1.3%,#d8ff27 2.7%,#d2ff2d 4.9%,#f2ff0d 6.3%,#ffe700 6.7%,#ff8600 7.7%,#ff7300 8.1%,#ff5f00 9.5%,#ff7400 11%,#f90 11.7%,#ffbc00 12.1%,#fbff04 12.4%,#b7ff48 12.8%,#85ff7a 13.1%,#2affd5 13.8%,#10ffef 14.2%,#2dffd2 15.3%,#1effe1 17.1%,#1fe 17.4%,#00f7ff 17.8%,#00ceff 18.5%,#00c4ff 19.2%,#00e1ff 20.3%,#00c6ff 22.1%,#00d1ff 23.2%,#00cbff 24.3%,#00b1ff 25%,#004eff 26.4%,#0048ff 26.8%,#0053ff 28.2%,#0045ff 30.4%,#0057ff 31.1%,#0083ff 32.2%,#0084ff 32.6%,#0051ff 33.3%,#003cff 34%,#0000f6 35.1%,#0000ac 35.8%,#000098 36.2%,#000080 37.2%,#000080 66%,#0000a1 68.9%,#000081 70.7%,#000085 71%,#0000a5 71.8%,#0000ac 72.5%,#0008ff 73.6%,#0000ec 74.6%,#0000fd 75%,#0020ff 75.7%,#001cff 76.8%,#0054ff 77.9%,#006aff 78.6%,#00a9ff 79.7%,#00d7ff 81.5%,#00feff 82.2%,#45ffba 83.6%,#46ffb9 84.7%,#b7ff48 88.3%,#c1ff3e 89.7%,#fffd00 91.5%,#ffc300 93.7%,#ff9500 94.8%,#ff8100 95.9%,#ff4200 97.7%,#ff0e00)"></i><i style="background:linear-gradient(90deg,#76ff89,#81ff7e 1.3%,#b8ff47 2.7%,#bf4 3.1%,#a2ff5d 4.5%,#abff54 5.6%,#c2ff3d 6.3%,#efff10 6.7%,#ffeb00 7%,#ffb100 7.7%,#ffa000 8.1%,#ff8a00 9.9%,#ff9a00 11%,#ffc500 11.7%,#ffe600 12.1%,#d6ff29 12.4%,#95ff6a 12.8%,#6f9 13.1%,#12ffed 13.8%,#00f9ff 14.2%,#10ffef 15.3%,#01fffe 17.1%,#00b6ff 18.5%,#00b5ff 19.2%,#00c8ff 20.3%,#00b1ff 21.8%,#00b2ff 23.2%,#00a6ff 24.3%,#0090ff 25%,#0046ff 26.4%,#0051ff 27.5%,#0038ff 28.6%,#0039ff 30.4%,#0067ff 31.8%,#006bff 32.6%,#0037ff 33.3%,#0029ff 34.4%,#000aff 34.7%,#0000e9 35.1%,#0000a3 35.8%,#008 36.5%,#000080 37.2%,#000080 66%,#00009f 68.9%,#00008a 70.7%,#0000b2 71.8%,#0000ae 72.5%,#0000c0 72.8%,#0001ff 73.6%,#00f 73.9%,#0000e4 74.6%,#0000f1 75%,#0005ff 75.4%,#0025ff 76.8%,#0053ff 77.9%,#0064ff 78.6%,#00b0ff 79.7%,#00edff 81.8%,#03fffc 82.2%,#46ffb9 83.6%,#50ffaf 85.1%,#b3ff4c 88.3%,#c6ff39 89.7%,#fffe00 91.5%,#ffc500 93.7%,#ff9800 94.8%,#ff5a00 96.9%,#f10)"></i><i style="background:linear-gradient(90deg,#61ff9e,#67ff98 1.3%,#98ff67 2.7%,#9f6 3.1%,#75ff8a 4.5%,#7bff84 5.6%,#95ff6a 6.7%,#e1ff1e 8.1%,#fdff02 9.5%,#fd0 10.6%,#fff800 11.7%,#ebff14 12.1%,#72ff8d 12.8%,#1dffe2 13.5%,#00f5ff 13.8%,#00deff 14.2%,#00f0ff 15.3%,#00e1ff 17.1%,#00a4ff 18.2%,#009fff 18.5%,#00b5ff 20%,#0095ff 21.4%,#008bff 23.2%,#0074ff 24.6%,#0048ff 26.1%,#04f 26.4%,#005eff 27.2%,#005cff 27.5%,#002bff 28.2%,#0020ff 28.6%,#0032ff 30.4%,#0056ff 31.5%,#0057ff 32.2%,#004fff 32.6%,#001eff 33.3%,#0031ff 34.4%,#000dff 34.7%,#0000e2 35.1%,#0000b5 35.4%,#00009b 35.8%,#000080 37.2%,#000080 66%,#0000a1 69.2%,#000094 70.7%,#0000bf 71.8%,#0000b4 72.5%,#0000c0 72.8%,#0000f6 73.6%,#0000f6 73.9%,#0000e0 74.6%,#00f 75.7%,#004aff 77.5%,#005fff 78.6%,#00b3ff 79.7%,#00f1ff 81.8%,#07fff8 82.2%,#47ffb8 83.6%,#5bffa4 85.4%,#9eff61 87.6%,#fffd00 91.5%,#ffc600 93.7%,#f60 96.6%,#ff1400)"></i><i style="background:linear-gradient(90deg,#49ffb6,#4cffb3 1.3%,#7bff84 2.7%,#7bff84 3.1%,#4dffb2 4.5%,#52ffad 5.9%,#87ff78 8.5%,#dcff23 10.6%,#c9ff36 11.7%,#b2ff4d 12.1%,#45ffba 12.8%,#00f7ff 13.5%,#00d6ff 13.8%,#00c6ff 14.2%,#00d6ff 15.3%,#00c1ff 17.1%,#008eff 18.2%,#008fff 18.5%,#00a8ff 19.2%,#00a6ff 20%,#0078ff 21.4%,#0078ff 22.5%,#003bff 25.4%,#003cff 26.4%,#005fff 27.2%,#005cff 27.5%,#001cff 28.2%,#01f 28.6%,#0045ff 31.8%,#0038ff 32.6%,#000dff 33.3%,#002fff 34.4%,#000bff 34.7%,#00d 35.1%,#0000af 35.4%,#000097 35.8%,#000080 36.9%,#000080 66%,#0000a6 69.6%,#009 70.7%,#0000be 71.8%,#0000b6 72.5%,#0000bf 72.8%,#0000e8 73.6%,#0000db 74.6%,#0000f5 75.7%,#0036ff 76.8%,#005fff 78.6%,#00b1ff 79.7%,#00f8ff 81.8%,#49ffb6 83.6%,#5dffa2 85.4%,#fffd00 91.5%,#ffc700 93.7%,#ff7200 96.2%,#ff1800)"></i><i style="background:linear-gradient(90deg,#28ffd7,#2effd1 1.3%,#61ff9e 2.7%,#62ff9d 3.1%,#2fffd0 4.5%,#24ffdb 6.3%,#46ffb9 8.1%,#94ff6b 10.6%,#85ff7a 11.7%,#70ff8f 12.1%,#10ffef 12.8%,#00ecff 13.1%,#00b8ff 13.8%,#00b5ff 14.2%,#00caff 14.9%,#00c9ff 15.3%,#00a6ff 16.4%,#0087ff 18.2%,#0098ff 19.2%,#0098ff 20%,#0061ff 21.4%,#0051ff 23.2%,#001aff 25.4%,#0027ff 26.4%,#0046ff 27.2%,#0045ff 27.5%,#0019ff 28.2%,#0013ff 28.6%,#0025ff 29.7%,#0020ff 30.8%,#002cff 32.2%,#002aff 32.6%,#000dff 33.3%,#001cff 34.4%,#0000fc 34.7%,#000098 35.8%,#000085 36.5%,#000080 37.2%,#000080 66.4%,#0000a4 69.2%,#000094 71%,#0000d5 73.6%,#0000d5 74.6%,#0000f6 75.7%,#0009ff 76.1%,#0050ff 77.5%,#0069ff 78.6%,#00a8ff 79.7%,#00f5ff 81.5%,#06fff9 81.8%,#4cffb3 83.6%,#63ff9c 85.4%,#daff25 89.7%,#fffc00 91.5%,#ffc600 93.7%,#ff7e00 95.9%,#ff1d00)"></i><i style="background:linear-gradient(90deg,#06fff9,#0efff1 1.3%,#47ffb8 2.7%,#49ffb6 3.1%,#00fcff 5.2%,#00efff 6.3%,#01fffe 7.4%,#3effc1 9.2%,#53ffac 11%,#47ffb8 11.7%,#3fc 12.1%,#09fff6 12.4%,#00c1ff 13.1%,#009eff 13.8%,#00bfff 14.9%,#00beff 15.3%,#0084ff 16.4%,#007cff 16.7%,#08f 20.3%,#004eff 21.4%,#003eff 22.1%,#003dff 23.2%,#000bff 24.6%,#0000fc 25.4%,#002dff 27.5%,#0016ff 28.2%,#0025ff 29.7%,#0008ff 31.1%,#001eff 32.6%,#0008ff 34.4%,#0000d6 35.1%,#009 35.8%,#000084 36.5%,#000080 37.2%,#000080 66%,#0000a6 68.9%,#000087 71.4%,#0000b8 72.8%,#0000cf 74.6%,#0000f7 75.7%,#0014ff 76.4%,#0063ff 77.9%,#0073ff 78.6%,#009fff 79.7%,#0ff 81.5%,#50ffaf 83.6%,#6aff95 85.4%,#a3ff5c 87.9%,#dfff20 89.7%,#fffc00 91.5%,#ff8100 95.9%,#ff2100)"></i><i style="background:linear-gradient(90deg,#00e6ff,#00eaff 0.9%,#00fcff 1.6%,#29ffd6 2.7%,#29ffd6 3.1%,#00feff 4.1%,#00d7ff 5.2%,#00bfff 6.3%,#00fcff 8.8%,#15ffea 11%,#0cfff3 11.7%,#00faff 12.1%,#00b5ff 12.8%,#008dff 13.5%,#0083ff 13.8%,#0af 14.9%,#00a9ff 15.3%,#0074ff 16.4%,#0062ff 17.1%,#0072ff 19.2%,#0085ff 20.3%,#003dff 21.8%,#002bff 22.5%,#0029ff 23.2%,#0000f8 24.3%,#0000e9 25.4%,#0002ff 26.4%,#001cff 27.5%,#01f 28.2%,#0016ff 30%,#0000fc 31.1%,#0000fc 34.4%,#000096 35.8%,#000080 36.9%,#000080 65.6%,#0000a6 69.2%,#000085 71.4%,#0000ab 72.5%,#0000d7 75%,#0000fe 76.1%,#001fff 76.8%,#0065ff 77.9%,#00a3ff 79.7%,#0ef 81.1%,#02fffd 81.5%,#53ffac 83.6%,#9aff65 87.6%,#dfff20 89.7%,#fffe00 91.5%,#ff8300 95.9%,#ff2400)"></i><i style="background:linear-gradient(90deg,#00c8ff,#00d0ff 1.3%,#01fffe 2.3%,#03fffc 3.1%,#0092ff 6.3%,#00b0ff 7.4%,#00b2ff 8.1%,#0cf 9.2%,#00caff 10.3%,#00d6ff 11.3%,#00c6ff 12.1%,#008eff 12.8%,#0065ff 13.8%,#0083ff 14.6%,#008fff 15.3%,#05f 17.1%,#004eff 17.8%,#0058ff 19.2%,#0083ff 20.3%,#0028ff 22.1%,#0009ff 23.6%,#0000f4 23.9%,#0000db 24.6%,#00f 26.8%,#000eff 27.5%,#0003ff 30.4%,#0000de 32.2%,#0000fb 34%,#0000f4 34.4%,#0000a1 35.4%,#000091 35.8%,#000080 36.9%,#000080 65.6%,#0000a5 69.2%,#00008a 71.4%,#00a 72.5%,#0000b4 73.6%,#0000fd 76.1%,#0020ff 76.8%,#006aff 77.9%,#008fff 79%,#00feff 81.5%,#32ffcd 82.6%,#54ffab 83.6%,#9bff64 87.6%,#dcff23 89.7%,#fcff03 91.5%,#ff6000 97.3%,#ff2800)"></i><i style="background:linear-gradient(90deg,#00a9ff,#00afff 1.3%,#00dfff 2.3%,#00e3ff 2.7%,#0069ff 6.3%,#0086ff 7.4%,#007fff 8.1%,#0090ff 9.2%,#0089ff 10.3%,#0098ff 11.7%,#0091ff 12.1%,#0054ff 13.1%,#0043ff 13.8%,#006cff 14.9%,#0075ff 16%,#003bff 17.8%,#0036ff 18.5%,#003fff 19.2%,#0076ff 20.3%,#001cff 22.1%,#0000fd 23.2%,#0000d3 24.6%,#0000fd 27.2%,#0001ff 28.6%,#0000ea 29.3%,#0000f4 30.4%,#0000e5 31.5%,#0000c8 32.2%,#0000c9 32.6%,#0000f0 34%,#0000eb 34.4%,#00009a 35.4%,#000080 37.2%,#000080 66%,#0000a3 69.6%,#00008d 71%,#0000ad 72.5%,#0000b5 73.6%,#0000df 74.6%,#0000f6 75.7%,#0010ff 76.4%,#0070ff 77.9%,#00fcff 81.5%,#42ffbd 82.9%,#71ff8e 84.7%,#a4ff5b 87.9%,#d9ff26 89.7%,#fffc00 91.9%,#ff6a00 96.9%,#ff2c00)"></i><i style="background:linear-gradient(90deg,#008dff,#008fff 1.3%,#00baff 2.7%,#0098ff 4.1%,#0065ff 5.2%,#0042ff 6.3%,#0058ff 9.2%,#0048ff 10.3%,#005fff 12.1%,#002fff 13.1%,#0024ff 13.8%,#0059ff 15.3%,#0061ff 16%,#0050ff 17.1%,#001fff 18.2%,#001dff 18.5%,#002eff 19.2%,#005aff 20.3%,#001aff 21.4%,#0000fb 22.5%,#0000d3 23.2%,#0000ce 23.6%,#0000d8 24.3%,#0000d1 26.1%,#0003ff 27.5%,#0008ff 28.6%,#0000ef 29.3%,#0000ec 30.4%,#0000c2 32.2%,#0000db 34%,#0000d7 34.4%,#00008e 35.8%,#000080 37.6%,#000080 66%,#0000a0 69.6%,#000092 71.4%,#0000b6 72.5%,#0000b3 73.6%,#0000e1 74.6%,#00f 75.7%,#000dff 76.4%,#001dff 76.8%,#006eff 77.9%,#00abff 79.7%,#00fcff 81.5%,#4fb 82.9%,#74ff8b 84.7%,#a1ff5e 87.6%,#d7ff28 89.7%,#ff0 91.9%,#ff7800 96.6%,#ff3100)"></i><i style="background:linear-gradient(90deg,#0072ff,#0073ff 1.6%,#008fff 2.7%,#008dff 3.1%,#007bff 4.1%,#003fff 5.2%,#0010ff 7%,#0023ff 9.2%,#000bff 10.3%,#000cff 10.6%,#0014ff 11.3%,#002eff 12.1%,#000fff 13.1%,#0009ff 14.2%,#003eff 15.3%,#004fff 16.7%,#003eff 17.4%,#0009ff 18.2%,#0006ff 18.5%,#0038ff 20%,#003bff 20.3%,#0006ff 21%,#0000f3 21.4%,#0000f3 22.1%,#0000e6 22.5%,#0000ab 23.2%,#0000ac 23.6%,#0000d8 24.3%,#0000bc 26.1%,#0000c0 26.4%,#0004ff 27.5%,#01f 28.2%,#0002ff 29%,#0000c1 31.8%,#0000c3 34.4%,#00008d 35.8%,#000080 37.2%,#000080 66%,#00009e 70%,#000096 71.4%,#0000bd 72.5%,#0000c0 72.8%,#0000b3 73.6%,#0000fe 75.4%,#000cff 76.4%,#0019ff 76.8%,#006eff 77.9%,#00a3ff 79.7%,#00fdff 81.5%,#45ffba 82.9%,#76ff89 84.7%,#9dff62 87.2%,#fcff03 91.9%,#ff8500 96.2%,#ff3600)"></i><i style="background:linear-gradient(90deg,#0059ff,#005cff 1.6%,#0071ff 2.7%,#006cff 3.1%,#0058ff 4.1%,#0020ff 5.2%,#0000fe 6.3%,#0000f0 7.7%,#000cff 9.2%,#0005ff 9.5%,#0000eb 10.6%,#0004ff 11.7%,#0010ff 12.1%,#0001ff 12.8%,#0000e8 13.8%,#0000e9 14.2%,#0000f9 14.6%,#0040ff 16.4%,#03f 17.1%,#0000fc 18.2%,#0018ff 20%,#0014ff 20.3%,#0000f8 20.7%,#0000c6 21.4%,#0000d1 22.1%,#0000cb 22.5%,#0000a3 23.2%,#0000a4 23.6%,#0000c4 24.3%,#0000c3 26.4%,#0000fe 27.5%,#0003ff 28.6%,#0000bd 30.8%,#0000c0 34%,#000084 36.2%,#000080 37.2%,#000081 66%,#00009f 70.7%,#000096 71.4%,#0000c2 72.8%,#0000cd 73.9%,#0000f4 75%,#0004ff 75.4%,#0026ff 76.8%,#005dff 77.5%,#0086ff 78.2%,#00acff 79.7%,#01fffe 81.5%,#40ffbf 82.9%,#76ff89 84.7%,#9aff65 87.2%,#cdff32 89.4%,#faff05 91.9%,#ff9100 95.9%,#ff3e00)"></i><i style="background:linear-gradient(90deg,#0040ff,#0059ff 2.7%,#0000f9 5.6%,#0000ed 6.3%,#0000ef 7%,#0000d9 8.1%,#0000fc 9.2%,#0000f0 10.3%,#0005ff 12.4%,#0000de 13.1%,#0000cf 13.8%,#0000da 14.6%,#00f 15.3%,#0029ff 16%,#0032ff 16.4%,#00f 17.4%,#0000f4 18.2%,#0000f6 19.6%,#0000e9 20.3%,#0000ad 21%,#00009c 21.4%,#0000b0 22.5%,#00a 24.6%,#0000d2 26.4%,#0000f3 27.2%,#0000fa 27.9%,#0000f2 28.6%,#0000a6 30.8%,#0000c4 33.6%,#0000a8 35.1%,#000082 36.2%,#000080 37.2%,#000080 65.6%,#000097 68.5%,#000089 69.6%,#00009f 70.7%,#000098 71.8%,#0000df 73.6%,#0000eb 74.6%,#0000f9 75%,#0039ff 76.8%,#00acff 78.6%,#0bf 79.7%,#00f3ff 81.1%,#04fffb 81.5%,#76ff89 84.7%,#9bff64 87.6%,#d3ff2c 89.7%,#f7ff08 91.9%,#ff9500 95.9%,#ff4700)"></i><i style="background:linear-gradient(90deg,#0025ff,#003dff 2.7%,#001cff 3.4%,#0002ff 4.5%,#0000d9 6.3%,#0000e7 7.4%,#0000ce 8.1%,#0000ef 9.2%,#00f 12.1%,#0000fb 12.4%,#0000bf 13.5%,#0000ba 14.2%,#0000d1 14.9%,#0000fe 15.6%,#001aff 16%,#0025ff 16.4%,#0010ff 16.7%,#0000f1 17.1%,#0000e1 17.4%,#0000ed 18.5%,#0000d1 20%,#000080 21.4%,#00008b 22.1%,#0000b3 23.2%,#00008f 24.3%,#000096 24.6%,#0000bc 25.4%,#0000e2 26.4%,#0000f6 27.5%,#0000e0 28.6%,#000097 30.4%,#000091 30.8%,#0000be 32.9%,#0000c2 33.6%,#0000a4 35.1%,#000087 35.8%,#000080 36.9%,#000080 65.3%,#00008b 67.8%,#00009b 68.5%,#000084 69.6%,#00009f 70.7%,#00009b 71.8%,#0000b2 72.5%,#0000f1 73.6%,#0000f6 74.6%,#0004ff 75%,#005dff 77.2%,#00c0ff 78.6%,#00d0ff 80%,#00f5ff 81.1%,#04fffb 81.5%,#24ffdb 82.6%,#5fa 83.6%,#74ff8b 84.7%,#90ff6f 87.2%,#d2ff2d 89.7%,#eaff15 91.5%,#fffc00 92.3%,#fc0 93.7%,#f90 95.9%,#ff6a00 98%,#ff4e00)"></i><i style="background:linear-gradient(90deg,#0001ff,#0013ff 1.3%,#000aff 2%,#0013ff 2.7%,#0000fc 3.4%,#0000d8 5.2%,#0000b2 6.3%,#0000df 7.4%,#0000d1 8.1%,#0000e5 9.2%,#0000df 12.4%,#0000a9 14.2%,#0000ae 14.6%,#0000f2 15.6%,#0010ff 16%,#001eff 16.4%,#000aff 16.7%,#0000da 17.4%,#00d 18.2%,#0000d2 18.9%,#00008b 21%,#000080 21.8%,#000081 22.5%,#0000a7 23.2%,#0000a5 23.6%,#00008b 24.3%,#000094 24.6%,#0000e1 26.1%,#0000f4 26.8%,#0000e4 27.9%,#000086 30.8%,#0000b8 33.6%,#0000b1 34.4%,#000084 35.8%,#000080 36.5%,#000080 65.6%,#00009a 68.5%,#000094 70%,#0000a6 71.4%,#00f 74.3%,#0079ff 77.5%,#00c6ff 78.6%,#00d1ff 79.7%,#00fbff 81.5%,#15ffea 82.2%,#62ff9d 84%,#89ff76 86.9%,#caff35 89.4%,#e5ff1a 91.5%,#ff0 92.3%,#fc0 93.7%,#ff7400 97.7%,#ff5200)"></i><i style="background:linear-gradient(90deg,#0000e6,#0000f4 1.3%,#0000dc 2%,#00e 3.1%,#0000c2 5.2%,#00009b 5.9%,#000097 6.3%,#0000d6 7.4%,#0000d8 8.8%,#00b 11.7%,#0000c8 13.1%,#0000a0 14.2%,#0000a5 14.6%,#0000ed 15.6%,#0009ff 16%,#0018ff 16.4%,#0005ff 16.7%,#0000d6 17.4%,#0000c1 18.9%,#000093 20.3%,#000092 21.4%,#000081 21.8%,#000080 22.1%,#000087 22.8%,#00009d 23.2%,#0000a0 23.6%,#00008e 24.3%,#0000ed 26.4%,#0000de 27.5%,#000082 30.8%,#0000b3 34%,#0000b0 34.4%,#000086 35.4%,#000080 36.5%,#000080 65.3%,#0000a5 69.6%,#0000a2 70.7%,#0000f3 73.9%,#000aff 74.3%,#02f 74.6%,#06f 76.4%,#0081ff 77.5%,#00c8ff 78.6%,#00d7ff 79.7%,#00f8ff 80.8%,#00f3ff 81.5%,#00fbff 81.8%,#5bffa4 83.6%,#8f7 86.9%,#cbff34 89.4%,#e4ff1b 91.5%,#fdff02 92.3%,#ffcd00 93.7%,#ffbe00 94.8%,#ff7d00 97.3%,#ff5400)"></i><i style="background:linear-gradient(90deg,#0000e7,#0000e9 1.3%,#0000c2 2%,#0000c1 2.3%,#0000d6 3.1%,#0000cb 4.1%,#00009a 5.9%,#00009a 6.3%,#0000ce 7.4%,#0000cf 8.8%,#0000ae 10.6%,#0000b5 13.1%,#00008a 14.2%,#000097 14.6%,#0000d3 15.3%,#0000fd 16%,#0009ff 16.4%,#0000fd 16.7%,#0000cf 17.8%,#009 20.3%,#009 21.4%,#000084 21.8%,#000080 22.1%,#000084 22.8%,#00009c 23.2%,#0000a0 23.6%,#000093 24.3%,#0000e3 26.4%,#0000ca 28.2%,#000089 30.8%,#0000a9 34%,#000087 35.4%,#000080 36.5%,#000080 65.3%,#0000a7 69.6%,#00009e 70.7%,#0000f4 73.9%,#02f 74.6%,#003cff 75.7%,#00d5ff 79%,#00fdff 80.8%,#00f5ff 81.5%,#00fcff 81.8%,#5affa5 83.6%,#8cff73 86.9%,#cbff34 89.4%,#e4ff1b 91.5%,#fcff03 92.3%,#ffd100 93.7%,#ff7c00 97.7%,#ff5600)"></i><i style="background:linear-gradient(90deg,#0000f2,#0000e6 1.3%,#0000b7 2%,#0000b1 2.3%,#0000c4 3.1%,#0000c6 4.1%,#0000a7 5.2%,#0000a0 5.9%,#0000c4 7.4%,#0000c4 9.2%,#0000a2 10.3%,#0000a5 12.8%,#000080 13.8%,#000083 14.6%,#0000d5 15.3%,#0000f7 16.4%,#0000ea 17.1%,#0000b6 18.5%,#0000a4 21%,#000080 22.1%,#000089 22.8%,#00009e 23.2%,#000095 24.3%,#00009c 24.6%,#0000d5 26.4%,#0000c5 27.2%,#0000cb 28.2%,#0000a3 29.3%,#000090 30.8%,#0000a0 32.6%,#00009e 34%,#000080 36.5%,#000080 64.9%,#00009d 68.9%,#000098 70.7%,#0000fa 73.9%,#0019ff 74.6%,#0026ff 75.7%,#0073ff 76.8%,#00e4ff 79.3%,#00fbff 80.4%,#00fcff 81.5%,#12ffed 82.2%,#62ff9d 84%,#fff800 92.6%,#ffce00 94.1%,#ff5800)"></i><i style="background:linear-gradient(90deg,#0000fd,#0000f1 0.9%,#0000e4 1.3%,#0000b1 2%,#0000a8 2.3%,#0000bf 4.1%,#0000a0 5.2%,#00009f 5.6%,#0000b7 7.4%,#0000ba 9.2%,#000097 10.3%,#0000a2 12.4%,#000080 13.8%,#000080 14.6%,#0000d6 15.3%,#0000ed 16.7%,#0000df 17.4%,#0000b1 18.5%,#0000b6 20.3%,#00009d 21.4%,#000080 22.1%,#000080 22.5%,#00009c 23.2%,#00009a 24.6%,#0000c3 26.4%,#0000b5 27.2%,#0000c5 28.2%,#00009d 29.3%,#000094 30.8%,#00009e 32.6%,#000080 36.5%,#000080 64.9%,#009 68.5%,#000094 70.7%,#0000c9 72.5%,#0000f7 73.6%,#0019ff 75.7%,#0073ff 76.8%,#00a0ff 77.5%,#00e9ff 79.3%,#00feff 80.4%,#0bfff4 81.8%,#21ffde 82.6%,#57ffa8 83.6%,#72ff8d 84.7%,#f9ff06 92.3%,#ffbf00 94.8%,#ffa600 96.6%,#ff5b00)"></i><i style="background:linear-gradient(90deg,#0006ff,#0000f2 0.9%,#0000b0 2%,#0000a6 2.3%,#0000af 4.1%,#00009b 5.9%,#0000b1 9.2%,#00008e 10.3%,#00009c 12.4%,#000080 14.2%,#00008b 14.6%,#0000d4 15.3%,#0000ec 16.4%,#0000b8 18.2%,#0000b8 20%,#000087 22.5%,#000096 23.2%,#000096 24.3%,#0000ab 26.4%,#0000a7 27.5%,#0000b5 28.2%,#009 29.3%,#000098 33.6%,#000080 36.9%,#000080 64.9%,#000096 67.4%,#000094 68.5%,#0000a6 69.6%,#00009b 71%,#0000af 71.8%,#0000f4 73.2%,#0004ff 73.6%,#001eff 75.4%,#002bff 75.7%,#007bff 76.8%,#00b2ff 77.9%,#00f1ff 79.7%,#0ff 81.1%,#0cfff3 81.8%,#5fa 83.6%,#81ff7e 85.4%,#d1ff2e 89.7%,#d8ff27 90.8%,#fbff04 92.3%,#ffbf00 94.8%,#ffa700 96.6%,#ff6200)"></i><i style="background:linear-gradient(90deg,#0009ff,#0000fe 0.5%,#0000f0 0.9%,#0000b0 2%,#0000a4 2.3%,#000095 6.3%,#0000a7 9.2%,#000084 10.6%,#000097 12.4%,#00008c 14.2%,#000097 14.6%,#00c 15.3%,#0000e7 16.4%,#0000b7 17.8%,#0000ba 19.6%,#00008c 22.5%,#00009a 27.2%,#0000a8 28.2%,#000095 29.3%,#000097 33.6%,#000080 36.9%,#000080 64.9%,#00009c 67.8%,#000091 68.5%,#0000b7 69.6%,#00009f 70.7%,#00009c 71.4%,#00e 72.8%,#0001ff 73.2%,#002eff 75.4%,#0083ff 76.8%,#00e5ff 79.3%,#00fbff 81.1%,#01fffe 81.5%,#53ffac 83.6%,#8aff75 85.8%,#b6ff49 88.7%,#d2ff2d 89.7%,#d5ff2a 90.8%,#feff01 92.3%,#ffc000 94.8%,#ff6a00)"></i><i style="background:linear-gradient(90deg,#0000f3,#0000e0 0.9%,#0000a2 2.3%,#00008f 7%,#0000a1 8.8%,#000085 10.6%,#000090 14.2%,#0000c0 15.6%,#0000cd 16.4%,#0000a9 17.8%,#0000b2 19.6%,#00008c 22.5%,#000093 27.2%,#00009d 28.2%,#000090 29.3%,#000092 34%,#000080 36.9%,#000080 64.6%,#0000a1 67.8%,#009 68.5%,#0000c0 69.6%,#0000a5 70.7%,#00009f 71.4%,#0000f4 72.8%,#0005ff 73.2%,#002bff 75%,#00a2ff 77.5%,#00e5ff 79.3%,#00fcff 81.1%,#03fffc 81.5%,#4fb 83.3%,#87ff78 85.8%,#d0ff2f 89.7%,#d8ff27 90.8%,#fffd00 92.3%,#ffc500 94.8%,#ff6f00)"></i><i style="background:linear-gradient(90deg,#0000d3,#0000c7 0.9%,#0000a1 2.3%,#0000a1 4.1%,#000087 7%,#00009b 8.8%,#008 10.3%,#00008a 13.5%,#0000af 16.4%,#000098 18.2%,#0000a8 20%,#00008d 21.4%,#000089 22.8%,#000093 28.2%,#00008b 29.3%,#00008d 34.4%,#000080 36.9%,#000080 64.6%,#0000ab 68.5%,#0000c3 69.6%,#00a 70.7%,#0000a5 71.4%,#0000f8 72.8%,#003eff 75.4%,#00a3ff 77.5%,#00f2ff 79.7%,#0ff 81.1%,#6aff95 84.7%,#9bff64 86.9%,#d7ff28 90.5%,#fbff04 91.9%,#ff7300)"></i><i style="background:linear-gradient(90deg,#0000ae,#00009e 2%,#00009c 4.1%,#00008a 5.2%,#000082 7%,#000095 8.8%,#000083 12.1%,#00009e 16.7%,#00008e 18.2%,#00009d 20%,#008 21.4%,#000085 22.8%,#000080 64.6%,#0000a1 67.4%,#0000c5 69.2%,#0000ad 71.4%,#0000e9 72.5%,#0001ff 73.2%,#0052ff 75.7%,#00a4ff 77.5%,#00c4ff 78.6%,#00f6ff 79.7%,#00fdff 80.8%,#9cff63 86.9%,#c4ff3b 89.7%,#fcff03 91.9%,#ff7500)"></i><i style="background:linear-gradient(90deg,#00009d,#000097 2.7%,#000080 5.9%,#00008d 9.2%,#000080 12.8%,#000098 16.4%,#000089 18.2%,#000092 19.6%,#000082 22.5%,#000080 64.6%,#0000c3 69.2%,#0000af 71.4%,#00e 72.8%,#0004ff 73.2%,#004bff 75.4%,#00fcff 79.7%,#01fffe 80.4%,#10ffef 81.5%,#6fff90 84.7%,#7dff82 85.8%,#9bff64 86.9%,#c0ff3f 89.7%,#e2ff1d 90.8%,#fffc00 92.3%,#ff7600)"></i><i style="background:linear-gradient(90deg,#000091,#000080 5.6%,#000080 13.5%,#000093 16.4%,#000085 18.2%,#00008b 19.2%,#000080 21.8%,#000080 64.6%,#0000c3 69.6%,#0000b0 71.4%,#0000cf 72.5%,#0000e6 72.8%,#0009ff 73.2%,#0025ff 73.6%,#0052ff 75.4%,#008aff 76.4%,#00b0ff 77.9%,#00f6ff 79.3%,#02fffd 79.7%,#13ffec 81.5%,#74ff8b 84.7%,#bdff42 89.7%,#e1ff1e 90.8%,#ff0 92.3%,#ffdf00 93.7%,#f70)"></i><i style="background:linear-gradient(90deg,#000087,#000080 64.6%,#0000b5 67.8%,#0000c6 70.3%,#0000b3 71.4%,#0000b8 71.8%,#0000cb 72.5%,#0000e5 72.8%,#000bff 73.2%,#0029ff 73.6%,#0037ff 73.9%,#005aff 75.4%,#008eff 76.4%,#00b7ff 77.9%,#00fcff 79.3%,#18ffe7 81.5%,#73ff8c 84.7%,#9f6 86.9%,#bf4 89.7%,#df2 90.8%,#fffb00 92.6%,#f70)"></i><i style="background:linear-gradient(90deg,#000080,#000080 64.2%,#00009b 66.7%,#0000c2 68.5%,#0000bd 69.6%,#0000db 70.7%,#0000b8 71.4%,#0000b6 71.8%,#0000d0 72.5%,#0000e9 72.8%,#000aff 73.2%,#0035ff 73.9%,#09f 76.8%,#00f1ff 79%,#04fffb 79.3%,#20ffdf 80.4%,#2bffd4 82.6%,#80ff7f 85.4%,#b2ff4d 89.4%,#fffe00 92.6%,#ff7500)"></i><i style="background:linear-gradient(90deg,#000080,#000080 64.2%,#000094 66.7%,#0000ce 68.5%,#0000bc 69.6%,#0000ef 70.7%,#0000be 71.4%,#0000b8 71.8%,#00e 72.8%,#000aff 73.2%,#0059ff 74.6%,#08f 76.4%,#00ceff 77.9%,#00f5ff 79%,#08fff7 79.3%,#32ffcd 80.8%,#25ffda 82.6%,#89ff76 85.8%,#b0ff4f 89.4%,#e2ff1d 91.9%,#fdff02 92.6%,#ff7500)"></i><i style="background:linear-gradient(90deg,#000080,#000080 64.2%,#000093 65.6%,#000094 66.7%,#0000ba 67.8%,#00c 69.6%,#0000f1 70.7%,#0000d1 71.4%,#00c 71.8%,#0000d5 72.5%,#0000ec 72.8%,#000eff 73.2%,#002cff 73.6%,#0063ff 74.6%,#0081ff 75.7%,#008aff 76.8%,#00c8ff 77.9%,#00f3ff 79%,#03fffc 79.3%,#30ffcf 80.8%,#2cffd3 82.2%,#8f7 85.8%,#b6ff49 89.7%,#fdff02 93%,#ff8700 98.7%,#ff7800)"></i><i style="background:linear-gradient(90deg,#000080,#000080 64.2%,#000095 65.6%,#000094 66.7%,#0000bc 67.8%,#0000b6 68.5%,#0000d4 69.2%,#0000ed 70.3%,#0000f1 70.7%,#0000d7 72.5%,#0000eb 72.8%,#0014ff 73.2%,#0039ff 73.6%,#004fff 73.9%,#006dff 74.6%,#008aff 75.7%,#007dff 76.4%,#0082ff 76.8%,#00c1ff 77.9%,#00fdff 79.3%,#2bffd4 80.8%,#2bffd4 81.8%,#85ff7a 85.8%,#b4ff4b 89.7%,#d3ff2c 90.8%,#e4ff1b 92.3%,#fffe00 93.3%,#ffd800 94.8%,#ffb300 96.9%,#ff8700 98.7%,#ff7b00)"></i><i style="background:linear-gradient(90deg,#000080,#000080 64.2%,#000096 65.6%,#000092 66.7%,#0000b9 67.8%,#0000b1 68.5%,#0000e7 69.6%,#0000f5 71.8%,#0000e6 72.5%,#0000f7 72.8%,#0042ff 73.6%,#0079ff 74.6%,#0094ff 75.7%,#008fff 76.8%,#00d7ff 78.2%,#00fcff 79.3%,#2affd5 80.8%,#31ffce 81.8%,#50ffaf 82.9%,#a0ff5f 87.6%,#b3ff4c 89.7%,#d3ff2c 90.8%,#feff01 93.3%,#ffd900 94.8%,#ff8d00 98.7%,#ff8000)"></i><i style="background:linear-gradient(90deg,#000080,#000080 63.8%,#000096 65.6%,#00008d 66.7%,#0000b1 67.8%,#0000b6 68.5%,#0000ea 69.6%,#0002ff 72.5%,#0010ff 72.8%,#0049ff 73.6%,#0084ff 74.6%,#00acff 76.8%,#00efff 78.6%,#0ff 79.3%,#2bffd4 80.8%,#a3ff5c 87.6%,#b1ff4e 89.7%,#d2ff2d 90.8%,#fffe00 93.3%,#ffcf00 95.5%,#ff8500)"></i><i style="background:linear-gradient(90deg,#000080,#000080 63.8%,#000096 65.6%,#008 66.7%,#00008d 67.1%,#0000ea 69.6%,#0000e9 70.7%,#0000f4 71%,#0003ff 71.4%,#0027ff 72.8%,#008eff 74.6%,#00a2ff 75.7%,#00c9ff 76.8%,#00feff 79%,#07fff8 79.7%,#3dffc2 81.5%,#49ffb6 82.9%,#a5ff5a 87.6%,#aeff51 89.7%,#d1ff2e 90.8%,#fffe00 93%,#ff8a00)"></i><i style="background:linear-gradient(90deg,#000080,#000080 63.8%,#00009a 65.6%,#00008b 67.1%,#000092 67.4%,#0000d2 68.9%,#0000f5 71%,#0002ff 71.4%,#002cff 72.8%,#0093ff 74.6%,#00a7ff 75.7%,#00d1ff 76.8%,#00f9ff 78.6%,#0afff5 79.7%,#3affc5 81.5%,#4cffb3 83.3%,#a0ff5f 87.6%,#b3ff4c 89.7%,#fbff04 93%,#ffbe00 96.6%,#ff8e00)"></i><i style="background:linear-gradient(90deg,#000080,#000080 63.8%,#00009e 65.6%,#00008a 67.4%,#000098 67.8%,#0000cd 68.5%,#0000d6 68.9%,#0000d0 69.6%,#0000f6 71%,#0002ff 71.4%,#002fff 72.8%,#0095ff 74.6%,#00acff 75.7%,#00dfff 77.2%,#00faff 78.6%,#0dfff2 79.7%,#36ffc9 81.5%,#4bffb4 83.6%,#72ff8d 85.1%,#b8ff47 89.7%,#fdff02 93.3%,#ffc500 96.2%,#ff9200)"></i><i style="background:linear-gradient(90deg,#000080,#000080 63.5%,#00009d 65.6%,#000083 67.4%,#000090 67.8%,#00c 68.5%,#0000d4 68.9%,#0000cb 69.6%,#00f 71%,#003fff 73.2%,#0084ff 74.3%,#00a5ff 75%,#00f1ff 77.5%,#00fbff 78.2%,#37ffc8 81.5%,#46ffb9 83.6%,#70ff8f 85.1%,#fbff04 93.3%,#ffc700 96.2%,#ff9600)"></i><i style="background:linear-gradient(90deg,#000080,#000080 63.5%,#000096 65.6%,#000080 67.4%,#00008a 67.8%,#0000c1 68.5%,#0000d0 69.6%,#0000f7 70.7%,#0030ff 71.8%,#003aff 73.2%,#00beff 75.4%,#00e0ff 76.8%,#00fcff 77.5%,#28ffd7 80.8%,#3effc1 81.5%,#45ffba 83.6%,#74ff8b 85.4%,#f9ff06 93.3%,#ffdc00 95.1%,#ff9800)"></i><i style="background:linear-gradient(90deg,#000080,#000080 63.1%,#000091 65.3%,#000090 66.4%,#000080 67.4%,#000087 67.8%,#0000c4 68.9%,#00e 70.3%,#0002ff 70.7%,#0041ff 71.4%,#004bff 71.8%,#0035ff 72.8%,#0042ff 73.6%,#0cf 75.4%,#00d9ff 75.7%,#00dcff 76.4%,#00f6ff 77.2%,#07fff8 77.5%,#27ffd8 79.7%,#2cffd3 80.8%,#45ffba 81.5%,#3fffc0 83.3%,#7aff85 85.8%,#feff01 93.7%,#ffe400 94.8%,#ff9b00)"></i><i style="background:linear-gradient(90deg,#000080,#000080 63.5%,#000094 65.3%,#000094 66.7%,#000089 67.4%,#0000f2 70%,#0005ff 70.3%,#0059ff 71.4%,#005fff 71.8%,#0041ff 72.5%,#003bff 73.2%,#0048ff 73.6%,#00a2ff 74.6%,#00cdff 75.4%,#00dcff 76.4%,#00f5ff 77.2%,#06fff9 77.5%,#14ffeb 79.3%,#4affb5 81.5%,#49ffb6 83.3%,#e3ff1c 91.5%,#f8ff07 93.7%,#ffe000 95.1%,#ffc600 97.7%,#ffa000)"></i><i style="background:linear-gradient(90deg,#000080,#000080 63.5%,#000098 65.3%,#009 67.4%,#00a 68.5%,#0000ed 69.6%,#0005ff 70%,#0070ff 71.4%,#0071ff 71.8%,#0047ff 72.5%,#0042ff 73.2%,#0052ff 73.6%,#00abff 74.6%,#00beff 75%,#00f4ff 77.2%,#03fffc 77.5%,#0cfff3 79.7%,#4dffb2 81.5%,#5fa 83.3%,#93ff6c 87.6%,#ebff14 91.9%,#efff10 93.3%,#fcff03 94.1%,#ffd900 95.5%,#ffcb00 97.7%,#ffa500)"></i><i style="background:linear-gradient(90deg,#000080,#000080 63.1%,#00009b 65.3%,#00009c 67.1%,#0000ac 68.5%,#0000f6 69.6%,#0010ff 70%,#0080ff 71.4%,#0080ff 71.8%,#0052ff 72.5%,#004aff 72.8%,#0051ff 73.2%,#0061ff 73.6%,#00b6ff 74.6%,#0cf 75.4%,#00dcff 76.4%,#00feff 77.5%,#06fff9 79.7%,#52ffad 81.5%,#60ff9f 83.6%,#94ff6b 87.6%,#edff12 91.9%,#edff12 93.3%,#faff05 94.1%,#ffdb00 95.5%,#ffce00 97.7%,#ffab00)"></i><i style="background:linear-gradient(90deg,#000080,#000080 63.1%,#00008a 64.6%,#0000a0 65.6%,#000094 67.4%,#0000ba 68.5%,#0000fb 69.6%,#0026ff 70.3%,#0086ff 71.4%,#008aff 71.8%,#0064ff 72.5%,#0060ff 72.8%,#007bff 73.6%,#00c3ff 74.6%,#00faff 77.5%,#10ffef 79.7%,#5fffa0 81.8%,#60ff9f 83.6%,#7eff81 85.8%,#96ff69 86.9%,#a9ff56 88.7%,#ebff14 91.9%,#fcff03 94.1%,#ffe200 95.5%,#ffb100)"></i><i style="background:linear-gradient(90deg,#000080,#000080 63.1%,#000085 64.6%,#0000a1 65.6%,#000082 67.1%,#008 67.4%,#0001ff 69.6%,#003aff 70.7%,#08f 71.4%,#0092ff 71.8%,#0075ff 72.5%,#0076ff 72.8%,#00ceff 74.6%,#00d1ff 75.7%,#0ff 77.9%,#16ffe9 78.6%,#23ffdc 80%,#6f9 81.8%,#61ff9e 83.6%,#81ff7e 85.8%,#9eff61 86.9%,#afff50 89%,#e9ff16 91.9%,#ff0 94.1%,#ffc200 98.4%,#ffb600)"></i><i style="background:linear-gradient(90deg,#000080,#000080 62.8%,#000084 64.6%,#00009e 65.6%,#000080 66.7%,#000080 67.1%,#000082 67.4%,#0000f0 69.2%,#0007ff 69.6%,#002bff 70.3%,#007cff 71.4%,#08f 72.8%,#00c4ff 74.6%,#0ff 77.9%,#18ffe7 78.6%,#21ffde 79.7%,#68ff97 81.8%,#68ff97 83.6%,#82ff7d 85.8%,#9aff65 86.9%,#aeff51 89%,#e9ff16 91.9%,#feff01 94.1%,#ffc200 98.7%,#ffbc00)"></i><i style="background:linear-gradient(90deg,#000080,#000080 62.8%,#000086 64.6%,#00009a 65.6%,#000080 66.4%,#000080 67.4%,#0000b8 68.5%,#0000f0 69.2%,#000eff 69.6%,#006fff 71.4%,#0097ff 72.8%,#00b4ff 74.6%,#00ecff 76.4%,#00f8ff 77.5%,#27ffd8 79.7%,#64ff9b 81.5%,#82ff7d 85.8%,#b3ff4c 89.4%,#ebff14 91.9%,#fcff03 94.1%,#ffe000 95.9%,#ffc000)"></i><i style="background:linear-gradient(90deg,#000080,#000080 62.8%,#000086 64.6%,#000097 65.6%,#000080 66.4%,#000080 67.1%,#000084 67.4%,#0000ba 68.5%,#0000f5 69.2%,#0017ff 69.6%,#005bff 70.7%,#0074ff 71.8%,#009aff 72.5%,#00adff 74.6%,#00e2ff 75.7%,#00fbff 77.5%,#2cffd3 79.7%,#68ff97 81.5%,#94ff6b 87.6%,#ebff14 91.9%,#fffe00 94.4%,#ffe000 95.9%,#ffc400)"></i><i style="background:linear-gradient(90deg,#000080,#000080 62.8%,#000085 64.6%,#000096 65.6%,#000085 66.7%,#00009a 67.4%,#0000e8 68.9%,#0004ff 69.2%,#0056ff 70.3%,#007bff 71%,#00a1ff 72.5%,#00a0ff 73.6%,#00abff 74.3%,#00b5ff 74.6%,#00f4ff 75.7%,#0ff 76.4%,#08fff7 77.9%,#31ffce 79.7%,#68ff97 81.5%,#6aff95 82.9%,#84ff7b 84.7%,#7bff84 85.8%,#91ff6e 87.6%,#e7ff18 91.9%,#fffd00 94.8%,#ffe700 95.9%,#ffc500)"></i><i style="background:linear-gradient(90deg,#000080,#000080 62.8%,#000084 64.6%,#0000a5 67.1%,#0000fd 68.9%,#008dff 71%,#00a7ff 72.5%,#009aff 73.6%,#00a2ff 73.9%,#00beff 74.6%,#00f2ff 75.4%,#04fffb 75.7%,#0dfff2 77.9%,#49ffb6 80.8%,#6dff92 81.8%,#6f9 82.9%,#86ff79 84.7%,#7f8 85.8%,#8fff70 86.9%,#94ff6b 87.9%,#e3ff1c 91.9%,#fcff03 94.8%,#ffc600)"></i><i style="background:linear-gradient(90deg,#000080,#000080 62.4%,#00008e 64.6%,#0000b0 66%,#0000c2 67.4%,#0000f1 68.5%,#0004ff 68.9%,#007dff 70.7%,#009bff 71.4%,#00a8ff 72.5%,#009fff 73.6%,#00b3ff 74.3%,#00e7ff 75.4%,#00feff 76.1%,#18ffe7 78.6%,#48ffb7 80.8%,#62ff9d 81.5%,#5fffa0 82.9%,#80ff7f 84.7%,#7dff82 85.8%,#95ff6a 87.9%,#d7ff28 91.5%,#f6ff09 94.1%,#fffe00 95.1%,#ffd900 97.7%,#ffda00 98.7%,#ffca00)"></i><i style="background:linear-gradient(90deg,#000080,#000080 62.4%,#00009d 64.6%,#0000d4 66.4%,#0000ce 67.4%,#0000f2 68.5%,#0005ff 68.9%,#07f 70.7%,#0097ff 71.4%,#00aeff 73.9%,#00f9ff 76.4%,#13ffec 78.6%,#35ffca 79.7%,#5affa5 81.5%,#57ffa8 82.9%,#82ff7d 85.4%,#9fff60 88.7%,#c8ff37 90.8%,#d6ff29 92.6%,#f6ff09 94.1%,#ff0 95.1%,#ffd800 97.7%,#fd0 98.7%,#ffcf00)"></i><i style="background:linear-gradient(90deg,#000080,#000080 62.1%,#00009f 64.2%,#0000e7 66%,#0000eb 66.7%,#0000db 67.4%,#0000f5 68.5%,#0008ff 68.9%,#0074ff 70.7%,#0092ff 71.4%,#00cfff 75.7%,#00efff 76.4%,#00feff 77.2%,#13ffec 78.6%,#35ffca 79.7%,#54ffab 81.5%,#5fa 82.9%,#8bff74 85.8%,#8bff74 86.9%,#a1ff5e 89%,#c4ff3b 90.8%,#d2ff2d 92.6%,#f5ff0a 94.1%,#fffe00 95.5%,#ffd900 97.7%,#ffdf00 98.7%,#ffd500)"></i><i style="background:linear-gradient(90deg,#000080,#000080 62.1%,#000093 63.8%,#0000f1 66%,#0000f7 66.7%,#0000e9 67.8%,#0000fc 68.5%,#0083ff 71%,#00c8ff 74.3%,#00d3ff 75.7%,#00f3ff 76.8%,#00fbff 77.5%,#31ffce 79.3%,#53ffac 81.5%,#6eff91 84.7%,#8f7 85.8%,#9fff60 89%,#ecff13 93.7%,#fffd00 95.9%,#ffda00 97.7%,#fd0)"></i><i style="background:linear-gradient(90deg,#000080,#000080 61.7%,#000090 63.8%,#0000ef 65.6%,#0000f9 66%,#0000fb 68.2%,#0015ff 68.9%,#0079ff 70.7%,#0094ff 72.5%,#00d9ff 74.6%,#00daff 75.7%,#00f5ff 77.5%,#06fff9 77.9%,#2dffd2 78.6%,#35ffca 79%,#43ffbc 80.8%,#67ff98 82.6%,#6cff93 84.7%,#84ff7b 85.8%,#9eff61 89%,#e8ff17 93.7%,#feff01 95.9%,#ffda00 98%,#ffe600)"></i><i style="background:linear-gradient(90deg,#000080,#000080 61.7%,#000091 63.8%,#0000f5 65.6%,#0000fc 66%,#0019ff 68.5%,#0073ff 70.7%,#008bff 72.5%,#0bf 73.6%,#00daff 74.6%,#00f7ff 77.5%,#06fff9 77.9%,#34ffcb 79%,#4effb1 81.5%,#6aff95 82.9%,#6dff92 84.7%,#85ff7a 85.8%,#b1ff4e 90.5%,#e0ff1f 93%,#fcff03 95.9%,#ffda00 98%,#ffe600)"></i><i style="background:linear-gradient(90deg,#000080,#000080 61.7%,#000093 63.8%,#0000f4 65.6%,#0000fe 66.7%,#001dff 67.4%,#002cff 68.5%,#0056ff 69.6%,#0079ff 71.4%,#0082ff 72.5%,#00b9ff 73.6%,#00ceff 74.3%,#00fdff 76.4%,#00fdff 77.5%,#2dffd2 79%,#48ffb7 80.4%,#73ff8c 84.7%,#89ff76 85.8%,#8fff70 87.2%,#b4ff4b 90.5%,#e5ff1a 93.3%,#fbff04 95.9%,#ffda00 98%,#ffe200)"></i><i style="background:linear-gradient(90deg,#000080,#000080 61.3%,#000096 63.8%,#0000b7 64.6%,#0000eb 65.3%,#0000f7 65.6%,#0000f9 66.7%,#002bff 67.8%,#0060ff 69.6%,#0080ff 72.5%,#00b6ff 73.6%,#00f7ff 75.7%,#05fffa 77.5%,#53ffac 80.8%,#50ffaf 81.8%,#62ff9d 82.6%,#8dff72 85.8%,#91ff6e 87.6%,#eaff15 93.7%,#faff05 95.9%,#ffdc00 98%,#ffdf00)"></i><i style="background:linear-gradient(90deg,#000080,#000080 61.3%,#00009a 63.8%,#0000be 64.6%,#0000f8 65.3%,#0001ff 67.1%,#0014ff 67.8%,#0045ff 68.5%,#0053ff 68.9%,#0071ff 70.7%,#0094ff 71.8%,#009aff 72.8%,#00f8ff 75.7%,#1fffe0 78.6%,#57ffa8 80.8%,#5fa 81.8%,#6eff91 82.9%,#89ff76 85.4%,#93ff6c 87.6%,#eaff15 93.7%,#f2ff0d 95.5%,#ff0 96.2%,#ffe200 97.7%,#ffe100)"></i><i style="background:linear-gradient(90deg,#000080,#000080 61.3%,#00009e 63.8%,#0000af 64.2%,#0005ff 65.3%,#0012ff 66%,#0008ff 66.7%,#0000e8 67.4%,#0000fb 67.8%,#004dff 68.5%,#005dff 68.9%,#0069ff 70%,#0af 71.8%,#00a9ff 72.8%,#00bcff 73.9%,#00f7ff 75.7%,#28ffd7 79%,#59ffa6 80.8%,#57ffa8 81.5%,#74ff8b 82.9%,#9f6 87.9%,#e9ff16 93.7%,#ef1 95.5%,#fff700 96.6%,#ffe600 97.7%,#ffe300)"></i><i style="background:linear-gradient(90deg,#000080,#000080 61.3%,#000095 63.5%,#00b 64.2%,#0000f7 64.9%,#0008ff 65.3%,#0003ff 66.7%,#0000ec 67.4%,#0003ff 67.8%,#0054ff 68.5%,#0061ff 68.9%,#005dff 69.6%,#00b1ff 71.8%,#00aeff 72.8%,#00d2ff 74.6%,#00fdff 76.1%,#20ffdf 78.6%,#51ffae 80.4%,#5dffa2 81.8%,#78ff87 82.9%,#97ff68 87.6%,#e8ff17 93.7%,#ebff14 95.5%,#fffb00 96.6%,#ffe900 97.7%,#ffe500)"></i><i style="background:linear-gradient(90deg,#000080,#000080 61.3%,#000094 63.5%,#0000a6 63.8%,#0000f6 64.6%,#000aff 64.9%,#0000f6 67.1%,#0003ff 67.4%,#005aff 68.5%,#0060ff 68.9%,#0057ff 69.6%,#00a5ff 71.4%,#00afff 72.8%,#00c9ff 73.6%,#00f9ff 76.1%,#1cffe3 78.6%,#48ffb7 79.7%,#59ffa6 81.5%,#74ff8b 82.6%,#8fff70 84.7%,#98ff67 87.6%,#e7ff18 93.7%,#ef1 95.9%,#ff0 96.6%,#ffea00 97.7%,#ffe500)"></i><i style="background:linear-gradient(90deg,#000080,#000080 61%,#000095 63.5%,#0000ab 63.8%,#000bff 64.6%,#0015ff 64.9%,#0005ff 65.3%,#0000eb 65.6%,#0000e5 66%,#0000eb 66.7%,#0000fb 67.1%,#005dff 68.5%,#0057ff 69.6%,#008fff 70.7%,#00a3ff 71.4%,#00a5ff 72.5%,#00d4ff 73.6%,#00feff 76.4%,#1affe5 78.6%,#51ffae 79.7%,#53ffac 81.1%,#76ff89 82.6%,#93ff6c 84.7%,#9f6 87.6%,#d4ff2b 91.9%,#e6ff19 93.7%,#e9ff16 95.5%,#fffa00 96.9%,#ffeb00 97.7%,#ffe700)"></i><i style="background:linear-gradient(90deg,#000080,#000080 61%,#00009d 63.5%,#0000b3 63.8%,#0000fb 64.6%,#00f 65.3%,#00e 66%,#0000f6 66.7%,#0002ff 67.1%,#005bff 68.5%,#0067ff 68.9%,#006fff 69.6%,#00a5ff 71.4%,#00a8ff 72.5%,#00deff 73.9%,#0ff 76.1%,#18ffe7 78.2%,#4dffb2 79.7%,#53ffac 81.1%,#82ff7d 83.3%,#98ff67 87.6%,#baff45 89.4%,#d2ff2d 92.6%,#e6ff19 93.7%,#e8ff17 95.5%,#fcff03 96.6%,#ffed00 97.7%,#ffea00)"></i><i style="background:linear-gradient(90deg,#000080,#000080 61%,#009 63.1%,#0000f2 64.9%,#0000fb 66%,#001bff 67.4%,#006eff 68.9%,#008aff 69.6%,#00b2ff 71.8%,#00aeff 72.5%,#00d8ff 73.6%,#00f9ff 75%,#1cffe3 78.2%,#46ffb9 79.7%,#57ffa8 81.5%,#86ff79 83.6%,#92ff6d 87.2%,#bf4 89.4%,#cdff32 92.6%,#e5ff1a 93.7%,#e7ff18 95.5%,#fdff02 96.6%,#ffec00 98%,#ffed00)"></i><i style="background:linear-gradient(90deg,#000080,#000080 60.6%,#000094 62.8%,#0000ec 64.9%,#0000fd 65.6%,#0020ff 67.4%,#0098ff 69.6%,#0bf 72.5%,#00e1ff 73.6%,#00f7ff 74.6%,#02fffd 75%,#25ffda 78.6%,#40ffbf 79.7%,#58ffa7 81.5%,#83ff7c 83.3%,#97ff68 87.6%,#bcff43 89.7%,#c8ff37 92.3%,#e3ff1c 93.7%,#e4ff1b 95.5%,#fffc00 96.9%,#ffea00 98.7%,#ffed00)"></i><i style="background:linear-gradient(90deg,#000080,#000080 60.6%,#0000a3 63.1%,#0000fc 65.3%,#02f 66.7%,#02f 67.4%,#002fff 67.8%,#009cff 69.6%,#009dff 70.7%,#0ef 73.6%,#00fdff 74.6%,#2fd 76.8%,#2bffd4 79%,#5cffa3 81.5%,#83ff7c 82.9%,#84ff7b 84.7%,#9dff62 87.9%,#b8ff47 89.7%,#c2ff3d 91.9%,#e1ff1e 93.7%,#e3ff1c 95.9%,#fdff02 96.9%,#ffeb00 98.7%,#ffeb00)"></i><i style="background:linear-gradient(90deg,#000080,#000080 60.6%,#0000a7 63.1%,#0000f6 64.9%,#0002ff 65.3%,#002bff 66.7%,#0026ff 67.4%,#0031ff 67.8%,#009eff 69.6%,#009bff 70.7%,#00e6ff 72.8%,#0ff 73.9%,#2affd5 76.8%,#2affd5 79%,#87ff78 82.9%,#86ff79 85.4%,#9eff61 86.9%,#a0ff5f 88.7%,#b4ff4b 89.7%,#bdff42 91.5%,#dfff20 93.7%,#deff21 95.9%,#f9ff06 96.9%,#ff0 97.7%,#ffed00 98.7%,#ffe900)"></i><i style="background:linear-gradient(90deg,#000080,#000080 60.3%,#0000a7 63.1%,#0000f6 64.9%,#0006ff 65.3%,#0031ff 66.7%,#003eff 67.8%,#0056ff 68.5%,#0097ff 69.6%,#009dff 70.7%,#00c5ff 71.8%,#0ff 73.9%,#09fff6 74.6%,#2affd5 75.7%,#35ffca 79.7%,#80ff7f 82.9%,#79ff86 85.1%,#9cff63 87.6%,#c0ff3f 91.9%,#dfff20 93.7%,#d6ff29 95.5%,#ff0 97.3%,#ffe700)"></i><i style="background:linear-gradient(90deg,#000080,#000080 60.3%,#0000ac 63.5%,#0000f3 64.9%,#0009ff 65.3%,#001bff 65.6%,#0049ff 67.4%,#0051ff 68.5%,#008fff 69.6%,#009fff 70.7%,#00d0ff 71.8%,#00dcff 72.8%,#0ff 73.9%,#0ffff0 74.6%,#3bffc4 75.7%,#2bffd4 76.8%,#3fffc0 78.6%,#31ffce 79.7%,#78ff87 82.9%,#7bff84 83.6%,#6bff94 84.7%,#7dff82 86.5%,#9fff60 87.9%,#c5ff3a 92.6%,#dfff20 93.7%,#d3ff2c 95.5%,#fffd00 97.3%,#ffe600)"></i><i style="background:linear-gradient(90deg,#000080,#000080 60.3%,#0000b9 63.8%,#0000ce 64.6%,#0000fb 65.3%,#0014ff 65.6%,#002fff 66.7%,#0051ff 67.4%,#005aff 68.5%,#0089ff 69.6%,#00a2ff 70.7%,#0cf 71.4%,#00dcff 72.8%,#00f9ff 73.6%,#17ffe8 74.6%,#45ffba 75.7%,#3fc 76.8%,#40ffbf 78.6%,#2cffd3 79.7%,#70ff8f 82.6%,#76ff89 83.6%,#65ff9a 84.7%,#74ff8b 86.5%,#9eff61 87.9%,#c2ff3d 92.6%,#dcff23 93.7%,#d2ff2d 95.5%,#fffd00 97.3%,#ffe600)"></i><i style="background:linear-gradient(90deg,#000080,#000080 60.3%,#000091 61.7%,#0000bf 63.5%,#0000b6 64.6%,#0001ff 65.6%,#001dff 66.7%,#005cff 67.8%,#0096ff 70.3%,#00d7ff 71.8%,#00daff 72.5%,#00f1ff 73.2%,#03fffc 73.6%,#4fb 75.7%,#36ffc9 78.6%,#26ffd9 79.7%,#5effa1 81.5%,#6fff90 82.6%,#6f9 84.7%,#73ff8c 86.5%,#9eff61 88.3%,#a1ff5e 90.1%,#c0ff3f 91.9%,#bfff40 92.6%,#d7ff28 93.7%,#d6ff29 95.5%,#feff01 97.3%,#ffe700)"></i><i style="background:linear-gradient(90deg,#000080,#000080 60.3%,#000093 61.7%,#0000cb 63.5%,#0000c6 63.8%,#0000a5 64.6%,#0000f5 65.6%,#0000fd 66.4%,#000dff 66.7%,#005bff 67.8%,#007bff 68.5%,#007cff 69.6%,#00a3ff 70.7%,#00caff 71.4%,#00dcff 72.5%,#00f6ff 73.2%,#09fff6 73.6%,#3affc5 75.4%,#43ffbc 76.1%,#45ffba 76.8%,#2effd1 77.9%,#24ffdb 79.7%,#60ff9f 81.5%,#6fff90 82.6%,#6bff94 84.7%,#76ff89 86.5%,#a2ff5d 88.7%,#9bff64 90.1%,#c0ff3f 91.9%,#bdff42 92.6%,#d3ff2c 93.7%,#d0ff2f 94.8%,#fffe00 97.7%,#ffe800)"></i><i style="background:linear-gradient(90deg,#000080,#000080 60.3%,#000094 61.7%,#0000c8 63.5%,#0000b8 64.6%,#0000f7 65.3%,#0014ff 65.6%,#0027ff 66.7%,#0075ff 68.5%,#008eff 70%,#00d0ff 71.4%,#00daff 72.5%,#00f2ff 73.2%,#04fffb 73.6%,#38ffc7 75.4%,#42ffbd 76.1%,#43ffbc 76.8%,#2cffd3 77.9%,#2affd5 79.3%,#6cff93 82.6%,#7fff80 86.9%,#9fff60 88.7%,#9dff62 89.7%,#d2ff2d 93.7%,#daff25 95.5%,#feff01 97.7%,#ffe400)"></i><i style="background:linear-gradient(90deg,#000080,#000080 60.3%,#0000d0 64.6%,#0000f0 64.9%,#0018ff 65.3%,#0035ff 65.6%,#007fff 69.2%,#00b2ff 70.7%,#00d6ff 71.4%,#00dfff 72.8%,#00fcff 73.6%,#3fffc0 75.7%,#3fffc0 76.8%,#2affd5 77.9%,#3fc 79.3%,#68ff97 82.6%,#73ff8c 84.7%,#85ff7a 85.8%,#83ff7c 87.6%,#9bff64 88.7%,#d2ff2d 93.7%,#df2 95.9%,#fdff02 97.7%,#ffe000)"></i><i style="background:linear-gradient(90deg,#000080,#000080 59.9%,#00009b 62.1%,#0000e7 64.6%,#0009ff 64.9%,#0047ff 65.6%,#006aff 68.5%,#00d5ff 71.4%,#00d9ff 72.5%,#00faff 73.6%,#16ffe9 74.6%,#3bffc4 75.7%,#2bffd4 77.5%,#2dffd2 78.6%,#64ff9b 82.6%,#74ff8b 84.7%,#8aff75 85.8%,#82ff7d 87.6%,#9aff65 88.7%,#b5ff4a 90.8%,#dfff20 95.9%,#fdff02 97.7%,#ffe200)"></i><i style="background:linear-gradient(90deg,#000080,#000080 59.9%,#000098 62.1%,#0000c5 63.5%,#0000fd 64.6%,#0045ff 65.6%,#007cff 69.2%,#00c2ff 71%,#00daff 72.5%,#0ff 73.6%,#34ffcb 75.7%,#27ffd8 76.8%,#29ffd6 78.6%,#58ffa7 81.5%,#6bff94 84.4%,#89ff76 85.8%,#85ff7a 87.6%,#9cff63 88.7%,#9dff62 89.7%,#fffd00 97.7%,#ffea00)"></i><i style="background:linear-gradient(90deg,#000080,#000080 59.9%,#000094 62.1%,#0000b8 63.1%,#0000f9 64.2%,#003aff 65.3%,#0080ff 69.6%,#00b5ff 70.7%,#00c7ff 71.8%,#00f6ff 73.2%,#05fffa 73.6%,#2cffd3 75.4%,#1affe5 76.8%,#2affd5 77.9%,#25ffda 78.6%,#5dffa2 81.5%,#5cffa3 83.6%,#89ff76 85.8%,#82ff7d 86.9%,#9eff61 88.7%,#9aff65 90.1%,#c5ff3a 92.6%,#feff01 97.3%,#fff200)"></i><i style="background:linear-gradient(90deg,#000080,#000080 59.9%,#000093 62.1%,#0000c4 63.5%,#0000f8 64.2%,#0040ff 65.3%,#006fff 69.2%,#00bdff 71%,#00dcff 72.5%,#00f7ff 73.2%,#25ffda 75.4%,#1bffe4 76.8%,#25ffda 79%,#59ffa6 81.5%,#5cffa3 83.6%,#93ff6c 85.8%,#8aff75 87.6%,#a6ff59 90.8%,#feff01 97.3%,#fff200)"></i><i style="background:linear-gradient(90deg,#000080,#000080 59.9%,#00008e 61.7%,#0000a6 62.8%,#0000bd 63.5%,#0000f1 64.2%,#000fff 64.6%,#0041ff 65.3%,#003fff 66.7%,#05f 67.4%,#0063ff 68.9%,#007aff 69.6%,#00d0ff 71.4%,#0df 72.5%,#00f9ff 73.2%,#10ffef 73.9%,#0bfff4 74.6%,#2fd 75.7%,#2fd 79%,#4fffb0 80.8%,#60ff9f 83.6%,#9cff63 85.8%,#8dff72 87.6%,#92ff6d 88.7%,#c4ff3b 92.6%,#c6ff39 93.7%,#e3ff1c 95.1%,#fffb00 97.7%,#fff100)"></i><i style="background:linear-gradient(90deg,#000080,#000080 59.9%,#0000ad 63.1%,#0000ba 63.5%,#00e 64.2%,#000bff 64.6%,#003dff 65.3%,#003eff 66.7%,#0058ff 67.4%,#06f 68.9%,#007eff 69.6%,#00d4ff 71.4%,#00dfff 72.5%,#00faff 73.2%,#0efff1 73.9%,#06fff9 74.6%,#1effe1 75.7%,#2fd 79%,#50ffaf 80.8%,#6f9 83.6%,#9eff61 85.8%,#91ff6e 88.7%,#fffe00 97.7%,#fff100)"></i><i style="background:linear-gradient(90deg,#000080,#000080 59.9%,#0000ae 63.1%,#0000bd 63.5%,#0000f1 64.2%,#000eff 64.6%,#0039ff 65.3%,#0074ff 69.2%,#00baff 70.7%,#00f9ff 73.2%,#09fff6 73.9%,#03fffc 74.6%,#19ffe6 75.7%,#0ffff0 76.8%,#1fffe0 78.6%,#4affb5 80.4%,#54ffab 81.8%,#96ff69 85.8%,#98ff67 89%,#ebff14 95.9%,#feff01 98%,#fff400)"></i><i style="background:linear-gradient(90deg,#000080,#000080 59.9%,#0000af 63.1%,#0000f5 64.2%,#0035ff 65.3%,#005aff 66.7%,#0081ff 69.6%,#00c1ff 70.7%,#00d0ff 71.8%,#00f8ff 73.2%,#02fffd 74.6%,#15ffea 75.7%,#03fffc 76.8%,#21ffde 78.6%,#46ffb9 79.7%,#57ffa8 81.8%,#8bff74 85.4%,#9eff61 87.9%,#9bff64 89.7%,#c1ff3e 91.5%,#beff41 92.6%,#df2 93.7%,#dbff24 94.8%,#ecff13 95.9%,#fff700)"></i><i style="background:linear-gradient(90deg,#000080,#000080 59.5%,#0000b4 63.1%,#0000f3 64.2%,#000dff 64.6%,#0032ff 65.3%,#06f 67.4%,#0070ff 68.5%,#00b1ff 70.3%,#00cdff 71.8%,#00fbff 73.2%,#17ffe8 75.7%,#0bfff4 76.8%,#3dffc2 79.7%,#4bffb4 81.5%,#78ff87 83.6%,#9aff65 87.9%,#9aff65 89.7%,#c0ff3f 91.5%,#c2ff3d 93%,#d9ff26 93.7%,#fdff02 98.4%,#fffa00)"></i><i style="background:linear-gradient(90deg,#000080,#000080 59.5%,#0000ba 63.1%,#0000c4 63.5%,#0000ef 64.2%,#0008ff 64.6%,#0030ff 65.3%,#0042ff 66.7%,#006aff 67.4%,#0072ff 68.5%,#00b9ff 69.6%,#00b7ff 71%,#00f0ff 72.8%,#01fffe 73.2%,#12ffed 73.9%,#18ffe7 76.8%,#38ffc7 80.8%,#41ffbe 81.5%,#74ff8b 83.3%,#8bff74 85.4%,#9bff64 89.7%,#b7ff48 90.8%,#bf4 92.6%,#ecff13 95.9%,#edff12 96.9%,#fffe00 98.4%,#fffc00)"></i><i style="background:linear-gradient(90deg,#000080,#000080 59.5%,#0000c0 63.1%,#0000f1 64.2%,#0006ff 64.6%,#002aff 65.3%,#0039ff 66.7%,#006cff 67.4%,#0079ff 67.8%,#0079ff 68.5%,#00c8ff 69.6%,#00b0ff 70.7%,#00f3ff 72.8%,#04fffb 73.2%,#19ffe6 74.3%,#3fc 80.8%,#3dffc2 81.5%,#7eff81 83.6%,#9aff65 89.4%,#b6ff49 90.8%,#bfff40 93%,#ecff13 95.9%,#ecff13 96.9%,#fffd00 98.4%,#fffc00)"></i><i style="background:linear-gradient(90deg,#000080,#000080 59.5%,#0000b1 62.4%,#0000c7 63.1%,#0000fd 64.2%,#002fff 66.4%,#007aff 67.8%,#08f 68.5%,#00bdff 69.6%,#00c6ff 71%,#00f8ff 72.8%,#18ffe7 74.6%,#19ffe6 76.8%,#41ffbe 81.5%,#87ff78 83.6%,#84ff7b 84.7%,#9fff60 89.4%,#d5ff2a 94.8%,#eaff15 95.9%,#ebff14 96.9%,#feff01 98.4%,#fffb00)"></i><i style="background:linear-gradient(90deg,#000080,#000080 59.5%,#0000a5 61.3%,#0000ae 62.4%,#0000ba 62.8%,#00f 63.8%,#000eff 65.6%,#0074ff 67.8%,#009cff 68.9%,#00a8ff 69.6%,#00d0ff 70.7%,#00fdff 72.8%,#19ffe6 75.4%,#15ffea 76.8%,#42ffbd 80%,#49ffb6 81.5%,#8dff72 83.6%,#82ff7d 84.7%,#8eff71 86.5%,#a0ff5f 87.9%,#acff53 90.8%,#d1ff2e 93.7%,#d1ff2e 94.8%,#e9ff16 95.9%,#fffa00)"></i><i style="background:linear-gradient(90deg,#000080,#000080 59.5%,#0000a8 61.3%,#0000ad 62.4%,#0000b6 62.8%,#0000ea 63.5%,#0000f7 63.8%,#00f 64.9%,#0013ff 65.6%,#008dff 68.5%,#00a1ff 69.6%,#00d1ff 70.7%,#0ff 72.5%,#14ffeb 74.6%,#19ffe6 76.8%,#50ffaf 81.5%,#8cff73 83.6%,#80ff7f 84.7%,#8dff72 86.5%,#d1ff2e 93.7%,#d0ff2f 94.8%,#e7ff18 95.9%,#fffb00)"></i><i style="background:linear-gradient(90deg,#000080,#000080 59.5%,#000089 60.3%,#0000b0 61.7%,#0000b2 62.8%,#0000de 63.5%,#0000de 64.6%,#0000f0 64.9%,#0009ff 65.3%,#003bff 66.4%,#0053ff 67.4%,#0096ff 68.9%,#00a2ff 69.6%,#00fbff 72.1%,#10ffef 72.8%,#02fffd 73.6%,#17ffe8 74.6%,#1fe 75.7%,#2fffd0 77.5%,#57ffa8 81.5%,#89ff76 83.6%,#7fff80 84.7%,#8eff71 86.9%,#b5ff4a 90.1%,#c0ff3f 92.6%,#d0ff2f 93.7%,#d0ff2f 94.8%,#e8ff17 96.2%,#fffc00)"></i><i style="background:linear-gradient(90deg,#000080,#000080 59.5%,#000091 60.6%,#0000b5 61.7%,#0000b2 62.8%,#0000d7 63.5%,#0000ce 64.6%,#0001ff 65.3%,#0030ff 66%,#0045ff 66.7%,#004cff 67.4%,#0098ff 68.9%,#00daff 71.4%,#00fcff 72.1%,#14ffeb 72.8%,#0ff 73.6%,#17ffe8 74.6%,#0dfff2 75.7%,#36ffc9 77.5%,#50ffaf 80.8%,#85ff7a 83.6%,#7eff81 84.7%,#8eff71 86.9%,#b9ff46 90.1%,#beff41 92.6%,#ebff14 96.6%,#fffe00)"></i><i style="background:linear-gradient(90deg,#000080,#000080 59.2%,#00008a 60.3%,#0000b9 61.7%,#0000bc 62.8%,#0000d9 63.5%,#0000da 64.9%,#0000f8 65.6%,#003bff 66.7%,#0045ff 67.4%,#00a4ff 68.9%,#00d3ff 71.4%,#00f2ff 72.1%,#05fffa 72.5%,#0dfff2 72.8%,#07fff8 73.9%,#14ffeb 74.6%,#0cfff3 75.7%,#35ffca 77.5%,#51ffae 80.8%,#79ff86 83.3%,#94ff6b 87.2%,#b5ff4a 89.7%,#b9ff46 91.5%,#fcff03)"></i><i style="background:linear-gradient(90deg,#000080,#000080 59.2%,#00008b 60.3%,#0000bd 61.7%,#0000c1 62.4%,#00d 63.5%,#0000db 64.6%,#0000c8 65.3%,#0000d3 65.6%,#0000f4 66%,#0031ff 66.7%,#003eff 67.4%,#0054ff 67.8%,#0098ff 68.5%,#00bcff 69.2%,#00cdff 71.4%,#00f9ff 72.5%,#1fe 74.6%,#0bfff4 75.7%,#34ffcb 77.5%,#36ffc9 78.6%,#53ffac 79.7%,#53ffac 80.8%,#6fff90 82.6%,#98ff67 87.2%,#b1ff4e 89%,#afff50 91.2%,#caff35 93%,#f9ff06)"></i><i style="background:linear-gradient(90deg,#000080,#000080 59.2%,#00008c 60.3%,#0000be 61.7%,#0000dc 63.1%,#0000d7 64.2%,#0000be 65.3%,#0000cb 65.6%,#00e 66%,#0013ff 66.4%,#002cff 66.7%,#0037ff 67.4%,#004aff 67.8%,#009eff 68.9%,#00c0ff 69.6%,#00bdff 70.7%,#00f7ff 72.5%,#13ffec 74.6%,#07fff8 75.7%,#14ffeb 76.4%,#3cffc3 77.5%,#39ffc6 78.6%,#52ffad 79.7%,#70ff8f 82.2%,#75ff8a 83.6%,#b3ff4c 89%,#abff54 90.8%,#ceff31 93%,#f7ff08)"></i><i style="background:linear-gradient(90deg,#000080,#000080 59.2%,#000096 60.6%,#0000be 61.7%,#0000e2 63.1%,#0000c1 64.6%,#0000bd 65.3%,#0000f3 66%,#002bff 66.7%,#003dff 67.8%,#00b2ff 69.6%,#00b0ff 70.7%,#00f1ff 71.8%,#01fffe 72.8%,#16ffe9 74.6%,#02fffd 75.7%,#15ffea 76.4%,#48ffb7 77.5%,#40ffbf 79%,#74ff8b 81.8%,#78ff87 83.6%,#bf4 89.7%,#b0ff4f 91.2%,#d8ff27 93.7%,#e0ff1f 97.7%,#f6ff09)"></i><i style="background:linear-gradient(90deg,#000080,#000080 59.2%,#000094 60.6%,#0000db 63.1%,#00b 64.6%,#0000bc 64.9%,#0000c5 65.3%,#00f 66%,#0032ff 66.7%,#0037ff 67.4%,#004dff 68.2%,#0af 69.6%,#0af 70.7%,#00ebff 71.4%,#00fcff 71.8%,#01fffe 72.8%,#19ffe6 74.6%,#04fffb 75.7%,#18ffe7 76.4%,#4dffb2 77.5%,#43ffbc 79%,#79ff86 81.8%,#7dff82 84%,#bcff43 89.7%,#b2ff4d 91.2%,#d7ff28 93.3%,#dcff23 96.9%,#f8ff07)"></i><i style="background:linear-gradient(90deg,#000080,#000080 59.2%,#0000a9 62.1%,#00c 63.5%,#0000c7 65.3%,#0000fd 66%,#0037ff 66.7%,#0062ff 68.2%,#00b1ff 69.6%,#00bcff 70.7%,#00e8ff 71.4%,#00fdff 72.5%,#0ffff0 73.6%,#12ffed 75.7%,#45ffba 77.5%,#41ffbe 78.6%,#5effa1 79.7%,#79ff86 81.8%,#7bff84 83.6%,#96ff69 85.8%,#a3ff5c 88.7%,#b7ff48 89.7%,#b5ff4a 91.5%,#d3ff2c 93%,#e1ff1e 97.7%,#f5ff0a 98.7%,#fbff04)"></i><i style="background:linear-gradient(90deg,#000080,#000080 59.2%,#000095 62.4%,#0000c5 63.5%,#00c 63.8%,#0000c9 65.3%,#0000d9 65.6%,#0000fa 66%,#004fff 67.1%,#00b8ff 69.6%,#0ff 72.5%,#0ffff0 73.6%,#08fff7 74.6%,#3fc 76.8%,#40ffbf 78.6%,#6dff92 79.7%,#7cff83 83.6%,#97ff68 85.8%,#9dff62 88.7%,#b2ff4d 89.7%,#b3ff4c 91.5%,#d0ff2f 93%,#e2ff1d 97.7%,#faff05 98.7%,#ff0)"></i><i style="background:linear-gradient(90deg,#000080,#000080 59.2%,#000097 62.4%,#0000cd 63.5%,#0000d5 64.2%,#0000cf 65.3%,#0000de 65.6%,#0000fc 66%,#003bff 66.7%,#0093ff 68.5%,#00faff 72.1%,#0cfff3 72.8%,#0cfff3 74.6%,#2cffd3 76.1%,#36ffc9 77.9%,#43ffbc 78.6%,#6aff95 79.7%,#7bff84 83.6%,#97ff68 85.8%,#9dff62 88.7%,#b6ff49 90.5%,#b7ff48 91.9%,#c8ff37 92.6%,#caff35 93.7%,#dcff23 94.8%,#e3ff1c 97.7%,#faff05 98.7%,#feff01)"></i><i style="background:linear-gradient(90deg,#000080,#000080 59.2%,#000095 61.7%,#0000dc 63.5%,#0000d5 64.9%,#0000e7 65.6%,#0003ff 66%,#0038ff 66.7%,#006aff 67.8%,#009bff 68.5%,#00a7ff 69.6%,#00f3ff 71.8%,#03fffc 72.1%,#14ffeb 72.8%,#0bfff4 73.6%,#2affd5 76.1%,#2bffd4 77.5%,#56ffa9 79.3%,#70ff8f 81.5%,#75ff8a 83.3%,#96ff69 85.8%,#98ff67 87.6%,#baff45 90.8%,#b8ff47 91.9%,#dcff23 94.8%,#dcff23 96.2%,#fcff03)"></i><i style="background:linear-gradient(90deg,#000080,#000080 59.2%,#00008d 61.3%,#0000a7 62.1%,#0000e0 63.1%,#00d 64.9%,#0000f5 65.6%,#000dff 66%,#0038ff 66.7%,#0054ff 67.4%,#00a3ff 68.5%,#009dff 69.6%,#00f6ff 71.8%,#17ffe8 72.5%,#09fff6 73.6%,#2fd 74.6%,#26ffd9 77.5%,#4effb1 79%,#50ffaf 79.7%,#6dff92 81.5%,#7fff80 84.7%,#95ff6a 85.8%,#96ff69 87.6%,#bcff43 90.8%,#bcff43 92.6%,#d9ff26 94.8%,#faff05)"></i><i style="background:linear-gradient(90deg,#000080,#000080 61.3%,#000096 62.1%,#0000d1 63.1%,#0000e6 64.6%,#0001ff 65.3%,#0060ff 67.4%,#00abff 68.5%,#009bff 69.6%,#00f3ff 71.8%,#02fffd 72.1%,#0dfff2 72.8%,#05fffa 73.6%,#23ffdc 75%,#2cffd3 77.5%,#65ff9a 80.8%,#78ff87 84.4%,#95ff6a 85.8%,#93ff6c 87.6%,#baff45 90.8%,#fcff03)"></i><i style="background:linear-gradient(90deg,#000080,#000080 61.7%,#000083 62.1%,#0000b3 62.8%,#0000f1 64.6%,#0005ff 64.9%,#0030ff 65.6%,#004bff 66.7%,#0081ff 67.8%,#00b2ff 68.5%,#009aff 69.6%,#00faff 72.1%,#01fffe 73.6%,#26ffd9 75.4%,#40ffbf 79%,#69ff96 80.8%,#6dff92 83.6%,#79ff86 84.7%,#95ff6a 85.8%,#8fff70 87.2%,#c2ff3d 91.5%,#c7ff38 94.8%,#e7ff18 96.9%,#ff0)"></i><i style="background:linear-gradient(90deg,#000080,#000080 61.7%,#000081 62.1%,#0000bf 63.1%,#0000f1 64.6%,#0009ff 64.9%,#003aff 65.6%,#05f 66.7%,#0af 68.5%,#09f 69.6%,#00fdff 72.1%,#02fffd 73.6%,#29ffd6 75.4%,#3cffc3 78.6%,#6f9 80.8%,#6aff95 83.6%,#92ff6d 85.8%,#92ff6d 87.2%,#c5ff3a 91.9%,#cdff32 93.7%,#c6ff39 94.8%,#efff10 97.7%,#fffe00)"></i><i style="background:linear-gradient(90deg,#000080,#000080 61.7%,#000097 62.4%,#0000da 63.5%,#0000ea 64.6%,#0002ff 64.9%,#0039ff 65.6%,#0072ff 67.1%,#09f 68.5%,#0095ff 69.6%,#00fbff 71.8%,#0dfff2 72.5%,#06fff9 73.6%,#2effd1 75.4%,#4fb 78.6%,#68ff97 81.5%,#6f9 83.6%,#8dff72 85.8%,#cf3 93.3%,#cbff34 94.8%,#f0ff0f 97.7%,#fffd00)"></i><i style="background:linear-gradient(90deg,#000080,#000084 61.3%,#000097 62.4%,#0000e4 63.5%,#0000e5 64.6%,#0000fc 64.9%,#0036ff 65.6%,#006eff 66.7%,#0080ff 67.4%,#0095ff 69.6%,#00f2ff 71.4%,#03fffc 71.8%,#17ffe8 72.5%,#0bfff4 73.6%,#3fc 75.4%,#3cffc3 77.5%,#5cffa3 79.7%,#59ffa6 80.8%,#68ff97 81.8%,#61ff9e 83.3%,#7fff80 84.7%,#9aff65 86.9%,#9fff60 89%,#c9ff36 93%,#d5ff2a 95.9%,#f0ff0f 97.7%,#fffc00)"></i><i style="background:linear-gradient(90deg,#000080,#000080 58.8%,#00008e 60.6%,#00008c 62.1%,#0000a3 62.8%,#0000d2 63.5%,#0000ea 64.6%,#0002ff 64.9%,#0035ff 65.6%,#0074ff 67.1%,#0096ff 69.2%,#00feff 71.8%,#17ffe8 72.5%,#0dfff2 73.6%,#34ffcb 75.4%,#35ffca 77.5%,#54ffab 79%,#58ffa7 80.8%,#6cff93 81.8%,#69ff96 82.9%,#8bff74 85.1%,#a0ff5f 87.6%,#9dff62 89%,#c6ff39 92.6%,#dcff23 96.6%,#f3ff0c 98%,#ff0)"></i><i style="background:linear-gradient(90deg,#000080,#000080 58.8%,#000095 60.6%,#00008e 62.4%,#0000ef 64.6%,#0008ff 64.9%,#0034ff 65.6%,#0079ff 67.4%,#00a2ff 69.2%,#00e3ff 70.7%,#00faff 71.8%,#17ffe8 72.5%,#0ffff0 73.6%,#35ffca 75.4%,#2fffd0 77.5%,#52ffad 78.6%,#53ffac 80.4%,#6bff94 81.5%,#73ff8c 82.9%,#91ff6e 84.7%,#a2ff5d 87.6%,#9cff63 89%,#c6ff39 92.6%,#dcff23 96.6%,#f7ff08 98.4%,#fdff02)"></i><i style="background:linear-gradient(90deg,#000080,#000080 58.5%,#00009a 60.6%,#00008d 62.4%,#0000a1 63.1%,#00e 64.6%,#0009ff 64.9%,#0034ff 65.6%,#00a8ff 69.2%,#00e5ff 70.7%,#00fdff 71.8%,#16ffe9 72.5%,#0ffff0 73.6%,#35ffca 75.4%,#3fc 77.5%,#54ffab 78.6%,#52ffad 80.4%,#73ff8c 81.8%,#93ff6c 84.4%,#9eff61 89%,#daff25 94.8%,#dcff23 96.6%,#fbff04 98.7%,#faff05)"></i><i style="background:linear-gradient(90deg,#000080,#000080 58.5%,#0000a0 60.6%,#000093 62.8%,#0000e8 64.6%,#0006ff 64.9%,#0036ff 65.6%,#0069ff 67.4%,#00fcff 71.4%,#14ffeb 72.5%,#0ffff0 73.6%,#35ffca 75.4%,#3fffc0 77.5%,#5fa 78.6%,#51ffae 80.4%,#7f8 81.8%,#93ff6c 84.4%,#8fff70 85.8%,#a1ff5e 87.6%,#a1ff5e 89.7%,#df2 94.8%,#d4ff2b 95.9%,#f8ff07 98.7%,#f8ff07)"></i><i style="background:linear-gradient(90deg,#000080,#000080 58.5%,#0000a8 61%,#0000a6 61.7%,#000091 62.4%,#000092 62.8%,#00c 63.8%,#0000e3 64.6%,#0002ff 64.9%,#0038ff 65.6%,#0061ff 67.4%,#0092ff 68.5%,#00caff 70.3%,#00efff 71%,#05fffa 71.4%,#13ffec 71.8%,#0ffff0 73.6%,#3bffc4 75.7%,#56ffa9 78.6%,#54ffab 80.8%,#7aff85 81.8%,#93ff6c 84.4%,#89ff76 85.8%,#af5 88.7%,#9eff61 89.7%,#c3ff3c 91.9%,#dcff23 94.4%,#ceff31 95.9%,#edff12 97.7%,#f5ff0a)"></i></div>
<svg width="685" height="965" viewBox="0 0 685 965" font-family='"Liberation Sans", sans-serif' fill="#111"><style>text{stroke:#111;stroke-width:.22px}</style>
<path d="M45.9,287.7 48.7,287.7 51.5,287.7 54.4,287.7 57.2,287.7 60.0,287.7 62.8,287.7 65.7,287.8 68.5,287.8 71.3,287.8 74.1,287.8 77.0,287.8 79.8,287.8 82.6,287.8 85.4,287.7 88.2,286.9 91.1,286.7 93.9,287.4 96.7,287.7 99.5,287.7 102.4,287.7 105.2,287.7 108.0,287.7 110.8,287.7 113.7,287.7 116.5,287.7 119.3,287.7 122.1,287.7 125.0,287.7 127.8,287.7 130.6,287.7 133.4,287.7 136.2,287.7 139.1,287.7 141.9,287.7 144.7,287.7 147.5,287.7 150.4,287.6 153.2,287.6 156.0,287.6 158.8,287.6 161.7,287.6 164.5,287.6 167.3,287.6 170.1,287.6 172.9,287.6 175.8,287.6 178.6,287.6 181.4,287.6 184.2,287.6 187.1,287.6 189.9,287.6 192.7,287.6 195.5,287.6 198.4,287.6 201.2,287.6 204.0,287.6 206.8,287.1 209.6,286.4 212.5,285.6 215.3,284.5 218.1,283.2 220.9,282.0 223.8,281.0 226.6,279.4 229.4,277.3 232.2,275.1 235.1,273.2 237.9,271.5 240.7,269.8 243.5,267.7 246.3,265.6 249.2,263.5 252.0,261.1 254.8,258.6 257.6,256.1 260.5,253.8 263.3,251.6 266.1,250.3 268.9,249.1 271.8,247.8 274.6,246.4 277.4,245.0 280.2,243.6 283.1,242.2 285.9,240.8 288.7,239.4 291.5,237.9 294.3,236.5 297.2,235.1 300.0,233.7 302.8,232.5 305.6,231.6 308.5,230.2 311.3,227.4 314.1,224.1 316.9,220.8 319.8,217.9 322.6,215.0 325.4,212.2" fill="none" stroke="#c5c5c5" stroke-width="2.4" stroke-linejoin="round" stroke-linecap="round"/><path d="M45.9,287.7h0M48.7,287.7h0M51.5,287.7h0M54.4,287.7h0M57.2,287.7h0M60.0,287.7h0M62.8,287.7h0M65.7,287.8h0M68.5,287.8h0M71.3,287.8h0M74.1,287.8h0M77.0,287.8h0M79.8,287.8h0M82.6,287.8h0M85.4,287.7h0M88.2,286.9h0M91.1,286.7h0M93.9,287.4h0M96.7,287.7h0M99.5,287.7h0M102.4,287.7h0M105.2,287.7h0M108.0,287.7h0M110.8,287.7h0M113.7,287.7h0M116.5,287.7h0M119.3,287.7h0M122.1,287.7h0M125.0,287.7h0M127.8,287.7h0M130.6,287.7h0M133.4,287.7h0M136.2,287.7h0M139.1,287.7h0M141.9,287.7h0M144.7,287.7h0M147.5,287.7h0M150.4,287.6h0M153.2,287.6h0M156.0,287.6h0M158.8,287.6h0M161.7,287.6h0M164.5,287.6h0M167.3,287.6h0M170.1,287.6h0M172.9,287.6h0M175.8,287.6h0M178.6,287.6h0M181.4,287.6h0M184.2,287.6h0M187.1,287.6h0M189.9,287.6h0M192.7,287.6h0M195.5,287.6h0M198.4,287.6h0M201.2,287.6h0M204.0,287.6h0M206.8,287.1h0M209.6,286.4h0M212.5,285.6h0M215.3,284.5h0M218.1,283.2h0M220.9,282.0h0M223.8,281.0h0M226.6,279.4h0M229.4,277.3h0M232.2,275.1h0M235.1,273.2h0M237.9,271.5h0M240.7,269.8h0M243.5,267.7h0M246.3,265.6h0M249.2,263.5h0M252.0,261.1h0M254.8,258.6h0M257.6,256.1h0M260.5,253.8h0M263.3,251.6h0M266.1,250.3h0M268.9,249.1h0M271.8,247.8h0M274.6,246.4h0M277.4,245.0h0M280.2,243.6h0M283.1,242.2h0M285.9,240.8h0M288.7,239.4h0M291.5,237.9h0M294.3,236.5h0M297.2,235.1h0M300.0,233.7h0M302.8,232.5h0M305.6,231.6h0M308.5,230.2h0M311.3,227.4h0M314.1,224.1h0M316.9,220.8h0M319.8,217.9h0M322.6,215.0h0M325.4,212.2h0" fill="none" stroke="#c5c5c5" stroke-width="5.8" stroke-linecap="round"/>
<path d="M45.8,173.4 48.8,160.4 51.7,140.6 54.3,112.1 56.8,77.8 60.1,77.2 63.1,174.6 66.0,239.1 68.5,249.3 71.3,248.3 74.1,248.3 77.0,248.3 79.8,248.2 82.6,248.0 85.4,246.8 88.2,245.8 91.1,245.1 93.9,245.8 96.7,246.7 99.5,247.8 102.4,249.2 105.2,250.5 108.0,251.7 110.8,252.7 113.7,256.5 116.5,261.6 119.3,260.9 122.1,260.3 125.0,260.0 127.8,262.6 130.6,267.2 133.4,278.5 136.2,284.1 139.1,286.5 141.9,287.5 144.7,287.7 147.5,287.8 150.4,287.8 153.2,287.8 156.0,287.6 158.8,287.0 161.7,287.0 164.5,288.1 167.3,289.2 170.1,288.6 172.9,288.0 175.8,287.6 178.6,287.4 181.4,287.5 184.2,289.0 187.1,288.0 189.9,287.2 192.7,286.9 195.5,286.7 198.4,286.4 201.2,286.1 204.0,285.5 206.8,285.6 209.6,287.0 212.5,288.1 215.3,288.7 218.1,287.8 220.9,286.5 223.8,285.5 226.6,286.2 229.4,286.5 232.2,286.7 235.1,286.4 237.9,285.6 240.7,284.9 243.5,284.0 246.3,282.9 249.2,281.9 252.0,280.5 254.8,279.1 257.6,277.6 260.5,276.0 263.3,274.3 266.1,271.5 268.9,268.8 271.8,265.9 274.6,263.1 277.4,259.2 280.2,255.2 283.1,251.3 285.9,247.2 288.7,243.0 291.5,238.0 294.3,233.0 297.2,227.4 300.0,221.7 302.8,216.1 305.6,210.0 308.5,202.6 311.3,195.7 314.1,185.3 316.9,175.8 319.8,164.3 322.6,152.5 325.4,143.8" fill="none" stroke="#f4000a" stroke-width="2.4" stroke-linejoin="round" stroke-linecap="round"/><path d="M45.8,173.4h0M48.8,160.4h0M51.7,140.6h0M54.3,112.1h0M56.8,77.8h0M60.1,77.2h0M63.1,174.6h0M66.0,239.1h0M68.5,249.3h0M71.3,248.3h0M74.1,248.3h0M77.0,248.3h0M79.8,248.2h0M82.6,248.0h0M85.4,246.8h0M88.2,245.8h0M91.1,245.1h0M93.9,245.8h0M96.7,246.7h0M99.5,247.8h0M102.4,249.2h0M105.2,250.5h0M108.0,251.7h0M110.8,252.7h0M113.7,256.5h0M116.5,261.6h0M119.3,260.9h0M122.1,260.3h0M125.0,260.0h0M127.8,262.6h0M130.6,267.2h0M133.4,278.5h0M136.2,284.1h0M139.1,286.5h0M141.9,287.5h0M144.7,287.7h0M147.5,287.8h0M150.4,287.8h0M153.2,287.8h0M156.0,287.6h0M158.8,287.0h0M161.7,287.0h0M164.5,288.1h0M167.3,289.2h0M170.1,288.6h0M172.9,288.0h0M175.8,287.6h0M178.6,287.4h0M181.4,287.5h0M184.2,289.0h0M187.1,288.0h0M189.9,287.2h0M192.7,286.9h0M195.5,286.7h0M198.4,286.4h0M201.2,286.1h0M204.0,285.5h0M206.8,285.6h0M209.6,287.0h0M212.5,288.1h0M215.3,288.7h0M218.1,287.8h0M220.9,286.5h0M223.8,285.5h0M226.6,286.2h0M229.4,286.5h0M232.2,286.7h0M235.1,286.4h0M237.9,285.6h0M240.7,284.9h0M243.5,284.0h0M246.3,282.9h0M249.2,281.9h0M252.0,280.5h0M254.8,279.1h0M257.6,277.6h0M260.5,276.0h0M263.3,274.3h0M266.1,271.5h0M268.9,268.8h0M271.8,265.9h0M274.6,263.1h0M277.4,259.2h0M280.2,255.2h0M283.1,251.3h0M285.9,247.2h0M288.7,243.0h0M291.5,238.0h0M294.3,233.0h0M297.2,227.4h0M300.0,221.7h0M302.8,216.1h0M305.6,210.0h0M308.5,202.6h0M311.3,195.7h0M314.1,185.3h0M316.9,175.8h0M319.8,164.3h0M322.6,152.5h0M325.4,143.8h0" fill="none" stroke="#f4000a" stroke-width="5.0" stroke-linecap="round"/>
<rect x="45.9" y="16.4" width="279.5" height="278.6" fill="none" stroke="#2a2a2a" stroke-width="1.3"/><path d="M45.90,295.0v-3.2M45.90,16.4v3.2M115.78,295.0v-3.2M115.78,16.4v3.2M185.65,295.0v-3.2M185.65,16.4v3.2M255.53,295.0v-3.2M255.53,16.4v3.2M325.40,295.0v-3.2M325.40,16.4v3.2" stroke="#2a2a2a" stroke-width="1.1" fill="none"/>
<path d="M58.4,24.5V302.6" stroke="#000" stroke-width="2.1" stroke-dasharray="9.3 5.7" fill="none"/>
<path d="M125.0,24.5V302.6" stroke="#000" stroke-width="2.1" stroke-dasharray="9.3 5.7" fill="none"/>
<text x="37.23" y="318.8" font-size="19.5">-</text><path transform="translate(43.73,318.80) scale(0.00952,-0.00952)" d="M763 0H583V1147Q518 1085 412.5 1023Q307 961 223 930V1104Q374 1175 487 1276Q600 1377 647 1472H763Z" fill="#111" stroke="#111" stroke-width="23"/>
<text x="98.98" y="318.8" font-size="19.5">-0.5</text>
<text x="180.23" y="318.8" font-size="19.5">0</text>
<text x="241.97" y="318.8" font-size="19.5">0.5</text>
<path transform="translate(319.98,318.80) scale(0.00952,-0.00952)" d="M763 0H583V1147Q518 1085 412.5 1023Q307 961 223 930V1104Q374 1175 487 1276Q600 1377 647 1472H763Z" fill="#111" stroke="#111" stroke-width="23"/>
<text x="185.6" y="344.1" font-size="21.3" text-anchor="middle" >V (V)</text>
<text transform="translate(35.4,156.0) rotate(-90)" font-size="22.1" text-anchor="middle" >dI/dV (a.u.)</text>
<text x="12.0" y="20.7" font-size="28" text-anchor="start" >a</text>
<text x="221.0" y="64.4" font-size="26.3">V<tspan font-size="17" dy="5.3">Mo</tspan></text>
<text x="269.47" y="64.4" font-size="26.3">#</text><path transform="translate(284.09,64.40) scale(0.01284,-0.01284)" d="M763 0H583V1147Q518 1085 412.5 1023Q307 961 223 930V1104Q374 1175 487 1276Q600 1377 647 1472H763Z" fill="#111" stroke="#111" stroke-width="17"/>
<path d="M356.3,287.8 359.1,287.8 361.9,287.8 364.7,287.8 367.6,287.8 370.4,287.8 373.2,287.8 376.0,287.8 378.8,287.8 381.6,287.8 384.5,287.8 387.3,287.8 390.1,287.8 392.9,287.8 395.7,287.8 398.5,287.8 401.3,287.8 404.2,287.8 407.0,287.8 409.8,287.8 412.6,287.8 415.4,287.8 418.2,287.8 421.0,287.8 423.9,287.8 426.7,287.8 429.5,287.8 432.3,287.8 435.1,287.8 437.9,287.8 440.8,287.8 443.6,287.8 446.4,287.8 449.2,287.8 452.0,287.8 454.8,287.8 457.6,287.8 460.5,287.8 463.3,287.8 466.1,287.8 468.9,287.8 471.7,287.8 474.5,287.8 477.4,287.8 480.2,287.8 483.0,287.8 485.8,287.8 488.6,287.8 491.4,287.8 494.2,287.8 497.1,287.8 499.9,287.8 502.7,287.8 505.5,287.8 508.3,287.8 511.1,287.8 513.9,287.8 516.8,287.2 519.6,286.2 522.4,284.4 525.2,282.6 528.0,280.9 530.8,279.5 533.7,278.1 536.5,276.8 539.3,275.2 542.1,273.5 544.9,271.8 547.7,270.2 550.5,268.4 553.4,266.7 556.2,265.0 559.0,263.2 561.8,261.4 564.6,259.3 567.4,257.1 570.3,255.4 573.1,253.6 575.9,251.8 578.7,250.4 581.5,248.9 584.3,247.5 587.1,246.3 590.0,245.3 592.8,244.3 595.6,243.3 598.4,242.3 601.2,241.3 604.0,239.9 606.8,238.6 609.7,237.2 612.5,235.4 615.3,233.4 618.1,231.3 620.9,228.3 623.7,225.0 626.6,221.2 629.4,216.7 632.2,212.8 635.0,209.8" fill="none" stroke="#c5c5c5" stroke-width="2.4" stroke-linejoin="round" stroke-linecap="round"/><path d="M356.3,287.8h0M359.1,287.8h0M361.9,287.8h0M364.7,287.8h0M367.6,287.8h0M370.4,287.8h0M373.2,287.8h0M376.0,287.8h0M378.8,287.8h0M381.6,287.8h0M384.5,287.8h0M387.3,287.8h0M390.1,287.8h0M392.9,287.8h0M395.7,287.8h0M398.5,287.8h0M401.3,287.8h0M404.2,287.8h0M407.0,287.8h0M409.8,287.8h0M412.6,287.8h0M415.4,287.8h0M418.2,287.8h0M421.0,287.8h0M423.9,287.8h0M426.7,287.8h0M429.5,287.8h0M432.3,287.8h0M435.1,287.8h0M437.9,287.8h0M440.8,287.8h0M443.6,287.8h0M446.4,287.8h0M449.2,287.8h0M452.0,287.8h0M454.8,287.8h0M457.6,287.8h0M460.5,287.8h0M463.3,287.8h0M466.1,287.8h0M468.9,287.8h0M471.7,287.8h0M474.5,287.8h0M477.4,287.8h0M480.2,287.8h0M483.0,287.8h0M485.8,287.8h0M488.6,287.8h0M491.4,287.8h0M494.2,287.8h0M497.1,287.8h0M499.9,287.8h0M502.7,287.8h0M505.5,287.8h0M508.3,287.8h0M511.1,287.8h0M513.9,287.8h0M516.8,287.2h0M519.6,286.2h0M522.4,284.4h0M525.2,282.6h0M528.0,280.9h0M530.8,279.5h0M533.7,278.1h0M536.5,276.8h0M539.3,275.2h0M542.1,273.5h0M544.9,271.8h0M547.7,270.2h0M550.5,268.4h0M553.4,266.7h0M556.2,265.0h0M559.0,263.2h0M561.8,261.4h0M564.6,259.3h0M567.4,257.1h0M570.3,255.4h0M573.1,253.6h0M575.9,251.8h0M578.7,250.4h0M581.5,248.9h0M584.3,247.5h0M587.1,246.3h0M590.0,245.3h0M592.8,244.3h0M595.6,243.3h0M598.4,242.3h0M601.2,241.3h0M604.0,239.9h0M606.8,238.6h0M609.7,237.2h0M612.5,235.4h0M615.3,233.4h0M618.1,231.3h0M620.9,228.3h0M623.7,225.0h0M626.6,221.2h0M629.4,216.7h0M632.2,212.8h0M635.0,209.8h0" fill="none" stroke="#c5c5c5" stroke-width="5.8" stroke-linecap="round"/>
<path d="M356.2,118.0 358.8,110.7 361.7,118.3 364.3,130.4 367.2,139.9 370.4,139.6 373.1,126.0 375.8,106.3 378.6,73.1 381.0,44.3 384.5,35.5 387.4,93.5 389.7,188.9 392.5,219.3 395.7,220.6 398.5,217.0 401.3,215.4 404.2,216.9 407.0,218.4 409.8,220.0 412.6,224.4 415.4,227.9 418.2,231.5 421.0,234.2 423.9,233.5 426.7,237.0 429.5,242.8 432.3,251.0 435.1,258.9 437.9,263.5 440.8,262.9 443.6,260.9 446.4,260.9 449.2,261.9 452.0,265.2 454.8,277.8 457.6,286.5 460.5,288.0 463.3,285.6 466.1,285.5 468.9,286.6 471.7,287.6 474.5,287.4 477.4,287.3 480.2,287.2 483.0,287.2 485.8,287.2 488.6,287.2 491.4,287.2 494.2,287.2 497.1,287.2 499.9,287.2 502.7,286.3 505.5,285.6 508.3,286.2 511.1,286.8 513.9,287.1 516.8,287.3 519.6,287.6 522.4,287.7 525.2,287.8 528.0,287.7 530.8,287.3 533.7,286.8 536.5,286.4 539.3,286.1 542.1,285.9 544.9,285.8 547.7,285.6 550.5,285.2 553.4,284.7 556.2,284.0 559.0,283.2 561.8,282.4 564.6,281.4 567.4,280.4 570.3,279.8 573.1,279.2 575.9,278.0 578.7,274.3 581.5,272.0 584.3,269.8 587.1,267.0 590.0,263.9 592.8,260.4 595.6,255.3 598.4,249.2 601.2,242.7 604.0,236.0 606.8,227.8 609.7,220.3 612.5,213.6 615.3,204.5 618.1,195.0 620.9,185.3 623.7,174.2 626.6,166.2 629.4,155.5 632.2,144.8 635.0,131.9" fill="none" stroke="#0505f5" stroke-width="2.4" stroke-linejoin="round" stroke-linecap="round"/><path d="M356.2,118.0h0M358.8,110.7h0M361.7,118.3h0M364.3,130.4h0M367.2,139.9h0M370.4,139.6h0M373.1,126.0h0M375.8,106.3h0M378.6,73.1h0M381.0,44.3h0M384.5,35.5h0M387.4,93.5h0M389.7,188.9h0M392.5,219.3h0M395.7,220.6h0M398.5,217.0h0M401.3,215.4h0M404.2,216.9h0M407.0,218.4h0M409.8,220.0h0M412.6,224.4h0M415.4,227.9h0M418.2,231.5h0M421.0,234.2h0M423.9,233.5h0M426.7,237.0h0M429.5,242.8h0M432.3,251.0h0M435.1,258.9h0M437.9,263.5h0M440.8,262.9h0M443.6,260.9h0M446.4,260.9h0M449.2,261.9h0M452.0,265.2h0M454.8,277.8h0M457.6,286.5h0M460.5,288.0h0M463.3,285.6h0M466.1,285.5h0M468.9,286.6h0M471.7,287.6h0M474.5,287.4h0M477.4,287.3h0M480.2,287.2h0M483.0,287.2h0M485.8,287.2h0M488.6,287.2h0M491.4,287.2h0M494.2,287.2h0M497.1,287.2h0M499.9,287.2h0M502.7,286.3h0M505.5,285.6h0M508.3,286.2h0M511.1,286.8h0M513.9,287.1h0M516.8,287.3h0M519.6,287.6h0M522.4,287.7h0M525.2,287.8h0M528.0,287.7h0M530.8,287.3h0M533.7,286.8h0M536.5,286.4h0M539.3,286.1h0M542.1,285.9h0M544.9,285.8h0M547.7,285.6h0M550.5,285.2h0M553.4,284.7h0M556.2,284.0h0M559.0,283.2h0M561.8,282.4h0M564.6,281.4h0M567.4,280.4h0M570.3,279.8h0M573.1,279.2h0M575.9,278.0h0M578.7,274.3h0M581.5,272.0h0M584.3,269.8h0M587.1,267.0h0M590.0,263.9h0M592.8,260.4h0M595.6,255.3h0M598.4,249.2h0M601.2,242.7h0M604.0,236.0h0M606.8,227.8h0M609.7,220.3h0M612.5,213.6h0M615.3,204.5h0M618.1,195.0h0M620.9,185.3h0M623.7,174.2h0M626.6,166.2h0M629.4,155.5h0M632.2,144.8h0M635.0,131.9h0" fill="none" stroke="#0505f5" stroke-width="5.0" stroke-linecap="round"/>
<rect x="356.3" y="16.4" width="278.7" height="278.6" fill="none" stroke="#2a2a2a" stroke-width="1.3"/><path d="M356.30,295.0v-3.2M356.30,16.4v3.2M425.98,295.0v-3.2M425.98,16.4v3.2M495.65,295.0v-3.2M495.65,16.4v3.2M565.33,295.0v-3.2M565.33,16.4v3.2M635.00,295.0v-3.2M635.00,16.4v3.2" stroke="#2a2a2a" stroke-width="1.1" fill="none"/>
<path d="M383.3,24.5V302.6" stroke="#000" stroke-width="2.1" stroke-dasharray="9.3 5.7" fill="none"/>
<path d="M448.8,24.5V302.6" stroke="#000" stroke-width="2.1" stroke-dasharray="9.3 5.7" fill="none"/>
<text x="347.63" y="318.8" font-size="19.5">-</text><path transform="translate(354.13,318.80) scale(0.00952,-0.00952)" d="M763 0H583V1147Q518 1085 412.5 1023Q307 961 223 930V1104Q374 1175 487 1276Q600 1377 647 1472H763Z" fill="#111" stroke="#111" stroke-width="23"/>
<text x="409.18" y="318.8" font-size="19.5">-0.5</text>
<text x="490.23" y="318.8" font-size="19.5">0</text>
<text x="551.77" y="318.8" font-size="19.5">0.5</text>
<path transform="translate(629.58,318.80) scale(0.00952,-0.00952)" d="M763 0H583V1147Q518 1085 412.5 1023Q307 961 223 930V1104Q374 1175 487 1276Q600 1377 647 1472H763Z" fill="#111" stroke="#111" stroke-width="23"/>
<text x="495.6" y="344.1" font-size="21.3" text-anchor="middle" >V (V)</text>
<text transform="translate(345.8,156.0) rotate(-90)" font-size="22.1" text-anchor="middle" >dI/dV (a.u.)</text>
<text x="331.2" y="20.7" font-size="28" text-anchor="start" >b</text>
<text x="527.2" y="64.4" font-size="26.3">V<tspan font-size="17" dy="5.3">Mo</tspan></text>
<text x="575.67" y="64.4" font-size="26.3">#2</text>
<text x="38.23" y="932.8" font-size="19.5">-</text><path transform="translate(44.73,932.80) scale(0.00952,-0.00952)" d="M763 0H583V1147Q518 1085 412.5 1023Q307 961 223 930V1104Q374 1175 487 1276Q600 1377 647 1472H763Z" fill="#111" stroke="#111" stroke-width="23"/>
<text x="180.43" y="932.8" font-size="19.5">0</text>
<path transform="translate(319.38,932.80) scale(0.00952,-0.00952)" d="M763 0H583V1147Q518 1085 412.5 1023Q307 961 223 930V1104Q374 1175 487 1276Q600 1377 647 1472H763Z" fill="#111" stroke="#111" stroke-width="23"/>
<text x="185.8" y="958.6" font-size="21.3" text-anchor="middle" >V (V)</text>
<text x="30.56" y="404.9" font-size="19.5">2</text>
<path transform="translate(30.56,521.70) scale(0.00952,-0.00952)" d="M763 0H583V1147Q518 1085 412.5 1023Q307 961 223 930V1104Q374 1175 487 1276Q600 1377 647 1472H763Z" fill="#111" stroke="#111" stroke-width="23"/>
<text x="30.56" y="638.5" font-size="19.5">0</text>
<text x="24.06" y="755.3" font-size="19.5">-</text><path transform="translate(30.56,755.30) scale(0.00952,-0.00952)" d="M763 0H583V1147Q518 1085 412.5 1023Q307 961 223 930V1104Q374 1175 487 1276Q600 1377 647 1472H763Z" fill="#111" stroke="#111" stroke-width="23"/>
<text x="24.06" y="872.1" font-size="19.5">-2</text>
<text transform="translate(17.2,631.3) rotate(-90)" font-size="21.1" text-anchor="middle" >Distance (nm)</text>
<text x="12.0" y="349.9" font-size="28" text-anchor="start" >c</text>
<path d="M46.9,908.2v-3M185.9,908.2v-3M324.8,908.2v-3" stroke="#333" stroke-width=".9" fill="none" opacity=".85"/>
<path d="M58.5,355.1V514.2" stroke="#fff" stroke-width="2.1" stroke-dasharray="9 6" fill="none"/>
<path d="M52.5,505.90000000000003L58.5,515.7L64.5,505.90000000000003" stroke="#fff" stroke-width="2" fill="none" stroke-linejoin="miter"/>
<path d="M123.4,355.1V550.6" stroke="#fff" stroke-width="2.1" stroke-dasharray="9 6" fill="none"/>
<path d="M117.4,542.3000000000001L123.4,552.1L129.4,542.3000000000001" stroke="#fff" stroke-width="2" fill="none" stroke-linejoin="miter"/>
<path d="M228.2,354.9V908.2" stroke="#eef" stroke-width="1.6" stroke-dasharray="5.7 4.3" fill="none"/>
<text transform="translate(222.39999999999998,628.5) rotate(-90)" font-size="19.5" text-anchor="middle" font-weight="bold" fill="#fff" style="stroke:#fff;stroke-width:.2px">CBM</text>
<text x="345.13" y="932.8" font-size="19.5">-</text><path transform="translate(351.63,932.80) scale(0.00952,-0.00952)" d="M763 0H583V1147Q518 1085 412.5 1023Q307 961 223 930V1104Q374 1175 487 1276Q600 1377 647 1472H763Z" fill="#111" stroke="#111" stroke-width="23"/>
<text x="487.28" y="932.8" font-size="19.5">0</text>
<path transform="translate(626.18,932.80) scale(0.00952,-0.00952)" d="M763 0H583V1147Q518 1085 412.5 1023Q307 961 223 930V1104Q374 1175 487 1276Q600 1377 647 1472H763Z" fill="#111" stroke="#111" stroke-width="23"/>
<text x="492.7" y="958.6" font-size="21.3" text-anchor="middle" >V (V)</text>
<text x="337.96" y="404.9" font-size="19.5">2</text>
<path transform="translate(337.96,521.70) scale(0.00952,-0.00952)" d="M763 0H583V1147Q518 1085 412.5 1023Q307 961 223 930V1104Q374 1175 487 1276Q600 1377 647 1472H763Z" fill="#111" stroke="#111" stroke-width="23"/>
<text x="337.96" y="638.5" font-size="19.5">0</text>
<text x="331.46" y="755.3" font-size="19.5">-</text><path transform="translate(337.96,755.30) scale(0.00952,-0.00952)" d="M763 0H583V1147Q518 1085 412.5 1023Q307 961 223 930V1104Q374 1175 487 1276Q600 1377 647 1472H763Z" fill="#111" stroke="#111" stroke-width="23"/>
<rect x="328" y="745.3" width="6.1" height="8" fill="#fff"/>
<text x="331.46" y="872.1" font-size="19.5">-2</text>
<rect x="328" y="862.1" width="6.1" height="8" fill="#fff"/>
<text x="331.4" y="349.9" font-size="28" text-anchor="start" >d</text>
<path d="M353.8,908.2v-3M492.7,908.2v-3M631.6,908.2v-3" stroke="#333" stroke-width=".9" fill="none" opacity=".85"/>
<path d="M382.7,355.1V514.2" stroke="#fff" stroke-width="2.1" stroke-dasharray="9 6" fill="none"/>
<path d="M376.7,505.90000000000003L382.7,515.7L388.7,505.90000000000003" stroke="#fff" stroke-width="2" fill="none" stroke-linejoin="miter"/>
<path d="M448.0,355.1V550.6" stroke="#fff" stroke-width="2.1" stroke-dasharray="9 6" fill="none"/>
<path d="M442.0,542.3000000000001L448.0,552.1L454.0,542.3000000000001" stroke="#fff" stroke-width="2" fill="none" stroke-linejoin="miter"/>
<path d="M534.3,354.9V908.2" stroke="#eef" stroke-width="1.6" stroke-dasharray="5.7 4.3" fill="none"/>
<text transform="translate(528.5,628.5) rotate(-90)" font-size="19.5" text-anchor="middle" font-weight="bold" fill="#fff" style="stroke:#fff;stroke-width:.2px">CBM</text>
<defs><linearGradient id="jet" x1="0" y1="1" x2="0" y2="0"><stop offset="0" stop-color="#000080"/><stop offset=".125" stop-color="#0000ff"/><stop offset=".375" stop-color="#00ffff"/><stop offset=".625" stop-color="#ffff00"/><stop offset=".875" stop-color="#ff0000"/><stop offset="1" stop-color="#800000"/></linearGradient></defs>
<rect x="647" y="384.6" width="17" height="493.6" fill="url(#jet)" stroke="#2a2a2a" stroke-width=".9"/>
<text x="642.3" y="375.3" font-size="20.6" text-anchor="start" >high</text>
<text x="645.1" y="910.0" font-size="20.6" text-anchor="start" >low</text>
<text transform="translate(668.1,644.3) rotate(90)" font-size="20.9" text-anchor="middle" >log(dI/dV) (a.u.)</text>
</svg></body></html>
